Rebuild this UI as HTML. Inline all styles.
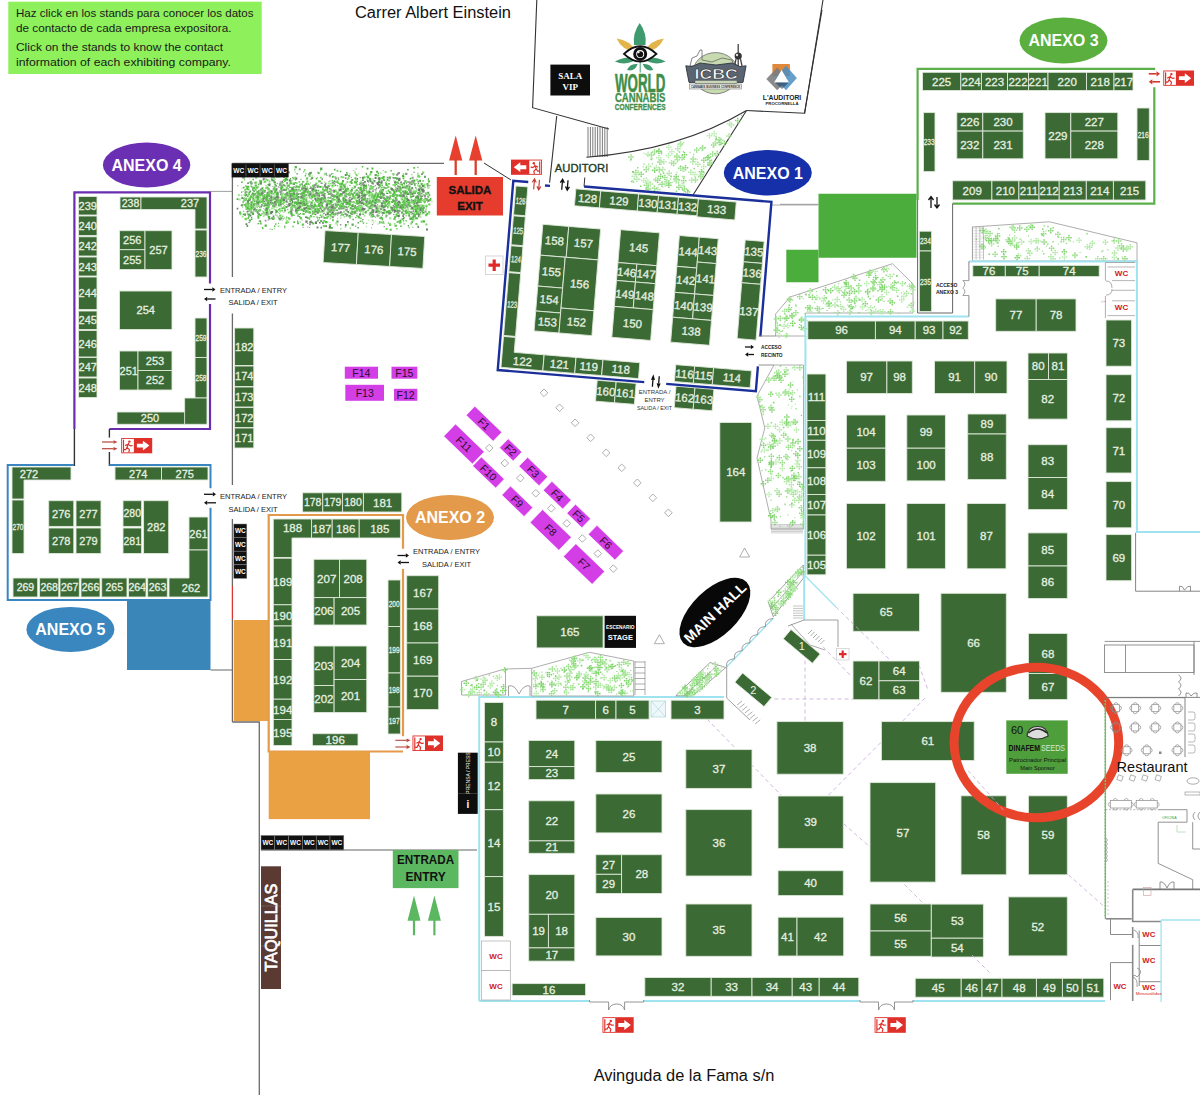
<!DOCTYPE html>
<html><head><meta charset="utf-8"><style>
html,body{margin:0;padding:0;background:#fff;width:1200px;height:1097px;overflow:hidden}
svg{display:block}
text{font-family:"Liberation Sans",sans-serif}
.n{fill:#e6f0e0;stroke:#e6f0e0;stroke-width:0.3;text-anchor:middle}
</style></head><body>
<svg width="1200" height="1097" viewBox="0 0 1200 1097">
<rect width="1200" height="1097" fill="#fff"/>
<rect x="8.3" y="1.7" width="253.4" height="72.3" fill="#8ef05a" stroke="none" stroke-width="1"/>
<text x="16.0" y="16.5" font-size="11.3" fill="#1a1a1a" text-anchor="start" font-weight="normal" textLength="237.5" lengthAdjust="spacingAndGlyphs">Haz click en los stands para conocer los datos</text>
<text x="16.0" y="31.8" font-size="11.3" fill="#1a1a1a" text-anchor="start" font-weight="normal" textLength="215.5" lengthAdjust="spacingAndGlyphs">de contacto de cada empresa expositora.</text>
<text x="16.0" y="51.0" font-size="11.3" fill="#1a1a1a" text-anchor="start" font-weight="normal" textLength="207" lengthAdjust="spacingAndGlyphs">Click on the stands to know the contact</text>
<text x="16.0" y="66.2" font-size="11.3" fill="#1a1a1a" text-anchor="start" font-weight="normal" textLength="215" lengthAdjust="spacingAndGlyphs">information of each exhibiting company.</text>
<text x="433.0" y="17.5" font-size="16" fill="#111" text-anchor="middle" font-weight="normal" textLength="156" lengthAdjust="spacingAndGlyphs">Carrer Albert Einstein</text>
<text x="684.0" y="1080.5" font-size="16" fill="#111" text-anchor="middle" font-weight="normal" textLength="180.7" lengthAdjust="spacingAndGlyphs">Avinguda de la Fama s/n</text>
<g><ellipse cx="146.6" cy="165" rx="43.7" ry="22.5" fill="#6b2fb3"/>
<text x="146.6" y="170.8" font-size="16" fill="#fff" text-anchor="middle" font-weight="bold">ANEXO 4</text></g>
<polyline points="74.4,429.0 74.4,192.4 210.0,192.4 210.0,283.5" fill="none" stroke="#6a2db0" stroke-width="2.2"/>
<polyline points="210.0,304.0 210.0,429.0 109.4,429.0" fill="none" stroke="#6a2db0" stroke-width="2.2"/>
<line x1="74.4" y1="429.0" x2="74.4" y2="466.0" stroke="#333" stroke-width="1.4"/>
<line x1="109.4" y1="429.0" x2="109.4" y2="437.6" stroke="#333" stroke-width="1.4"/>
<line x1="109.4" y1="452.0" x2="109.4" y2="466.0" stroke="#333" stroke-width="1.4"/>
<rect x="78.5" y="196.5" width="18.5" height="18.5" fill="#3b6a35" stroke="#dfe8da" stroke-width="0.9"/>
<text class="n" x="87.8" y="209.7" font-size="11">239</text>
<rect x="78.5" y="216.0" width="18.5" height="19.5" fill="#3b6a35" stroke="#dfe8da" stroke-width="0.9"/>
<text class="n" x="87.8" y="229.7" font-size="11">240</text>
<rect x="78.5" y="236.8" width="18.5" height="19.2" fill="#3b6a35" stroke="#dfe8da" stroke-width="0.9"/>
<text class="n" x="87.8" y="250.4" font-size="11">242</text>
<rect x="78.5" y="257.0" width="18.5" height="19.0" fill="#3b6a35" stroke="#dfe8da" stroke-width="0.9"/>
<text class="n" x="87.8" y="270.5" font-size="11">243</text>
<rect x="78.5" y="277.0" width="18.5" height="32.5" fill="#3b6a35" stroke="#dfe8da" stroke-width="0.9"/>
<text class="n" x="87.8" y="297.2" font-size="11">244</text>
<rect x="78.5" y="311.0" width="18.5" height="18.5" fill="#3b6a35" stroke="#dfe8da" stroke-width="0.9"/>
<text class="n" x="87.8" y="324.2" font-size="11">245</text>
<rect x="78.5" y="330.5" width="18.5" height="26.5" fill="#3b6a35" stroke="#dfe8da" stroke-width="0.9"/>
<text class="n" x="87.8" y="347.7" font-size="11">246</text>
<rect x="78.5" y="357.5" width="18.5" height="19.5" fill="#3b6a35" stroke="#dfe8da" stroke-width="0.9"/>
<text class="n" x="87.8" y="371.2" font-size="11">247</text>
<rect x="78.5" y="378.0" width="18.5" height="19.5" fill="#3b6a35" stroke="#dfe8da" stroke-width="0.9"/>
<text class="n" x="87.8" y="391.7" font-size="11">248</text>
<rect x="120.0" y="197.0" width="21.0" height="12.5" fill="#3b6a35" stroke="#dfe8da" stroke-width="0.9"/>
<text class="n" x="130.5" y="207.0" font-size="10.5">238</text>
<polygon points="141.0,197.0 207.0,197.0 207.0,229.0 195.0,229.0 195.0,209.5 141.0,209.5" fill="#3b6a35" stroke="#dfe8da" stroke-width="0.9"/>
<text class="n" x="190" y="207.3" font-size="11">237</text>
<rect x="195.0" y="230.0" width="12.0" height="47.0" fill="#3b6a35" stroke="#dfe8da" stroke-width="0.9"/>
<text class="n" x="201.0" y="256.6" font-size="8.5" textLength="11" lengthAdjust="spacingAndGlyphs">236</text>
<rect x="119.5" y="230.7" width="25.5" height="19.0" fill="#3b6a35" stroke="#dfe8da" stroke-width="0.9"/>
<text class="n" x="132.2" y="244.2" font-size="11">256</text>
<rect x="119.5" y="249.7" width="25.5" height="19.8" fill="#3b6a35" stroke="#dfe8da" stroke-width="0.9"/>
<text class="n" x="132.2" y="263.6" font-size="11">255</text>
<rect x="145.0" y="230.7" width="27.0" height="38.8" fill="#3b6a35" stroke="#dfe8da" stroke-width="0.9"/>
<text class="n" x="158.5" y="254.1" font-size="11">257</text>
<rect x="119.5" y="291.0" width="52.5" height="38.5" fill="#3b6a35" stroke="#dfe8da" stroke-width="0.9"/>
<text class="n" x="145.8" y="314.2" font-size="11">254</text>
<rect x="119.5" y="351.0" width="18.5" height="39.0" fill="#3b6a35" stroke="#dfe8da" stroke-width="0.9"/>
<text class="n" x="128.8" y="374.5" font-size="11">251</text>
<rect x="138.0" y="351.0" width="34.0" height="19.5" fill="#3b6a35" stroke="#dfe8da" stroke-width="0.9"/>
<text class="n" x="155.0" y="364.7" font-size="11">253</text>
<rect x="138.0" y="370.5" width="34.0" height="19.5" fill="#3b6a35" stroke="#dfe8da" stroke-width="0.9"/>
<text class="n" x="155.0" y="384.2" font-size="11">252</text>
<rect x="195.0" y="318.0" width="12.0" height="39.5" fill="#3b6a35" stroke="#dfe8da" stroke-width="0.9"/>
<text class="n" x="201.0" y="340.8" font-size="8.5" textLength="11" lengthAdjust="spacingAndGlyphs">259</text>
<rect x="195.0" y="357.5" width="12.0" height="40.5" fill="#3b6a35" stroke="#dfe8da" stroke-width="0.9"/>
<text class="n" x="201.0" y="380.8" font-size="8.5" textLength="11" lengthAdjust="spacingAndGlyphs">258</text>
<polygon points="117.0,412.0 184.6,412.0 184.6,398.0 207.0,398.0 207.0,424.3 117.0,424.3" fill="#3b6a35" stroke="#dfe8da" stroke-width="0.9"/>
<line x1="184.6" y1="412.0" x2="184.6" y2="424.3" stroke="#dfe8da" stroke-width="0.9"/>
<text class="n" x="150" y="422" font-size="11">250</text>
<path d="M204.0 289.5H212.3" stroke="#111" stroke-width="1.3"/><path d="M215.5 289.5L212.3 287.2L212.3 291.8Z" fill="#111"/>
<path d="M215.5 299.0H207.2" stroke="#111" stroke-width="1.3"/><path d="M204.0 299.0L207.2 296.7L207.2 301.3Z" fill="#111"/>
<text x="220.0" y="293.0" font-size="7.5" fill="#222" text-anchor="start" font-weight="normal">ENTRADA / ENTRY</text>
<text x="228.5" y="305.0" font-size="7.5" fill="#222" text-anchor="start" font-weight="normal">SALIDA / EXIT</text>
<rect x="234.6" y="328.0" width="19.2" height="37.5" fill="#3b6a35" stroke="#dfe8da" stroke-width="0.9"/>
<text class="n" x="244.2" y="350.7" font-size="11">182</text>
<rect x="234.6" y="366.0" width="19.2" height="20.5" fill="#3b6a35" stroke="#dfe8da" stroke-width="0.9"/>
<text class="n" x="244.2" y="380.2" font-size="11">174</text>
<rect x="234.6" y="387.0" width="19.2" height="20.0" fill="#3b6a35" stroke="#dfe8da" stroke-width="0.9"/>
<text class="n" x="244.2" y="401.0" font-size="11">173</text>
<rect x="234.6" y="407.6" width="19.2" height="19.9" fill="#3b6a35" stroke="#dfe8da" stroke-width="0.9"/>
<text class="n" x="244.2" y="421.5" font-size="11">172</text>
<rect x="234.6" y="428.0" width="19.2" height="20.0" fill="#3b6a35" stroke="#dfe8da" stroke-width="0.9"/>
<text class="n" x="244.2" y="442.0" font-size="11">171</text>
<rect x="121.2" y="438.0" width="31.0" height="15.3" fill="#e0302a" stroke="none" stroke-width="1"/>
<rect x="122.1" y="438.9" width="11.8" height="13.5" fill="#fff" stroke="none" stroke-width="1"/>
<path d="M123.5 440.2L123.5 451.7M128.6 443.2L127.0 447.3L129.4 449.7L128.9 452.0M127.0 447.3L125.6 449.7L123.9 449.7M128.0 444.3L125.6 445.4M128.0 444.3L130.6 445.9L132.1 445.6" stroke="#e0302a" stroke-width="1.2" fill="none" stroke-linecap="round"/>
<circle cx="129.4" cy="441.6" r="1.2" fill="#e0302a"/>
<path d="M136.9 443.7H142.9V440.8L149.4 445.6L142.9 450.5V447.6H136.9Z" fill="#fff"/>
<path d="M102.0 442.0H113.5" stroke="#b8453a" stroke-width="1.2"/><path d="M117.5 442.0L113.5 440.2L113.5 443.8Z" fill="#b8453a"/>
<path d="M102.0 448.7H113.5" stroke="#b8453a" stroke-width="1.2"/><path d="M117.5 448.7L113.5 446.9L113.5 450.5Z" fill="#b8453a"/>
<polyline points="74.0,465.0 7.7,465.0 7.7,600.0 210.5,600.0 210.5,507.7" fill="none" stroke="#3a86c0" stroke-width="2"/>
<polyline points="109.4,465.0 210.5,465.0 210.5,488.3" fill="none" stroke="#3a86c0" stroke-width="2"/>
<polygon points="12.0,467.0 71.0,467.0 71.0,480.0 24.0,480.0 24.0,499.0 12.0,499.0" fill="#3b6a35" stroke="#dfe8da" stroke-width="0.9"/>
<text class="n" x="29" y="477.5" font-size="11">272</text>
<rect x="12.0" y="500.0" width="12.0" height="53.5" fill="#3b6a35" stroke="#dfe8da" stroke-width="0.9"/>
<text class="n" x="18.0" y="529.8" font-size="8.5" textLength="11" lengthAdjust="spacingAndGlyphs">270</text>
<rect x="115.0" y="467.0" width="46.5" height="13.0" fill="#3b6a35" stroke="#dfe8da" stroke-width="0.9"/>
<text class="n" x="138.2" y="477.5" font-size="11">274</text>
<rect x="161.5" y="467.0" width="46.5" height="13.0" fill="#3b6a35" stroke="#dfe8da" stroke-width="0.9"/>
<text class="n" x="184.8" y="477.5" font-size="11">275</text>
<rect x="48.7" y="500.7" width="25.1" height="25.7" fill="#3b6a35" stroke="#dfe8da" stroke-width="0.9"/>
<text class="n" x="61.2" y="517.5" font-size="11">276</text>
<rect x="76.0" y="500.7" width="25.0" height="25.7" fill="#3b6a35" stroke="#dfe8da" stroke-width="0.9"/>
<text class="n" x="88.5" y="517.5" font-size="11">277</text>
<rect x="48.7" y="528.0" width="25.1" height="25.5" fill="#3b6a35" stroke="#dfe8da" stroke-width="0.9"/>
<text class="n" x="61.2" y="544.7" font-size="11">278</text>
<rect x="76.0" y="528.0" width="25.0" height="25.5" fill="#3b6a35" stroke="#dfe8da" stroke-width="0.9"/>
<text class="n" x="88.5" y="544.7" font-size="11">279</text>
<rect x="123.0" y="500.7" width="18.6" height="25.7" fill="#3b6a35" stroke="#dfe8da" stroke-width="0.9"/>
<text class="n" x="132.3" y="517.3" font-size="10.5">280</text>
<rect x="123.0" y="528.0" width="18.6" height="25.5" fill="#3b6a35" stroke="#dfe8da" stroke-width="0.9"/>
<text class="n" x="132.3" y="544.5" font-size="10.5">281</text>
<rect x="143.6" y="500.7" width="25.1" height="52.8" fill="#3b6a35" stroke="#dfe8da" stroke-width="0.9"/>
<text class="n" x="156.2" y="531.1" font-size="11">282</text>
<rect x="189.0" y="517.0" width="19.0" height="33.0" fill="#3b6a35" stroke="#dfe8da" stroke-width="0.9"/>
<text class="n" x="198.5" y="537.5" font-size="11">261</text>
<polygon points="189.0,550.0 208.0,550.0 208.0,597.0 169.0,597.0 169.0,578.0 189.0,578.0" fill="#3b6a35" stroke="#dfe8da" stroke-width="0.9"/>
<text class="n" x="191" y="592" font-size="11">262</text>
<rect x="13.0" y="578.0" width="24.7" height="19.0" fill="#3b6a35" stroke="#dfe8da" stroke-width="0.9"/>
<text class="n" x="25.4" y="591.3" font-size="10.5">269</text>
<rect x="39.6" y="578.0" width="19.2" height="19.0" fill="#3b6a35" stroke="#dfe8da" stroke-width="0.9"/>
<text class="n" x="49.2" y="591.3" font-size="10.5">268</text>
<rect x="60.0" y="578.0" width="19.3" height="19.0" fill="#3b6a35" stroke="#dfe8da" stroke-width="0.9"/>
<text class="n" x="69.7" y="591.3" font-size="10.5">267</text>
<rect x="81.0" y="578.0" width="19.0" height="19.0" fill="#3b6a35" stroke="#dfe8da" stroke-width="0.9"/>
<text class="n" x="90.5" y="591.3" font-size="10.5">266</text>
<rect x="101.7" y="578.0" width="25.3" height="19.0" fill="#3b6a35" stroke="#dfe8da" stroke-width="0.9"/>
<text class="n" x="114.3" y="591.3" font-size="10.5">265</text>
<rect x="128.5" y="578.0" width="17.5" height="19.0" fill="#3b6a35" stroke="#dfe8da" stroke-width="0.9"/>
<text class="n" x="137.2" y="591.3" font-size="10.5">264</text>
<rect x="147.7" y="578.0" width="19.6" height="19.0" fill="#3b6a35" stroke="#dfe8da" stroke-width="0.9"/>
<text class="n" x="157.5" y="591.3" font-size="10.5">263</text>
<path d="M204.0 494.3H212.8" stroke="#111" stroke-width="1.3"/><path d="M216.0 494.3L212.8 492.0L212.8 496.6Z" fill="#111"/>
<path d="M216.0 502.8H207.2" stroke="#111" stroke-width="1.3"/><path d="M204.0 502.8L207.2 500.5L207.2 505.1Z" fill="#111"/>
<text x="220.0" y="499.0" font-size="7.5" fill="#222" text-anchor="start" font-weight="normal">ENTRADA / ENTRY</text>
<text x="228.5" y="511.5" font-size="7.5" fill="#222" text-anchor="start" font-weight="normal">SALIDA / EXIT</text>
<rect x="127.0" y="600.0" width="83.5" height="70.0" fill="#3a86b8" stroke="none" stroke-width="1"/>
<g><ellipse cx="70.4" cy="629.4" rx="44" ry="22.5" fill="#3a86bf"/>
<text x="70.4" y="635.2" font-size="16" fill="#fff" text-anchor="middle" font-weight="bold">ANEXO 5</text></g>
<line x1="210.5" y1="670.0" x2="232.5" y2="670.0" stroke="#666" stroke-width="1"/>
<line x1="232.4" y1="163.3" x2="444.0" y2="163.3" stroke="#6a6a6a" stroke-width="1.3"/>
<line x1="232.4" y1="163.3" x2="232.4" y2="277.0" stroke="#6a6a6a" stroke-width="1.3"/>
<line x1="232.4" y1="313.5" x2="232.4" y2="485.0" stroke="#6a6a6a" stroke-width="1.3"/>
<line x1="232.4" y1="519.0" x2="232.4" y2="586.0" stroke="#6a6a6a" stroke-width="1.3"/>
<line x1="232.4" y1="586.0" x2="232.4" y2="619.0" stroke="#d33" stroke-width="1.3"/>
<line x1="232.4" y1="619.0" x2="232.4" y2="722.0" stroke="#6a6a6a" stroke-width="1.3"/>
<polyline points="232.4,722.0 259.3,722.0 259.3,1095.0" fill="none" stroke="#6a6a6a" stroke-width="1.3"/>
<line x1="210.0" y1="191.4" x2="232.4" y2="191.4" stroke="#888" stroke-width="0.8"/>
<path fill="#58a858" d="M268.3 191.4h2.1v2.1h-2.1zM417.9 182.8h1.1v1.1h-1.1zM366.4 202.6h2.1v2.1h-2.1zM311.8 203.5h0.9v0.9h-0.9zM382.2 213.5h1.0v1.0h-1.0zM263.4 181.9h0.9v0.9h-0.9zM408.8 187.4h1.3v1.3h-1.3zM250.9 218.5h1.6v1.6h-1.6zM421.6 208.2h1.6v1.6h-1.6zM334.2 214.6h1.2v1.2h-1.2zM397.5 209.7h2.1v2.1h-2.1zM333.5 182.7h1.6v1.6h-1.6zM308.2 173.2h2.0v2.0h-2.0zM312.5 189.1h2.2v2.2h-2.2zM397.3 204.2h2.0v2.0h-2.0zM388.4 205.0h1.2v1.2h-1.2zM360.6 190.3h1.8v1.8h-1.8zM322.1 200.7h2.1v2.1h-2.1zM370.7 207.7h1.0v1.0h-1.0zM315.2 189.4h1.2v1.2h-1.2zM258.0 213.2h2.2v2.2h-2.2zM387.6 199.7h1.2v1.2h-1.2zM252.4 178.7h1.5v1.5h-1.5zM371.8 199.7h2.3v2.3h-2.3zM408.6 190.1h1.0v1.0h-1.0zM351.6 179.1h1.6v1.6h-1.6zM264.6 209.3h1.1v1.1h-1.1zM325.4 186.3h2.0v2.0h-2.0zM400.8 193.0h0.9v0.9h-0.9zM357.1 201.5h1.2v1.2h-1.2zM392.3 194.1h1.9v1.9h-1.9zM329.0 200.0h2.3v2.3h-2.3zM366.4 199.5h1.9v1.9h-1.9zM307.8 191.5h1.3v1.3h-1.3zM336.4 220.6h2.1v2.1h-2.1zM275.9 186.2h0.9v0.9h-0.9zM330.7 212.0h2.1v2.1h-2.1zM272.2 205.0h2.2v2.2h-2.2zM353.6 192.1h1.7v1.7h-1.7zM392.5 177.0h1.4v1.4h-1.4zM294.8 196.9h0.9v0.9h-0.9zM378.0 180.8h2.2v2.2h-2.2zM398.0 201.0h1.1v1.1h-1.1zM267.9 170.5h1.2v1.2h-1.2zM415.0 197.0h1.6v1.6h-1.6zM265.6 203.5h2.3v2.3h-2.3zM402.5 191.3h1.2v1.2h-1.2zM321.6 178.4h1.5v1.5h-1.5zM411.4 192.3h1.4v1.4h-1.4zM411.2 211.3h1.4v1.4h-1.4zM247.7 209.6h2.2v2.2h-2.2zM381.8 189.0h2.3v2.3h-2.3zM408.2 210.7h1.7v1.7h-1.7zM271.3 179.1h2.2v2.2h-2.2zM393.4 177.2h1.6v1.6h-1.6zM348.3 202.6h2.0v2.0h-2.0zM424.4 197.6h1.7v1.7h-1.7zM289.1 195.3h1.1v1.1h-1.1zM349.3 193.6h1.3v1.3h-1.3zM372.3 195.0h1.7v1.7h-1.7zM280.2 204.2h1.3v1.3h-1.3zM346.1 172.0h1.5v1.5h-1.5zM285.2 193.0h2.3v2.3h-2.3zM333.2 196.0h2.1v2.1h-2.1zM251.9 211.9h1.8v1.8h-1.8zM276.8 183.1h1.0v1.0h-1.0zM309.7 204.9h2.1v2.1h-2.1zM266.4 205.3h1.1v1.1h-1.1zM307.7 206.7h1.5v1.5h-1.5zM244.9 194.9h1.1v1.1h-1.1zM284.1 209.4h2.0v2.0h-2.0zM418.2 207.0h1.8v1.8h-1.8zM419.9 207.3h2.2v2.2h-2.2zM340.0 205.2h2.2v2.2h-2.2zM344.9 224.1h1.9v1.9h-1.9zM273.3 202.7h1.9v1.9h-1.9zM377.7 212.7h1.0v1.0h-1.0zM411.5 187.1h1.7v1.7h-1.7zM380.6 177.2h1.6v1.6h-1.6zM342.9 183.9h2.2v2.2h-2.2zM275.5 210.6h2.2v2.2h-2.2zM312.1 210.4h2.0v2.0h-2.0zM404.6 186.8h2.1v2.1h-2.1zM313.9 189.3h2.2v2.2h-2.2zM420.0 200.9h1.9v1.9h-1.9zM371.5 210.5h2.1v2.1h-2.1zM260.1 190.6h1.2v1.2h-1.2zM253.5 190.7h1.4v1.4h-1.4zM415.9 188.6h1.0v1.0h-1.0zM246.9 200.2h2.1v2.1h-2.1zM290.5 212.8h2.2v2.2h-2.2zM428.2 178.0h1.0v1.0h-1.0zM331.5 198.2h2.2v2.2h-2.2zM381.6 184.6h1.3v1.3h-1.3zM344.8 188.9h2.2v2.2h-2.2zM338.5 200.4h2.0v2.0h-2.0zM276.3 176.6h1.2v1.2h-1.2zM357.5 221.9h1.5v1.5h-1.5zM409.7 203.7h1.0v1.0h-1.0zM419.5 196.2h1.1v1.1h-1.1zM277.0 196.7h1.4v1.4h-1.4zM262.3 192.0h1.7v1.7h-1.7zM253.6 200.2h1.9v1.9h-1.9zM409.6 178.0h1.6v1.6h-1.6zM375.3 202.0h1.4v1.4h-1.4zM361.1 194.9h1.0v1.0h-1.0zM297.7 196.0h2.0v2.0h-2.0zM329.6 197.1h1.6v1.6h-1.6zM389.9 197.6h1.3v1.3h-1.3zM374.6 173.9h2.3v2.3h-2.3zM241.3 197.0h1.9v1.9h-1.9zM252.9 196.3h1.3v1.3h-1.3zM336.6 212.4h2.1v2.1h-2.1zM364.3 199.4h1.7v1.7h-1.7zM385.2 204.6h2.3v2.3h-2.3zM287.3 168.5h1.0v1.0h-1.0zM296.8 200.2h2.1v2.1h-2.1zM296.5 197.8h2.0v2.0h-2.0zM350.4 180.7h1.5v1.5h-1.5zM402.1 175.2h2.1v2.1h-2.1zM249.5 181.3h1.5v1.5h-1.5zM368.5 207.3h1.6v1.6h-1.6zM320.4 226.8h1.6v1.6h-1.6zM392.5 195.2h2.1v2.1h-2.1zM409.7 178.0h1.2v1.2h-1.2zM369.8 185.2h2.0v2.0h-2.0zM375.3 202.7h1.2v1.2h-1.2zM289.2 193.0h2.3v2.3h-2.3zM327.6 208.2h1.7v1.7h-1.7zM284.1 225.7h1.3v1.3h-1.3zM257.6 197.0h1.0v1.0h-1.0zM361.2 184.8h1.2v1.2h-1.2zM395.2 198.9h2.0v2.0h-2.0zM358.3 193.3h1.2v1.2h-1.2zM374.2 200.5h1.1v1.1h-1.1zM318.8 203.2h1.2v1.2h-1.2zM281.9 193.0h1.7v1.7h-1.7zM410.9 213.3h0.9v0.9h-0.9zM348.5 215.0h2.3v2.3h-2.3zM250.2 214.5h1.2v1.2h-1.2zM387.2 197.9h1.1v1.1h-1.1zM287.9 188.6h1.0v1.0h-1.0zM247.2 201.8h1.1v1.1h-1.1zM423.3 220.2h0.9v0.9h-0.9zM413.4 220.5h1.1v1.1h-1.1zM371.5 213.8h2.1v2.1h-2.1zM404.4 191.5h1.6v1.6h-1.6zM286.1 194.9h1.4v1.4h-1.4zM423.8 195.0h2.1v2.1h-2.1zM413.4 190.5h1.1v1.1h-1.1zM316.7 201.9h1.1v1.1h-1.1zM412.2 195.3h0.9v0.9h-0.9zM276.8 196.2h1.5v1.5h-1.5zM412.7 216.7h1.8v1.8h-1.8zM248.6 213.8h1.1v1.1h-1.1zM348.8 193.5h2.3v2.3h-2.3zM279.8 191.2h1.1v1.1h-1.1zM260.4 214.6h1.2v1.2h-1.2zM403.7 216.9h1.3v1.3h-1.3zM280.7 197.5h1.6v1.6h-1.6zM290.9 199.1h1.4v1.4h-1.4zM299.7 185.3h1.0v1.0h-1.0zM424.7 199.0h1.5v1.5h-1.5zM239.0 211.7h1.8v1.8h-1.8zM418.8 179.7h2.2v2.2h-2.2zM276.1 201.9h1.1v1.1h-1.1zM247.4 202.9h1.8v1.8h-1.8zM400.1 219.5h1.4v1.4h-1.4zM268.9 189.6h1.3v1.3h-1.3zM338.5 208.1h1.5v1.5h-1.5zM269.6 228.6h0.9v0.9h-0.9zM308.2 208.0h1.9v1.9h-1.9zM411.7 216.6h2.3v2.3h-2.3zM365.7 210.7h1.3v1.3h-1.3zM268.1 218.4h1.2v1.2h-1.2zM395.9 214.7h2.1v2.1h-2.1zM264.6 197.5h1.1v1.1h-1.1zM424.0 175.8h2.0v2.0h-2.0zM402.2 190.5h1.9v1.9h-1.9zM368.1 191.6h1.7v1.7h-1.7zM253.3 190.2h1.3v1.3h-1.3zM262.5 189.5h1.5v1.5h-1.5zM247.0 201.0h1.7v1.7h-1.7zM287.7 191.4h2.0v2.0h-2.0zM297.3 215.2h1.6v1.6h-1.6zM243.8 213.6h2.2v2.2h-2.2zM292.4 189.8h1.0v1.0h-1.0zM336.5 194.9h1.5v1.5h-1.5zM271.0 202.4h1.8v1.8h-1.8zM363.9 195.3h2.1v2.1h-2.1zM398.4 194.4h2.2v2.2h-2.2zM287.3 192.8h1.2v1.2h-1.2zM244.6 198.3h2.1v2.1h-2.1zM274.0 190.5h1.6v1.6h-1.6zM314.8 187.2h1.1v1.1h-1.1zM279.0 190.5h1.0v1.0h-1.0zM296.7 209.1h2.2v2.2h-2.2zM408.8 200.0h1.5v1.5h-1.5zM407.7 225.1h1.3v1.3h-1.3zM350.9 179.6h0.9v0.9h-0.9zM273.3 188.4h1.8v1.8h-1.8zM295.6 188.8h1.9v1.9h-1.9zM394.8 188.9h1.1v1.1h-1.1zM342.1 180.0h1.9v1.9h-1.9zM300.8 192.5h1.9v1.9h-1.9zM263.7 191.2h1.5v1.5h-1.5zM373.1 215.4h1.7v1.7h-1.7zM362.8 190.1h1.4v1.4h-1.4zM312.8 207.4h1.4v1.4h-1.4zM273.7 181.4h2.2v2.2h-2.2zM276.9 192.3h1.5v1.5h-1.5zM278.9 204.6h1.2v1.2h-1.2zM285.9 216.6h1.3v1.3h-1.3zM270.8 178.5h1.3v1.3h-1.3zM303.4 207.4h1.7v1.7h-1.7zM361.6 209.2h2.1v2.1h-2.1zM370.2 201.6h1.8v1.8h-1.8zM365.9 200.7h1.9v1.9h-1.9zM282.5 189.5h1.5v1.5h-1.5zM379.5 191.3h1.8v1.8h-1.8zM286.5 194.2h2.0v2.0h-2.0zM274.9 188.7h2.3v2.3h-2.3zM267.3 213.1h1.0v1.0h-1.0zM387.3 197.1h1.2v1.2h-1.2zM388.9 191.5h1.2v1.2h-1.2zM310.0 215.1h1.4v1.4h-1.4zM275.7 196.4h1.0v1.0h-1.0zM266.8 179.5h1.5v1.5h-1.5zM244.5 198.7h1.4v1.4h-1.4zM388.1 205.2h1.4v1.4h-1.4zM381.2 186.8h1.3v1.3h-1.3zM383.8 205.3h2.2v2.2h-2.2zM355.8 201.3h2.0v2.0h-2.0zM322.6 201.4h1.2v1.2h-1.2zM414.0 184.8h1.3v1.3h-1.3zM342.3 191.6h1.8v1.8h-1.8zM313.9 205.4h1.9v1.9h-1.9zM270.9 196.8h1.7v1.7h-1.7zM329.7 204.6h1.0v1.0h-1.0zM242.5 201.3h1.5v1.5h-1.5zM366.9 180.1h1.9v1.9h-1.9zM329.0 191.0h1.3v1.3h-1.3zM416.1 199.6h1.7v1.7h-1.7zM308.4 211.3h2.2v2.2h-2.2zM400.7 196.1h2.3v2.3h-2.3zM279.0 183.5h2.2v2.2h-2.2zM308.3 194.8h1.3v1.3h-1.3zM320.2 220.0h1.9v1.9h-1.9zM382.7 221.2h1.5v1.5h-1.5zM282.4 203.0h1.2v1.2h-1.2zM340.9 195.3h0.9v0.9h-0.9zM318.5 219.2h1.0v1.0h-1.0zM293.9 195.1h1.0v1.0h-1.0zM303.1 200.0h0.9v0.9h-0.9zM308.8 175.3h1.8v1.8h-1.8zM351.5 223.5h2.2v2.2h-2.2zM377.6 172.6h1.5v1.5h-1.5zM290.8 206.9h1.3v1.3h-1.3zM332.7 204.3h1.2v1.2h-1.2zM327.6 211.4h1.6v1.6h-1.6zM333.4 180.2h1.9v1.9h-1.9zM249.4 190.6h1.7v1.7h-1.7zM288.0 217.9h1.2v1.2h-1.2zM244.0 199.3h1.6v1.6h-1.6zM304.8 195.4h1.0v1.0h-1.0zM250.3 205.2h1.4v1.4h-1.4zM414.8 208.7h1.2v1.2h-1.2zM326.8 211.9h1.7v1.7h-1.7zM375.1 189.2h1.1v1.1h-1.1zM246.4 206.7h2.2v2.2h-2.2zM265.6 172.3h1.7v1.7h-1.7zM378.5 178.4h2.1v2.1h-2.1zM269.5 210.9h0.9v0.9h-0.9zM302.1 187.1h1.0v1.0h-1.0zM341.1 202.5h1.8v1.8h-1.8zM372.7 197.2h2.0v2.0h-2.0zM254.4 192.7h1.0v1.0h-1.0zM343.6 200.2h2.0v2.0h-2.0zM370.7 201.2h1.1v1.1h-1.1zM354.3 210.5h1.7v1.7h-1.7zM412.3 226.8h1.0v1.0h-1.0zM373.6 201.7h2.0v2.0h-2.0zM418.2 207.8h1.3v1.3h-1.3zM316.8 197.6h1.5v1.5h-1.5zM383.8 202.1h2.0v2.0h-2.0zM345.3 200.3h2.3v2.3h-2.3zM352.4 218.7h1.5v1.5h-1.5zM403.0 209.9h1.4v1.4h-1.4zM259.3 206.9h1.1v1.1h-1.1zM348.8 192.3h1.3v1.3h-1.3zM268.4 203.8h2.0v2.0h-2.0zM369.5 206.1h1.2v1.2h-1.2zM398.5 185.9h2.3v2.3h-2.3zM278.1 203.8h1.6v1.6h-1.6zM361.7 192.9h1.9v1.9h-1.9zM257.1 191.2h2.0v2.0h-2.0zM282.8 184.2h1.3v1.3h-1.3zM333.6 208.7h2.3v2.3h-2.3zM399.5 191.5h1.4v1.4h-1.4zM279.5 186.8h1.1v1.1h-1.1zM418.2 194.4h1.0v1.0h-1.0zM427.1 191.8h2.1v2.1h-2.1zM282.5 181.8h1.1v1.1h-1.1zM317.1 177.2h0.9v0.9h-0.9zM243.1 176.6h1.8v1.8h-1.8zM320.1 167.6h2.3v2.3h-2.3zM411.3 221.2h1.7v1.7h-1.7zM409.4 217.6h2.3v2.3h-2.3zM344.3 195.8h1.3v1.3h-1.3zM365.7 202.0h1.0v1.0h-1.0zM317.0 208.2h1.7v1.7h-1.7zM260.5 180.3h1.6v1.6h-1.6zM366.7 201.8h1.3v1.3h-1.3zM405.8 197.6h2.3v2.3h-2.3zM306.8 217.2h1.6v1.6h-1.6zM266.5 187.1h1.9v1.9h-1.9zM242.7 213.6h1.5v1.5h-1.5zM299.3 189.9h1.6v1.6h-1.6zM275.2 212.3h1.3v1.3h-1.3zM278.0 222.7h1.1v1.1h-1.1zM315.9 210.3h1.4v1.4h-1.4zM307.6 183.2h1.3v1.3h-1.3zM364.0 198.7h1.4v1.4h-1.4zM388.3 201.6h1.3v1.3h-1.3zM320.7 216.2h1.5v1.5h-1.5zM250.3 203.8h2.2v2.2h-2.2zM355.1 225.5h1.2v1.2h-1.2zM331.0 227.0h1.8v1.8h-1.8zM323.8 221.3h1.0v1.0h-1.0zM305.9 216.6h1.7v1.7h-1.7zM369.5 211.9h2.2v2.2h-2.2zM324.5 172.7h2.3v2.3h-2.3zM359.3 182.4h1.3v1.3h-1.3zM403.1 182.2h2.0v2.0h-2.0zM407.1 168.9h1.6v1.6h-1.6zM380.9 181.7h1.8v1.8h-1.8zM256.5 190.9h1.8v1.8h-1.8zM312.9 205.7h2.0v2.0h-2.0zM366.1 205.1h1.6v1.6h-1.6zM408.2 185.5h2.3v2.3h-2.3zM346.6 187.9h1.5v1.5h-1.5zM323.3 216.2h1.0v1.0h-1.0zM412.7 191.6h1.8v1.8h-1.8zM362.0 179.3h1.8v1.8h-1.8zM262.3 210.7h1.0v1.0h-1.0zM251.9 192.4h2.0v2.0h-2.0zM371.7 200.8h1.7v1.7h-1.7zM241.6 187.7h0.9v0.9h-0.9zM386.7 179.0h1.7v1.7h-1.7zM241.0 191.4h1.3v1.3h-1.3zM425.3 192.5h1.2v1.2h-1.2zM332.0 198.0h1.1v1.1h-1.1zM272.3 210.7h0.9v0.9h-0.9zM414.6 207.3h1.1v1.1h-1.1zM340.5 215.1h1.1v1.1h-1.1zM360.4 187.0h1.4v1.4h-1.4zM344.4 206.3h1.6v1.6h-1.6zM317.8 172.2h1.8v1.8h-1.8zM336.4 202.6h2.0v2.0h-2.0zM291.5 187.2h1.1v1.1h-1.1zM249.4 203.2h1.1v1.1h-1.1zM327.4 200.1h2.2v2.2h-2.2zM382.0 204.8h1.6v1.6h-1.6zM382.7 200.1h1.0v1.0h-1.0zM354.7 205.1h1.3v1.3h-1.3zM336.1 209.4h1.7v1.7h-1.7zM332.7 209.5h2.0v2.0h-2.0zM307.5 193.2h2.2v2.2h-2.2zM279.9 193.5h1.8v1.8h-1.8zM312.6 187.0h1.9v1.9h-1.9zM396.0 177.5h2.2v2.2h-2.2zM403.9 201.4h1.3v1.3h-1.3zM331.9 208.9h2.0v2.0h-2.0zM333.9 168.8h1.6v1.6h-1.6zM350.7 189.9h1.9v1.9h-1.9zM396.2 194.4h2.0v2.0h-2.0zM392.6 205.0h1.6v1.6h-1.6zM413.0 201.1h1.7v1.7h-1.7zM285.3 189.0h1.8v1.8h-1.8zM355.8 189.2h1.9v1.9h-1.9zM405.4 190.5h1.3v1.3h-1.3zM422.8 207.1h1.7v1.7h-1.7zM345.6 215.6h1.1v1.1h-1.1zM246.9 199.9h1.8v1.8h-1.8zM357.4 227.1h1.5v1.5h-1.5zM275.0 204.1h1.6v1.6h-1.6zM404.5 206.8h1.7v1.7h-1.7zM393.1 214.0h1.2v1.2h-1.2zM394.4 201.0h1.9v1.9h-1.9zM313.0 185.9h1.2v1.2h-1.2zM359.6 182.2h2.2v2.2h-2.2zM332.9 191.1h1.5v1.5h-1.5zM252.1 189.2h1.5v1.5h-1.5zM299.8 221.5h0.9v0.9h-0.9zM374.6 193.3h1.8v1.8h-1.8zM405.5 198.2h2.2v2.2h-2.2zM280.3 217.2h2.1v2.1h-2.1zM353.2 197.1h2.0v2.0h-2.0zM386.1 192.5h1.6v1.6h-1.6zM382.9 197.5h1.8v1.8h-1.8zM330.9 194.6h2.1v2.1h-2.1zM377.0 193.5h1.9v1.9h-1.9zM324.8 198.9h1.6v1.6h-1.6zM399.5 204.1h2.0v2.0h-2.0zM355.5 168.4h1.1v1.1h-1.1zM347.2 189.9h1.6v1.6h-1.6zM256.4 211.1h2.0v2.0h-2.0zM409.8 211.3h1.7v1.7h-1.7zM419.4 212.0h1.7v1.7h-1.7zM261.0 189.0h1.2v1.2h-1.2zM250.3 182.4h2.1v2.1h-2.1zM330.7 210.6h2.0v2.0h-2.0zM374.9 216.8h1.0v1.0h-1.0zM255.8 204.5h1.0v1.0h-1.0zM355.4 202.8h1.2v1.2h-1.2zM258.2 193.7h1.8v1.8h-1.8zM302.0 194.6h1.7v1.7h-1.7zM248.8 219.5h2.1v2.1h-2.1zM247.7 213.6h2.2v2.2h-2.2zM421.3 205.9h1.5v1.5h-1.5z"/>
<path fill="#8edd7c" d="M319.9 210.8h1.9v1.9h-1.9zM369.9 186.0h1.5v1.5h-1.5zM299.9 202.4h2.1v2.1h-2.1zM273.2 189.7h1.4v1.4h-1.4zM321.0 194.6h1.3v1.3h-1.3zM351.5 187.1h1.5v1.5h-1.5zM300.2 205.4h1.8v1.8h-1.8zM376.6 205.3h2.0v2.0h-2.0zM366.9 193.9h0.9v0.9h-0.9zM245.6 202.9h1.7v1.7h-1.7zM382.4 195.5h1.1v1.1h-1.1zM327.1 189.9h1.3v1.3h-1.3zM329.5 221.9h0.9v0.9h-0.9zM294.0 168.8h1.6v1.6h-1.6zM425.1 198.8h1.1v1.1h-1.1zM397.4 189.0h1.6v1.6h-1.6zM261.1 189.3h1.0v1.0h-1.0zM378.9 212.8h1.3v1.3h-1.3zM280.6 207.3h2.3v2.3h-2.3zM337.1 202.0h1.8v1.8h-1.8zM392.4 183.9h1.8v1.8h-1.8zM336.7 197.4h2.1v2.1h-2.1zM256.2 205.4h1.1v1.1h-1.1zM410.5 188.0h1.3v1.3h-1.3zM426.6 198.2h1.6v1.6h-1.6zM399.4 183.2h2.2v2.2h-2.2zM414.8 185.3h1.2v1.2h-1.2zM396.8 188.0h2.0v2.0h-2.0zM370.4 188.8h1.1v1.1h-1.1zM323.0 207.3h1.1v1.1h-1.1zM341.7 183.5h1.0v1.0h-1.0zM288.7 183.3h1.8v1.8h-1.8zM417.1 172.8h1.5v1.5h-1.5zM262.4 195.5h2.2v2.2h-2.2zM331.9 213.7h1.5v1.5h-1.5zM249.6 213.0h0.9v0.9h-0.9zM416.7 196.0h1.8v1.8h-1.8zM388.4 203.3h2.1v2.1h-2.1zM288.4 218.0h2.2v2.2h-2.2zM306.7 209.3h2.0v2.0h-2.0zM302.9 170.9h1.7v1.7h-1.7zM410.3 208.1h1.8v1.8h-1.8zM275.8 199.6h1.5v1.5h-1.5zM298.3 187.1h1.3v1.3h-1.3zM371.6 197.7h2.0v2.0h-2.0zM249.9 205.2h1.6v1.6h-1.6zM353.0 169.9h1.2v1.2h-1.2zM329.7 188.6h1.8v1.8h-1.8zM244.7 203.9h2.1v2.1h-2.1zM329.3 214.1h2.3v2.3h-2.3zM411.2 174.0h1.3v1.3h-1.3zM406.5 186.9h1.4v1.4h-1.4zM359.7 202.8h1.1v1.1h-1.1zM312.4 189.6h1.2v1.2h-1.2zM322.6 206.8h2.0v2.0h-2.0zM382.2 208.9h1.9v1.9h-1.9zM351.5 216.1h1.0v1.0h-1.0zM275.2 202.9h1.7v1.7h-1.7zM293.0 198.6h1.2v1.2h-1.2zM330.4 215.6h0.9v0.9h-0.9zM293.6 189.5h2.0v2.0h-2.0zM346.3 199.6h1.9v1.9h-1.9zM364.2 208.0h1.6v1.6h-1.6zM353.1 201.5h1.9v1.9h-1.9zM333.4 196.9h1.1v1.1h-1.1zM300.6 195.1h1.0v1.0h-1.0zM285.9 190.4h1.1v1.1h-1.1zM284.4 175.7h1.0v1.0h-1.0zM300.8 197.5h1.5v1.5h-1.5zM369.7 188.1h1.6v1.6h-1.6zM266.9 214.5h1.7v1.7h-1.7zM253.1 187.6h1.7v1.7h-1.7zM349.5 202.0h1.4v1.4h-1.4zM407.7 202.9h1.6v1.6h-1.6zM296.7 195.0h1.4v1.4h-1.4zM353.1 195.6h1.5v1.5h-1.5zM315.7 208.6h2.2v2.2h-2.2zM321.6 206.7h1.5v1.5h-1.5zM332.6 183.0h1.7v1.7h-1.7zM324.8 214.0h1.5v1.5h-1.5zM272.0 168.0h1.8v1.8h-1.8zM325.9 216.5h1.5v1.5h-1.5zM377.1 207.6h2.2v2.2h-2.2zM260.1 183.2h1.4v1.4h-1.4zM287.8 197.9h2.2v2.2h-2.2zM404.2 204.7h2.2v2.2h-2.2zM349.3 201.0h1.9v1.9h-1.9zM395.8 211.1h1.4v1.4h-1.4zM299.9 199.9h1.1v1.1h-1.1zM360.5 207.1h1.9v1.9h-1.9zM292.6 188.4h1.4v1.4h-1.4zM313.6 211.1h2.0v2.0h-2.0zM301.7 186.1h2.0v2.0h-2.0zM417.1 184.4h2.2v2.2h-2.2zM273.1 204.8h1.7v1.7h-1.7zM311.7 197.1h1.2v1.2h-1.2zM398.8 190.2h2.1v2.1h-2.1zM281.1 193.6h1.4v1.4h-1.4zM302.3 185.9h1.0v1.0h-1.0zM411.7 182.2h2.1v2.1h-2.1zM321.9 211.0h1.1v1.1h-1.1zM357.6 198.2h1.1v1.1h-1.1zM404.3 186.8h1.7v1.7h-1.7zM376.2 187.1h1.1v1.1h-1.1zM401.0 203.9h1.3v1.3h-1.3zM409.1 181.0h1.4v1.4h-1.4zM279.2 191.6h1.5v1.5h-1.5zM253.9 198.8h1.5v1.5h-1.5zM291.8 190.2h1.6v1.6h-1.6zM287.4 204.6h2.3v2.3h-2.3zM261.1 204.5h1.9v1.9h-1.9zM341.5 212.1h1.1v1.1h-1.1zM338.3 189.1h1.4v1.4h-1.4zM328.2 209.0h1.9v1.9h-1.9zM253.3 186.7h2.0v2.0h-2.0zM341.7 180.7h1.9v1.9h-1.9zM329.7 215.4h1.9v1.9h-1.9zM332.2 205.7h1.8v1.8h-1.8zM252.8 211.3h1.5v1.5h-1.5zM341.9 205.7h1.9v1.9h-1.9zM400.5 194.0h2.0v2.0h-2.0zM373.9 200.2h1.2v1.2h-1.2zM301.3 189.0h1.9v1.9h-1.9zM372.0 193.1h1.3v1.3h-1.3zM296.6 208.2h1.9v1.9h-1.9zM267.3 200.7h2.1v2.1h-2.1zM410.7 201.2h1.7v1.7h-1.7zM408.4 226.7h1.5v1.5h-1.5zM346.5 181.1h2.0v2.0h-2.0zM382.6 209.2h1.4v1.4h-1.4zM272.8 202.4h0.9v0.9h-0.9zM290.5 205.9h1.7v1.7h-1.7zM320.3 216.9h1.1v1.1h-1.1zM358.1 193.3h2.1v2.1h-2.1zM421.6 212.6h1.9v1.9h-1.9zM259.4 189.1h1.6v1.6h-1.6zM372.1 194.7h1.3v1.3h-1.3zM320.1 202.1h2.2v2.2h-2.2zM322.4 186.4h1.7v1.7h-1.7zM362.5 205.5h1.2v1.2h-1.2zM299.7 203.4h1.7v1.7h-1.7zM269.2 190.0h1.6v1.6h-1.6zM297.1 201.3h1.8v1.8h-1.8zM285.5 187.3h1.6v1.6h-1.6zM291.1 199.1h1.7v1.7h-1.7zM368.2 219.7h0.9v0.9h-0.9zM318.7 195.6h1.4v1.4h-1.4zM354.9 195.0h1.4v1.4h-1.4zM295.8 190.9h2.3v2.3h-2.3zM403.4 198.3h0.9v0.9h-0.9zM244.1 189.0h1.9v1.9h-1.9zM341.8 206.4h1.8v1.8h-1.8zM252.4 212.1h1.3v1.3h-1.3zM329.6 217.7h1.5v1.5h-1.5zM328.8 198.2h0.9v0.9h-0.9zM389.9 206.1h1.7v1.7h-1.7zM330.5 196.2h1.5v1.5h-1.5zM425.2 191.9h1.4v1.4h-1.4zM261.3 190.7h2.2v2.2h-2.2zM311.2 194.3h1.3v1.3h-1.3zM384.6 170.9h2.1v2.1h-2.1zM281.4 189.8h1.1v1.1h-1.1zM370.0 187.6h1.8v1.8h-1.8zM416.9 206.4h2.3v2.3h-2.3zM253.9 207.3h2.1v2.1h-2.1zM259.4 203.3h1.1v1.1h-1.1zM282.1 198.8h1.1v1.1h-1.1zM352.0 196.7h2.2v2.2h-2.2zM285.1 198.4h0.9v0.9h-0.9zM305.2 197.8h1.7v1.7h-1.7zM314.3 188.7h2.0v2.0h-2.0zM347.7 223.6h1.1v1.1h-1.1zM308.2 191.8h1.0v1.0h-1.0zM394.3 224.5h2.3v2.3h-2.3zM400.2 204.4h1.0v1.0h-1.0zM266.9 195.6h1.9v1.9h-1.9zM360.1 220.4h1.7v1.7h-1.7zM345.2 194.9h2.2v2.2h-2.2zM396.0 227.9h1.7v1.7h-1.7zM331.3 209.9h1.4v1.4h-1.4zM425.3 208.8h1.4v1.4h-1.4zM370.9 194.0h1.7v1.7h-1.7zM413.0 189.5h1.3v1.3h-1.3zM309.2 201.1h1.2v1.2h-1.2zM367.1 175.3h2.2v2.2h-2.2zM242.0 206.6h1.2v1.2h-1.2zM324.7 207.1h0.9v0.9h-0.9zM272.9 196.0h1.7v1.7h-1.7zM363.7 209.9h1.0v1.0h-1.0zM307.5 192.0h2.2v2.2h-2.2zM340.2 185.7h2.3v2.3h-2.3zM243.8 178.8h1.6v1.6h-1.6zM423.2 185.2h2.0v2.0h-2.0zM308.7 183.7h1.5v1.5h-1.5zM279.4 210.9h1.6v1.6h-1.6zM410.3 189.6h1.7v1.7h-1.7zM323.2 209.6h2.0v2.0h-2.0zM290.2 209.6h2.0v2.0h-2.0zM397.0 184.5h1.4v1.4h-1.4zM250.7 196.4h0.9v0.9h-0.9zM329.0 208.6h1.7v1.7h-1.7zM397.9 194.8h0.9v0.9h-0.9zM328.7 208.6h1.7v1.7h-1.7zM429.1 203.6h1.0v1.0h-1.0zM253.3 202.0h1.1v1.1h-1.1zM259.1 180.2h1.7v1.7h-1.7zM326.5 201.3h1.6v1.6h-1.6zM262.4 189.3h1.3v1.3h-1.3zM237.0 184.9h1.4v1.4h-1.4zM382.7 194.2h1.8v1.8h-1.8zM266.4 196.3h1.2v1.2h-1.2zM343.8 206.7h1.0v1.0h-1.0zM368.5 189.5h1.2v1.2h-1.2zM420.1 199.9h2.1v2.1h-2.1zM365.6 172.6h1.4v1.4h-1.4zM253.6 198.6h1.7v1.7h-1.7zM295.6 182.1h2.1v2.1h-2.1zM292.4 209.8h1.2v1.2h-1.2zM417.3 200.3h1.1v1.1h-1.1zM284.1 227.1h1.5v1.5h-1.5zM267.5 191.2h1.4v1.4h-1.4zM320.9 200.5h2.0v2.0h-2.0zM400.8 192.7h1.7v1.7h-1.7zM349.7 203.7h1.0v1.0h-1.0zM309.3 216.3h1.5v1.5h-1.5zM321.7 211.4h1.3v1.3h-1.3zM259.2 196.8h0.9v0.9h-0.9zM337.9 198.3h1.6v1.6h-1.6zM316.4 196.2h1.8v1.8h-1.8zM379.6 184.1h2.1v2.1h-2.1zM273.5 217.5h1.4v1.4h-1.4zM346.0 195.9h1.4v1.4h-1.4zM347.7 192.8h0.9v0.9h-0.9zM326.3 206.6h1.9v1.9h-1.9zM282.3 200.1h2.2v2.2h-2.2zM318.3 173.4h0.9v0.9h-0.9zM343.0 196.4h2.3v2.3h-2.3zM261.2 198.7h2.2v2.2h-2.2zM398.4 201.3h1.7v1.7h-1.7zM271.8 201.9h1.5v1.5h-1.5zM336.0 193.4h2.1v2.1h-2.1zM245.5 190.8h2.2v2.2h-2.2zM274.3 181.0h1.0v1.0h-1.0zM354.5 191.2h1.4v1.4h-1.4zM296.8 197.9h1.5v1.5h-1.5zM296.8 194.7h1.4v1.4h-1.4zM308.6 196.6h2.1v2.1h-2.1zM285.8 186.8h2.2v2.2h-2.2zM298.8 203.6h1.9v1.9h-1.9zM386.8 214.8h1.4v1.4h-1.4zM277.7 225.4h1.7v1.7h-1.7zM333.9 206.2h1.9v1.9h-1.9zM317.7 196.3h1.7v1.7h-1.7zM335.8 205.6h2.0v2.0h-2.0zM341.6 190.9h1.6v1.6h-1.6zM343.0 210.7h2.1v2.1h-2.1zM288.6 180.9h1.1v1.1h-1.1zM293.1 182.6h1.9v1.9h-1.9zM301.4 219.2h1.4v1.4h-1.4zM329.9 188.3h1.0v1.0h-1.0zM328.0 214.5h1.1v1.1h-1.1zM349.4 209.8h1.0v1.0h-1.0zM256.0 192.0h1.5v1.5h-1.5zM417.9 197.0h1.5v1.5h-1.5zM306.5 211.0h1.4v1.4h-1.4zM332.7 189.1h1.0v1.0h-1.0zM371.2 181.5h1.9v1.9h-1.9zM353.0 187.4h1.6v1.6h-1.6zM351.2 210.7h2.3v2.3h-2.3zM417.3 207.1h1.9v1.9h-1.9zM417.1 225.3h1.4v1.4h-1.4zM277.1 194.0h1.3v1.3h-1.3zM324.9 186.9h1.6v1.6h-1.6zM426.1 193.4h1.8v1.8h-1.8zM319.5 197.9h1.2v1.2h-1.2zM268.1 198.5h1.7v1.7h-1.7zM351.2 201.4h1.2v1.2h-1.2zM379.7 197.0h0.9v0.9h-0.9zM417.5 201.3h2.1v2.1h-2.1zM378.3 192.1h1.8v1.8h-1.8zM417.9 214.7h1.9v1.9h-1.9zM334.3 175.9h2.0v2.0h-2.0zM307.9 217.0h2.0v2.0h-2.0zM423.4 186.2h1.5v1.5h-1.5zM388.6 183.1h1.5v1.5h-1.5zM265.3 206.7h1.3v1.3h-1.3zM291.0 189.9h2.0v2.0h-2.0zM391.8 198.9h1.7v1.7h-1.7zM401.7 184.9h1.2v1.2h-1.2zM334.4 190.1h2.0v2.0h-2.0zM360.2 184.4h2.2v2.2h-2.2zM295.1 208.1h1.0v1.0h-1.0zM258.6 182.5h1.7v1.7h-1.7zM268.4 190.0h1.5v1.5h-1.5zM360.3 208.2h1.2v1.2h-1.2zM245.2 217.8h1.9v1.9h-1.9zM241.8 215.8h1.7v1.7h-1.7zM300.7 208.0h1.8v1.8h-1.8zM371.2 209.0h0.9v0.9h-0.9zM305.9 188.5h1.3v1.3h-1.3zM251.8 206.5h1.3v1.3h-1.3zM406.4 188.4h1.4v1.4h-1.4zM266.7 210.8h2.1v2.1h-2.1zM412.2 190.4h1.1v1.1h-1.1zM298.2 188.7h2.1v2.1h-2.1zM360.4 209.6h2.3v2.3h-2.3zM275.8 199.4h1.5v1.5h-1.5zM417.4 197.5h1.7v1.7h-1.7zM331.4 200.8h1.1v1.1h-1.1zM398.2 220.5h2.0v2.0h-2.0zM415.5 201.9h2.1v2.1h-2.1zM423.4 183.7h2.1v2.1h-2.1zM411.0 205.1h1.3v1.3h-1.3zM322.6 188.5h1.0v1.0h-1.0zM255.9 201.8h1.8v1.8h-1.8zM320.0 190.9h1.5v1.5h-1.5zM363.8 192.4h1.6v1.6h-1.6zM337.0 214.8h1.1v1.1h-1.1zM412.3 194.5h2.2v2.2h-2.2zM322.5 200.5h1.5v1.5h-1.5zM297.1 204.1h2.0v2.0h-2.0zM330.6 210.5h1.8v1.8h-1.8zM285.4 195.7h1.9v1.9h-1.9zM347.8 200.5h1.7v1.7h-1.7zM263.1 212.1h2.1v2.1h-2.1zM427.0 201.6h1.1v1.1h-1.1zM392.9 197.7h0.9v0.9h-0.9zM337.7 193.3h2.1v2.1h-2.1zM343.9 183.7h1.5v1.5h-1.5zM412.2 215.4h1.9v1.9h-1.9zM283.8 180.1h1.9v1.9h-1.9zM385.2 201.8h1.1v1.1h-1.1zM398.9 222.2h1.5v1.5h-1.5zM278.4 202.7h1.2v1.2h-1.2zM417.8 197.8h1.2v1.2h-1.2zM391.0 189.2h2.0v2.0h-2.0zM287.3 197.6h1.8v1.8h-1.8zM367.6 209.0h1.7v1.7h-1.7zM265.4 184.9h1.4v1.4h-1.4zM381.2 196.3h1.8v1.8h-1.8zM297.7 206.4h0.9v0.9h-0.9zM357.6 195.3h1.0v1.0h-1.0zM348.2 192.9h2.0v2.0h-2.0zM407.1 187.1h1.4v1.4h-1.4zM256.5 206.6h1.6v1.6h-1.6zM403.6 192.4h1.7v1.7h-1.7zM281.1 195.8h2.3v2.3h-2.3z"/>
<path fill="#a8e69a" d="M321.6 214.5h1.8v1.8h-1.8zM329.4 189.6h1.2v1.2h-1.2zM270.1 203.5h1.4v1.4h-1.4zM351.7 208.8h1.8v1.8h-1.8zM298.3 190.6h1.1v1.1h-1.1zM415.7 179.5h1.3v1.3h-1.3zM275.6 195.0h1.9v1.9h-1.9zM253.8 204.9h1.9v1.9h-1.9zM353.2 195.9h1.6v1.6h-1.6zM262.5 210.8h1.6v1.6h-1.6zM333.0 207.0h1.1v1.1h-1.1zM256.4 212.1h1.2v1.2h-1.2zM267.6 195.6h1.8v1.8h-1.8zM320.3 198.3h1.2v1.2h-1.2zM380.4 193.2h1.1v1.1h-1.1zM326.5 202.1h1.7v1.7h-1.7zM273.9 200.7h1.0v1.0h-1.0zM343.6 190.4h1.8v1.8h-1.8zM362.1 190.8h1.1v1.1h-1.1zM310.4 205.5h0.9v0.9h-0.9zM364.4 195.1h1.4v1.4h-1.4zM372.9 222.2h1.3v1.3h-1.3zM371.7 197.5h1.2v1.2h-1.2zM359.4 195.4h1.6v1.6h-1.6zM397.9 190.8h1.4v1.4h-1.4zM393.3 193.2h1.4v1.4h-1.4zM428.2 212.4h2.0v2.0h-2.0zM378.6 209.8h1.0v1.0h-1.0zM389.1 217.2h2.2v2.2h-2.2zM261.1 213.5h1.3v1.3h-1.3zM360.4 205.1h2.2v2.2h-2.2zM405.5 205.9h1.8v1.8h-1.8zM284.2 197.1h1.2v1.2h-1.2zM266.7 187.9h1.5v1.5h-1.5zM338.9 205.4h1.9v1.9h-1.9zM326.5 188.9h1.4v1.4h-1.4zM282.6 191.9h1.1v1.1h-1.1zM341.7 207.8h1.3v1.3h-1.3zM292.9 195.0h1.9v1.9h-1.9zM248.3 197.9h2.1v2.1h-2.1zM288.6 196.3h1.8v1.8h-1.8zM378.6 205.1h2.1v2.1h-2.1zM370.8 197.6h1.6v1.6h-1.6zM314.2 202.5h1.5v1.5h-1.5zM318.6 217.8h1.4v1.4h-1.4zM272.5 214.2h0.9v0.9h-0.9zM266.7 198.1h1.8v1.8h-1.8zM366.0 198.4h2.0v2.0h-2.0zM408.0 202.3h2.0v2.0h-2.0zM422.5 188.1h1.9v1.9h-1.9zM361.8 210.5h2.2v2.2h-2.2zM354.5 195.2h1.5v1.5h-1.5zM323.7 193.1h1.8v1.8h-1.8zM329.3 203.0h1.7v1.7h-1.7zM365.5 183.6h1.3v1.3h-1.3zM342.2 195.4h1.1v1.1h-1.1zM380.9 177.3h2.0v2.0h-2.0zM309.3 196.8h2.1v2.1h-2.1zM398.7 203.9h2.3v2.3h-2.3zM413.9 199.2h1.6v1.6h-1.6zM303.6 194.6h1.9v1.9h-1.9zM277.4 198.2h1.6v1.6h-1.6zM374.2 199.3h1.7v1.7h-1.7zM388.3 202.6h1.7v1.7h-1.7zM266.2 185.4h1.6v1.6h-1.6zM263.4 214.3h1.7v1.7h-1.7zM365.3 199.6h2.0v2.0h-2.0zM325.7 203.7h2.0v2.0h-2.0zM267.9 179.6h1.4v1.4h-1.4zM420.0 196.9h1.7v1.7h-1.7zM314.0 211.8h1.5v1.5h-1.5zM385.7 181.1h1.5v1.5h-1.5zM401.2 197.0h1.1v1.1h-1.1zM360.9 207.5h0.9v0.9h-0.9zM285.7 200.2h1.5v1.5h-1.5zM407.4 200.5h2.2v2.2h-2.2zM291.4 179.8h1.4v1.4h-1.4zM398.5 187.5h2.3v2.3h-2.3zM273.6 208.5h1.5v1.5h-1.5zM321.4 210.8h2.0v2.0h-2.0zM307.6 202.9h1.4v1.4h-1.4zM338.3 195.5h1.1v1.1h-1.1zM413.9 216.1h2.1v2.1h-2.1zM254.5 218.4h0.9v0.9h-0.9zM413.1 200.8h2.2v2.2h-2.2zM406.9 207.9h2.1v2.1h-2.1zM412.1 191.3h2.0v2.0h-2.0zM415.0 200.6h2.2v2.2h-2.2zM404.0 176.0h1.3v1.3h-1.3zM319.9 207.5h2.3v2.3h-2.3zM247.1 208.9h2.2v2.2h-2.2zM335.3 222.1h2.3v2.3h-2.3zM404.1 186.6h2.3v2.3h-2.3zM271.5 206.6h2.2v2.2h-2.2zM284.8 170.3h2.3v2.3h-2.3zM345.2 183.0h1.6v1.6h-1.6zM306.1 200.6h2.3v2.3h-2.3zM334.6 190.2h1.3v1.3h-1.3zM408.4 203.2h1.5v1.5h-1.5zM248.6 196.4h2.2v2.2h-2.2zM400.7 201.4h1.4v1.4h-1.4zM407.3 185.3h1.8v1.8h-1.8zM317.7 196.9h1.5v1.5h-1.5zM307.6 205.0h1.6v1.6h-1.6zM319.6 203.3h1.4v1.4h-1.4zM376.7 215.4h1.2v1.2h-1.2zM264.8 202.1h1.1v1.1h-1.1zM368.8 186.0h1.6v1.6h-1.6zM255.8 205.2h2.1v2.1h-2.1zM326.3 188.4h1.6v1.6h-1.6zM402.3 214.6h1.1v1.1h-1.1zM369.2 194.2h1.8v1.8h-1.8zM408.6 187.5h0.9v0.9h-0.9zM371.5 219.4h2.1v2.1h-2.1zM377.0 214.9h2.3v2.3h-2.3zM355.7 199.0h1.4v1.4h-1.4zM303.4 186.8h1.4v1.4h-1.4zM254.5 196.4h1.9v1.9h-1.9zM404.3 205.8h1.0v1.0h-1.0zM248.2 186.4h1.6v1.6h-1.6zM336.7 200.4h1.5v1.5h-1.5zM257.1 186.1h2.1v2.1h-2.1zM309.2 195.3h1.4v1.4h-1.4zM282.5 192.9h2.3v2.3h-2.3zM333.4 185.4h1.3v1.3h-1.3zM311.9 192.3h2.2v2.2h-2.2zM341.9 177.1h1.3v1.3h-1.3zM312.0 188.9h1.4v1.4h-1.4zM406.2 200.0h2.1v2.1h-2.1zM294.4 178.7h0.9v0.9h-0.9zM389.8 192.1h2.1v2.1h-2.1zM381.8 219.7h1.0v1.0h-1.0zM384.3 198.1h1.5v1.5h-1.5zM402.9 217.2h1.7v1.7h-1.7zM292.5 197.0h2.0v2.0h-2.0zM249.3 198.6h1.5v1.5h-1.5zM293.6 205.8h1.7v1.7h-1.7zM269.3 198.3h2.1v2.1h-2.1zM331.7 211.4h1.6v1.6h-1.6zM330.2 191.2h2.2v2.2h-2.2zM267.5 190.3h1.2v1.2h-1.2zM309.8 185.8h1.1v1.1h-1.1zM351.1 209.5h1.9v1.9h-1.9zM418.8 205.5h1.1v1.1h-1.1zM319.5 212.4h1.0v1.0h-1.0zM309.3 175.2h1.7v1.7h-1.7zM317.5 209.6h2.3v2.3h-2.3zM328.5 192.9h1.8v1.8h-1.8zM337.6 200.0h2.0v2.0h-2.0zM427.3 186.7h2.2v2.2h-2.2zM296.5 206.1h1.4v1.4h-1.4zM365.4 190.1h1.5v1.5h-1.5zM323.9 181.6h1.3v1.3h-1.3zM306.3 203.1h1.0v1.0h-1.0zM346.6 186.6h1.4v1.4h-1.4zM346.6 188.6h1.9v1.9h-1.9zM349.1 195.5h1.9v1.9h-1.9zM273.5 178.2h1.4v1.4h-1.4zM398.4 214.1h1.8v1.8h-1.8zM336.1 198.3h2.1v2.1h-2.1zM381.0 216.3h1.3v1.3h-1.3zM274.0 192.7h1.6v1.6h-1.6zM317.5 204.5h1.9v1.9h-1.9zM265.0 187.0h1.7v1.7h-1.7zM248.8 173.2h0.9v0.9h-0.9zM280.3 205.0h1.2v1.2h-1.2zM345.4 192.7h1.9v1.9h-1.9zM413.1 190.6h1.7v1.7h-1.7zM317.4 205.1h1.6v1.6h-1.6zM401.0 196.6h2.2v2.2h-2.2zM344.9 201.1h0.9v0.9h-0.9zM327.1 215.5h1.1v1.1h-1.1zM417.2 184.5h1.2v1.2h-1.2zM393.9 223.0h1.8v1.8h-1.8zM259.6 198.5h2.0v2.0h-2.0zM418.4 210.4h1.8v1.8h-1.8zM260.5 199.4h1.7v1.7h-1.7zM339.3 189.0h2.0v2.0h-2.0zM404.7 208.8h2.3v2.3h-2.3zM400.2 189.0h1.5v1.5h-1.5zM322.3 200.6h2.2v2.2h-2.2zM327.0 197.2h1.3v1.3h-1.3zM255.9 194.2h1.6v1.6h-1.6zM339.4 211.8h1.8v1.8h-1.8zM334.6 208.3h1.0v1.0h-1.0zM321.1 185.7h1.4v1.4h-1.4zM405.7 200.2h1.9v1.9h-1.9zM331.3 185.4h2.1v2.1h-2.1zM417.9 197.5h0.9v0.9h-0.9zM411.2 204.7h1.3v1.3h-1.3zM324.2 196.1h1.4v1.4h-1.4zM343.6 197.3h1.8v1.8h-1.8zM380.4 211.6h1.3v1.3h-1.3zM345.9 187.9h1.5v1.5h-1.5zM254.2 207.0h0.9v0.9h-0.9zM416.7 176.4h1.3v1.3h-1.3zM318.1 198.8h1.3v1.3h-1.3zM403.2 222.7h2.1v2.1h-2.1zM396.2 201.9h2.2v2.2h-2.2zM300.4 208.2h1.1v1.1h-1.1zM376.8 214.1h1.0v1.0h-1.0zM359.3 213.5h2.0v2.0h-2.0zM279.3 209.5h1.7v1.7h-1.7zM297.0 213.2h1.9v1.9h-1.9zM360.1 180.4h2.1v2.1h-2.1zM385.5 190.7h1.9v1.9h-1.9zM342.9 207.1h1.3v1.3h-1.3zM413.4 208.1h1.9v1.9h-1.9zM339.7 195.4h1.7v1.7h-1.7zM334.1 208.8h1.9v1.9h-1.9zM431.1 200.8h1.5v1.5h-1.5zM245.0 185.8h1.2v1.2h-1.2zM422.2 213.3h0.9v0.9h-0.9zM320.8 191.2h1.3v1.3h-1.3zM302.9 202.6h2.2v2.2h-2.2zM293.6 199.2h1.1v1.1h-1.1zM289.2 196.0h2.2v2.2h-2.2zM311.3 205.1h1.0v1.0h-1.0zM339.9 212.7h1.6v1.6h-1.6zM306.1 177.5h1.4v1.4h-1.4zM274.8 185.8h1.3v1.3h-1.3zM382.0 190.5h1.3v1.3h-1.3zM348.3 190.1h0.9v0.9h-0.9zM252.1 207.0h1.2v1.2h-1.2zM351.8 195.4h2.2v2.2h-2.2zM398.5 203.1h2.2v2.2h-2.2zM394.3 218.7h1.6v1.6h-1.6zM399.4 205.1h1.2v1.2h-1.2zM240.7 194.5h1.7v1.7h-1.7zM390.1 198.1h1.6v1.6h-1.6zM329.5 177.2h1.1v1.1h-1.1zM348.4 212.7h1.3v1.3h-1.3zM404.0 193.7h1.3v1.3h-1.3zM370.5 191.6h1.9v1.9h-1.9zM406.7 205.2h1.5v1.5h-1.5zM310.2 208.5h2.0v2.0h-2.0zM358.8 201.7h1.9v1.9h-1.9zM322.9 189.2h1.1v1.1h-1.1zM263.3 203.7h2.3v2.3h-2.3zM363.7 215.0h1.8v1.8h-1.8zM295.4 210.5h1.1v1.1h-1.1zM354.0 171.4h2.0v2.0h-2.0zM308.9 204.9h1.4v1.4h-1.4zM321.9 205.7h1.5v1.5h-1.5zM259.2 191.1h1.5v1.5h-1.5zM366.0 198.3h1.0v1.0h-1.0zM323.7 173.2h2.2v2.2h-2.2zM300.0 203.8h1.7v1.7h-1.7zM379.7 188.6h2.2v2.2h-2.2zM344.9 207.1h1.0v1.0h-1.0zM283.2 211.5h1.4v1.4h-1.4zM408.8 211.6h1.2v1.2h-1.2zM238.4 198.4h2.2v2.2h-2.2zM375.7 195.9h1.8v1.8h-1.8zM405.6 194.4h0.9v0.9h-0.9zM296.2 206.1h2.0v2.0h-2.0zM313.6 210.1h1.6v1.6h-1.6zM271.3 174.1h1.4v1.4h-1.4zM368.9 194.0h1.5v1.5h-1.5zM351.7 207.4h2.1v2.1h-2.1zM247.6 193.0h2.2v2.2h-2.2zM282.1 220.1h0.9v0.9h-0.9zM417.4 180.6h2.0v2.0h-2.0zM379.0 181.8h0.9v0.9h-0.9zM322.9 220.5h1.2v1.2h-1.2zM400.6 198.1h2.1v2.1h-2.1zM415.1 202.5h1.6v1.6h-1.6zM413.0 181.9h1.2v1.2h-1.2zM317.1 199.5h1.3v1.3h-1.3zM299.4 205.9h2.0v2.0h-2.0zM336.9 179.9h1.5v1.5h-1.5zM260.6 193.8h2.1v2.1h-2.1zM374.2 180.1h1.4v1.4h-1.4zM275.9 214.5h1.9v1.9h-1.9zM355.7 179.0h2.1v2.1h-2.1zM251.4 201.4h2.3v2.3h-2.3zM285.4 218.8h1.4v1.4h-1.4zM373.6 195.0h1.7v1.7h-1.7zM314.3 203.3h1.0v1.0h-1.0zM427.5 193.2h1.0v1.0h-1.0zM405.3 192.7h2.3v2.3h-2.3zM354.2 197.8h1.1v1.1h-1.1zM308.2 201.4h1.7v1.7h-1.7zM426.7 184.1h1.6v1.6h-1.6zM335.3 195.3h1.5v1.5h-1.5zM405.2 214.5h2.0v2.0h-2.0zM419.5 204.2h1.9v1.9h-1.9zM377.8 199.0h2.0v2.0h-2.0zM317.1 196.3h1.2v1.2h-1.2zM293.8 202.0h2.0v2.0h-2.0zM292.8 192.8h1.6v1.6h-1.6zM291.2 192.5h1.6v1.6h-1.6zM288.5 189.9h1.8v1.8h-1.8zM296.4 185.6h2.3v2.3h-2.3zM368.2 195.0h1.8v1.8h-1.8zM372.4 213.8h1.1v1.1h-1.1zM377.3 200.7h2.1v2.1h-2.1zM343.5 207.5h2.0v2.0h-2.0zM330.0 184.6h1.2v1.2h-1.2zM306.6 196.4h1.5v1.5h-1.5zM412.2 218.4h1.8v1.8h-1.8zM380.2 195.6h1.2v1.2h-1.2zM295.4 191.1h1.5v1.5h-1.5zM410.4 189.1h1.4v1.4h-1.4zM309.1 191.8h0.9v0.9h-0.9zM361.8 201.7h2.2v2.2h-2.2zM338.4 204.3h1.3v1.3h-1.3zM386.9 185.3h1.2v1.2h-1.2zM388.9 205.0h1.1v1.1h-1.1zM273.4 193.6h1.5v1.5h-1.5zM334.4 198.9h1.4v1.4h-1.4zM333.9 215.0h1.5v1.5h-1.5zM287.2 191.6h1.8v1.8h-1.8zM406.7 205.8h1.7v1.7h-1.7zM402.4 173.1h1.4v1.4h-1.4zM413.2 190.5h1.3v1.3h-1.3zM393.3 179.7h1.5v1.5h-1.5zM295.0 185.5h0.9v0.9h-0.9zM273.6 195.3h1.4v1.4h-1.4zM272.7 188.1h1.4v1.4h-1.4zM390.7 201.4h1.1v1.1h-1.1zM263.8 174.3h1.2v1.2h-1.2zM330.5 195.4h1.4v1.4h-1.4zM264.9 206.6h1.9v1.9h-1.9zM403.2 206.6h1.6v1.6h-1.6zM275.6 222.7h0.9v0.9h-0.9zM318.6 199.6h1.9v1.9h-1.9zM308.6 200.3h1.3v1.3h-1.3zM264.3 203.5h1.3v1.3h-1.3zM249.2 178.5h1.1v1.1h-1.1zM338.3 187.8h1.0v1.0h-1.0zM343.1 199.4h0.9v0.9h-0.9zM387.4 202.4h1.6v1.6h-1.6zM325.2 198.6h1.4v1.4h-1.4zM237.8 194.1h2.2v2.2h-2.2zM412.7 207.0h1.0v1.0h-1.0zM386.9 203.9h1.6v1.6h-1.6zM325.4 205.1h2.0v2.0h-2.0zM353.0 185.4h1.2v1.2h-1.2zM279.2 209.5h0.9v0.9h-0.9zM255.0 199.4h2.2v2.2h-2.2zM294.4 176.9h1.7v1.7h-1.7zM248.2 208.8h1.8v1.8h-1.8zM290.7 204.4h1.3v1.3h-1.3zM306.3 186.0h1.6v1.6h-1.6zM335.6 203.0h2.0v2.0h-2.0zM418.9 194.6h2.1v2.1h-2.1zM279.6 185.6h1.0v1.0h-1.0zM277.9 212.0h1.2v1.2h-1.2zM294.7 176.2h1.6v1.6h-1.6zM354.6 206.7h2.1v2.1h-2.1zM338.8 199.5h2.2v2.2h-2.2zM309.2 206.7h1.4v1.4h-1.4zM413.7 183.7h1.6v1.6h-1.6zM332.7 194.2h1.0v1.0h-1.0zM262.9 215.4h1.6v1.6h-1.6zM418.9 191.5h1.7v1.7h-1.7zM291.0 195.8h1.9v1.9h-1.9zM353.0 205.3h1.6v1.6h-1.6zM343.3 192.0h1.1v1.1h-1.1zM332.5 211.1h1.5v1.5h-1.5zM416.9 213.1h1.9v1.9h-1.9zM306.6 190.6h1.7v1.7h-1.7zM306.4 193.5h2.2v2.2h-2.2zM419.8 216.2h1.7v1.7h-1.7zM316.0 206.4h1.9v1.9h-1.9zM276.7 173.8h1.3v1.3h-1.3zM284.1 179.2h1.6v1.6h-1.6zM339.0 200.8h1.5v1.5h-1.5zM286.1 220.0h2.2v2.2h-2.2zM269.6 196.9h1.0v1.0h-1.0zM395.1 183.4h1.0v1.0h-1.0zM414.2 218.7h1.2v1.2h-1.2zM289.6 196.3h0.9v0.9h-0.9zM307.0 206.7h2.2v2.2h-2.2zM417.6 192.2h1.4v1.4h-1.4zM405.9 193.8h1.2v1.2h-1.2zM262.5 188.5h1.1v1.1h-1.1zM360.5 191.6h2.0v2.0h-2.0zM327.8 182.5h1.9v1.9h-1.9zM274.0 228.0h1.3v1.3h-1.3zM306.7 202.3h1.8v1.8h-1.8zM301.6 205.6h1.3v1.3h-1.3zM414.7 204.4h2.2v2.2h-2.2zM379.8 210.6h2.1v2.1h-2.1zM400.0 192.3h1.3v1.3h-1.3zM371.5 214.7h1.7v1.7h-1.7zM386.6 211.4h1.1v1.1h-1.1z"/>
<path fill="#7fd46c" d="M242.7 191.0h0.9v0.9h-0.9zM416.9 207.8h2.2v2.2h-2.2zM334.3 189.7h2.3v2.3h-2.3zM358.8 191.9h1.4v1.4h-1.4zM277.6 175.7h2.0v2.0h-2.0zM348.3 193.8h2.3v2.3h-2.3zM268.6 180.8h1.8v1.8h-1.8zM394.8 194.0h0.9v0.9h-0.9zM392.8 195.4h1.1v1.1h-1.1zM299.6 200.9h1.7v1.7h-1.7zM388.0 198.0h2.2v2.2h-2.2zM283.0 188.6h1.7v1.7h-1.7zM325.9 216.8h2.1v2.1h-2.1zM266.3 207.9h1.3v1.3h-1.3zM268.1 213.5h1.4v1.4h-1.4zM378.2 214.8h1.5v1.5h-1.5zM275.2 206.5h0.9v0.9h-0.9zM330.1 191.3h1.4v1.4h-1.4zM312.8 197.2h0.9v0.9h-0.9zM413.9 205.2h1.1v1.1h-1.1zM303.6 191.3h1.2v1.2h-1.2zM316.6 194.2h1.4v1.4h-1.4zM382.0 207.0h1.6v1.6h-1.6zM246.0 205.4h1.6v1.6h-1.6zM328.7 200.5h1.3v1.3h-1.3zM351.0 201.4h1.3v1.3h-1.3zM333.7 189.6h2.1v2.1h-2.1zM259.0 179.8h2.0v2.0h-2.0zM288.9 195.2h1.3v1.3h-1.3zM380.8 188.7h1.2v1.2h-1.2zM290.9 206.4h1.4v1.4h-1.4zM276.6 201.4h2.1v2.1h-2.1zM353.3 213.6h1.1v1.1h-1.1zM299.5 193.3h1.7v1.7h-1.7zM363.5 202.3h1.1v1.1h-1.1zM306.7 188.6h1.8v1.8h-1.8zM373.6 199.0h2.2v2.2h-2.2zM255.8 192.1h1.4v1.4h-1.4zM278.3 199.2h2.2v2.2h-2.2zM341.3 194.1h1.3v1.3h-1.3zM245.5 199.1h1.0v1.0h-1.0zM272.3 198.6h1.6v1.6h-1.6zM303.6 205.4h1.0v1.0h-1.0zM312.3 190.7h1.5v1.5h-1.5zM288.6 211.1h1.2v1.2h-1.2zM413.0 206.2h1.1v1.1h-1.1zM337.7 181.7h1.0v1.0h-1.0zM292.5 177.3h2.3v2.3h-2.3zM308.7 195.4h1.3v1.3h-1.3zM267.1 193.1h1.3v1.3h-1.3zM317.9 208.2h2.0v2.0h-2.0zM376.1 207.2h1.9v1.9h-1.9zM331.6 194.0h1.7v1.7h-1.7zM370.6 207.8h1.0v1.0h-1.0zM392.1 208.6h1.2v1.2h-1.2zM375.3 192.1h2.0v2.0h-2.0zM417.2 204.5h2.2v2.2h-2.2zM253.9 182.5h1.1v1.1h-1.1zM385.8 205.8h1.3v1.3h-1.3zM284.1 205.1h1.1v1.1h-1.1zM299.1 205.4h2.0v2.0h-2.0zM304.3 193.6h1.6v1.6h-1.6zM409.7 194.0h1.8v1.8h-1.8zM290.4 207.1h2.3v2.3h-2.3zM317.6 197.0h2.0v2.0h-2.0zM251.3 196.7h1.8v1.8h-1.8zM387.0 203.0h1.2v1.2h-1.2zM385.3 216.3h1.4v1.4h-1.4zM344.5 189.9h1.2v1.2h-1.2zM318.1 210.7h0.9v0.9h-0.9zM282.8 179.3h1.7v1.7h-1.7zM422.7 210.8h1.0v1.0h-1.0zM289.2 204.9h1.0v1.0h-1.0zM395.6 214.2h1.5v1.5h-1.5zM392.5 199.5h1.6v1.6h-1.6zM396.1 195.8h1.3v1.3h-1.3zM366.9 201.1h2.2v2.2h-2.2zM352.5 201.0h2.0v2.0h-2.0zM385.4 203.1h0.9v0.9h-0.9zM395.1 186.7h1.6v1.6h-1.6zM304.9 194.3h1.8v1.8h-1.8zM289.1 195.5h2.0v2.0h-2.0zM414.7 206.1h2.3v2.3h-2.3zM282.1 199.6h0.9v0.9h-0.9zM415.2 190.3h1.9v1.9h-1.9zM390.0 206.7h1.6v1.6h-1.6zM422.1 171.6h2.2v2.2h-2.2zM292.3 182.5h2.3v2.3h-2.3zM384.2 194.9h1.4v1.4h-1.4zM396.7 195.2h1.3v1.3h-1.3zM313.7 213.0h1.9v1.9h-1.9zM352.1 189.3h1.0v1.0h-1.0zM381.3 206.9h1.3v1.3h-1.3zM358.3 173.5h0.9v0.9h-0.9zM303.9 187.2h2.1v2.1h-2.1zM265.2 178.3h1.4v1.4h-1.4zM350.7 211.3h2.0v2.0h-2.0zM256.9 205.6h0.9v0.9h-0.9zM416.8 179.1h1.3v1.3h-1.3zM262.6 201.6h1.5v1.5h-1.5zM367.4 193.1h1.3v1.3h-1.3zM270.8 212.0h1.1v1.1h-1.1zM338.3 198.4h1.4v1.4h-1.4zM287.9 193.1h1.0v1.0h-1.0zM337.3 197.9h2.0v2.0h-2.0zM242.8 201.1h1.0v1.0h-1.0zM320.8 197.6h0.9v0.9h-0.9zM270.5 202.6h2.2v2.2h-2.2zM375.9 197.6h1.3v1.3h-1.3zM397.1 181.3h1.8v1.8h-1.8zM308.1 191.3h2.1v2.1h-2.1zM290.2 207.4h1.8v1.8h-1.8zM387.5 211.7h1.4v1.4h-1.4zM303.4 195.4h1.3v1.3h-1.3zM336.8 224.4h1.3v1.3h-1.3zM322.8 225.1h2.2v2.2h-2.2zM285.7 221.2h1.5v1.5h-1.5zM423.4 211.9h1.6v1.6h-1.6zM276.3 201.0h2.2v2.2h-2.2zM381.3 212.4h1.7v1.7h-1.7zM263.2 166.4h1.9v1.9h-1.9zM393.8 200.7h1.4v1.4h-1.4zM318.2 180.3h2.3v2.3h-2.3zM276.6 192.0h2.1v2.1h-2.1zM359.2 188.7h1.9v1.9h-1.9zM410.6 189.2h1.1v1.1h-1.1zM348.6 204.6h1.7v1.7h-1.7zM321.4 203.7h1.0v1.0h-1.0zM391.5 208.2h1.6v1.6h-1.6zM336.1 197.0h2.1v2.1h-2.1zM298.5 181.0h1.8v1.8h-1.8zM410.3 222.7h1.9v1.9h-1.9zM267.8 187.9h2.1v2.1h-2.1zM388.8 192.0h2.0v2.0h-2.0zM413.2 212.3h2.2v2.2h-2.2zM255.1 176.8h2.0v2.0h-2.0zM346.0 191.1h1.0v1.0h-1.0zM250.4 211.5h1.5v1.5h-1.5zM268.9 209.3h1.5v1.5h-1.5zM378.1 201.0h1.1v1.1h-1.1zM332.8 206.5h1.1v1.1h-1.1zM387.3 185.7h2.2v2.2h-2.2zM285.4 206.0h1.8v1.8h-1.8zM273.2 199.1h1.5v1.5h-1.5zM280.6 209.9h1.4v1.4h-1.4zM419.0 190.2h1.8v1.8h-1.8zM346.3 214.2h2.3v2.3h-2.3zM326.0 204.5h1.4v1.4h-1.4zM257.6 198.3h1.9v1.9h-1.9zM254.5 188.9h2.2v2.2h-2.2zM314.5 207.9h2.1v2.1h-2.1zM298.6 208.8h2.1v2.1h-2.1zM285.9 216.9h1.6v1.6h-1.6zM340.8 200.9h1.1v1.1h-1.1zM356.6 213.1h1.1v1.1h-1.1zM381.8 194.7h1.9v1.9h-1.9zM416.0 178.8h1.0v1.0h-1.0zM270.6 201.4h1.6v1.6h-1.6zM316.9 193.0h1.5v1.5h-1.5zM422.3 179.9h1.8v1.8h-1.8zM384.4 186.9h1.9v1.9h-1.9zM252.3 205.1h1.3v1.3h-1.3zM353.6 197.3h2.2v2.2h-2.2zM286.9 201.4h1.5v1.5h-1.5zM404.4 202.9h1.6v1.6h-1.6zM312.5 189.3h1.3v1.3h-1.3zM287.7 221.5h1.4v1.4h-1.4zM376.2 198.5h1.8v1.8h-1.8zM328.7 203.4h1.4v1.4h-1.4zM262.0 194.6h1.8v1.8h-1.8zM387.0 206.9h1.6v1.6h-1.6zM413.1 201.8h2.0v2.0h-2.0zM324.6 200.5h2.2v2.2h-2.2zM264.3 191.2h1.4v1.4h-1.4zM373.6 193.9h1.3v1.3h-1.3zM243.1 210.8h1.2v1.2h-1.2zM418.5 192.9h1.3v1.3h-1.3zM390.3 186.9h1.6v1.6h-1.6zM385.9 195.7h1.7v1.7h-1.7zM332.3 219.0h1.1v1.1h-1.1zM394.8 181.3h1.7v1.7h-1.7zM262.3 187.1h1.3v1.3h-1.3zM401.4 186.8h1.4v1.4h-1.4zM417.5 211.2h1.3v1.3h-1.3zM312.7 189.7h1.8v1.8h-1.8zM375.3 196.6h1.6v1.6h-1.6zM303.3 195.2h1.5v1.5h-1.5zM325.5 207.1h1.6v1.6h-1.6zM418.5 205.0h1.6v1.6h-1.6zM326.5 200.5h2.3v2.3h-2.3zM405.0 202.3h1.8v1.8h-1.8zM296.6 195.8h1.4v1.4h-1.4zM277.3 197.5h1.8v1.8h-1.8zM255.1 193.6h1.1v1.1h-1.1zM384.9 181.9h1.4v1.4h-1.4zM399.1 189.4h1.6v1.6h-1.6zM353.8 207.5h1.8v1.8h-1.8zM342.1 183.5h1.8v1.8h-1.8zM384.4 195.0h1.0v1.0h-1.0zM404.0 184.3h1.2v1.2h-1.2zM267.5 203.7h2.2v2.2h-2.2zM258.8 219.9h2.2v2.2h-2.2zM425.4 223.6h2.0v2.0h-2.0zM323.3 220.0h2.0v2.0h-2.0zM419.0 199.8h1.2v1.2h-1.2zM326.1 221.5h1.5v1.5h-1.5zM381.6 196.9h1.1v1.1h-1.1zM246.1 199.4h1.1v1.1h-1.1zM404.2 193.7h1.0v1.0h-1.0zM246.4 225.5h1.6v1.6h-1.6zM406.0 199.6h2.0v2.0h-2.0zM340.2 228.2h1.4v1.4h-1.4zM243.0 187.2h1.3v1.3h-1.3zM313.6 185.5h2.0v2.0h-2.0zM304.8 186.7h1.2v1.2h-1.2zM368.7 197.7h1.9v1.9h-1.9zM376.7 201.5h1.8v1.8h-1.8zM259.2 200.6h2.1v2.1h-2.1zM327.8 209.4h1.9v1.9h-1.9zM307.3 211.3h1.6v1.6h-1.6zM366.7 203.0h1.5v1.5h-1.5zM320.1 170.3h1.1v1.1h-1.1zM343.8 194.7h1.3v1.3h-1.3zM245.6 202.7h1.7v1.7h-1.7zM347.5 193.1h1.9v1.9h-1.9zM312.6 211.9h1.9v1.9h-1.9zM365.3 211.1h1.2v1.2h-1.2zM346.0 209.6h2.1v2.1h-2.1zM258.5 209.5h2.2v2.2h-2.2zM302.9 197.4h1.8v1.8h-1.8zM252.3 196.6h1.1v1.1h-1.1zM364.8 195.1h1.2v1.2h-1.2zM247.9 182.3h1.3v1.3h-1.3zM425.2 192.9h2.2v2.2h-2.2zM370.4 216.3h1.3v1.3h-1.3zM403.7 198.9h1.7v1.7h-1.7zM422.7 205.1h1.9v1.9h-1.9zM382.7 170.0h1.0v1.0h-1.0zM314.5 193.0h1.4v1.4h-1.4zM364.1 177.2h1.0v1.0h-1.0zM319.2 205.0h1.1v1.1h-1.1zM309.0 192.1h1.3v1.3h-1.3zM343.9 186.8h1.8v1.8h-1.8zM332.2 208.1h2.2v2.2h-2.2zM288.8 218.1h1.2v1.2h-1.2zM329.9 226.7h1.0v1.0h-1.0zM263.9 180.9h1.9v1.9h-1.9zM358.2 194.9h2.0v2.0h-2.0zM382.0 221.9h1.6v1.6h-1.6zM365.9 226.3h0.9v0.9h-0.9zM303.0 190.3h2.2v2.2h-2.2zM299.9 202.3h1.8v1.8h-1.8zM328.3 181.1h1.1v1.1h-1.1zM387.0 200.7h1.9v1.9h-1.9zM364.7 202.9h1.6v1.6h-1.6zM417.2 174.6h2.3v2.3h-2.3zM342.6 176.5h1.6v1.6h-1.6zM373.9 205.2h1.4v1.4h-1.4zM374.7 220.7h0.9v0.9h-0.9zM291.5 193.3h1.1v1.1h-1.1zM244.6 192.5h1.8v1.8h-1.8zM271.7 186.0h1.1v1.1h-1.1zM380.9 202.5h2.1v2.1h-2.1zM413.0 208.9h1.6v1.6h-1.6zM269.8 211.1h2.0v2.0h-2.0zM305.3 189.7h2.0v2.0h-2.0zM267.2 183.9h1.1v1.1h-1.1zM369.2 173.4h2.2v2.2h-2.2zM358.3 200.8h1.7v1.7h-1.7zM421.7 199.6h1.6v1.6h-1.6zM263.9 194.0h1.7v1.7h-1.7zM265.6 187.2h1.9v1.9h-1.9zM365.8 187.2h1.1v1.1h-1.1zM276.4 207.2h1.0v1.0h-1.0zM351.3 205.0h1.9v1.9h-1.9zM401.8 204.0h1.5v1.5h-1.5zM349.1 216.4h2.0v2.0h-2.0zM275.8 203.9h1.4v1.4h-1.4zM364.7 204.8h1.2v1.2h-1.2zM363.6 203.8h1.3v1.3h-1.3zM415.7 196.9h2.1v2.1h-2.1zM406.0 181.2h1.7v1.7h-1.7zM266.0 206.4h1.5v1.5h-1.5zM281.5 202.7h1.7v1.7h-1.7zM410.7 183.9h1.1v1.1h-1.1zM351.0 201.0h1.0v1.0h-1.0zM276.7 198.7h1.9v1.9h-1.9zM276.1 199.3h1.2v1.2h-1.2zM415.4 222.9h2.1v2.1h-2.1zM281.7 215.4h1.9v1.9h-1.9zM275.1 188.3h1.7v1.7h-1.7zM350.4 207.8h1.9v1.9h-1.9zM339.3 207.9h1.7v1.7h-1.7zM312.6 189.6h1.5v1.5h-1.5zM282.3 188.7h1.8v1.8h-1.8zM301.8 192.5h1.5v1.5h-1.5zM371.5 186.1h2.0v2.0h-2.0zM337.2 218.1h0.9v0.9h-0.9zM399.8 189.2h2.0v2.0h-2.0zM395.6 207.6h2.2v2.2h-2.2zM311.3 191.6h1.2v1.2h-1.2zM282.1 185.2h1.3v1.3h-1.3zM379.1 206.3h1.1v1.1h-1.1zM376.1 192.0h1.1v1.1h-1.1zM294.2 206.2h2.1v2.1h-2.1zM312.5 193.7h1.3v1.3h-1.3zM304.3 169.0h1.2v1.2h-1.2zM382.4 190.5h1.0v1.0h-1.0zM311.9 207.8h1.7v1.7h-1.7zM243.7 198.5h1.8v1.8h-1.8zM288.1 184.4h1.3v1.3h-1.3zM279.0 204.1h2.2v2.2h-2.2zM382.3 186.5h1.9v1.9h-1.9zM249.4 207.7h1.6v1.6h-1.6zM331.6 194.8h1.1v1.1h-1.1zM286.8 192.4h1.0v1.0h-1.0zM423.0 193.9h1.8v1.8h-1.8zM344.0 197.9h1.3v1.3h-1.3zM321.6 209.9h2.0v2.0h-2.0zM344.7 226.4h0.9v0.9h-0.9zM239.5 213.3h1.9v1.9h-1.9zM305.8 182.5h1.7v1.7h-1.7zM309.2 172.1h1.3v1.3h-1.3zM249.5 208.6h2.3v2.3h-2.3zM401.4 225.2h0.9v0.9h-0.9zM414.9 206.4h1.9v1.9h-1.9zM311.5 213.3h1.7v1.7h-1.7zM281.4 198.0h2.0v2.0h-2.0zM272.3 217.4h2.2v2.2h-2.2zM332.1 198.4h1.0v1.0h-1.0zM301.7 201.4h1.9v1.9h-1.9zM407.8 210.7h1.7v1.7h-1.7zM356.2 202.5h2.3v2.3h-2.3zM314.3 203.4h1.3v1.3h-1.3zM331.8 198.4h2.0v2.0h-2.0zM245.4 208.3h1.6v1.6h-1.6zM395.1 190.4h2.0v2.0h-2.0zM303.7 207.0h2.1v2.1h-2.1zM278.7 175.8h1.6v1.6h-1.6zM321.2 198.3h2.0v2.0h-2.0zM403.9 197.6h1.8v1.8h-1.8zM418.9 205.4h1.9v1.9h-1.9zM305.5 207.1h1.4v1.4h-1.4zM306.4 211.3h1.3v1.3h-1.3zM350.7 193.9h1.1v1.1h-1.1zM244.6 193.4h1.2v1.2h-1.2zM317.8 200.2h1.6v1.6h-1.6zM362.5 195.2h1.3v1.3h-1.3zM355.3 173.6h1.5v1.5h-1.5zM265.1 198.9h2.0v2.0h-2.0zM419.4 194.2h1.6v1.6h-1.6zM342.8 205.4h1.9v1.9h-1.9zM245.5 202.6h2.1v2.1h-2.1zM280.1 217.0h1.0v1.0h-1.0zM318.3 184.6h1.0v1.0h-1.0zM368.7 194.6h1.9v1.9h-1.9zM319.9 176.7h1.9v1.9h-1.9zM290.7 209.6h1.4v1.4h-1.4zM338.5 208.2h1.8v1.8h-1.8zM349.8 208.1h1.4v1.4h-1.4zM361.0 201.6h1.5v1.5h-1.5zM329.2 197.6h0.9v0.9h-0.9zM314.0 202.2h1.0v1.0h-1.0zM274.5 202.8h1.7v1.7h-1.7zM361.7 199.4h1.3v1.3h-1.3zM420.8 197.7h0.9v0.9h-0.9zM246.7 203.5h2.1v2.1h-2.1zM420.8 196.0h1.5v1.5h-1.5zM304.3 200.6h1.4v1.4h-1.4zM367.2 205.7h2.0v2.0h-2.0zM336.9 185.1h1.4v1.4h-1.4zM253.3 193.7h2.1v2.1h-2.1zM375.8 195.5h2.2v2.2h-2.2zM403.8 184.6h1.0v1.0h-1.0zM267.5 194.2h1.6v1.6h-1.6zM280.9 181.8h1.9v1.9h-1.9zM305.4 196.8h1.2v1.2h-1.2zM392.3 173.0h2.2v2.2h-2.2zM254.9 196.3h2.2v2.2h-2.2zM310.2 174.0h1.0v1.0h-1.0zM273.5 186.5h1.5v1.5h-1.5z"/>
<path fill="#6fd45c" d="M381.2 210.9h1.1v1.1h-1.1zM282.0 199.6h1.1v1.1h-1.1zM353.1 196.0h2.2v2.2h-2.2zM254.6 210.7h1.2v1.2h-1.2zM361.8 199.1h1.8v1.8h-1.8zM326.6 211.6h2.3v2.3h-2.3zM388.4 210.6h2.3v2.3h-2.3zM261.5 198.3h1.9v1.9h-1.9zM387.8 222.3h1.4v1.4h-1.4zM358.3 203.1h1.1v1.1h-1.1zM283.5 189.9h1.2v1.2h-1.2zM292.3 225.7h1.6v1.6h-1.6zM245.6 197.4h1.8v1.8h-1.8zM412.9 192.0h2.1v2.1h-2.1zM268.5 183.0h2.0v2.0h-2.0zM359.5 204.4h2.1v2.1h-2.1zM334.4 212.6h2.1v2.1h-2.1zM346.4 206.9h1.2v1.2h-1.2zM349.9 191.9h0.9v0.9h-0.9zM250.8 202.6h1.2v1.2h-1.2zM313.9 195.3h2.2v2.2h-2.2zM291.1 190.2h2.1v2.1h-2.1zM374.3 194.9h1.7v1.7h-1.7zM368.0 192.2h1.4v1.4h-1.4zM269.0 203.8h0.9v0.9h-0.9zM340.2 182.8h1.7v1.7h-1.7zM243.2 199.5h2.1v2.1h-2.1zM411.9 202.1h1.2v1.2h-1.2zM414.4 198.4h1.7v1.7h-1.7zM300.8 183.2h2.1v2.1h-2.1zM394.8 202.6h0.9v0.9h-0.9zM320.6 204.3h1.7v1.7h-1.7zM340.5 194.4h1.8v1.8h-1.8zM323.8 195.2h1.7v1.7h-1.7zM245.3 188.5h1.2v1.2h-1.2zM382.9 201.2h1.9v1.9h-1.9zM315.3 182.5h2.2v2.2h-2.2zM262.9 211.7h1.3v1.3h-1.3zM370.5 192.3h1.4v1.4h-1.4zM398.7 201.9h2.3v2.3h-2.3zM262.5 202.5h1.4v1.4h-1.4zM396.5 202.0h2.0v2.0h-2.0zM415.9 202.1h1.7v1.7h-1.7zM358.8 210.8h0.9v0.9h-0.9zM408.4 204.8h1.9v1.9h-1.9zM257.6 217.3h1.7v1.7h-1.7zM262.1 201.6h1.9v1.9h-1.9zM297.1 197.5h1.7v1.7h-1.7zM407.7 202.2h2.3v2.3h-2.3zM418.6 190.3h1.0v1.0h-1.0zM284.1 180.3h1.6v1.6h-1.6zM281.2 194.8h1.4v1.4h-1.4zM403.7 191.9h1.9v1.9h-1.9zM379.0 185.6h1.4v1.4h-1.4zM389.6 176.5h1.4v1.4h-1.4zM384.1 187.2h1.8v1.8h-1.8zM384.3 203.4h2.0v2.0h-2.0zM413.3 179.7h1.8v1.8h-1.8zM318.0 202.2h1.6v1.6h-1.6zM338.2 207.5h1.4v1.4h-1.4zM416.3 196.9h1.7v1.7h-1.7zM383.3 211.8h2.2v2.2h-2.2zM310.0 182.5h1.0v1.0h-1.0zM398.2 217.5h1.0v1.0h-1.0zM389.2 223.2h1.8v1.8h-1.8zM393.7 200.8h1.7v1.7h-1.7zM405.4 187.0h1.4v1.4h-1.4zM268.7 194.0h1.1v1.1h-1.1zM394.7 189.0h1.3v1.3h-1.3zM331.4 179.8h1.7v1.7h-1.7zM271.0 198.6h1.2v1.2h-1.2zM416.4 213.1h1.7v1.7h-1.7zM403.2 200.0h1.6v1.6h-1.6zM344.9 184.3h1.0v1.0h-1.0zM410.2 202.2h1.1v1.1h-1.1zM266.4 212.7h2.1v2.1h-2.1zM340.1 217.5h1.1v1.1h-1.1zM292.9 191.6h1.7v1.7h-1.7zM404.3 189.7h1.5v1.5h-1.5zM282.8 204.2h1.0v1.0h-1.0zM418.8 213.5h1.9v1.9h-1.9zM388.0 201.8h2.0v2.0h-2.0zM404.4 180.0h2.1v2.1h-2.1zM305.8 177.6h2.2v2.2h-2.2zM299.1 206.6h1.7v1.7h-1.7zM274.8 196.7h2.3v2.3h-2.3zM262.2 198.0h1.4v1.4h-1.4zM289.7 180.3h2.0v2.0h-2.0zM263.3 208.1h1.0v1.0h-1.0zM347.7 177.2h1.8v1.8h-1.8zM385.4 214.5h1.7v1.7h-1.7zM405.7 190.9h2.3v2.3h-2.3zM393.3 207.9h1.9v1.9h-1.9zM257.6 192.8h1.5v1.5h-1.5zM283.0 201.5h1.9v1.9h-1.9zM244.2 197.1h0.9v0.9h-0.9zM239.7 212.6h1.3v1.3h-1.3zM339.3 203.5h1.7v1.7h-1.7zM328.9 223.9h2.3v2.3h-2.3zM414.2 206.6h1.5v1.5h-1.5zM340.7 201.1h1.2v1.2h-1.2zM421.2 210.6h1.3v1.3h-1.3zM415.9 211.5h2.1v2.1h-2.1zM292.0 186.8h2.2v2.2h-2.2zM309.9 178.7h1.0v1.0h-1.0zM285.8 175.3h2.1v2.1h-2.1zM417.4 198.1h1.0v1.0h-1.0zM388.0 190.6h1.1v1.1h-1.1zM356.2 197.3h1.3v1.3h-1.3zM288.1 217.1h1.5v1.5h-1.5zM327.5 209.5h1.1v1.1h-1.1zM263.8 202.4h1.9v1.9h-1.9zM266.6 201.3h2.0v2.0h-2.0zM293.7 189.1h2.3v2.3h-2.3zM272.7 199.0h1.0v1.0h-1.0zM282.6 198.4h1.5v1.5h-1.5zM256.8 202.1h2.0v2.0h-2.0zM346.6 188.1h1.8v1.8h-1.8zM353.2 211.1h2.2v2.2h-2.2zM356.0 215.0h1.5v1.5h-1.5zM251.2 186.4h1.6v1.6h-1.6zM250.3 205.5h2.1v2.1h-2.1zM252.3 205.3h1.4v1.4h-1.4zM268.5 191.1h2.2v2.2h-2.2zM417.9 193.4h2.3v2.3h-2.3zM405.5 220.1h1.4v1.4h-1.4zM252.5 194.3h1.9v1.9h-1.9zM357.9 191.7h1.0v1.0h-1.0zM415.6 183.0h1.1v1.1h-1.1zM305.0 199.0h2.1v2.1h-2.1zM315.9 192.6h1.7v1.7h-1.7zM313.9 209.7h1.1v1.1h-1.1zM295.5 201.3h1.3v1.3h-1.3zM323.8 220.2h1.6v1.6h-1.6zM251.3 207.3h1.9v1.9h-1.9zM408.6 189.3h2.1v2.1h-2.1zM424.1 198.3h1.3v1.3h-1.3zM298.6 213.5h1.6v1.6h-1.6zM418.3 175.6h2.1v2.1h-2.1zM274.1 183.8h1.7v1.7h-1.7zM373.1 199.5h1.0v1.0h-1.0zM277.9 201.4h2.3v2.3h-2.3zM347.7 205.9h1.5v1.5h-1.5zM316.8 226.9h1.4v1.4h-1.4zM322.1 206.1h1.5v1.5h-1.5zM381.0 191.8h1.7v1.7h-1.7zM262.1 227.7h1.6v1.6h-1.6zM310.0 192.4h1.7v1.7h-1.7zM395.4 198.6h2.1v2.1h-2.1zM280.5 186.6h1.7v1.7h-1.7zM328.0 192.3h1.4v1.4h-1.4zM273.8 181.9h1.1v1.1h-1.1zM336.4 180.5h1.9v1.9h-1.9zM273.8 191.1h1.0v1.0h-1.0zM414.5 191.6h1.1v1.1h-1.1zM248.8 207.7h1.8v1.8h-1.8zM256.4 187.0h1.3v1.3h-1.3zM343.7 191.5h1.6v1.6h-1.6zM311.9 184.7h2.1v2.1h-2.1zM314.3 209.0h1.9v1.9h-1.9zM276.1 194.5h2.3v2.3h-2.3zM289.9 186.8h1.3v1.3h-1.3zM385.1 200.9h2.2v2.2h-2.2zM312.6 186.0h1.7v1.7h-1.7zM294.0 198.1h1.5v1.5h-1.5zM269.6 212.0h1.2v1.2h-1.2zM366.2 190.7h2.1v2.1h-2.1zM305.8 194.0h1.2v1.2h-1.2zM274.1 188.2h1.0v1.0h-1.0zM409.1 213.7h0.9v0.9h-0.9zM374.2 204.7h1.5v1.5h-1.5zM389.5 194.9h2.0v2.0h-2.0zM343.2 191.4h1.4v1.4h-1.4zM403.1 173.4h1.3v1.3h-1.3zM353.6 205.7h1.3v1.3h-1.3zM331.7 201.3h1.4v1.4h-1.4zM270.8 196.8h1.6v1.6h-1.6zM345.2 193.1h1.8v1.8h-1.8zM328.7 226.7h2.3v2.3h-2.3zM388.2 180.0h1.6v1.6h-1.6zM339.4 188.5h1.9v1.9h-1.9zM383.3 222.7h1.2v1.2h-1.2zM380.5 221.6h1.8v1.8h-1.8zM293.0 196.0h1.9v1.9h-1.9zM399.1 189.2h1.1v1.1h-1.1zM247.3 205.5h1.9v1.9h-1.9zM402.0 185.8h2.1v2.1h-2.1zM357.4 197.3h1.6v1.6h-1.6zM380.8 202.3h2.3v2.3h-2.3zM329.9 199.9h1.7v1.7h-1.7zM398.1 202.6h2.2v2.2h-2.2zM261.1 201.1h1.5v1.5h-1.5zM284.5 178.9h2.1v2.1h-2.1zM269.7 190.2h1.0v1.0h-1.0zM398.4 180.0h1.0v1.0h-1.0zM280.6 201.2h1.7v1.7h-1.7zM355.8 174.4h1.9v1.9h-1.9zM299.3 193.0h1.0v1.0h-1.0zM316.8 208.3h2.1v2.1h-2.1zM377.5 223.5h1.0v1.0h-1.0zM321.7 197.0h2.1v2.1h-2.1zM302.9 200.4h2.1v2.1h-2.1zM355.8 183.4h2.0v2.0h-2.0zM321.9 188.2h1.9v1.9h-1.9zM379.4 192.8h2.0v2.0h-2.0zM319.7 207.0h1.7v1.7h-1.7zM312.0 199.7h1.8v1.8h-1.8zM382.1 218.9h1.3v1.3h-1.3zM385.6 227.9h2.0v2.0h-2.0zM293.7 214.7h1.2v1.2h-1.2zM300.8 202.5h1.2v1.2h-1.2zM361.1 184.5h1.3v1.3h-1.3zM425.3 204.7h2.2v2.2h-2.2zM329.8 188.6h1.6v1.6h-1.6zM264.8 213.8h1.4v1.4h-1.4zM300.2 199.4h2.2v2.2h-2.2zM285.4 221.9h2.1v2.1h-2.1zM393.9 209.7h1.2v1.2h-1.2zM340.3 183.4h1.9v1.9h-1.9zM291.5 194.3h2.2v2.2h-2.2zM327.5 196.9h1.6v1.6h-1.6zM362.3 176.6h2.1v2.1h-2.1zM396.5 209.5h1.4v1.4h-1.4zM259.5 197.0h1.2v1.2h-1.2zM268.7 174.3h1.3v1.3h-1.3zM362.2 200.4h1.3v1.3h-1.3zM367.5 201.5h2.1v2.1h-2.1zM272.8 192.9h1.2v1.2h-1.2zM428.2 211.0h2.0v2.0h-2.0zM384.6 199.2h1.2v1.2h-1.2zM402.2 210.2h1.5v1.5h-1.5zM284.2 207.5h1.5v1.5h-1.5zM349.7 227.4h1.3v1.3h-1.3zM318.5 199.7h1.8v1.8h-1.8zM378.5 200.3h2.3v2.3h-2.3zM409.9 196.0h2.2v2.2h-2.2zM340.5 185.5h1.9v1.9h-1.9zM357.6 197.1h2.1v2.1h-2.1zM299.2 183.7h2.1v2.1h-2.1zM259.4 208.8h1.9v1.9h-1.9zM248.1 193.1h1.1v1.1h-1.1zM302.2 197.5h2.1v2.1h-2.1zM271.3 208.3h1.1v1.1h-1.1zM253.2 204.1h2.0v2.0h-2.0zM304.4 185.6h1.1v1.1h-1.1zM399.0 206.9h1.8v1.8h-1.8zM328.4 193.6h1.2v1.2h-1.2zM346.9 203.2h1.7v1.7h-1.7zM289.7 198.7h1.3v1.3h-1.3zM371.1 227.6h1.0v1.0h-1.0zM412.0 207.6h2.1v2.1h-2.1zM376.8 195.4h1.0v1.0h-1.0zM251.0 193.8h1.5v1.5h-1.5zM274.8 187.5h1.1v1.1h-1.1zM361.4 182.7h1.1v1.1h-1.1zM393.9 184.3h1.9v1.9h-1.9zM405.5 193.5h1.0v1.0h-1.0zM403.3 202.6h1.9v1.9h-1.9zM349.6 189.7h2.2v2.2h-2.2zM244.5 218.0h2.3v2.3h-2.3zM249.2 222.1h1.1v1.1h-1.1zM279.2 214.6h2.2v2.2h-2.2zM273.9 187.1h1.5v1.5h-1.5zM344.9 226.2h1.4v1.4h-1.4zM409.6 190.4h2.1v2.1h-2.1zM311.2 176.8h2.1v2.1h-2.1zM286.9 208.7h1.5v1.5h-1.5zM425.0 214.0h2.3v2.3h-2.3zM418.8 187.2h2.3v2.3h-2.3zM266.4 210.7h1.1v1.1h-1.1zM423.9 202.5h1.0v1.0h-1.0zM394.1 184.5h2.0v2.0h-2.0zM363.8 176.2h1.8v1.8h-1.8zM418.8 185.1h1.9v1.9h-1.9zM379.7 177.6h1.7v1.7h-1.7zM318.7 191.7h1.0v1.0h-1.0zM290.3 212.5h1.1v1.1h-1.1zM399.3 205.7h2.3v2.3h-2.3zM393.2 217.9h2.2v2.2h-2.2zM401.7 199.5h1.0v1.0h-1.0zM316.7 195.1h1.4v1.4h-1.4zM262.1 190.3h2.0v2.0h-2.0zM409.2 216.1h1.3v1.3h-1.3zM380.6 190.1h1.4v1.4h-1.4zM343.6 216.3h1.3v1.3h-1.3zM254.7 181.6h2.2v2.2h-2.2zM294.6 204.7h1.2v1.2h-1.2zM336.8 194.8h1.5v1.5h-1.5zM317.9 219.9h1.0v1.0h-1.0zM333.8 191.3h1.1v1.1h-1.1zM389.0 223.8h2.2v2.2h-2.2zM335.7 206.8h1.4v1.4h-1.4zM420.7 220.6h2.2v2.2h-2.2zM314.6 213.9h1.2v1.2h-1.2zM297.0 202.2h1.6v1.6h-1.6zM336.5 169.9h1.9v1.9h-1.9zM413.0 203.1h1.9v1.9h-1.9zM377.1 174.6h2.0v2.0h-2.0zM371.1 188.0h1.6v1.6h-1.6zM394.9 183.5h1.3v1.3h-1.3zM368.8 213.4h2.0v2.0h-2.0zM321.2 219.8h1.0v1.0h-1.0zM264.3 180.4h2.2v2.2h-2.2zM294.8 206.6h1.2v1.2h-1.2zM323.1 217.2h1.4v1.4h-1.4zM355.7 208.2h1.8v1.8h-1.8zM315.8 205.2h1.8v1.8h-1.8zM282.6 197.3h1.8v1.8h-1.8zM360.3 217.6h1.5v1.5h-1.5zM369.6 213.9h1.0v1.0h-1.0zM278.8 208.0h1.7v1.7h-1.7zM255.1 202.9h1.4v1.4h-1.4zM409.9 195.7h1.9v1.9h-1.9zM321.1 204.9h1.5v1.5h-1.5zM323.8 194.1h1.0v1.0h-1.0zM315.3 191.6h1.7v1.7h-1.7zM370.8 195.8h1.9v1.9h-1.9zM354.1 180.9h1.7v1.7h-1.7zM421.4 204.4h2.0v2.0h-2.0zM303.8 169.2h1.5v1.5h-1.5zM307.8 217.5h1.0v1.0h-1.0zM350.8 211.0h1.8v1.8h-1.8zM306.4 180.6h2.0v2.0h-2.0zM317.9 180.5h1.2v1.2h-1.2zM285.1 194.9h1.0v1.0h-1.0zM377.1 209.9h2.0v2.0h-2.0zM271.4 199.1h1.7v1.7h-1.7zM280.1 187.9h2.1v2.1h-2.1zM375.8 200.6h1.3v1.3h-1.3zM426.3 199.1h1.1v1.1h-1.1zM424.3 200.9h1.8v1.8h-1.8zM379.5 196.1h1.5v1.5h-1.5zM263.2 205.2h1.9v1.9h-1.9zM278.8 183.5h2.0v2.0h-2.0zM340.6 175.9h1.9v1.9h-1.9zM393.2 213.8h1.3v1.3h-1.3zM397.2 196.0h0.9v0.9h-0.9zM315.3 221.0h1.5v1.5h-1.5zM366.1 191.1h2.3v2.3h-2.3zM346.9 178.6h1.4v1.4h-1.4zM383.0 193.1h1.3v1.3h-1.3zM261.1 213.0h1.6v1.6h-1.6zM246.7 213.2h1.5v1.5h-1.5zM372.2 187.9h1.5v1.5h-1.5zM280.2 201.4h1.9v1.9h-1.9zM411.5 214.2h1.0v1.0h-1.0zM325.3 187.9h0.9v0.9h-0.9zM243.6 194.2h1.5v1.5h-1.5zM425.8 207.3h1.1v1.1h-1.1zM313.3 216.1h1.4v1.4h-1.4zM412.4 179.4h1.3v1.3h-1.3zM245.0 205.8h2.0v2.0h-2.0zM341.1 213.4h1.6v1.6h-1.6zM302.3 213.3h1.5v1.5h-1.5zM306.3 208.6h0.9v0.9h-0.9zM364.7 196.9h1.3v1.3h-1.3zM334.4 202.8h1.5v1.5h-1.5zM355.2 212.8h1.0v1.0h-1.0zM410.5 201.3h2.2v2.2h-2.2zM286.5 188.5h1.1v1.1h-1.1zM342.2 187.9h2.0v2.0h-2.0zM418.4 198.5h1.0v1.0h-1.0zM298.3 203.4h1.2v1.2h-1.2zM405.1 211.8h2.0v2.0h-2.0zM304.7 195.3h1.1v1.1h-1.1zM357.5 206.8h2.2v2.2h-2.2zM241.9 203.7h1.8v1.8h-1.8zM299.7 197.8h1.1v1.1h-1.1zM397.8 182.2h1.2v1.2h-1.2zM379.4 185.8h1.6v1.6h-1.6z"/>
<path fill="#909a90" d="M249.7 198.9h1.2v1.2h-1.2zM419.5 188.3h1.0v1.0h-1.0zM260.8 193.3h2.2v2.2h-2.2zM310.1 186.7h2.0v2.0h-2.0zM266.6 192.3h2.0v2.0h-2.0zM296.8 196.8h2.0v2.0h-2.0zM412.3 195.2h1.2v1.2h-1.2zM249.9 215.4h1.0v1.0h-1.0zM273.9 191.5h1.5v1.5h-1.5zM427.0 185.1h1.7v1.7h-1.7zM277.7 186.2h1.3v1.3h-1.3zM280.5 190.2h2.0v2.0h-2.0zM301.7 183.5h1.4v1.4h-1.4zM384.2 201.3h0.9v0.9h-0.9zM378.0 186.8h1.7v1.7h-1.7zM325.6 206.6h1.7v1.7h-1.7zM328.8 174.6h2.1v2.1h-2.1zM348.3 197.9h1.2v1.2h-1.2zM271.2 176.8h1.6v1.6h-1.6zM330.3 209.2h1.3v1.3h-1.3zM341.4 193.1h1.6v1.6h-1.6zM287.7 205.4h1.5v1.5h-1.5zM359.2 191.7h1.7v1.7h-1.7zM411.6 176.7h2.1v2.1h-2.1zM312.2 188.1h1.2v1.2h-1.2zM253.1 204.6h1.4v1.4h-1.4zM280.6 184.8h2.1v2.1h-2.1zM337.4 211.8h2.3v2.3h-2.3zM396.4 203.9h1.0v1.0h-1.0zM274.6 198.1h1.0v1.0h-1.0zM393.8 211.6h1.3v1.3h-1.3zM395.5 188.2h1.6v1.6h-1.6zM356.3 205.9h1.6v1.6h-1.6zM420.9 187.0h1.5v1.5h-1.5zM372.1 190.2h1.8v1.8h-1.8zM314.4 208.3h1.7v1.7h-1.7zM271.8 217.7h2.3v2.3h-2.3zM383.6 225.9h1.3v1.3h-1.3zM290.1 191.2h1.4v1.4h-1.4zM399.7 194.5h1.1v1.1h-1.1zM350.8 177.0h1.1v1.1h-1.1zM309.4 191.1h1.7v1.7h-1.7zM319.6 206.6h1.6v1.6h-1.6zM356.2 192.4h1.9v1.9h-1.9zM383.2 196.9h2.1v2.1h-2.1zM423.1 206.9h1.7v1.7h-1.7zM321.0 216.2h1.5v1.5h-1.5zM383.9 186.8h1.3v1.3h-1.3zM397.2 211.9h2.2v2.2h-2.2zM255.8 200.6h2.2v2.2h-2.2zM290.6 209.6h1.8v1.8h-1.8zM244.6 191.2h2.0v2.0h-2.0zM322.1 222.1h1.9v1.9h-1.9zM417.8 201.5h1.3v1.3h-1.3zM398.1 172.1h1.9v1.9h-1.9zM373.7 195.2h1.6v1.6h-1.6zM312.4 194.2h1.7v1.7h-1.7zM377.2 193.7h1.5v1.5h-1.5zM334.7 203.7h2.2v2.2h-2.2zM275.6 205.5h1.1v1.1h-1.1zM376.4 214.6h2.0v2.0h-2.0zM405.1 172.7h2.3v2.3h-2.3zM292.7 197.9h2.2v2.2h-2.2zM270.3 195.3h2.1v2.1h-2.1zM310.6 198.3h1.2v1.2h-1.2zM273.7 186.3h0.9v0.9h-0.9zM332.5 203.7h1.6v1.6h-1.6zM337.7 177.3h1.4v1.4h-1.4zM413.4 171.8h1.3v1.3h-1.3zM357.2 215.5h1.8v1.8h-1.8zM249.2 208.8h0.9v0.9h-0.9zM344.1 194.4h1.2v1.2h-1.2zM316.1 193.4h2.3v2.3h-2.3zM288.8 189.7h1.9v1.9h-1.9zM398.5 209.8h2.1v2.1h-2.1zM313.4 184.5h1.4v1.4h-1.4zM337.3 196.8h1.6v1.6h-1.6zM279.4 183.3h2.0v2.0h-2.0zM408.9 183.1h1.4v1.4h-1.4zM244.9 194.9h1.6v1.6h-1.6zM414.4 199.7h1.4v1.4h-1.4zM286.6 173.6h1.7v1.7h-1.7zM362.2 181.9h2.2v2.2h-2.2zM414.6 215.2h1.4v1.4h-1.4zM401.5 194.5h2.2v2.2h-2.2zM250.5 182.2h2.0v2.0h-2.0zM326.4 174.8h1.1v1.1h-1.1zM253.0 208.8h1.9v1.9h-1.9zM295.9 186.3h1.1v1.1h-1.1zM279.1 218.4h2.2v2.2h-2.2zM321.6 186.4h1.0v1.0h-1.0zM403.4 179.4h1.1v1.1h-1.1zM310.7 220.2h1.2v1.2h-1.2zM279.4 199.4h1.4v1.4h-1.4zM352.5 196.6h0.9v0.9h-0.9zM268.8 198.1h1.1v1.1h-1.1zM397.5 182.4h1.7v1.7h-1.7zM286.2 182.1h1.8v1.8h-1.8zM380.7 181.6h1.4v1.4h-1.4zM276.1 199.0h1.3v1.3h-1.3zM377.5 210.3h1.0v1.0h-1.0zM282.3 198.5h1.2v1.2h-1.2zM320.4 182.4h1.4v1.4h-1.4zM405.8 204.2h1.9v1.9h-1.9zM406.7 192.8h2.3v2.3h-2.3zM345.9 204.2h1.1v1.1h-1.1zM287.4 204.6h1.4v1.4h-1.4zM309.4 207.5h2.1v2.1h-2.1zM257.0 212.2h2.1v2.1h-2.1zM404.0 191.9h1.8v1.8h-1.8zM420.1 198.4h1.6v1.6h-1.6zM360.3 197.8h1.3v1.3h-1.3zM310.8 204.6h1.0v1.0h-1.0zM309.0 223.3h2.0v2.0h-2.0zM288.8 195.9h2.2v2.2h-2.2zM291.9 208.3h1.3v1.3h-1.3zM358.1 190.4h1.3v1.3h-1.3zM401.4 207.8h2.2v2.2h-2.2zM383.4 200.2h1.1v1.1h-1.1zM375.1 199.0h1.8v1.8h-1.8zM345.1 195.4h2.2v2.2h-2.2zM343.7 185.6h2.1v2.1h-2.1zM330.8 194.5h1.2v1.2h-1.2zM422.5 190.1h2.3v2.3h-2.3zM363.0 188.8h1.7v1.7h-1.7zM327.5 185.0h2.3v2.3h-2.3zM402.8 213.3h1.9v1.9h-1.9zM396.9 202.3h1.2v1.2h-1.2zM360.9 208.4h1.9v1.9h-1.9zM354.0 210.9h2.3v2.3h-2.3zM326.8 208.2h2.0v2.0h-2.0zM286.2 199.2h1.4v1.4h-1.4zM337.4 204.0h1.2v1.2h-1.2zM344.8 177.3h1.8v1.8h-1.8zM304.4 186.4h1.4v1.4h-1.4zM253.6 194.2h1.4v1.4h-1.4zM358.5 205.3h1.1v1.1h-1.1zM381.2 202.7h1.8v1.8h-1.8zM274.9 203.1h1.7v1.7h-1.7zM383.2 193.7h1.8v1.8h-1.8zM406.0 183.1h1.1v1.1h-1.1zM378.0 183.9h2.2v2.2h-2.2zM279.7 181.3h1.5v1.5h-1.5zM316.9 219.8h1.7v1.7h-1.7zM386.7 198.6h1.0v1.0h-1.0zM361.9 183.8h1.5v1.5h-1.5zM369.1 179.4h1.4v1.4h-1.4zM376.7 209.4h1.0v1.0h-1.0zM275.1 214.5h1.0v1.0h-1.0zM364.3 193.9h1.2v1.2h-1.2zM320.1 201.8h1.9v1.9h-1.9zM375.4 200.3h0.9v0.9h-0.9zM377.1 204.1h1.0v1.0h-1.0zM374.6 211.8h1.3v1.3h-1.3zM357.7 194.4h2.1v2.1h-2.1zM328.9 210.5h2.2v2.2h-2.2zM264.7 219.8h1.7v1.7h-1.7zM361.6 208.8h2.0v2.0h-2.0zM331.6 216.0h2.3v2.3h-2.3zM403.0 195.2h2.0v2.0h-2.0zM419.8 195.5h1.2v1.2h-1.2zM305.7 194.5h1.2v1.2h-1.2zM302.9 191.9h1.9v1.9h-1.9zM411.4 199.9h1.3v1.3h-1.3zM293.4 185.9h1.2v1.2h-1.2zM361.7 199.4h1.8v1.8h-1.8zM344.4 212.9h2.2v2.2h-2.2zM334.9 213.3h1.6v1.6h-1.6zM273.2 197.5h2.0v2.0h-2.0zM369.7 180.5h1.3v1.3h-1.3zM294.7 171.5h0.9v0.9h-0.9zM285.3 197.4h1.5v1.5h-1.5zM363.5 197.3h1.6v1.6h-1.6zM354.1 186.4h1.1v1.1h-1.1zM422.0 197.9h0.9v0.9h-0.9zM312.1 212.7h1.3v1.3h-1.3zM262.6 177.8h2.3v2.3h-2.3zM280.0 191.6h1.9v1.9h-1.9zM371.9 208.6h1.1v1.1h-1.1zM388.6 176.9h2.3v2.3h-2.3zM266.6 203.6h2.1v2.1h-2.1zM416.0 196.9h1.3v1.3h-1.3zM265.7 213.8h1.8v1.8h-1.8zM348.6 198.8h1.4v1.4h-1.4zM408.4 216.1h1.0v1.0h-1.0zM375.8 188.0h1.5v1.5h-1.5zM426.1 198.1h1.1v1.1h-1.1zM409.1 190.7h2.2v2.2h-2.2zM324.0 207.9h1.8v1.8h-1.8zM271.2 175.8h1.6v1.6h-1.6zM417.4 206.9h1.0v1.0h-1.0zM260.1 188.6h1.9v1.9h-1.9zM351.3 205.3h1.7v1.7h-1.7zM289.4 200.7h1.6v1.6h-1.6zM397.0 172.7h2.0v2.0h-2.0zM292.7 193.2h1.7v1.7h-1.7zM424.0 195.1h2.0v2.0h-2.0zM313.1 207.4h0.9v0.9h-0.9zM302.1 196.4h1.1v1.1h-1.1zM392.5 193.3h1.2v1.2h-1.2zM272.5 193.7h0.9v0.9h-0.9zM419.1 198.7h1.1v1.1h-1.1zM290.9 214.5h2.0v2.0h-2.0zM267.4 189.2h0.9v0.9h-0.9zM298.8 168.3h1.9v1.9h-1.9zM407.8 184.3h1.0v1.0h-1.0zM393.1 174.4h1.0v1.0h-1.0zM318.5 205.0h2.0v2.0h-2.0zM256.0 203.2h1.3v1.3h-1.3zM345.5 200.0h1.2v1.2h-1.2zM420.0 195.3h1.2v1.2h-1.2zM410.6 180.6h2.2v2.2h-2.2zM347.8 174.9h1.4v1.4h-1.4zM302.2 185.1h1.5v1.5h-1.5zM406.9 193.3h1.5v1.5h-1.5zM405.8 205.7h1.7v1.7h-1.7zM358.3 201.3h1.4v1.4h-1.4zM386.4 196.2h2.1v2.1h-2.1zM284.6 185.2h1.3v1.3h-1.3zM381.9 214.8h1.1v1.1h-1.1zM348.6 199.2h2.3v2.3h-2.3zM370.8 214.5h1.3v1.3h-1.3zM326.7 191.0h1.9v1.9h-1.9zM388.5 183.2h1.1v1.1h-1.1zM373.2 185.9h1.3v1.3h-1.3zM298.0 202.6h1.5v1.5h-1.5zM307.3 226.4h1.1v1.1h-1.1zM277.3 196.8h2.0v2.0h-2.0zM339.9 223.9h1.5v1.5h-1.5zM340.6 207.2h2.2v2.2h-2.2zM286.9 179.0h1.4v1.4h-1.4zM345.2 208.8h2.1v2.1h-2.1zM275.0 184.0h1.3v1.3h-1.3zM321.6 194.1h2.2v2.2h-2.2zM362.2 206.8h1.0v1.0h-1.0zM273.0 204.4h2.1v2.1h-2.1zM365.1 187.9h1.3v1.3h-1.3zM380.9 180.3h1.9v1.9h-1.9zM405.9 184.9h2.3v2.3h-2.3zM365.8 189.5h1.2v1.2h-1.2zM405.6 204.3h1.1v1.1h-1.1zM341.0 187.2h1.4v1.4h-1.4zM311.8 188.8h1.3v1.3h-1.3zM417.6 188.6h2.0v2.0h-2.0zM329.2 193.1h2.0v2.0h-2.0zM323.0 213.0h1.2v1.2h-1.2zM359.6 177.0h1.3v1.3h-1.3zM333.3 207.1h2.1v2.1h-2.1zM276.3 191.4h2.2v2.2h-2.2zM297.6 189.2h1.2v1.2h-1.2zM367.8 182.0h1.0v1.0h-1.0zM250.4 211.3h2.2v2.2h-2.2zM399.6 205.0h1.3v1.3h-1.3zM308.7 195.2h1.5v1.5h-1.5zM261.1 203.9h1.6v1.6h-1.6zM395.9 173.7h2.1v2.1h-2.1zM333.5 207.1h1.8v1.8h-1.8zM350.6 212.8h2.3v2.3h-2.3zM412.5 210.2h1.7v1.7h-1.7zM379.7 207.8h2.2v2.2h-2.2zM303.5 190.0h1.8v1.8h-1.8zM409.2 189.2h1.6v1.6h-1.6zM262.1 200.6h1.2v1.2h-1.2zM274.2 174.0h1.6v1.6h-1.6zM371.6 204.0h2.0v2.0h-2.0zM371.8 182.2h2.2v2.2h-2.2zM317.3 210.6h2.0v2.0h-2.0zM334.9 177.5h2.0v2.0h-2.0zM280.4 189.7h2.0v2.0h-2.0zM418.1 193.8h1.2v1.2h-1.2zM323.8 212.5h1.3v1.3h-1.3zM328.3 196.8h1.1v1.1h-1.1zM267.9 195.4h1.0v1.0h-1.0zM316.6 185.2h2.2v2.2h-2.2zM280.8 205.8h0.9v0.9h-0.9zM379.0 190.5h1.7v1.7h-1.7zM379.2 217.5h1.6v1.6h-1.6zM330.9 192.9h1.4v1.4h-1.4zM316.5 185.8h2.1v2.1h-2.1zM261.8 191.3h1.1v1.1h-1.1zM382.6 200.2h1.7v1.7h-1.7zM306.1 198.8h1.2v1.2h-1.2zM382.3 212.0h1.2v1.2h-1.2zM331.7 194.4h2.3v2.3h-2.3zM304.9 207.3h1.8v1.8h-1.8zM314.2 183.9h2.2v2.2h-2.2zM377.9 199.2h1.8v1.8h-1.8zM252.7 206.5h1.6v1.6h-1.6zM285.8 203.8h1.0v1.0h-1.0zM402.6 200.9h1.4v1.4h-1.4zM405.8 210.2h1.7v1.7h-1.7zM361.0 189.7h1.9v1.9h-1.9zM395.6 199.6h2.0v2.0h-2.0zM331.0 173.2h1.2v1.2h-1.2zM352.2 207.9h2.2v2.2h-2.2zM300.9 193.5h2.0v2.0h-2.0zM313.6 194.3h1.9v1.9h-1.9zM302.4 196.4h1.9v1.9h-1.9zM254.6 181.9h1.3v1.3h-1.3zM262.2 198.9h1.8v1.8h-1.8zM295.8 193.0h1.3v1.3h-1.3zM397.1 185.6h2.0v2.0h-2.0zM404.5 196.9h1.4v1.4h-1.4zM420.4 192.7h1.9v1.9h-1.9zM328.6 188.0h1.4v1.4h-1.4zM332.4 190.1h1.2v1.2h-1.2zM397.2 203.1h1.3v1.3h-1.3zM346.8 188.3h1.1v1.1h-1.1zM382.4 194.8h1.8v1.8h-1.8zM368.5 201.3h1.7v1.7h-1.7zM286.2 193.1h1.9v1.9h-1.9zM345.8 201.9h1.4v1.4h-1.4zM258.2 209.5h1.7v1.7h-1.7zM310.0 203.8h1.5v1.5h-1.5zM371.9 223.9h1.2v1.2h-1.2zM338.5 189.5h1.9v1.9h-1.9zM413.0 215.8h1.4v1.4h-1.4zM331.7 181.8h1.9v1.9h-1.9zM413.0 181.6h1.5v1.5h-1.5zM322.1 191.6h0.9v0.9h-0.9zM342.4 207.4h1.9v1.9h-1.9zM323.6 200.2h1.9v1.9h-1.9zM324.7 193.2h1.1v1.1h-1.1zM338.3 207.4h1.8v1.8h-1.8zM410.9 183.4h1.7v1.7h-1.7zM305.0 211.8h1.2v1.2h-1.2zM321.7 178.4h1.1v1.1h-1.1zM304.3 201.6h1.2v1.2h-1.2zM242.0 176.3h2.3v2.3h-2.3zM424.4 210.4h2.1v2.1h-2.1zM404.6 186.3h1.8v1.8h-1.8zM417.4 180.9h1.5v1.5h-1.5zM393.6 205.9h2.0v2.0h-2.0zM323.9 185.8h1.8v1.8h-1.8zM313.5 186.0h1.4v1.4h-1.4zM407.5 181.2h1.9v1.9h-1.9zM248.2 222.0h1.1v1.1h-1.1zM256.7 195.1h1.9v1.9h-1.9zM411.9 180.0h1.5v1.5h-1.5z"/>
<path fill="#4fb83f" d="M355.3 181.6h1.8v1.8h-1.8zM284.7 178.1h2.3v2.3h-2.3zM350.5 197.4h1.1v1.1h-1.1zM313.7 211.3h1.2v1.2h-1.2zM398.3 190.6h1.0v1.0h-1.0zM360.1 212.5h0.9v0.9h-0.9zM384.1 198.8h1.2v1.2h-1.2zM330.6 209.3h1.6v1.6h-1.6zM305.5 202.6h1.9v1.9h-1.9zM267.6 216.6h0.9v0.9h-0.9zM302.7 210.1h2.0v2.0h-2.0zM376.1 170.7h2.0v2.0h-2.0zM426.5 198.7h1.1v1.1h-1.1zM367.7 202.2h1.0v1.0h-1.0zM386.1 212.0h1.4v1.4h-1.4zM421.5 193.2h1.0v1.0h-1.0zM377.0 195.1h2.2v2.2h-2.2zM251.6 194.4h1.0v1.0h-1.0zM361.9 166.1h1.3v1.3h-1.3zM308.0 207.7h1.4v1.4h-1.4zM281.2 169.0h1.6v1.6h-1.6zM288.9 190.4h1.9v1.9h-1.9zM420.6 198.5h1.1v1.1h-1.1zM404.4 210.5h1.7v1.7h-1.7zM291.9 204.4h2.2v2.2h-2.2zM327.2 212.7h1.8v1.8h-1.8zM356.1 200.0h1.9v1.9h-1.9zM420.6 183.1h2.1v2.1h-2.1zM267.4 187.4h0.9v0.9h-0.9zM351.7 204.2h1.7v1.7h-1.7zM276.2 210.5h1.6v1.6h-1.6zM380.7 217.4h2.2v2.2h-2.2zM360.2 207.2h1.1v1.1h-1.1zM342.3 197.2h2.2v2.2h-2.2zM400.1 205.6h1.6v1.6h-1.6zM423.0 220.5h2.0v2.0h-2.0zM260.8 201.3h1.0v1.0h-1.0zM339.3 205.6h1.1v1.1h-1.1zM422.5 188.9h1.5v1.5h-1.5zM394.1 193.2h1.1v1.1h-1.1zM327.3 186.8h1.3v1.3h-1.3zM415.5 208.3h1.3v1.3h-1.3zM342.1 181.0h1.4v1.4h-1.4zM252.7 186.8h1.3v1.3h-1.3zM371.5 167.6h1.9v1.9h-1.9zM371.7 182.0h1.3v1.3h-1.3zM409.4 182.0h1.4v1.4h-1.4zM333.7 190.8h1.6v1.6h-1.6zM303.9 185.0h1.8v1.8h-1.8zM366.3 222.7h1.1v1.1h-1.1zM292.7 207.2h0.9v0.9h-0.9zM236.6 198.2h1.8v1.8h-1.8zM429.8 198.1h1.6v1.6h-1.6zM263.0 199.3h1.0v1.0h-1.0zM325.1 185.9h2.2v2.2h-2.2zM281.9 210.3h1.2v1.2h-1.2zM404.5 186.5h1.2v1.2h-1.2zM382.6 176.0h2.1v2.1h-2.1zM329.6 214.0h1.7v1.7h-1.7zM314.9 210.8h1.7v1.7h-1.7zM256.6 195.9h2.3v2.3h-2.3zM278.3 217.6h2.0v2.0h-2.0zM397.5 221.2h1.1v1.1h-1.1zM298.6 206.1h1.6v1.6h-1.6zM401.1 211.6h2.1v2.1h-2.1zM401.9 175.0h1.9v1.9h-1.9zM407.3 204.0h1.7v1.7h-1.7zM261.8 227.1h1.2v1.2h-1.2zM293.1 204.4h2.0v2.0h-2.0zM343.5 186.1h1.5v1.5h-1.5zM295.2 197.6h1.9v1.9h-1.9zM309.4 209.0h1.1v1.1h-1.1zM252.8 197.4h1.2v1.2h-1.2zM421.7 211.1h1.5v1.5h-1.5zM279.1 212.9h0.9v0.9h-0.9zM265.5 198.1h2.1v2.1h-2.1zM394.1 216.2h2.0v2.0h-2.0zM248.5 191.4h1.6v1.6h-1.6zM310.5 201.5h2.2v2.2h-2.2zM314.0 204.3h2.1v2.1h-2.1zM257.7 200.6h2.2v2.2h-2.2zM247.3 202.6h1.0v1.0h-1.0zM302.2 203.2h1.9v1.9h-1.9zM271.1 217.2h1.8v1.8h-1.8zM250.7 195.8h1.5v1.5h-1.5zM271.9 211.9h1.1v1.1h-1.1zM339.0 183.2h1.6v1.6h-1.6zM334.6 184.5h1.6v1.6h-1.6zM390.4 170.0h1.4v1.4h-1.4zM298.2 195.9h1.1v1.1h-1.1zM341.0 205.5h1.5v1.5h-1.5zM241.1 181.4h1.6v1.6h-1.6zM340.9 182.7h2.0v2.0h-2.0zM399.4 187.3h2.0v2.0h-2.0zM393.5 192.1h2.0v2.0h-2.0zM388.3 183.3h1.2v1.2h-1.2zM392.3 199.6h2.3v2.3h-2.3zM391.7 195.3h1.3v1.3h-1.3zM368.6 191.6h1.9v1.9h-1.9zM392.1 188.9h1.9v1.9h-1.9zM249.0 191.9h1.4v1.4h-1.4zM257.5 222.9h1.4v1.4h-1.4zM300.4 178.7h1.1v1.1h-1.1zM331.9 175.8h1.9v1.9h-1.9zM347.7 187.9h1.3v1.3h-1.3zM366.6 167.7h1.8v1.8h-1.8zM304.1 184.3h1.5v1.5h-1.5zM311.6 196.9h1.3v1.3h-1.3zM334.3 194.7h1.2v1.2h-1.2zM378.8 222.2h1.4v1.4h-1.4zM356.6 194.4h1.6v1.6h-1.6zM319.2 186.0h2.1v2.1h-2.1zM400.1 188.1h1.5v1.5h-1.5zM400.4 194.5h1.2v1.2h-1.2zM247.4 185.8h1.7v1.7h-1.7zM296.0 203.5h1.7v1.7h-1.7zM411.6 183.9h1.0v1.0h-1.0zM419.7 181.2h1.1v1.1h-1.1zM261.0 171.9h1.4v1.4h-1.4zM247.1 195.6h1.5v1.5h-1.5zM243.1 186.8h1.1v1.1h-1.1zM282.9 218.5h1.1v1.1h-1.1zM332.4 173.1h1.0v1.0h-1.0zM300.0 213.1h1.2v1.2h-1.2zM395.5 206.4h1.6v1.6h-1.6zM402.5 206.1h1.8v1.8h-1.8zM359.4 186.7h1.8v1.8h-1.8zM351.6 204.3h2.3v2.3h-2.3zM391.3 201.0h2.0v2.0h-2.0zM343.9 190.6h1.5v1.5h-1.5zM283.3 176.6h1.5v1.5h-1.5zM408.4 214.5h1.6v1.6h-1.6zM324.0 216.9h1.8v1.8h-1.8zM294.7 166.1h2.2v2.2h-2.2zM282.5 183.6h1.0v1.0h-1.0zM339.9 170.8h1.4v1.4h-1.4zM387.3 206.4h1.1v1.1h-1.1zM259.7 214.8h1.5v1.5h-1.5zM417.3 166.8h1.1v1.1h-1.1zM403.2 192.2h1.4v1.4h-1.4zM414.7 205.0h1.9v1.9h-1.9zM413.6 205.4h1.6v1.6h-1.6zM254.7 184.4h2.1v2.1h-2.1zM353.6 211.7h2.1v2.1h-2.1zM301.0 187.6h1.7v1.7h-1.7zM426.2 200.0h1.1v1.1h-1.1zM328.3 207.0h1.2v1.2h-1.2zM295.7 185.6h1.6v1.6h-1.6zM283.9 217.5h0.9v0.9h-0.9zM380.2 192.4h1.9v1.9h-1.9zM336.3 193.8h0.9v0.9h-0.9zM293.9 201.4h2.3v2.3h-2.3zM256.5 202.3h1.3v1.3h-1.3zM354.3 181.4h1.8v1.8h-1.8zM257.9 183.7h1.5v1.5h-1.5zM347.1 208.6h0.9v0.9h-0.9zM359.0 209.9h1.5v1.5h-1.5zM393.2 208.7h2.3v2.3h-2.3zM298.9 216.0h1.5v1.5h-1.5zM257.1 192.8h1.0v1.0h-1.0zM311.3 189.4h1.9v1.9h-1.9zM261.3 187.6h1.7v1.7h-1.7zM251.1 205.2h1.1v1.1h-1.1zM380.4 182.3h1.6v1.6h-1.6zM365.3 194.0h1.5v1.5h-1.5zM370.2 205.0h1.6v1.6h-1.6zM369.5 207.4h1.9v1.9h-1.9zM281.9 207.7h1.3v1.3h-1.3zM420.0 197.8h2.0v2.0h-2.0zM293.4 221.3h1.8v1.8h-1.8zM318.6 216.9h1.3v1.3h-1.3zM323.4 209.1h1.0v1.0h-1.0zM317.0 217.8h0.9v0.9h-0.9zM287.0 192.1h1.3v1.3h-1.3zM366.0 200.2h1.7v1.7h-1.7zM375.4 206.9h1.3v1.3h-1.3zM276.4 192.5h1.6v1.6h-1.6zM393.2 190.2h2.2v2.2h-2.2zM285.6 206.0h1.9v1.9h-1.9zM340.0 200.3h1.0v1.0h-1.0zM417.5 198.6h2.0v2.0h-2.0zM264.1 196.9h1.6v1.6h-1.6zM419.1 199.2h1.7v1.7h-1.7zM404.5 190.7h1.4v1.4h-1.4zM265.9 211.3h2.0v2.0h-2.0zM382.9 193.3h1.4v1.4h-1.4zM262.6 197.0h1.7v1.7h-1.7zM273.8 206.1h1.3v1.3h-1.3zM301.3 188.6h1.1v1.1h-1.1zM400.5 206.5h2.2v2.2h-2.2zM297.5 193.5h1.0v1.0h-1.0zM402.0 218.6h1.1v1.1h-1.1zM350.9 192.6h1.4v1.4h-1.4zM322.0 221.7h1.2v1.2h-1.2zM404.9 192.0h2.0v2.0h-2.0zM360.9 192.6h1.9v1.9h-1.9zM390.3 212.4h0.9v0.9h-0.9zM352.6 195.4h1.1v1.1h-1.1zM305.4 203.4h1.8v1.8h-1.8zM413.3 179.7h2.1v2.1h-2.1zM291.1 187.5h2.2v2.2h-2.2zM320.3 191.9h1.8v1.8h-1.8zM281.1 187.5h1.1v1.1h-1.1zM295.3 208.6h2.0v2.0h-2.0zM296.1 202.1h1.7v1.7h-1.7zM392.2 188.9h1.7v1.7h-1.7zM286.2 178.6h1.8v1.8h-1.8zM279.6 201.1h1.7v1.7h-1.7zM289.2 186.9h1.0v1.0h-1.0zM357.6 196.9h1.1v1.1h-1.1zM247.6 188.4h1.8v1.8h-1.8zM351.9 193.4h2.1v2.1h-2.1zM358.3 205.4h1.1v1.1h-1.1zM267.9 216.1h2.3v2.3h-2.3zM242.9 186.7h1.6v1.6h-1.6zM339.2 200.3h1.4v1.4h-1.4zM345.1 188.2h1.6v1.6h-1.6zM362.5 187.8h1.9v1.9h-1.9zM318.2 198.2h2.1v2.1h-2.1zM266.4 207.5h2.2v2.2h-2.2zM246.3 188.1h1.6v1.6h-1.6zM355.4 193.4h2.3v2.3h-2.3zM256.5 200.5h2.0v2.0h-2.0zM292.8 189.5h1.8v1.8h-1.8zM250.7 207.1h1.4v1.4h-1.4zM302.4 192.2h2.2v2.2h-2.2zM414.9 209.6h2.3v2.3h-2.3zM357.6 202.3h1.1v1.1h-1.1zM256.4 187.0h1.3v1.3h-1.3zM369.0 178.0h2.3v2.3h-2.3zM315.2 190.5h1.3v1.3h-1.3zM401.2 183.5h1.8v1.8h-1.8zM252.3 199.3h1.4v1.4h-1.4zM354.2 185.8h1.9v1.9h-1.9zM250.5 201.2h2.2v2.2h-2.2zM368.0 176.9h1.3v1.3h-1.3zM305.3 210.3h2.0v2.0h-2.0zM402.6 177.5h1.6v1.6h-1.6zM294.2 193.9h1.1v1.1h-1.1zM415.2 217.2h2.1v2.1h-2.1zM267.2 202.0h2.2v2.2h-2.2zM310.5 195.2h0.9v0.9h-0.9zM273.8 181.5h1.6v1.6h-1.6zM372.4 178.4h1.2v1.2h-1.2zM259.7 193.2h1.2v1.2h-1.2zM361.7 190.8h1.5v1.5h-1.5zM340.0 193.1h1.9v1.9h-1.9zM362.9 185.9h1.8v1.8h-1.8zM408.4 201.8h1.7v1.7h-1.7zM359.9 188.5h1.9v1.9h-1.9zM264.6 224.6h2.2v2.2h-2.2zM368.5 202.9h1.5v1.5h-1.5zM258.2 190.1h1.3v1.3h-1.3zM364.5 211.4h2.2v2.2h-2.2zM381.4 191.8h1.7v1.7h-1.7zM259.7 181.0h2.2v2.2h-2.2zM332.8 213.6h1.7v1.7h-1.7zM386.7 176.7h1.8v1.8h-1.8zM292.0 201.4h1.5v1.5h-1.5zM347.4 202.5h2.1v2.1h-2.1zM344.6 190.3h2.1v2.1h-2.1zM399.4 219.9h1.5v1.5h-1.5zM379.7 194.2h1.2v1.2h-1.2zM282.7 196.6h1.0v1.0h-1.0zM363.1 202.7h1.2v1.2h-1.2zM297.8 199.2h1.6v1.6h-1.6zM303.9 190.7h2.0v2.0h-2.0zM318.0 204.6h1.4v1.4h-1.4zM252.1 212.9h2.0v2.0h-2.0zM306.6 207.5h1.3v1.3h-1.3zM317.2 171.8h1.0v1.0h-1.0zM422.8 207.8h1.5v1.5h-1.5zM426.3 212.8h1.9v1.9h-1.9zM275.0 223.4h1.4v1.4h-1.4zM258.2 205.2h1.5v1.5h-1.5zM283.3 184.6h1.7v1.7h-1.7zM403.1 217.6h1.0v1.0h-1.0zM244.2 204.0h1.7v1.7h-1.7zM399.6 194.9h1.8v1.8h-1.8zM363.9 190.0h1.3v1.3h-1.3zM366.4 179.2h1.0v1.0h-1.0zM364.9 185.0h2.1v2.1h-2.1zM317.6 189.8h1.6v1.6h-1.6zM405.7 195.4h1.7v1.7h-1.7zM373.3 205.5h1.8v1.8h-1.8zM359.4 188.0h1.9v1.9h-1.9zM403.1 205.2h1.1v1.1h-1.1zM336.8 181.5h1.1v1.1h-1.1zM313.1 194.6h2.1v2.1h-2.1zM264.1 189.8h1.8v1.8h-1.8zM303.9 204.4h0.9v0.9h-0.9zM372.1 211.8h1.7v1.7h-1.7zM401.5 204.2h2.0v2.0h-2.0zM354.0 182.2h1.1v1.1h-1.1zM349.9 212.6h1.3v1.3h-1.3zM395.3 225.0h1.5v1.5h-1.5zM339.1 194.2h1.1v1.1h-1.1zM349.3 185.0h1.1v1.1h-1.1zM375.4 198.5h2.3v2.3h-2.3zM324.9 182.8h1.6v1.6h-1.6zM274.9 209.4h1.8v1.8h-1.8zM418.6 191.6h1.8v1.8h-1.8zM317.4 185.6h1.3v1.3h-1.3zM379.2 184.6h1.2v1.2h-1.2zM395.2 204.9h1.7v1.7h-1.7zM417.4 210.4h1.2v1.2h-1.2zM385.5 184.0h2.0v2.0h-2.0zM394.8 180.8h1.5v1.5h-1.5zM362.3 213.5h1.6v1.6h-1.6zM283.0 189.3h1.6v1.6h-1.6zM280.2 199.2h1.7v1.7h-1.7zM266.1 199.2h1.0v1.0h-1.0zM247.1 207.8h1.8v1.8h-1.8zM307.4 184.2h1.0v1.0h-1.0zM306.6 204.8h2.0v2.0h-2.0zM415.4 196.0h2.2v2.2h-2.2zM256.4 195.5h1.3v1.3h-1.3zM342.4 199.3h1.7v1.7h-1.7zM257.1 202.3h2.1v2.1h-2.1zM385.9 210.8h2.3v2.3h-2.3zM371.1 203.7h2.1v2.1h-2.1zM370.1 171.0h2.3v2.3h-2.3zM361.1 191.0h2.2v2.2h-2.2zM274.8 199.1h1.1v1.1h-1.1zM379.9 196.8h2.1v2.1h-2.1zM330.6 173.7h1.0v1.0h-1.0zM395.9 183.8h1.1v1.1h-1.1zM367.0 176.6h1.9v1.9h-1.9zM354.4 192.4h1.0v1.0h-1.0zM241.1 170.6h1.9v1.9h-1.9zM394.7 197.1h2.0v2.0h-2.0zM316.3 216.4h1.4v1.4h-1.4zM271.7 202.2h1.0v1.0h-1.0zM271.5 228.9h1.2v1.2h-1.2zM325.1 221.0h2.2v2.2h-2.2zM280.0 200.4h1.5v1.5h-1.5zM418.0 200.5h2.2v2.2h-2.2zM290.0 178.1h1.1v1.1h-1.1z"/>
<path fill="#6e7e6e" d="M393.8 200.2h1.0v1.0h-1.0zM286.6 183.8h0.9v0.9h-0.9zM340.7 190.2h1.1v1.1h-1.1zM248.4 198.7h2.2v2.2h-2.2zM358.9 199.0h1.2v1.2h-1.2zM369.6 205.7h1.0v1.0h-1.0zM321.6 210.0h1.8v1.8h-1.8zM391.6 209.6h1.8v1.8h-1.8zM323.8 197.1h2.0v2.0h-2.0zM309.5 193.3h1.9v1.9h-1.9zM251.1 216.7h1.2v1.2h-1.2zM417.5 226.3h1.6v1.6h-1.6zM332.2 195.5h1.0v1.0h-1.0zM396.8 210.9h1.3v1.3h-1.3zM284.2 189.6h1.4v1.4h-1.4zM349.3 196.9h1.2v1.2h-1.2zM245.5 194.0h1.8v1.8h-1.8zM407.0 193.4h1.5v1.5h-1.5zM316.2 191.9h1.5v1.5h-1.5zM418.0 215.8h1.4v1.4h-1.4zM378.5 181.4h1.9v1.9h-1.9zM390.4 188.2h1.8v1.8h-1.8zM383.5 178.7h1.2v1.2h-1.2zM413.4 214.6h2.1v2.1h-2.1zM375.4 210.7h2.2v2.2h-2.2zM302.1 181.5h1.0v1.0h-1.0zM362.3 218.9h1.2v1.2h-1.2zM359.6 220.8h1.0v1.0h-1.0zM268.2 184.0h2.2v2.2h-2.2zM319.6 201.8h1.5v1.5h-1.5zM260.4 205.8h1.6v1.6h-1.6zM409.4 205.5h1.7v1.7h-1.7zM270.7 190.2h2.0v2.0h-2.0zM263.9 200.7h1.4v1.4h-1.4zM265.7 195.9h2.0v2.0h-2.0zM325.2 225.3h1.8v1.8h-1.8zM263.4 198.1h1.4v1.4h-1.4zM376.4 182.0h2.2v2.2h-2.2zM286.2 192.1h1.0v1.0h-1.0zM285.4 200.5h1.9v1.9h-1.9zM257.6 203.8h1.0v1.0h-1.0zM336.9 192.3h0.9v0.9h-0.9zM282.8 198.7h2.2v2.2h-2.2zM275.8 199.8h1.8v1.8h-1.8zM290.0 193.8h1.0v1.0h-1.0zM346.4 202.0h1.9v1.9h-1.9zM266.8 192.3h1.0v1.0h-1.0zM414.6 192.7h1.2v1.2h-1.2zM279.8 203.2h1.7v1.7h-1.7zM410.3 183.5h1.1v1.1h-1.1zM402.5 196.2h1.0v1.0h-1.0zM360.8 196.7h2.1v2.1h-2.1zM311.4 221.8h1.6v1.6h-1.6zM361.9 176.9h1.9v1.9h-1.9zM290.4 202.4h2.1v2.1h-2.1zM337.5 200.3h2.3v2.3h-2.3zM365.7 201.3h1.3v1.3h-1.3zM315.1 199.6h2.0v2.0h-2.0zM375.3 190.4h1.1v1.1h-1.1zM351.3 197.9h1.6v1.6h-1.6zM319.6 207.9h1.1v1.1h-1.1zM360.7 200.1h1.2v1.2h-1.2zM361.9 207.8h2.2v2.2h-2.2zM332.0 211.6h1.8v1.8h-1.8zM335.9 196.6h1.3v1.3h-1.3zM361.8 198.0h2.1v2.1h-2.1zM321.2 204.6h1.6v1.6h-1.6zM296.7 207.5h1.5v1.5h-1.5zM305.9 207.0h1.2v1.2h-1.2zM334.6 181.5h1.2v1.2h-1.2zM330.3 205.6h2.0v2.0h-2.0zM265.3 209.3h1.0v1.0h-1.0zM260.8 192.3h1.9v1.9h-1.9zM417.9 188.8h2.1v2.1h-2.1zM316.5 211.5h2.2v2.2h-2.2zM379.1 196.5h1.0v1.0h-1.0zM270.1 212.1h2.1v2.1h-2.1zM303.1 203.1h1.8v1.8h-1.8zM351.1 188.7h1.6v1.6h-1.6zM300.3 196.0h2.3v2.3h-2.3zM297.8 206.8h2.1v2.1h-2.1zM276.3 195.6h2.3v2.3h-2.3zM311.6 188.4h1.4v1.4h-1.4zM382.9 206.6h1.8v1.8h-1.8zM318.3 194.6h1.9v1.9h-1.9zM298.3 202.1h1.9v1.9h-1.9zM322.7 194.3h1.3v1.3h-1.3zM342.9 203.1h1.2v1.2h-1.2zM306.2 200.7h1.0v1.0h-1.0zM380.8 181.9h1.3v1.3h-1.3zM420.7 188.5h2.0v2.0h-2.0zM290.0 193.7h1.8v1.8h-1.8zM393.9 209.9h2.3v2.3h-2.3zM258.2 202.2h1.0v1.0h-1.0zM371.6 182.5h1.2v1.2h-1.2zM309.6 172.0h1.9v1.9h-1.9zM265.5 208.0h1.9v1.9h-1.9zM389.1 198.3h1.0v1.0h-1.0zM325.8 204.2h2.3v2.3h-2.3zM277.1 193.4h1.6v1.6h-1.6zM252.1 188.4h1.2v1.2h-1.2zM326.2 187.0h1.2v1.2h-1.2zM246.5 210.9h1.7v1.7h-1.7zM326.3 203.2h2.0v2.0h-2.0zM269.6 199.4h2.2v2.2h-2.2zM350.8 198.9h1.4v1.4h-1.4zM412.6 199.8h1.4v1.4h-1.4zM402.0 187.0h1.6v1.6h-1.6zM253.2 193.4h1.1v1.1h-1.1zM282.1 170.3h0.9v0.9h-0.9zM340.0 188.4h1.7v1.7h-1.7zM271.2 210.9h2.0v2.0h-2.0zM342.7 191.2h2.3v2.3h-2.3zM390.7 207.1h2.3v2.3h-2.3zM246.7 225.0h1.5v1.5h-1.5zM320.3 198.9h1.3v1.3h-1.3zM381.3 192.7h1.9v1.9h-1.9zM375.1 199.4h1.8v1.8h-1.8zM293.1 192.4h2.1v2.1h-2.1zM376.8 182.9h2.3v2.3h-2.3zM339.0 194.9h1.4v1.4h-1.4zM403.5 203.8h1.0v1.0h-1.0zM330.8 189.8h1.0v1.0h-1.0zM414.1 183.2h1.5v1.5h-1.5zM417.9 213.9h1.6v1.6h-1.6zM422.6 211.9h1.4v1.4h-1.4zM417.5 196.2h1.5v1.5h-1.5zM333.6 190.0h1.2v1.2h-1.2zM410.0 192.3h1.5v1.5h-1.5zM416.5 195.3h1.5v1.5h-1.5zM398.1 178.9h2.2v2.2h-2.2zM269.1 218.1h1.4v1.4h-1.4zM399.5 206.5h1.7v1.7h-1.7zM347.1 221.1h1.6v1.6h-1.6zM377.8 177.3h2.2v2.2h-2.2zM417.2 200.8h1.8v1.8h-1.8zM397.0 188.0h1.5v1.5h-1.5zM334.5 194.7h1.0v1.0h-1.0zM408.8 199.7h0.9v0.9h-0.9zM401.3 218.4h0.9v0.9h-0.9zM368.7 190.5h1.7v1.7h-1.7zM312.2 188.3h1.9v1.9h-1.9zM277.6 216.5h1.1v1.1h-1.1zM268.6 184.8h1.3v1.3h-1.3zM419.3 209.0h2.2v2.2h-2.2zM316.6 226.4h1.8v1.8h-1.8zM295.4 177.5h1.9v1.9h-1.9zM358.8 183.9h1.1v1.1h-1.1zM349.2 200.1h1.7v1.7h-1.7zM291.8 188.6h2.1v2.1h-2.1zM413.1 195.9h1.0v1.0h-1.0zM358.3 195.1h1.8v1.8h-1.8zM242.4 197.7h1.3v1.3h-1.3zM408.1 193.4h1.4v1.4h-1.4zM266.2 194.4h1.4v1.4h-1.4zM411.1 206.8h2.1v2.1h-2.1zM413.9 203.2h1.1v1.1h-1.1zM297.0 220.4h1.3v1.3h-1.3zM299.1 205.5h2.0v2.0h-2.0zM404.7 181.5h1.1v1.1h-1.1zM275.4 184.9h1.4v1.4h-1.4zM364.7 200.5h0.9v0.9h-0.9zM266.4 200.4h1.3v1.3h-1.3zM374.6 176.9h2.0v2.0h-2.0zM330.4 207.3h1.5v1.5h-1.5zM304.8 188.1h2.3v2.3h-2.3zM388.3 212.3h2.3v2.3h-2.3zM344.8 173.9h2.0v2.0h-2.0zM336.3 195.9h1.5v1.5h-1.5zM307.2 223.1h0.9v0.9h-0.9zM363.1 184.2h2.0v2.0h-2.0zM315.7 189.7h1.5v1.5h-1.5zM421.6 190.2h2.2v2.2h-2.2zM247.7 201.0h1.5v1.5h-1.5zM388.3 196.4h1.0v1.0h-1.0zM402.5 194.3h2.1v2.1h-2.1zM258.7 193.5h1.4v1.4h-1.4zM382.5 212.0h1.7v1.7h-1.7zM303.2 181.1h1.1v1.1h-1.1zM253.8 208.2h1.7v1.7h-1.7zM321.4 182.8h1.2v1.2h-1.2zM240.8 204.4h1.9v1.9h-1.9zM417.7 212.6h1.2v1.2h-1.2zM421.2 195.4h1.7v1.7h-1.7zM428.7 194.3h1.5v1.5h-1.5zM359.1 201.1h2.1v2.1h-2.1zM365.8 173.6h1.4v1.4h-1.4zM324.1 193.1h1.0v1.0h-1.0zM346.1 213.9h1.5v1.5h-1.5zM375.5 207.5h2.1v2.1h-2.1zM281.6 180.8h1.4v1.4h-1.4zM408.4 192.7h1.1v1.1h-1.1zM345.8 206.3h1.5v1.5h-1.5zM290.0 211.0h2.2v2.2h-2.2zM373.7 189.3h1.0v1.0h-1.0zM288.0 171.5h1.8v1.8h-1.8zM347.6 193.7h1.3v1.3h-1.3zM364.1 181.0h1.8v1.8h-1.8zM291.1 199.2h1.6v1.6h-1.6zM302.5 187.5h2.1v2.1h-2.1zM372.2 209.3h2.3v2.3h-2.3zM260.1 182.7h1.9v1.9h-1.9zM272.7 215.6h1.6v1.6h-1.6zM417.0 204.8h1.7v1.7h-1.7zM421.2 173.3h1.6v1.6h-1.6zM369.7 180.5h1.7v1.7h-1.7zM329.5 180.5h1.0v1.0h-1.0zM344.6 198.8h2.0v2.0h-2.0zM288.3 185.2h1.5v1.5h-1.5zM373.4 180.0h1.8v1.8h-1.8zM372.1 213.9h1.3v1.3h-1.3zM303.8 203.8h2.2v2.2h-2.2zM290.0 203.1h1.5v1.5h-1.5zM265.5 211.9h1.8v1.8h-1.8zM253.3 203.5h1.2v1.2h-1.2zM339.9 211.3h1.9v1.9h-1.9zM417.7 197.4h1.4v1.4h-1.4zM311.1 177.6h1.6v1.6h-1.6zM411.3 187.7h1.6v1.6h-1.6zM427.8 179.0h1.1v1.1h-1.1zM396.6 210.1h1.3v1.3h-1.3zM236.7 207.8h1.6v1.6h-1.6zM291.7 200.5h1.5v1.5h-1.5zM362.2 194.8h1.9v1.9h-1.9zM379.6 196.6h2.0v2.0h-2.0zM260.1 221.1h1.1v1.1h-1.1zM284.3 198.3h1.3v1.3h-1.3zM293.4 183.6h1.4v1.4h-1.4zM317.4 198.5h1.5v1.5h-1.5zM337.6 197.8h2.3v2.3h-2.3zM273.1 179.9h1.5v1.5h-1.5zM414.9 211.1h1.2v1.2h-1.2zM421.8 184.9h2.1v2.1h-2.1zM358.4 199.7h1.4v1.4h-1.4zM407.1 198.9h2.2v2.2h-2.2zM245.1 185.4h1.1v1.1h-1.1zM320.2 198.1h1.8v1.8h-1.8zM391.3 187.9h1.8v1.8h-1.8zM368.0 184.4h1.1v1.1h-1.1zM297.2 193.2h1.7v1.7h-1.7zM411.5 196.1h1.2v1.2h-1.2zM311.3 204.9h1.6v1.6h-1.6zM362.9 204.1h1.0v1.0h-1.0zM295.1 179.2h1.2v1.2h-1.2zM309.5 187.7h1.4v1.4h-1.4zM339.1 188.7h2.0v2.0h-2.0zM280.8 187.6h1.4v1.4h-1.4zM252.9 193.5h1.1v1.1h-1.1zM249.7 214.7h1.5v1.5h-1.5zM288.7 204.1h1.9v1.9h-1.9zM426.0 228.5h2.0v2.0h-2.0zM375.9 205.8h1.0v1.0h-1.0zM324.1 184.2h1.8v1.8h-1.8zM421.3 188.8h1.9v1.9h-1.9zM338.1 201.3h1.3v1.3h-1.3zM357.6 195.8h2.1v2.1h-2.1zM397.9 215.0h1.9v1.9h-1.9zM389.4 196.8h1.2v1.2h-1.2zM318.5 209.9h1.2v1.2h-1.2zM383.5 209.1h2.2v2.2h-2.2zM264.5 204.5h1.4v1.4h-1.4zM407.3 207.1h0.9v0.9h-0.9zM245.5 223.3h1.8v1.8h-1.8zM327.0 187.8h1.1v1.1h-1.1zM315.0 213.9h1.3v1.3h-1.3zM351.9 205.4h1.3v1.3h-1.3zM309.4 221.1h1.9v1.9h-1.9zM402.7 218.0h1.4v1.4h-1.4zM386.0 215.8h0.9v0.9h-0.9zM411.7 193.0h1.8v1.8h-1.8zM398.3 177.7h2.2v2.2h-2.2zM371.7 210.8h2.0v2.0h-2.0zM394.0 181.6h1.9v1.9h-1.9zM348.7 200.8h1.4v1.4h-1.4zM305.0 216.5h1.4v1.4h-1.4zM408.5 214.7h1.0v1.0h-1.0zM315.4 192.8h1.1v1.1h-1.1zM331.9 207.3h1.4v1.4h-1.4zM267.7 219.5h1.0v1.0h-1.0zM262.8 179.2h1.3v1.3h-1.3zM314.8 221.8h2.2v2.2h-2.2zM400.2 181.4h1.7v1.7h-1.7zM326.9 213.1h1.8v1.8h-1.8zM365.1 198.3h0.9v0.9h-0.9zM291.4 187.4h1.3v1.3h-1.3zM328.9 225.8h2.0v2.0h-2.0zM296.1 212.5h1.3v1.3h-1.3zM274.6 197.3h1.5v1.5h-1.5zM356.6 178.1h1.5v1.5h-1.5zM344.2 202.0h0.9v0.9h-0.9zM374.0 204.6h2.2v2.2h-2.2zM270.7 211.0h1.1v1.1h-1.1zM359.0 213.4h2.1v2.1h-2.1zM294.9 209.7h2.1v2.1h-2.1zM357.5 203.1h1.1v1.1h-1.1zM276.0 188.3h1.5v1.5h-1.5zM381.0 202.8h1.3v1.3h-1.3zM270.2 196.7h1.9v1.9h-1.9zM406.2 201.0h1.1v1.1h-1.1zM323.4 195.0h1.8v1.8h-1.8zM269.7 201.9h1.5v1.5h-1.5zM314.3 197.7h2.1v2.1h-2.1zM331.3 205.2h2.3v2.3h-2.3zM288.9 179.3h1.9v1.9h-1.9zM319.0 222.0h1.6v1.6h-1.6zM273.8 201.6h1.7v1.7h-1.7zM280.7 197.3h1.1v1.1h-1.1zM325.0 214.0h1.6v1.6h-1.6zM247.2 182.4h1.6v1.6h-1.6zM360.9 202.2h2.1v2.1h-2.1zM397.2 203.8h2.0v2.0h-2.0zM305.3 220.5h2.3v2.3h-2.3zM329.7 200.6h2.1v2.1h-2.1zM397.8 200.7h2.3v2.3h-2.3zM274.6 200.9h1.5v1.5h-1.5zM396.1 190.1h1.6v1.6h-1.6zM385.2 199.5h1.5v1.5h-1.5zM380.8 204.8h2.3v2.3h-2.3zM288.3 202.9h2.2v2.2h-2.2zM300.1 202.2h2.0v2.0h-2.0zM387.2 192.9h1.0v1.0h-1.0zM320.1 200.4h2.0v2.0h-2.0zM415.7 202.5h1.9v1.9h-1.9zM281.4 187.3h0.9v0.9h-0.9zM290.4 197.8h2.2v2.2h-2.2zM385.9 198.8h0.9v0.9h-0.9zM394.0 203.9h1.3v1.3h-1.3zM402.3 215.3h1.7v1.7h-1.7zM290.0 194.4h2.0v2.0h-2.0zM292.3 177.1h0.9v0.9h-0.9zM357.8 187.2h1.2v1.2h-1.2zM427.4 199.5h2.2v2.2h-2.2zM385.5 199.7h2.1v2.1h-2.1zM347.4 211.1h1.8v1.8h-1.8zM418.1 189.6h1.3v1.3h-1.3zM302.6 226.8h1.0v1.0h-1.0zM303.4 207.7h2.2v2.2h-2.2zM363.2 208.0h2.0v2.0h-2.0zM412.1 212.9h1.3v1.3h-1.3zM419.7 186.4h1.0v1.0h-1.0zM363.6 194.2h2.1v2.1h-2.1zM272.1 202.5h1.2v1.2h-1.2zM422.7 189.5h1.5v1.5h-1.5z"/>
<path fill="#5cc84a" d="M377.3 193.2h1.3v1.3h-1.3zM354.4 177.3h2.0v2.0h-2.0zM354.6 190.3h1.2v1.2h-1.2zM336.5 201.4h1.0v1.0h-1.0zM310.8 178.5h1.1v1.1h-1.1zM254.5 193.0h1.4v1.4h-1.4zM266.1 193.8h2.1v2.1h-2.1zM413.6 201.4h1.2v1.2h-1.2zM262.2 199.9h1.9v1.9h-1.9zM260.3 195.4h1.0v1.0h-1.0zM320.6 204.9h1.5v1.5h-1.5zM387.0 203.1h1.5v1.5h-1.5zM428.9 198.9h2.2v2.2h-2.2zM418.0 199.9h2.0v2.0h-2.0zM371.9 194.3h1.1v1.1h-1.1zM414.2 200.3h1.9v1.9h-1.9zM295.3 194.7h2.3v2.3h-2.3zM409.3 205.2h1.5v1.5h-1.5zM392.1 201.1h1.1v1.1h-1.1zM379.1 220.9h1.4v1.4h-1.4zM415.5 213.2h1.9v1.9h-1.9zM289.4 200.1h1.7v1.7h-1.7zM250.1 195.3h1.1v1.1h-1.1zM251.4 209.2h1.1v1.1h-1.1zM267.3 200.1h2.3v2.3h-2.3zM427.8 180.3h2.3v2.3h-2.3zM308.4 205.8h1.4v1.4h-1.4zM366.7 197.9h1.7v1.7h-1.7zM291.8 198.8h0.9v0.9h-0.9zM333.6 198.7h1.9v1.9h-1.9zM416.3 217.5h1.7v1.7h-1.7zM332.9 182.1h1.2v1.2h-1.2zM348.4 203.0h2.0v2.0h-2.0zM424.7 186.9h1.0v1.0h-1.0zM250.1 196.6h1.7v1.7h-1.7zM334.1 195.1h1.1v1.1h-1.1zM255.2 209.0h2.3v2.3h-2.3zM396.6 221.3h1.7v1.7h-1.7zM402.3 201.2h1.2v1.2h-1.2zM291.3 192.9h2.2v2.2h-2.2zM353.5 206.0h1.3v1.3h-1.3zM317.4 208.5h1.5v1.5h-1.5zM396.0 203.6h1.6v1.6h-1.6zM342.7 200.9h1.9v1.9h-1.9zM384.2 210.5h1.1v1.1h-1.1zM298.6 186.0h1.7v1.7h-1.7zM255.9 186.6h2.0v2.0h-2.0zM401.7 198.7h1.5v1.5h-1.5zM429.1 185.0h1.3v1.3h-1.3zM291.4 183.2h1.1v1.1h-1.1zM302.7 213.1h2.0v2.0h-2.0zM354.8 179.6h0.9v0.9h-0.9zM245.7 194.5h1.0v1.0h-1.0zM320.7 208.8h1.4v1.4h-1.4zM239.5 211.6h1.8v1.8h-1.8zM325.4 189.0h2.2v2.2h-2.2zM252.0 188.2h1.0v1.0h-1.0zM284.0 194.1h1.2v1.2h-1.2zM250.5 185.5h1.6v1.6h-1.6zM412.6 216.6h0.9v0.9h-0.9zM427.2 195.8h1.9v1.9h-1.9zM277.9 204.5h1.9v1.9h-1.9zM413.8 214.1h2.1v2.1h-2.1zM370.8 210.4h1.7v1.7h-1.7zM402.2 202.0h1.4v1.4h-1.4zM345.4 202.9h2.2v2.2h-2.2zM287.8 188.3h1.0v1.0h-1.0zM394.7 177.1h1.9v1.9h-1.9zM344.4 199.3h0.9v0.9h-0.9zM311.0 206.3h1.8v1.8h-1.8zM358.5 208.9h2.2v2.2h-2.2zM301.8 200.7h1.2v1.2h-1.2zM321.5 202.4h1.9v1.9h-1.9zM293.7 190.0h1.5v1.5h-1.5zM342.0 203.2h2.0v2.0h-2.0zM337.0 204.0h1.0v1.0h-1.0zM253.5 203.0h1.8v1.8h-1.8zM428.6 193.6h1.1v1.1h-1.1zM331.6 184.9h1.3v1.3h-1.3zM361.0 199.2h0.9v0.9h-0.9zM263.2 195.6h2.2v2.2h-2.2zM278.0 209.1h1.4v1.4h-1.4zM274.0 225.6h1.5v1.5h-1.5zM290.0 211.8h1.6v1.6h-1.6zM402.8 220.0h1.4v1.4h-1.4zM327.3 215.8h1.6v1.6h-1.6zM407.9 212.6h1.1v1.1h-1.1zM407.2 206.8h1.1v1.1h-1.1zM264.3 194.5h0.9v0.9h-0.9zM367.2 209.9h1.4v1.4h-1.4zM311.1 195.2h1.3v1.3h-1.3zM373.6 197.3h1.6v1.6h-1.6zM310.6 171.8h1.5v1.5h-1.5zM301.2 208.9h2.2v2.2h-2.2zM322.6 191.5h1.7v1.7h-1.7zM423.3 199.3h0.9v0.9h-0.9zM266.1 178.8h1.0v1.0h-1.0zM331.4 203.9h1.3v1.3h-1.3zM410.5 177.6h0.9v0.9h-0.9zM392.4 193.7h2.0v2.0h-2.0zM302.1 204.1h2.0v2.0h-2.0zM283.9 196.2h2.3v2.3h-2.3zM248.5 198.5h1.7v1.7h-1.7zM343.8 200.9h2.1v2.1h-2.1zM390.4 212.0h1.5v1.5h-1.5zM272.9 176.8h1.7v1.7h-1.7zM308.0 190.3h1.1v1.1h-1.1zM331.1 204.3h1.3v1.3h-1.3zM260.4 201.5h1.2v1.2h-1.2zM380.2 172.5h1.2v1.2h-1.2zM313.6 205.0h1.9v1.9h-1.9zM267.3 194.2h1.0v1.0h-1.0zM413.3 166.9h1.9v1.9h-1.9zM302.9 194.7h2.1v2.1h-2.1zM393.7 202.8h2.2v2.2h-2.2zM404.0 208.2h0.9v0.9h-0.9zM373.3 194.9h2.2v2.2h-2.2zM389.4 211.0h1.1v1.1h-1.1zM416.1 211.9h2.1v2.1h-2.1zM327.7 193.4h1.6v1.6h-1.6zM295.9 210.9h1.9v1.9h-1.9zM388.9 191.1h1.8v1.8h-1.8zM337.4 204.0h1.5v1.5h-1.5zM322.7 198.1h2.0v2.0h-2.0zM346.0 173.6h1.9v1.9h-1.9zM385.0 198.1h2.0v2.0h-2.0zM294.5 182.0h1.6v1.6h-1.6zM297.3 186.1h1.7v1.7h-1.7zM354.9 207.2h1.9v1.9h-1.9zM303.5 201.5h1.3v1.3h-1.3zM246.1 185.8h2.1v2.1h-2.1zM264.5 196.3h1.1v1.1h-1.1zM295.4 212.2h1.4v1.4h-1.4zM328.2 202.7h2.0v2.0h-2.0zM348.4 193.9h1.3v1.3h-1.3zM319.1 203.5h1.3v1.3h-1.3zM347.8 202.3h1.1v1.1h-1.1zM421.1 209.6h1.4v1.4h-1.4zM413.0 191.4h1.1v1.1h-1.1zM336.3 181.4h1.7v1.7h-1.7zM257.0 192.7h1.2v1.2h-1.2zM396.1 181.8h1.8v1.8h-1.8zM357.9 216.3h2.3v2.3h-2.3zM350.5 207.2h1.7v1.7h-1.7zM371.3 206.3h1.5v1.5h-1.5zM258.5 171.3h2.0v2.0h-2.0zM317.8 203.7h2.0v2.0h-2.0zM372.2 196.6h1.0v1.0h-1.0zM382.9 201.6h2.3v2.3h-2.3zM339.5 205.5h2.1v2.1h-2.1zM361.0 197.8h2.0v2.0h-2.0zM302.7 197.8h2.2v2.2h-2.2zM286.7 184.9h1.7v1.7h-1.7zM361.9 220.4h1.3v1.3h-1.3zM359.5 188.0h1.0v1.0h-1.0zM406.4 211.3h1.5v1.5h-1.5zM400.2 192.1h1.7v1.7h-1.7zM311.7 211.3h1.0v1.0h-1.0zM299.8 217.1h2.1v2.1h-2.1zM400.1 225.5h1.6v1.6h-1.6zM292.4 190.1h1.3v1.3h-1.3zM381.8 177.0h2.3v2.3h-2.3zM330.0 202.1h1.8v1.8h-1.8zM374.4 181.4h1.2v1.2h-1.2zM278.0 171.3h1.2v1.2h-1.2zM281.3 186.2h2.0v2.0h-2.0zM387.8 209.9h2.2v2.2h-2.2zM313.5 204.0h2.3v2.3h-2.3zM306.3 191.1h1.9v1.9h-1.9zM306.6 187.6h1.6v1.6h-1.6zM317.7 210.5h2.0v2.0h-2.0zM421.9 208.8h2.1v2.1h-2.1zM388.7 176.6h1.6v1.6h-1.6zM406.2 185.4h1.4v1.4h-1.4zM407.4 192.7h1.2v1.2h-1.2zM388.8 210.5h1.3v1.3h-1.3zM366.5 175.8h1.9v1.9h-1.9zM327.8 199.4h1.1v1.1h-1.1zM248.2 204.4h1.3v1.3h-1.3zM341.3 203.5h1.0v1.0h-1.0zM305.2 183.0h2.0v2.0h-2.0zM395.7 197.5h1.6v1.6h-1.6zM354.3 206.7h1.4v1.4h-1.4zM332.1 219.5h1.7v1.7h-1.7zM289.2 193.0h1.8v1.8h-1.8zM362.8 197.8h1.4v1.4h-1.4zM264.3 203.0h1.2v1.2h-1.2zM256.7 201.0h1.6v1.6h-1.6zM257.8 217.0h1.3v1.3h-1.3zM385.3 183.1h2.0v2.0h-2.0zM274.2 191.0h2.3v2.3h-2.3zM348.5 175.1h1.8v1.8h-1.8zM416.7 207.8h1.5v1.5h-1.5zM387.7 189.6h1.7v1.7h-1.7zM271.4 201.6h1.3v1.3h-1.3zM301.8 223.6h2.1v2.1h-2.1zM342.3 214.0h1.8v1.8h-1.8zM382.5 197.8h1.0v1.0h-1.0zM265.6 197.1h2.3v2.3h-2.3zM307.1 177.4h1.1v1.1h-1.1zM401.1 207.9h1.5v1.5h-1.5zM375.6 209.4h1.6v1.6h-1.6zM389.6 228.7h2.1v2.1h-2.1zM397.3 210.5h1.2v1.2h-1.2zM322.0 189.3h1.1v1.1h-1.1zM268.2 193.7h1.2v1.2h-1.2zM320.7 197.0h1.8v1.8h-1.8zM370.1 202.2h2.3v2.3h-2.3zM252.5 197.9h1.6v1.6h-1.6zM403.8 202.1h1.7v1.7h-1.7zM371.3 180.4h1.3v1.3h-1.3zM385.7 183.3h1.1v1.1h-1.1zM317.7 192.5h2.2v2.2h-2.2zM428.3 203.4h2.0v2.0h-2.0zM288.1 212.0h1.4v1.4h-1.4zM406.7 201.5h2.0v2.0h-2.0zM343.4 205.7h1.7v1.7h-1.7zM357.4 208.5h1.3v1.3h-1.3zM338.3 194.9h2.0v2.0h-2.0zM276.0 193.6h1.0v1.0h-1.0zM329.1 209.3h1.1v1.1h-1.1zM395.8 204.5h2.2v2.2h-2.2zM408.6 213.2h1.7v1.7h-1.7zM283.7 208.1h1.5v1.5h-1.5zM377.9 196.1h1.6v1.6h-1.6zM407.9 188.2h2.3v2.3h-2.3zM277.9 200.2h1.1v1.1h-1.1zM349.7 207.0h1.5v1.5h-1.5zM394.8 194.1h1.6v1.6h-1.6zM417.6 192.0h2.2v2.2h-2.2zM320.1 200.0h1.9v1.9h-1.9zM369.1 199.7h2.1v2.1h-2.1zM270.4 192.1h2.3v2.3h-2.3zM390.6 208.4h2.0v2.0h-2.0zM380.8 190.4h1.7v1.7h-1.7zM380.1 216.7h2.1v2.1h-2.1zM308.9 211.0h1.4v1.4h-1.4zM301.7 191.6h1.3v1.3h-1.3zM403.8 202.1h1.8v1.8h-1.8zM257.3 192.7h2.3v2.3h-2.3zM276.6 199.5h1.8v1.8h-1.8zM402.2 205.9h1.3v1.3h-1.3zM248.1 216.0h1.6v1.6h-1.6zM386.1 187.2h1.5v1.5h-1.5zM248.4 193.8h1.5v1.5h-1.5zM336.4 204.8h1.8v1.8h-1.8zM272.8 218.0h1.5v1.5h-1.5zM278.8 196.7h0.9v0.9h-0.9zM376.1 196.9h1.1v1.1h-1.1zM257.3 215.3h2.2v2.2h-2.2zM318.6 202.9h1.5v1.5h-1.5zM365.1 204.2h1.7v1.7h-1.7zM274.7 178.8h1.0v1.0h-1.0zM337.5 182.4h1.7v1.7h-1.7zM259.7 222.6h2.0v2.0h-2.0zM339.5 185.5h2.3v2.3h-2.3zM294.4 186.7h1.5v1.5h-1.5zM304.5 203.9h1.5v1.5h-1.5zM412.7 200.7h1.5v1.5h-1.5zM351.5 211.1h1.9v1.9h-1.9zM423.3 200.4h2.0v2.0h-2.0zM267.4 206.1h2.2v2.2h-2.2zM319.7 214.5h1.6v1.6h-1.6zM374.8 185.0h1.2v1.2h-1.2zM369.2 188.0h1.4v1.4h-1.4zM353.8 205.7h2.2v2.2h-2.2zM311.7 175.4h0.9v0.9h-0.9zM354.9 178.1h1.2v1.2h-1.2zM403.3 200.3h2.2v2.2h-2.2zM421.4 210.2h1.5v1.5h-1.5zM399.2 221.1h2.3v2.3h-2.3zM301.3 201.5h1.8v1.8h-1.8zM411.7 218.9h1.7v1.7h-1.7zM247.3 217.4h1.7v1.7h-1.7zM376.0 199.9h1.3v1.3h-1.3zM287.4 186.2h0.9v0.9h-0.9zM254.7 194.4h1.1v1.1h-1.1zM321.5 191.8h1.9v1.9h-1.9zM318.9 203.2h1.3v1.3h-1.3zM392.6 206.7h1.3v1.3h-1.3zM300.3 193.3h1.8v1.8h-1.8zM249.6 197.6h1.1v1.1h-1.1zM302.3 181.1h1.3v1.3h-1.3zM316.1 199.4h2.3v2.3h-2.3zM350.5 181.8h2.2v2.2h-2.2zM380.3 195.6h1.0v1.0h-1.0zM256.7 197.9h2.0v2.0h-2.0zM291.3 194.9h2.2v2.2h-2.2zM328.6 206.1h1.8v1.8h-1.8zM414.9 187.0h1.5v1.5h-1.5zM341.9 205.4h1.3v1.3h-1.3zM266.0 209.9h2.0v2.0h-2.0zM304.9 209.2h1.2v1.2h-1.2zM349.4 173.6h1.0v1.0h-1.0zM258.3 192.3h2.1v2.1h-2.1zM308.1 183.3h1.1v1.1h-1.1zM253.3 187.0h2.2v2.2h-2.2zM396.3 194.4h1.7v1.7h-1.7zM413.1 182.5h1.2v1.2h-1.2zM388.2 202.7h0.9v0.9h-0.9zM327.5 207.9h1.0v1.0h-1.0zM315.7 177.8h1.6v1.6h-1.6zM426.4 183.1h2.1v2.1h-2.1zM287.2 194.8h1.7v1.7h-1.7zM336.5 191.6h2.2v2.2h-2.2zM392.5 194.8h2.0v2.0h-2.0zM348.9 203.3h2.3v2.3h-2.3zM356.5 180.7h1.5v1.5h-1.5zM296.4 172.9h1.7v1.7h-1.7zM395.6 213.5h1.9v1.9h-1.9zM339.2 200.9h1.3v1.3h-1.3zM349.5 181.2h1.6v1.6h-1.6zM275.7 193.7h1.8v1.8h-1.8zM292.0 214.2h1.8v1.8h-1.8zM396.5 206.0h2.3v2.3h-2.3zM311.0 195.3h2.3v2.3h-2.3zM383.0 179.0h2.0v2.0h-2.0zM363.0 186.6h2.2v2.2h-2.2zM362.6 222.2h1.6v1.6h-1.6zM410.1 193.3h1.7v1.7h-1.7zM317.8 205.4h1.3v1.3h-1.3zM356.1 209.9h1.8v1.8h-1.8zM309.2 211.8h1.8v1.8h-1.8zM308.7 218.2h1.6v1.6h-1.6zM259.2 194.4h2.0v2.0h-2.0zM249.5 206.1h1.4v1.4h-1.4zM405.5 211.7h2.2v2.2h-2.2zM317.7 199.0h1.7v1.7h-1.7zM338.1 197.3h1.5v1.5h-1.5zM355.1 216.9h1.3v1.3h-1.3zM272.8 187.9h1.8v1.8h-1.8zM357.6 187.4h1.3v1.3h-1.3zM290.5 189.1h1.7v1.7h-1.7zM365.6 187.2h1.6v1.6h-1.6zM404.3 204.3h1.6v1.6h-1.6zM358.7 203.2h1.1v1.1h-1.1zM283.2 206.3h1.3v1.3h-1.3zM319.3 180.5h1.5v1.5h-1.5zM375.0 194.5h1.3v1.3h-1.3zM283.2 207.6h1.3v1.3h-1.3zM268.1 194.8h2.3v2.3h-2.3zM304.7 175.1h1.4v1.4h-1.4zM295.5 194.0h1.3v1.3h-1.3zM356.0 190.1h1.5v1.5h-1.5zM312.1 222.4h2.1v2.1h-2.1zM323.2 189.2h2.2v2.2h-2.2zM330.3 182.9h1.1v1.1h-1.1zM410.7 198.9h1.6v1.6h-1.6zM309.1 227.1h1.0v1.0h-1.0zM310.6 215.5h1.7v1.7h-1.7zM250.4 180.8h1.4v1.4h-1.4zM322.1 206.0h1.1v1.1h-1.1zM331.7 184.8h1.7v1.7h-1.7zM290.4 202.9h1.7v1.7h-1.7zM297.0 222.2h2.0v2.0h-2.0zM305.3 173.2h1.3v1.3h-1.3zM314.9 209.7h1.2v1.2h-1.2zM371.5 215.4h2.1v2.1h-2.1zM337.9 178.7h1.4v1.4h-1.4zM289.5 182.0h2.2v2.2h-2.2zM302.1 201.5h1.9v1.9h-1.9zM398.4 190.1h1.7v1.7h-1.7zM334.1 195.1h1.9v1.9h-1.9zM264.7 209.6h2.0v2.0h-2.0zM356.7 201.3h2.2v2.2h-2.2zM335.9 200.4h1.3v1.3h-1.3zM356.2 208.2h1.3v1.3h-1.3zM306.5 205.7h1.2v1.2h-1.2zM388.3 200.9h2.0v2.0h-2.0zM378.2 210.7h1.8v1.8h-1.8zM334.7 207.7h1.2v1.2h-1.2zM413.4 191.4h2.3v2.3h-2.3zM417.0 192.2h1.7v1.7h-1.7zM355.5 200.0h1.0v1.0h-1.0z"/>
<rect x="231.7" y="163.4" width="56.9" height="14.0" fill="#111" stroke="none" stroke-width="1"/>
<text x="238.8" y="173.4" font-size="7.5" fill="#fff" text-anchor="middle" font-weight="bold" textLength="11" lengthAdjust="spacingAndGlyphs">WC</text>
<text x="253.0" y="173.4" font-size="7.5" fill="#fff" text-anchor="middle" font-weight="bold" textLength="11" lengthAdjust="spacingAndGlyphs">WC</text>
<line x1="245.9" y1="164.5" x2="245.9" y2="176.5" stroke="#777" stroke-width="0.6"/>
<text x="267.2" y="173.4" font-size="7.5" fill="#fff" text-anchor="middle" font-weight="bold" textLength="11" lengthAdjust="spacingAndGlyphs">WC</text>
<line x1="260.1" y1="164.5" x2="260.1" y2="176.5" stroke="#777" stroke-width="0.6"/>
<text x="281.5" y="173.4" font-size="7.5" fill="#fff" text-anchor="middle" font-weight="bold" textLength="11" lengthAdjust="spacingAndGlyphs">WC</text>
<line x1="274.4" y1="164.5" x2="274.4" y2="176.5" stroke="#777" stroke-width="0.6"/>
<g transform="rotate(3.4 374 249.5)">
<rect x="324.0" y="233.5" width="33.3" height="32.0" fill="#3b6a35" stroke="#dfe8da" stroke-width="0.9"/>
<text class="n" x="340.6" y="253.6" font-size="11.5">177</text>
<rect x="357.3" y="233.5" width="33.3" height="32.0" fill="#3b6a35" stroke="#dfe8da" stroke-width="0.9"/>
<text class="n" x="373.9" y="253.6" font-size="11.5">176</text>
<rect x="390.6" y="233.5" width="33.3" height="32.0" fill="#3b6a35" stroke="#dfe8da" stroke-width="0.9"/>
<text class="n" x="407.2" y="253.6" font-size="11.5">175</text>
</g>
<path d="M449.09999999999997 160.5 L455.7 135.5 L462.3 160.5 Z" fill="#e8402e"/>
<line x1="455.7" y1="159.0" x2="455.7" y2="175.0" stroke="#d8402e" stroke-width="2.3"/>
<path d="M469.09999999999997 160.5 L475.7 135.5 L482.3 160.5 Z" fill="#e8402e"/>
<line x1="475.7" y1="159.0" x2="475.7" y2="175.0" stroke="#d8402e" stroke-width="2.3"/>
<rect x="436.8" y="177.0" width="66.2" height="38.5" fill="#e63c2e" stroke="none" stroke-width="1"/>
<text x="470.0" y="194.0" font-size="11.5" fill="#111" text-anchor="middle" font-weight="bold" stroke="#111" stroke-width="0.3">SALIDA</text>
<text x="470.0" y="210.0" font-size="11.5" fill="#111" text-anchor="middle" font-weight="bold" stroke="#111" stroke-width="0.3">EXIT</text>
<line x1="484.0" y1="163.0" x2="511.0" y2="180.0" stroke="#333" stroke-width="1"/>
<rect x="485.5" y="256.0" width="17.5" height="18.5" fill="#fff" stroke="#ccc" stroke-width="0.8"/>
<path d="M494.2 259.5 v11.5 M488.5 265.2 h11.5" stroke="#e02a2a" stroke-width="3.2"/>
<polyline points="536.8,0.0 532.6,107.7 609.0,129.0" fill="none" stroke="#333" stroke-width="1.1"/>
<line x1="556.7" y1="116.0" x2="549.6" y2="182.8" stroke="#333" stroke-width="1.1"/>
<polyline points="823.0,0.0 804.6,113.3 746.5,110.5" fill="none" stroke="#333" stroke-width="1.1"/>
<path d="M746.5 110.5 Q680 150 586.4 157.3" stroke="#333" stroke-width="1.1" fill="none"/>
<line x1="746.5" y1="110.5" x2="692.7" y2="195.5" stroke="#333" stroke-width="1.1"/>
<line x1="588.0" y1="127.0" x2="588.0" y2="157.0" stroke="#444" stroke-width="0.7"/>
<line x1="590.4" y1="127.0" x2="590.4" y2="157.0" stroke="#444" stroke-width="0.7"/>
<line x1="592.8" y1="127.0" x2="592.8" y2="157.0" stroke="#444" stroke-width="0.7"/>
<line x1="595.2" y1="127.0" x2="595.2" y2="157.0" stroke="#444" stroke-width="0.7"/>
<line x1="597.6" y1="127.0" x2="597.6" y2="157.0" stroke="#444" stroke-width="0.7"/>
<line x1="600.0" y1="127.0" x2="600.0" y2="157.0" stroke="#444" stroke-width="0.7"/>
<line x1="602.4" y1="127.0" x2="602.4" y2="157.0" stroke="#444" stroke-width="0.7"/>
<line x1="604.8" y1="127.0" x2="604.8" y2="157.0" stroke="#444" stroke-width="0.7"/>
<line x1="607.2" y1="127.0" x2="607.2" y2="157.0" stroke="#444" stroke-width="0.7"/>
<path fill="#8fdc7c" d="M699.9 173.1h1.6v1.6h-1.6zM665.8 179.2h1.6v1.6h-1.6zM718.5 142.0h1.5v1.5h-1.5zM720.5 142.0h1.5v1.5h-1.5zM716.5 142.0h1.5v1.5h-1.5zM718.5 144.0h1.5v1.5h-1.5zM718.5 140.0h1.5v1.5h-1.5zM658.6 169.2h1.5v1.5h-1.5zM660.6 169.2h1.5v1.5h-1.5zM656.6 169.2h1.5v1.5h-1.5zM658.6 171.2h1.5v1.5h-1.5zM658.6 167.2h1.5v1.5h-1.5zM700.1 176.1h1.5v1.5h-1.5zM702.1 176.1h1.5v1.5h-1.5zM698.1 176.1h1.5v1.5h-1.5zM700.1 178.1h1.5v1.5h-1.5zM700.1 174.1h1.5v1.5h-1.5zM720.0 141.8h1.3v1.3h-1.3zM707.3 164.1h1.8v1.8h-1.8zM645.7 184.5h1.5v1.5h-1.5zM647.7 184.5h1.5v1.5h-1.5zM643.7 184.5h1.5v1.5h-1.5zM645.7 186.5h1.5v1.5h-1.5zM645.7 182.5h1.5v1.5h-1.5zM723.6 142.6h1.5v1.5h-1.5zM725.6 142.6h1.5v1.5h-1.5zM721.6 142.6h1.5v1.5h-1.5zM723.6 144.6h1.5v1.5h-1.5zM723.6 140.6h1.5v1.5h-1.5zM660.5 151.6h1.8v1.8h-1.8zM709.1 162.0h1.5v1.5h-1.5zM711.1 162.0h1.5v1.5h-1.5zM707.1 162.0h1.5v1.5h-1.5zM709.1 164.0h1.5v1.5h-1.5zM709.1 160.0h1.5v1.5h-1.5zM656.5 149.9h1.4v1.4h-1.4zM715.7 137.6h1.3v1.3h-1.3zM676.1 156.2h1.5v1.5h-1.5zM678.1 156.2h1.5v1.5h-1.5zM674.1 156.2h1.5v1.5h-1.5zM676.1 158.2h1.5v1.5h-1.5zM676.1 154.2h1.5v1.5h-1.5zM653.9 179.4h1.0v1.0h-1.0zM672.9 162.8h1.5v1.5h-1.5zM674.9 162.8h1.5v1.5h-1.5zM670.9 162.8h1.5v1.5h-1.5zM672.9 164.8h1.5v1.5h-1.5zM672.9 160.8h1.5v1.5h-1.5zM637.0 167.1h1.4v1.4h-1.4zM664.1 176.8h1.5v1.5h-1.5zM666.1 176.8h1.5v1.5h-1.5zM662.1 176.8h1.5v1.5h-1.5zM664.1 178.8h1.5v1.5h-1.5zM664.1 174.8h1.5v1.5h-1.5zM677.7 182.0h1.5v1.5h-1.5zM712.9 144.3h1.5v1.5h-1.5zM714.9 144.3h1.5v1.5h-1.5zM710.9 144.3h1.5v1.5h-1.5zM712.9 146.3h1.5v1.5h-1.5zM712.9 142.3h1.5v1.5h-1.5zM681.3 157.0h1.5v1.5h-1.5zM683.3 157.0h1.5v1.5h-1.5zM679.3 157.0h1.5v1.5h-1.5zM681.3 159.0h1.5v1.5h-1.5zM681.3 155.0h1.5v1.5h-1.5zM653.8 151.3h1.5v1.5h-1.5zM655.8 151.3h1.5v1.5h-1.5zM651.8 151.3h1.5v1.5h-1.5zM653.8 153.3h1.5v1.5h-1.5zM653.8 149.3h1.5v1.5h-1.5zM715.0 138.6h1.5v1.5h-1.5zM682.2 189.6h1.3v1.3h-1.3zM710.6 159.6h1.7v1.7h-1.7zM654.7 178.1h1.0v1.0h-1.0zM653.6 187.4h1.5v1.5h-1.5zM655.6 187.4h1.5v1.5h-1.5zM651.6 187.4h1.5v1.5h-1.5zM653.6 189.4h1.5v1.5h-1.5zM653.6 185.4h1.5v1.5h-1.5zM635.1 171.4h1.5v1.5h-1.5zM637.1 171.4h1.5v1.5h-1.5zM633.1 171.4h1.5v1.5h-1.5zM635.1 173.4h1.5v1.5h-1.5zM635.1 169.4h1.5v1.5h-1.5zM678.7 179.2h1.6v1.6h-1.6zM630.3 156.2h1.5v1.5h-1.5zM632.3 156.2h1.5v1.5h-1.5zM628.3 156.2h1.5v1.5h-1.5zM630.3 158.2h1.5v1.5h-1.5zM630.3 154.2h1.5v1.5h-1.5zM668.1 181.9h1.5v1.5h-1.5zM670.1 181.9h1.5v1.5h-1.5zM666.1 181.9h1.5v1.5h-1.5zM668.1 183.9h1.5v1.5h-1.5zM668.1 179.9h1.5v1.5h-1.5zM694.7 179.3h1.5v1.5h-1.5zM696.7 179.3h1.5v1.5h-1.5zM692.7 179.3h1.5v1.5h-1.5zM694.7 181.3h1.5v1.5h-1.5zM694.7 177.3h1.5v1.5h-1.5zM669.9 178.5h1.3v1.3h-1.3zM682.8 151.1h1.3v1.3h-1.3zM675.8 190.6h1.4v1.4h-1.4zM650.7 154.2h1.5v1.5h-1.5zM652.7 154.2h1.5v1.5h-1.5zM648.7 154.2h1.5v1.5h-1.5zM650.7 156.2h1.5v1.5h-1.5zM650.7 152.2h1.5v1.5h-1.5zM718.3 139.0h1.5v1.5h-1.5zM720.3 139.0h1.5v1.5h-1.5zM716.3 139.0h1.5v1.5h-1.5zM718.3 141.0h1.5v1.5h-1.5zM718.3 137.0h1.5v1.5h-1.5zM683.0 179.9h1.5v1.5h-1.5zM685.0 179.9h1.5v1.5h-1.5zM681.0 179.9h1.5v1.5h-1.5zM683.0 181.9h1.5v1.5h-1.5zM683.0 177.9h1.5v1.5h-1.5zM680.0 167.4h1.5v1.5h-1.5zM682.0 167.4h1.5v1.5h-1.5zM678.0 167.4h1.5v1.5h-1.5zM680.0 169.4h1.5v1.5h-1.5zM680.0 165.4h1.5v1.5h-1.5zM661.0 153.4h1.2v1.2h-1.2zM679.9 143.3h1.5v1.5h-1.5zM681.9 143.3h1.5v1.5h-1.5zM677.9 143.3h1.5v1.5h-1.5zM679.9 145.3h1.5v1.5h-1.5zM679.9 141.3h1.5v1.5h-1.5zM678.8 151.2h1.5v1.5h-1.5zM716.5 152.8h1.5v1.5h-1.5zM718.5 152.8h1.5v1.5h-1.5zM714.5 152.8h1.5v1.5h-1.5zM716.5 154.8h1.5v1.5h-1.5zM716.5 150.8h1.5v1.5h-1.5zM686.9 191.3h1.5v1.5h-1.5zM688.9 191.3h1.5v1.5h-1.5zM684.9 191.3h1.5v1.5h-1.5zM686.9 193.3h1.5v1.5h-1.5zM686.9 189.3h1.5v1.5h-1.5zM646.5 188.5h1.0v1.0h-1.0zM651.8 163.2h1.2v1.2h-1.2zM692.4 158.2h1.5v1.5h-1.5zM694.4 158.2h1.5v1.5h-1.5zM690.4 158.2h1.5v1.5h-1.5zM692.4 160.2h1.5v1.5h-1.5zM692.4 156.2h1.5v1.5h-1.5zM738.0 122.0h1.5v1.5h-1.5zM696.0 149.3h1.5v1.5h-1.5zM698.0 149.3h1.5v1.5h-1.5zM694.0 149.3h1.5v1.5h-1.5zM696.0 151.3h1.5v1.5h-1.5zM696.0 147.3h1.5v1.5h-1.5zM645.4 168.9h1.5v1.5h-1.5zM647.4 168.9h1.5v1.5h-1.5zM643.4 168.9h1.5v1.5h-1.5zM645.4 170.9h1.5v1.5h-1.5zM645.4 166.9h1.5v1.5h-1.5zM707.9 156.2h1.5v1.5h-1.5zM709.9 156.2h1.5v1.5h-1.5zM705.9 156.2h1.5v1.5h-1.5zM707.9 158.2h1.5v1.5h-1.5zM707.9 154.2h1.5v1.5h-1.5zM711.9 153.2h1.5v1.5h-1.5zM713.9 153.2h1.5v1.5h-1.5zM709.9 153.2h1.5v1.5h-1.5zM711.9 155.2h1.5v1.5h-1.5zM711.9 151.2h1.5v1.5h-1.5zM689.6 151.8h1.1v1.1h-1.1z"/>
<path fill="#a8e69a" d="M712.5 146.1h1.6v1.6h-1.6zM645.7 177.6h1.4v1.4h-1.4zM649.6 183.3h1.5v1.5h-1.5zM651.6 183.3h1.5v1.5h-1.5zM647.6 183.3h1.5v1.5h-1.5zM649.6 185.3h1.5v1.5h-1.5zM649.6 181.3h1.5v1.5h-1.5zM662.1 168.7h1.5v1.5h-1.5zM664.1 168.7h1.5v1.5h-1.5zM660.1 168.7h1.5v1.5h-1.5zM662.1 170.7h1.5v1.5h-1.5zM662.1 166.7h1.5v1.5h-1.5zM709.1 162.8h1.5v1.5h-1.5zM711.1 162.8h1.5v1.5h-1.5zM707.1 162.8h1.5v1.5h-1.5zM709.1 164.8h1.5v1.5h-1.5zM709.1 160.8h1.5v1.5h-1.5zM720.1 139.4h1.5v1.5h-1.5zM722.1 139.4h1.5v1.5h-1.5zM718.1 139.4h1.5v1.5h-1.5zM720.1 141.4h1.5v1.5h-1.5zM720.1 137.4h1.5v1.5h-1.5zM658.4 150.4h1.5v1.5h-1.5zM660.4 150.4h1.5v1.5h-1.5zM656.4 150.4h1.5v1.5h-1.5zM658.4 152.4h1.5v1.5h-1.5zM658.4 148.4h1.5v1.5h-1.5zM670.8 161.9h1.5v1.5h-1.5zM672.8 161.9h1.5v1.5h-1.5zM668.8 161.9h1.5v1.5h-1.5zM670.8 163.9h1.5v1.5h-1.5zM670.8 159.9h1.5v1.5h-1.5zM683.2 158.4h1.6v1.6h-1.6zM668.5 172.6h1.5v1.5h-1.5zM670.5 172.6h1.5v1.5h-1.5zM666.5 172.6h1.5v1.5h-1.5zM668.5 174.6h1.5v1.5h-1.5zM668.5 170.6h1.5v1.5h-1.5zM682.7 168.3h1.4v1.4h-1.4zM632.7 181.2h1.7v1.7h-1.7zM714.8 154.9h1.7v1.7h-1.7zM680.0 144.5h1.5v1.5h-1.5zM681.8 175.8h1.8v1.8h-1.8zM676.5 159.0h1.5v1.5h-1.5zM678.5 159.0h1.5v1.5h-1.5zM674.5 159.0h1.5v1.5h-1.5zM676.5 161.0h1.5v1.5h-1.5zM676.5 157.0h1.5v1.5h-1.5zM697.2 163.4h1.5v1.5h-1.5zM699.2 163.4h1.5v1.5h-1.5zM695.2 163.4h1.5v1.5h-1.5zM697.2 165.4h1.5v1.5h-1.5zM697.2 161.4h1.5v1.5h-1.5zM677.1 148.1h1.5v1.5h-1.5zM679.1 148.1h1.5v1.5h-1.5zM675.1 148.1h1.5v1.5h-1.5zM677.1 150.1h1.5v1.5h-1.5zM677.1 146.1h1.5v1.5h-1.5zM715.2 135.8h1.6v1.6h-1.6zM676.1 155.1h1.5v1.5h-1.5zM678.1 155.1h1.5v1.5h-1.5zM674.1 155.1h1.5v1.5h-1.5zM676.1 157.1h1.5v1.5h-1.5zM676.1 153.1h1.5v1.5h-1.5zM692.1 161.2h1.5v1.5h-1.5zM694.1 161.2h1.5v1.5h-1.5zM690.1 161.2h1.5v1.5h-1.5zM692.1 163.2h1.5v1.5h-1.5zM692.1 159.2h1.5v1.5h-1.5zM683.0 141.7h1.3v1.3h-1.3zM636.1 178.6h1.5v1.5h-1.5zM638.1 178.6h1.5v1.5h-1.5zM634.1 178.6h1.5v1.5h-1.5zM636.1 180.6h1.5v1.5h-1.5zM636.1 176.6h1.5v1.5h-1.5zM730.6 124.3h1.5v1.5h-1.5zM732.6 124.3h1.5v1.5h-1.5zM728.6 124.3h1.5v1.5h-1.5zM730.6 126.3h1.5v1.5h-1.5zM730.6 122.3h1.5v1.5h-1.5zM714.5 142.5h1.5v1.5h-1.5zM716.5 142.5h1.5v1.5h-1.5zM712.5 142.5h1.5v1.5h-1.5zM714.5 144.5h1.5v1.5h-1.5zM714.5 140.5h1.5v1.5h-1.5zM690.1 171.5h1.5v1.5h-1.5zM692.1 171.5h1.5v1.5h-1.5zM688.1 171.5h1.5v1.5h-1.5zM690.1 173.5h1.5v1.5h-1.5zM690.1 169.5h1.5v1.5h-1.5zM654.2 171.0h1.0v1.0h-1.0zM690.9 179.5h1.5v1.5h-1.5zM692.9 179.5h1.5v1.5h-1.5zM688.9 179.5h1.5v1.5h-1.5zM690.9 181.5h1.5v1.5h-1.5zM690.9 177.5h1.5v1.5h-1.5zM657.1 189.0h1.5v1.5h-1.5zM659.1 189.0h1.5v1.5h-1.5zM655.1 189.0h1.5v1.5h-1.5zM657.1 191.0h1.5v1.5h-1.5zM657.1 187.0h1.5v1.5h-1.5zM692.9 153.7h1.5v1.5h-1.5zM728.2 135.3h1.5v1.5h-1.5zM730.2 135.3h1.5v1.5h-1.5zM726.2 135.3h1.5v1.5h-1.5zM728.2 137.3h1.5v1.5h-1.5zM728.2 133.3h1.5v1.5h-1.5zM642.6 166.2h1.3v1.3h-1.3z"/>
<path fill="#7fd46c" d="M741.1 114.9h1.0v1.0h-1.0zM737.0 119.7h1.5v1.5h-1.5zM739.0 119.7h1.5v1.5h-1.5zM735.0 119.7h1.5v1.5h-1.5zM737.0 121.7h1.5v1.5h-1.5zM737.0 117.7h1.5v1.5h-1.5zM647.3 188.2h1.5v1.5h-1.5zM649.3 188.2h1.5v1.5h-1.5zM645.3 188.2h1.5v1.5h-1.5zM647.3 190.2h1.5v1.5h-1.5zM647.3 186.2h1.5v1.5h-1.5zM683.8 154.0h1.5v1.5h-1.5zM685.8 154.0h1.5v1.5h-1.5zM681.8 154.0h1.5v1.5h-1.5zM683.8 156.0h1.5v1.5h-1.5zM683.8 152.0h1.5v1.5h-1.5zM684.8 166.9h1.5v1.5h-1.5zM686.8 166.9h1.5v1.5h-1.5zM682.8 166.9h1.5v1.5h-1.5zM684.8 168.9h1.5v1.5h-1.5zM684.8 164.9h1.5v1.5h-1.5zM704.9 147.1h1.0v1.0h-1.0zM687.0 190.0h1.7v1.7h-1.7zM675.3 178.2h1.5v1.5h-1.5zM677.3 178.2h1.5v1.5h-1.5zM673.3 178.2h1.5v1.5h-1.5zM675.3 180.2h1.5v1.5h-1.5zM675.3 176.2h1.5v1.5h-1.5zM659.8 175.5h1.5v1.5h-1.5zM661.8 175.5h1.5v1.5h-1.5zM657.8 175.5h1.5v1.5h-1.5zM659.8 177.5h1.5v1.5h-1.5zM659.8 173.5h1.5v1.5h-1.5zM640.0 185.5h1.4v1.4h-1.4zM693.5 167.9h1.4v1.4h-1.4zM643.4 163.6h1.2v1.2h-1.2zM720.1 143.6h1.6v1.6h-1.6zM683.6 188.2h1.5v1.5h-1.5zM685.6 188.2h1.5v1.5h-1.5zM681.6 188.2h1.5v1.5h-1.5zM683.6 190.2h1.5v1.5h-1.5zM683.6 186.2h1.5v1.5h-1.5zM701.9 147.2h1.5v1.5h-1.5zM703.9 147.2h1.5v1.5h-1.5zM699.9 147.2h1.5v1.5h-1.5zM701.9 149.2h1.5v1.5h-1.5zM701.9 145.2h1.5v1.5h-1.5zM630.9 180.7h1.6v1.6h-1.6zM683.5 176.2h1.3v1.3h-1.3zM653.9 169.4h1.5v1.5h-1.5zM655.9 169.4h1.5v1.5h-1.5zM651.9 169.4h1.5v1.5h-1.5zM653.9 171.4h1.5v1.5h-1.5zM653.9 167.4h1.5v1.5h-1.5zM650.5 158.6h1.6v1.6h-1.6zM706.9 157.1h1.5v1.5h-1.5zM708.9 157.1h1.5v1.5h-1.5zM704.9 157.1h1.5v1.5h-1.5zM706.9 159.1h1.5v1.5h-1.5zM706.9 155.1h1.5v1.5h-1.5zM659.1 161.3h1.5v1.5h-1.5zM661.1 161.3h1.5v1.5h-1.5zM657.1 161.3h1.5v1.5h-1.5zM659.1 163.3h1.5v1.5h-1.5zM659.1 159.3h1.5v1.5h-1.5zM658.0 150.4h1.5v1.5h-1.5zM660.0 150.4h1.5v1.5h-1.5zM656.0 150.4h1.5v1.5h-1.5zM658.0 152.4h1.5v1.5h-1.5zM658.0 148.4h1.5v1.5h-1.5zM679.7 166.0h1.2v1.2h-1.2zM657.0 179.5h1.5v1.5h-1.5zM659.0 179.5h1.5v1.5h-1.5zM655.0 179.5h1.5v1.5h-1.5zM657.0 181.5h1.5v1.5h-1.5zM657.0 177.5h1.5v1.5h-1.5zM696.5 158.8h1.0v1.0h-1.0zM632.0 171.0h1.7v1.7h-1.7zM640.4 173.4h1.5v1.5h-1.5zM642.4 173.4h1.5v1.5h-1.5zM638.4 173.4h1.5v1.5h-1.5zM640.4 175.4h1.5v1.5h-1.5zM640.4 171.4h1.5v1.5h-1.5zM661.3 183.5h1.5v1.5h-1.5zM663.3 183.5h1.5v1.5h-1.5zM659.3 183.5h1.5v1.5h-1.5zM661.3 185.5h1.5v1.5h-1.5zM661.3 181.5h1.5v1.5h-1.5zM675.4 175.8h1.5v1.5h-1.5zM677.4 175.8h1.5v1.5h-1.5zM673.4 175.8h1.5v1.5h-1.5zM675.4 177.8h1.5v1.5h-1.5zM675.4 173.8h1.5v1.5h-1.5zM668.1 184.4h1.5v1.5h-1.5zM670.1 184.4h1.5v1.5h-1.5zM666.1 184.4h1.5v1.5h-1.5zM668.1 186.4h1.5v1.5h-1.5zM668.1 182.4h1.5v1.5h-1.5zM700.7 170.9h1.5v1.5h-1.5zM702.7 170.9h1.5v1.5h-1.5zM698.7 170.9h1.5v1.5h-1.5zM700.7 172.9h1.5v1.5h-1.5zM700.7 168.9h1.5v1.5h-1.5zM630.1 158.8h1.5v1.5h-1.5zM678.2 186.6h1.5v1.5h-1.5zM680.2 186.6h1.5v1.5h-1.5zM676.2 186.6h1.5v1.5h-1.5zM678.2 188.6h1.5v1.5h-1.5zM678.2 184.6h1.5v1.5h-1.5zM702.2 171.3h1.7v1.7h-1.7zM670.3 175.6h1.6v1.6h-1.6zM703.1 159.4h1.5v1.5h-1.5zM705.1 159.4h1.5v1.5h-1.5zM701.1 159.4h1.5v1.5h-1.5zM703.1 161.4h1.5v1.5h-1.5zM703.1 157.4h1.5v1.5h-1.5zM662.9 172.6h1.4v1.4h-1.4z"/>
<path fill="#b5ebaa" d="M655.1 178.7h1.5v1.5h-1.5zM657.1 178.7h1.5v1.5h-1.5zM653.1 178.7h1.5v1.5h-1.5zM655.1 180.7h1.5v1.5h-1.5zM655.1 176.7h1.5v1.5h-1.5zM667.8 154.8h1.5v1.5h-1.5zM669.8 154.8h1.5v1.5h-1.5zM665.8 154.8h1.5v1.5h-1.5zM667.8 156.8h1.5v1.5h-1.5zM667.8 152.8h1.5v1.5h-1.5zM696.5 179.9h1.1v1.1h-1.1zM646.8 155.3h1.3v1.3h-1.3zM708.7 135.0h1.5v1.5h-1.5zM710.7 135.0h1.5v1.5h-1.5zM706.7 135.0h1.5v1.5h-1.5zM708.7 137.0h1.5v1.5h-1.5zM708.7 133.0h1.5v1.5h-1.5zM647.2 181.3h1.5v1.5h-1.5zM649.2 181.3h1.5v1.5h-1.5zM645.2 181.3h1.5v1.5h-1.5zM647.2 183.3h1.5v1.5h-1.5zM647.2 179.3h1.5v1.5h-1.5zM655.6 166.7h1.5v1.5h-1.5zM657.6 166.7h1.5v1.5h-1.5zM653.6 166.7h1.5v1.5h-1.5zM655.6 168.7h1.5v1.5h-1.5zM655.6 164.7h1.5v1.5h-1.5zM701.7 172.1h1.5v1.5h-1.5zM703.7 172.1h1.5v1.5h-1.5zM699.7 172.1h1.5v1.5h-1.5zM701.7 174.1h1.5v1.5h-1.5zM701.7 170.1h1.5v1.5h-1.5zM682.1 168.3h1.5v1.5h-1.5zM684.1 168.3h1.5v1.5h-1.5zM680.1 168.3h1.5v1.5h-1.5zM682.1 170.3h1.5v1.5h-1.5zM682.1 166.3h1.5v1.5h-1.5zM664.4 183.3h1.5v1.5h-1.5zM666.4 183.3h1.5v1.5h-1.5zM662.4 183.3h1.5v1.5h-1.5zM664.4 185.3h1.5v1.5h-1.5zM664.4 181.3h1.5v1.5h-1.5zM683.1 170.4h1.7v1.7h-1.7zM660.6 161.6h1.5v1.5h-1.5zM662.6 161.6h1.5v1.5h-1.5zM658.6 161.6h1.5v1.5h-1.5zM660.6 163.6h1.5v1.5h-1.5zM660.6 159.6h1.5v1.5h-1.5zM677.0 159.6h1.7v1.7h-1.7zM683.0 157.5h1.4v1.4h-1.4zM651.9 158.0h1.2v1.2h-1.2zM663.1 160.9h1.5v1.5h-1.5zM665.1 160.9h1.5v1.5h-1.5zM661.1 160.9h1.5v1.5h-1.5zM663.1 162.9h1.5v1.5h-1.5zM663.1 158.9h1.5v1.5h-1.5zM679.4 143.9h1.5v1.5h-1.5zM681.4 143.9h1.5v1.5h-1.5zM677.4 143.9h1.5v1.5h-1.5zM679.4 145.9h1.5v1.5h-1.5zM679.4 141.9h1.5v1.5h-1.5zM672.0 181.7h1.2v1.2h-1.2zM681.3 184.4h1.5v1.5h-1.5zM683.3 184.4h1.5v1.5h-1.5zM679.3 184.4h1.5v1.5h-1.5zM681.3 186.4h1.5v1.5h-1.5zM681.3 182.4h1.5v1.5h-1.5zM633.4 175.4h1.5v1.5h-1.5zM635.4 175.4h1.5v1.5h-1.5zM631.4 175.4h1.5v1.5h-1.5zM633.4 177.4h1.5v1.5h-1.5zM633.4 173.4h1.5v1.5h-1.5zM647.3 153.5h1.5v1.5h-1.5zM649.3 153.5h1.5v1.5h-1.5zM645.3 153.5h1.5v1.5h-1.5zM647.3 155.5h1.5v1.5h-1.5zM647.3 151.5h1.5v1.5h-1.5zM668.1 146.6h1.5v1.5h-1.5zM670.1 146.6h1.5v1.5h-1.5zM666.1 146.6h1.5v1.5h-1.5zM668.1 148.6h1.5v1.5h-1.5zM668.1 144.6h1.5v1.5h-1.5zM635.4 175.3h1.4v1.4h-1.4zM658.3 178.8h1.3v1.3h-1.3zM639.1 179.0h1.2v1.2h-1.2zM643.0 179.7h1.5v1.5h-1.5zM645.0 179.7h1.5v1.5h-1.5zM641.0 179.7h1.5v1.5h-1.5zM643.0 181.7h1.5v1.5h-1.5zM643.0 177.7h1.5v1.5h-1.5zM671.1 150.9h1.5v1.5h-1.5zM673.1 150.9h1.5v1.5h-1.5zM669.1 150.9h1.5v1.5h-1.5zM671.1 152.9h1.5v1.5h-1.5zM671.1 148.9h1.5v1.5h-1.5zM694.2 173.8h1.5v1.5h-1.5zM696.2 173.8h1.5v1.5h-1.5zM692.2 173.8h1.5v1.5h-1.5zM694.2 175.8h1.5v1.5h-1.5zM694.2 171.8h1.5v1.5h-1.5zM648.0 165.4h1.5v1.5h-1.5zM650.0 165.4h1.5v1.5h-1.5zM646.0 165.4h1.5v1.5h-1.5zM648.0 167.4h1.5v1.5h-1.5zM648.0 163.4h1.5v1.5h-1.5zM667.1 173.1h1.6v1.6h-1.6zM665.7 181.0h1.5v1.5h-1.5zM667.7 181.0h1.5v1.5h-1.5zM663.7 181.0h1.5v1.5h-1.5zM665.7 183.0h1.5v1.5h-1.5zM665.7 179.0h1.5v1.5h-1.5zM682.9 192.8h1.2v1.2h-1.2zM676.3 171.6h1.3v1.3h-1.3zM700.4 174.6h1.5v1.5h-1.5zM702.4 174.6h1.5v1.5h-1.5zM698.4 174.6h1.5v1.5h-1.5zM700.4 176.6h1.5v1.5h-1.5zM700.4 172.6h1.5v1.5h-1.5zM702.8 173.5h1.5v1.5h-1.5zM662.5 186.4h1.2v1.2h-1.2zM695.2 161.1h1.2v1.2h-1.2zM657.8 184.0h1.7v1.7h-1.7zM632.1 179.7h1.5v1.5h-1.5zM675.3 156.0h1.2v1.2h-1.2zM701.2 147.8h1.5v1.5h-1.5zM703.2 147.8h1.5v1.5h-1.5zM699.2 147.8h1.5v1.5h-1.5zM701.2 149.8h1.5v1.5h-1.5zM701.2 145.8h1.5v1.5h-1.5zM643.2 152.8h1.3v1.3h-1.3zM637.4 172.0h1.5v1.5h-1.5zM639.4 172.0h1.5v1.5h-1.5zM635.4 172.0h1.5v1.5h-1.5zM637.4 174.0h1.5v1.5h-1.5zM637.4 170.0h1.5v1.5h-1.5zM702.9 166.1h1.5v1.5h-1.5zM704.9 166.1h1.5v1.5h-1.5zM700.9 166.1h1.5v1.5h-1.5zM702.9 168.1h1.5v1.5h-1.5zM702.9 164.1h1.5v1.5h-1.5zM658.1 156.9h1.5v1.5h-1.5zM660.1 156.9h1.5v1.5h-1.5zM656.1 156.9h1.5v1.5h-1.5zM658.1 158.9h1.5v1.5h-1.5zM658.1 154.9h1.5v1.5h-1.5zM713.4 133.1h1.5v1.5h-1.5zM715.4 133.1h1.5v1.5h-1.5zM711.4 133.1h1.5v1.5h-1.5zM713.4 135.1h1.5v1.5h-1.5zM713.4 131.1h1.5v1.5h-1.5zM629.8 159.8h1.4v1.4h-1.4zM728.9 123.1h1.5v1.5h-1.5zM730.9 123.1h1.5v1.5h-1.5zM726.9 123.1h1.5v1.5h-1.5zM728.9 125.1h1.5v1.5h-1.5zM728.9 121.1h1.5v1.5h-1.5zM675.5 180.2h1.5v1.5h-1.5zM677.5 180.2h1.5v1.5h-1.5zM673.5 180.2h1.5v1.5h-1.5zM675.5 182.2h1.5v1.5h-1.5zM675.5 178.2h1.5v1.5h-1.5zM647.0 154.1h1.3v1.3h-1.3z"/>
<rect x="550.4" y="64.6" width="39.6" height="30.9" fill="#0d0d0d" stroke="none" stroke-width="1"/>
<text x="570.2" y="78.5" font-size="9" fill="#fff" text-anchor="middle" font-weight="bold" style="font-family:'Liberation Serif'">SALA</text>
<text x="570.2" y="90.0" font-size="9" fill="#fff" text-anchor="middle" font-weight="bold" style="font-family:'Liberation Serif'">VIP</text>
<path d="M639.7 22.9 Q647 33 645.5 45 L634 45 Q632.5 33 639.7 22.9Z" fill="#3f9a6e"/>
<path d="M616.6 38.6 Q630 40 637 52.6 Q622 51 616.6 38.6Z M663.9 38.6 Q650.5 40 643.5 52.6 Q658.5 51 663.9 38.6Z" fill="#e2b44a"/>
<path d="M614.9 61.5 Q626 55.5 637 58.5 Q627 66.5 614.9 61.5Z M665.6 61.5 Q654.5 55.5 643.5 58.5 Q653.5 66.5 665.6 61.5Z" fill="#3f9a6e"/>
<path d="M627 70 Q630 63 637.6 64 Q635 72 627 70Z M653.4 70 Q650.4 63 642.8 64 Q645.4 72 653.4 70Z" fill="#3f9a6e"/>
<line x1="640.2" y1="62.0" x2="640.2" y2="72.5" stroke="#3f9a6e" stroke-width="1"/>
<path d="M624 53.9 Q640.2 38.5 656.4 53.9 Q640.2 69.3 624 53.9Z" fill="#fff" stroke="#111" stroke-width="1.9"/>
<circle cx="640.2" cy="53.9" r="7" fill="#111"/><circle cx="640.2" cy="53.9" r="4" fill="#fff"/><circle cx="640.2" cy="54.3" r="3" fill="#111"/><circle cx="638.6" cy="52.2" r="1" fill="#fff"/>
<text x="640.2" y="92.0" font-size="25.5" fill="#3f8f48" text-anchor="middle" font-weight="bold" textLength="50.5" lengthAdjust="spacingAndGlyphs" stroke="#3f8f48" stroke-width="0.6">WORLD</text>
<text x="640.2" y="101.6" font-size="12" fill="#3f8f48" text-anchor="middle" font-weight="bold" textLength="50.5" lengthAdjust="spacingAndGlyphs" stroke="#3f8f48" stroke-width="0.3">CANNABIS</text>
<text x="640.2" y="109.5" font-size="9.6" fill="#3f8f48" text-anchor="middle" font-weight="bold" textLength="51" lengthAdjust="spacingAndGlyphs" stroke="#3f8f48" stroke-width="0.3">CONFERENCES</text>
<ellipse cx="715.5" cy="73.2" rx="22.7" ry="20.6" fill="#c8dbb0" stroke="#777" stroke-width="0.9"/>
<path d="M690 66 L692 58 L697 56 L700 50 L702 50 L702 60 L712 62 L722 58 L732 60 L734 66Z" fill="none" stroke="#666" stroke-width="0.8"/>
<path d="M738.2 44 V66 M734.5 66 L736 59 M742 66 L740.5 59" stroke="#444" stroke-width="1.3"/><circle cx="738.2" cy="56" r="3.6" fill="#333"/><circle cx="737" cy="55" r="1.2" fill="#ddd"/>
<path d="M685.8 65.8 L692 66.5 L700 63 L716 65 L732 63 L740 66.5 L746.1 65.8 L743 82.4 L689 82.4Z" fill="#5b6571" stroke="#2f3540" stroke-width="0.9"/>
<text x="716.2" y="78.8" font-size="15.5" fill="#fff" text-anchor="middle" font-weight="bold" textLength="43.5" lengthAdjust="spacingAndGlyphs" stroke="#222" stroke-width="0.5">ICBC</text>
<rect x="695.0" y="80.5" width="42.0" height="3.0" fill="#c9d6b9" stroke="#555" stroke-width="0.4"/>
<rect x="689.5" y="84.0" width="52.0" height="5.0" fill="#eee" stroke="#666" stroke-width="0.5"/>
<text x="715.5" y="88.0" font-size="3.6" fill="#333" text-anchor="middle" font-weight="bold" textLength="49" lengthAdjust="spacingAndGlyphs">CANNABIS BUSINESS CONFERENCE</text>
<rect x="772.4" y="64" width="17.5" height="12.3" fill="#e0893a"/>
<path d="M766.3 78.9 L777.2 67.5 L788.1 78.9 L777.2 90.3Z" fill="#7b7d80" opacity="0.9"/>
<path d="M775 78 L786 65.8 L796.9 78 L786 90.3Z" fill="#4a8fc4" opacity="0.85"/>
<path d="M774.1 82.4 L781.6 70.1 L789 82.4Z" fill="#fff"/>
<path d="M775 82.4 L789 82.4 L782 89Z" fill="#23405a" opacity="0.6"/>
<text x="782.0" y="99.6" font-size="7" fill="#222" text-anchor="middle" font-weight="bold" textLength="38.5" lengthAdjust="spacingAndGlyphs">L'AUDITORI</text>
<text x="782.0" y="104.6" font-size="4.2" fill="#222" text-anchor="middle" font-weight="bold" textLength="33" lengthAdjust="spacingAndGlyphs">PROCORNELLÀ</text>
<text x="581.6" y="172.3" font-size="11" fill="#1f3a1f" text-anchor="middle" font-weight="normal" textLength="53.5" lengthAdjust="spacingAndGlyphs" stroke="#1f3a1f" stroke-width="0.35">AUDITORI</text>
<rect x="511.0" y="159.6" width="31.0" height="15.2" fill="#e0302a" stroke="none" stroke-width="1"/>
<rect x="529.3" y="160.5" width="11.8" height="13.4" fill="#fff" stroke="none" stroke-width="1"/>
<path d="M539.7 161.8L539.7 173.2M534.6 164.8L536.2 168.8L533.8 171.2L534.3 173.5M536.2 168.8L537.6 171.2L539.3 171.2M535.2 165.9L537.6 166.9M535.2 165.9L532.6 167.5L531.1 167.2" stroke="#e0302a" stroke-width="1.2" fill="none" stroke-linecap="round"/>
<circle cx="533.8" cy="163.2" r="1.2" fill="#e0302a"/>
<path d="M526.3 165.2H520.3V162.3L513.8 167.2L520.3 172.1V169.2H526.3Z" fill="#fff"/>
<g><ellipse cx="767.8" cy="172.8" rx="44" ry="22.7" fill="#1530a8"/>
<text x="767.8" y="178.6" font-size="16" fill="#fff" text-anchor="middle" font-weight="bold">ANEXO 1</text></g>
<line x1="770.0" y1="205.0" x2="818.0" y2="205.0" stroke="#999" stroke-width="0.8"/>
<g transform="translate(513.3 180.7) rotate(4.7)">
<rect x="3.0" y="5.0" width="12.0" height="29.0" fill="#3b6a35" stroke="#dfe8da" stroke-width="0.9"/>
<text class="n" x="9.0" y="22.7" font-size="9" textLength="10" lengthAdjust="spacingAndGlyphs">126</text>
<rect x="3.0" y="35.0" width="12.0" height="29.0" fill="#3b6a35" stroke="#dfe8da" stroke-width="0.9"/>
<text class="n" x="9.0" y="52.7" font-size="9" textLength="10" lengthAdjust="spacingAndGlyphs">125</text>
<rect x="3.0" y="65.0" width="12.0" height="26.0" fill="#3b6a35" stroke="#dfe8da" stroke-width="0.9"/>
<text class="n" x="9.0" y="81.2" font-size="9" textLength="10" lengthAdjust="spacingAndGlyphs">124</text>
<rect x="3.0" y="92.0" width="12.0" height="63.0" fill="#3b6a35" stroke="#dfe8da" stroke-width="0.9"/>
<text class="n" x="9.0" y="126.7" font-size="9" textLength="10" lengthAdjust="spacingAndGlyphs">123</text>
<polygon points="3.0,156.0 15.0,156.0 15.0,171.0 45.0,171.0 45.0,187.0 3.0,187.0" fill="#3b6a35" stroke="#dfe8da" stroke-width="0.9"/>
<text class="n" x="24.0" y="183.5" font-size="11.5">122</text>
<rect x="45.0" y="171.0" width="32.0" height="16.0" fill="#3b6a35" stroke="#dfe8da" stroke-width="0.9"/>
<text class="n" x="61.0" y="183.1" font-size="11.5">121</text>
<rect x="77.0" y="171.0" width="27.0" height="16.0" fill="#3b6a35" stroke="#dfe8da" stroke-width="0.9"/>
<text class="n" x="90.5" y="183.1" font-size="11.5">119</text>
<rect x="104.0" y="171.0" width="37.0" height="16.0" fill="#3b6a35" stroke="#dfe8da" stroke-width="0.9"/>
<text class="n" x="122.5" y="183.1" font-size="11.5">118</text>
<rect x="100.0" y="192.0" width="19.0" height="21.0" fill="#3b6a35" stroke="#dfe8da" stroke-width="0.9"/>
<text class="n" x="109.5" y="206.6" font-size="11.5">160</text>
<rect x="119.0" y="192.0" width="20.0" height="21.0" fill="#3b6a35" stroke="#dfe8da" stroke-width="0.9"/>
<text class="n" x="129.0" y="206.6" font-size="11.5">161</text>
<rect x="177.0" y="170.0" width="19.0" height="17.0" fill="#3b6a35" stroke="#dfe8da" stroke-width="0.9"/>
<text class="n" x="186.5" y="182.6" font-size="11.5">116</text>
<rect x="196.0" y="170.0" width="19.0" height="17.0" fill="#3b6a35" stroke="#dfe8da" stroke-width="0.9"/>
<text class="n" x="205.5" y="182.6" font-size="11.5">115</text>
<rect x="215.0" y="170.0" width="38.0" height="17.0" fill="#3b6a35" stroke="#dfe8da" stroke-width="0.9"/>
<text class="n" x="234.0" y="182.6" font-size="11.5">114</text>
<rect x="179.0" y="191.5" width="19.0" height="21.5" fill="#3b6a35" stroke="#dfe8da" stroke-width="0.9"/>
<text class="n" x="188.5" y="206.4" font-size="11.5">162</text>
<rect x="198.0" y="191.5" width="19.0" height="21.5" fill="#3b6a35" stroke="#dfe8da" stroke-width="0.9"/>
<text class="n" x="207.5" y="206.4" font-size="11.5">163</text>
<rect x="33.0" y="41.0" width="26.0" height="31.0" fill="#3b6a35" stroke="#dfe8da" stroke-width="0.9"/>
<text class="n" x="46.0" y="60.6" font-size="11.5">158</text>
<rect x="59.0" y="41.0" width="32.0" height="31.0" fill="#3b6a35" stroke="#dfe8da" stroke-width="0.9"/>
<text class="n" x="75.0" y="60.6" font-size="11.5">157</text>
<rect x="33.0" y="72.0" width="25.0" height="31.0" fill="#3b6a35" stroke="#dfe8da" stroke-width="0.9"/>
<text class="n" x="45.5" y="91.6" font-size="11.5">155</text>
<rect x="33.0" y="103.0" width="25.0" height="25.0" fill="#3b6a35" stroke="#dfe8da" stroke-width="0.9"/>
<text class="n" x="45.5" y="119.6" font-size="11.5">154</text>
<rect x="33.0" y="128.0" width="25.0" height="20.0" fill="#3b6a35" stroke="#dfe8da" stroke-width="0.9"/>
<text class="n" x="45.5" y="142.1" font-size="11.5">153</text>
<rect x="58.0" y="72.0" width="33.0" height="51.0" fill="#3b6a35" stroke="#dfe8da" stroke-width="0.9"/>
<text class="n" x="74.5" y="101.6" font-size="11.5">156</text>
<rect x="58.0" y="123.0" width="33.0" height="25.0" fill="#3b6a35" stroke="#dfe8da" stroke-width="0.9"/>
<text class="n" x="74.5" y="139.6" font-size="11.5">152</text>
<rect x="111.0" y="40.0" width="39.0" height="33.0" fill="#3b6a35" stroke="#dfe8da" stroke-width="0.9"/>
<text class="n" x="130.5" y="60.6" font-size="11.5">145</text>
<rect x="111.0" y="73.0" width="19.0" height="18.0" fill="#3b6a35" stroke="#dfe8da" stroke-width="0.9"/>
<text class="n" x="120.5" y="86.1" font-size="11.5">146</text>
<rect x="130.0" y="73.0" width="20.0" height="18.0" fill="#3b6a35" stroke="#dfe8da" stroke-width="0.9"/>
<text class="n" x="140.0" y="86.1" font-size="11.5">147</text>
<rect x="111.0" y="91.0" width="19.0" height="26.0" fill="#3b6a35" stroke="#dfe8da" stroke-width="0.9"/>
<text class="n" x="120.5" y="108.1" font-size="11.5">149</text>
<rect x="130.0" y="91.0" width="20.0" height="26.0" fill="#3b6a35" stroke="#dfe8da" stroke-width="0.9"/>
<text class="n" x="140.0" y="108.1" font-size="11.5">148</text>
<rect x="111.0" y="117.0" width="39.0" height="31.0" fill="#3b6a35" stroke="#dfe8da" stroke-width="0.9"/>
<text class="n" x="130.5" y="136.6" font-size="11.5">150</text>
<rect x="170.0" y="41.0" width="20.0" height="31.0" fill="#3b6a35" stroke="#dfe8da" stroke-width="0.9"/>
<text class="n" x="180.0" y="60.6" font-size="11.5">144</text>
<rect x="190.0" y="41.0" width="19.0" height="25.0" fill="#3b6a35" stroke="#dfe8da" stroke-width="0.9"/>
<text class="n" x="199.5" y="57.6" font-size="11.5">143</text>
<rect x="170.0" y="72.0" width="20.0" height="26.0" fill="#3b6a35" stroke="#dfe8da" stroke-width="0.9"/>
<text class="n" x="180.0" y="89.1" font-size="11.5">142</text>
<rect x="190.0" y="66.0" width="19.0" height="32.0" fill="#3b6a35" stroke="#dfe8da" stroke-width="0.9"/>
<text class="n" x="199.5" y="86.1" font-size="11.5">141</text>
<rect x="170.0" y="98.0" width="20.0" height="25.0" fill="#3b6a35" stroke="#dfe8da" stroke-width="0.9"/>
<text class="n" x="180.0" y="114.6" font-size="11.5">140</text>
<rect x="190.0" y="98.0" width="19.0" height="25.0" fill="#3b6a35" stroke="#dfe8da" stroke-width="0.9"/>
<text class="n" x="199.5" y="114.6" font-size="11.5">139</text>
<rect x="170.0" y="123.0" width="39.0" height="25.0" fill="#3b6a35" stroke="#dfe8da" stroke-width="0.9"/>
<text class="n" x="189.5" y="139.6" font-size="11.5">138</text>
<rect x="236.0" y="40.0" width="19.0" height="22.0" fill="#3b6a35" stroke="#dfe8da" stroke-width="0.9"/>
<text class="n" x="245.5" y="55.1" font-size="11.5">135</text>
<rect x="236.0" y="62.0" width="19.0" height="21.0" fill="#3b6a35" stroke="#dfe8da" stroke-width="0.9"/>
<text class="n" x="245.5" y="76.6" font-size="11.5">136</text>
<rect x="236.0" y="83.0" width="19.0" height="56.0" fill="#3b6a35" stroke="#dfe8da" stroke-width="0.9"/>
<text class="n" x="245.5" y="115.1" font-size="11.5">137</text>
<rect x="63.0" y="3.0" width="25.0" height="17.0" fill="#3b6a35" stroke="#dfe8da" stroke-width="0.9"/>
<text class="n" x="75.5" y="15.6" font-size="11.5">128</text>
<rect x="88.0" y="3.0" width="38.0" height="17.0" fill="#3b6a35" stroke="#dfe8da" stroke-width="0.9"/>
<text class="n" x="107.0" y="15.6" font-size="11.5">129</text>
<rect x="126.0" y="3.0" width="20.0" height="17.0" fill="#3b6a35" stroke="#dfe8da" stroke-width="0.9"/>
<text class="n" x="136.0" y="15.6" font-size="11.5">130</text>
<rect x="146.0" y="3.0" width="20.0" height="17.0" fill="#3b6a35" stroke="#dfe8da" stroke-width="0.9"/>
<text class="n" x="156.0" y="15.6" font-size="11.5">131</text>
<rect x="166.0" y="3.0" width="20.0" height="17.0" fill="#3b6a35" stroke="#dfe8da" stroke-width="0.9"/>
<text class="n" x="176.0" y="15.6" font-size="11.5">132</text>
<rect x="186.0" y="3.0" width="38.0" height="18.0" fill="#3b6a35" stroke="#dfe8da" stroke-width="0.9"/>
<text class="n" x="205.0" y="16.1" font-size="11.5">133</text>
<polyline points="15.0,0.0 0.0,0.0 0.0,190.0 147.0,190.0" fill="none" stroke="#1b2f9a" stroke-width="2.4"/>
<line x1="32.0" y1="2.2" x2="37.0" y2="2.2" stroke="#1b2f9a" stroke-width="2.4"/>
<polyline points="169.0,190.0 259.0,190.0 259.0,165.0" fill="none" stroke="#1b2f9a" stroke-width="2.4"/>
<polyline points="71.0,0.0 259.0,0.0 259.0,135.0" fill="none" stroke="#1b2f9a" stroke-width="2.4"/>
<line x1="71.0" y1="0.0" x2="71.0" y2="-9.0" stroke="#333" stroke-width="1"/>
<path d="M155.5 194 v-7 M161.5 183 v7" stroke="#111" stroke-width="1.3"/><path d="M155.5 181.5 l-2 5.5 h4z M161.5 195.5 l-2 -5.5 h4z" fill="#111"/>
<path d="M49 5 v-10 M47 -2 l2 -3.5 l2 3.5 M54.5 -5 v10 M52.5 1.5 l2 3.5 l2 -3.5" stroke="#111" stroke-width="1.3" fill="none"/>
<path d="M21 7 v-10 M19 0 l2 -3.5 l2 3.5 M26 -3 v10 M24 3.5 l2 3.5 l2 -3.5" stroke="#c0392b" stroke-width="1.1" fill="none"/>
</g>
<text x="654.5" y="394.4" font-size="6" fill="#333" text-anchor="middle" font-weight="normal">ENTRADA /</text>
<text x="654.5" y="402.0" font-size="6" fill="#333" text-anchor="middle" font-weight="normal">ENTRY</text>
<text x="654.5" y="409.5" font-size="6" fill="#333" text-anchor="middle" font-weight="normal" textLength="35" lengthAdjust="spacingAndGlyphs">SALIDA / EXIT</text>
<path d="M745.0 347.0H750.8" stroke="#111" stroke-width="1.3"/><path d="M754.0 347.0L750.8 344.7L750.8 349.3Z" fill="#111"/>
<path d="M754.0 354.5H748.2" stroke="#111" stroke-width="1.3"/><path d="M745.0 354.5L748.2 352.2L748.2 356.8Z" fill="#111"/>
<text x="761.0" y="349.0" font-size="4.8" fill="#222" text-anchor="start" font-weight="bold">ACCESO</text>
<text x="761.0" y="356.5" font-size="4.8" fill="#222" text-anchor="start" font-weight="bold">RECINTO</text>
<rect x="233.8" y="524.0" width="13.0" height="13.6" fill="#111" stroke="#888" stroke-width="0.5"/>
<text x="240.3" y="533.3" font-size="6.5" fill="#fff" text-anchor="middle" font-weight="bold">WC</text>
<rect x="233.8" y="537.6" width="13.0" height="13.6" fill="#111" stroke="#888" stroke-width="0.5"/>
<text x="240.3" y="546.9" font-size="6.5" fill="#fff" text-anchor="middle" font-weight="bold">WC</text>
<rect x="233.8" y="551.2" width="13.0" height="13.6" fill="#111" stroke="#888" stroke-width="0.5"/>
<text x="240.3" y="560.5" font-size="6.5" fill="#fff" text-anchor="middle" font-weight="bold">WC</text>
<rect x="233.8" y="564.8" width="13.0" height="13.6" fill="#111" stroke="#888" stroke-width="0.5"/>
<text x="240.3" y="574.1" font-size="6.5" fill="#fff" text-anchor="middle" font-weight="bold">WC</text>
<rect x="233.8" y="620.0" width="34.2" height="101.0" fill="#e9a144" stroke="none" stroke-width="1"/>
<polyline points="403.0,548.7 403.0,515.0 268.7,515.0 268.7,751.5 403.0,751.5" fill="none" stroke="#e39a4a" stroke-width="2.2"/>
<line x1="403.0" y1="569.0" x2="403.0" y2="736.2" stroke="#e39a4a" stroke-width="2.2"/>
<rect x="268.7" y="751.5" width="101.3" height="67.6" fill="#e9a144" stroke="none" stroke-width="1"/>
<rect x="302.6" y="492.8" width="20.2" height="19.2" fill="#3b6a35" stroke="#dfe8da" stroke-width="0.9"/>
<text class="n" x="312.7" y="506.2" font-size="10.5">178</text>
<rect x="322.8" y="492.8" width="19.8" height="19.2" fill="#3b6a35" stroke="#dfe8da" stroke-width="0.9"/>
<text class="n" x="332.7" y="506.2" font-size="10.5">179</text>
<rect x="342.6" y="492.8" width="20.8" height="19.2" fill="#3b6a35" stroke="#dfe8da" stroke-width="0.9"/>
<text class="n" x="353.0" y="506.2" font-size="10.5">180</text>
<rect x="363.4" y="492.8" width="38.4" height="19.2" fill="#3b6a35" stroke="#dfe8da" stroke-width="0.9"/>
<text class="n" x="382.6" y="506.5" font-size="11.5">181</text>
<polygon points="273.3,519.0 311.6,519.0 311.6,538.0 292.0,538.0 292.0,557.5 273.3,557.5" fill="#3b6a35" stroke="#dfe8da" stroke-width="0.9"/>
<text class="n" x="292.5" y="532.0" font-size="11.5">188</text>
<rect x="311.6" y="519.0" width="20.6" height="19.0" fill="#3b6a35" stroke="#dfe8da" stroke-width="0.9"/>
<text class="n" x="321.9" y="532.6" font-size="11.5">187</text>
<rect x="332.2" y="519.0" width="27.0" height="19.0" fill="#3b6a35" stroke="#dfe8da" stroke-width="0.9"/>
<text class="n" x="345.7" y="532.6" font-size="11.5">186</text>
<rect x="359.2" y="519.0" width="41.2" height="19.0" fill="#3b6a35" stroke="#dfe8da" stroke-width="0.9"/>
<text class="n" x="379.8" y="532.6" font-size="11.5">185</text>
<rect x="273.3" y="558.2" width="18.7" height="46.6" fill="#3b6a35" stroke="#dfe8da" stroke-width="0.9"/>
<text class="n" x="282.7" y="585.6" font-size="11.5">189</text>
<rect x="273.3" y="604.8" width="18.7" height="21.2" fill="#3b6a35" stroke="#dfe8da" stroke-width="0.9"/>
<text class="n" x="282.7" y="619.5" font-size="11.5">190</text>
<rect x="273.3" y="626.0" width="18.7" height="33.5" fill="#3b6a35" stroke="#dfe8da" stroke-width="0.9"/>
<text class="n" x="282.7" y="646.9" font-size="11.5">191</text>
<rect x="273.3" y="659.5" width="18.7" height="39.7" fill="#3b6a35" stroke="#dfe8da" stroke-width="0.9"/>
<text class="n" x="282.7" y="683.5" font-size="11.5">192</text>
<rect x="273.3" y="699.2" width="18.7" height="20.3" fill="#3b6a35" stroke="#dfe8da" stroke-width="0.9"/>
<text class="n" x="282.7" y="713.5" font-size="11.5">194</text>
<rect x="273.3" y="719.5" width="18.7" height="26.0" fill="#3b6a35" stroke="#dfe8da" stroke-width="0.9"/>
<text class="n" x="282.7" y="736.6" font-size="11.5">195</text>
<rect x="313.8" y="559.3" width="25.7" height="38.3" fill="#3b6a35" stroke="#dfe8da" stroke-width="0.9"/>
<text class="n" x="326.7" y="582.6" font-size="11.5">207</text>
<rect x="339.5" y="559.3" width="27.3" height="38.3" fill="#3b6a35" stroke="#dfe8da" stroke-width="0.9"/>
<text class="n" x="353.1" y="582.6" font-size="11.5">208</text>
<rect x="313.8" y="597.6" width="20.3" height="27.4" fill="#3b6a35" stroke="#dfe8da" stroke-width="0.9"/>
<text class="n" x="323.9" y="615.4" font-size="11.5">206</text>
<rect x="334.1" y="597.6" width="32.7" height="27.4" fill="#3b6a35" stroke="#dfe8da" stroke-width="0.9"/>
<text class="n" x="350.5" y="615.4" font-size="11.5">205</text>
<rect x="313.8" y="646.0" width="20.3" height="39.5" fill="#3b6a35" stroke="#dfe8da" stroke-width="0.9"/>
<text class="n" x="323.9" y="669.9" font-size="11.5">203</text>
<rect x="313.8" y="685.5" width="20.3" height="27.0" fill="#3b6a35" stroke="#dfe8da" stroke-width="0.9"/>
<text class="n" x="323.9" y="703.1" font-size="11.5">202</text>
<rect x="334.1" y="646.0" width="32.7" height="33.5" fill="#3b6a35" stroke="#dfe8da" stroke-width="0.9"/>
<text class="n" x="350.5" y="666.9" font-size="11.5">204</text>
<rect x="334.1" y="679.5" width="32.7" height="33.0" fill="#3b6a35" stroke="#dfe8da" stroke-width="0.9"/>
<text class="n" x="350.5" y="700.1" font-size="11.5">201</text>
<rect x="388.0" y="580.0" width="12.4" height="46.5" fill="#3b6a35" stroke="#dfe8da" stroke-width="0.9"/>
<text class="n" x="394.2" y="606.5" font-size="9" textLength="11" lengthAdjust="spacingAndGlyphs">200</text>
<rect x="388.0" y="626.5" width="12.4" height="46.5" fill="#3b6a35" stroke="#dfe8da" stroke-width="0.9"/>
<text class="n" x="394.2" y="653.0" font-size="9" textLength="11" lengthAdjust="spacingAndGlyphs">199</text>
<rect x="388.0" y="673.0" width="12.4" height="34.0" fill="#3b6a35" stroke="#dfe8da" stroke-width="0.9"/>
<text class="n" x="394.2" y="693.2" font-size="9" textLength="11" lengthAdjust="spacingAndGlyphs">198</text>
<rect x="388.0" y="707.0" width="12.4" height="27.0" fill="#3b6a35" stroke="#dfe8da" stroke-width="0.9"/>
<text class="n" x="394.2" y="723.7" font-size="9" textLength="11" lengthAdjust="spacingAndGlyphs">197</text>
<rect x="312.4" y="733.7" width="45.6" height="12.0" fill="#3b6a35" stroke="#dfe8da" stroke-width="0.9"/>
<text class="n" x="335.2" y="743.8" font-size="11.5">196</text>
<rect x="406.7" y="575.7" width="32.0" height="33.3" fill="#3b6a35" stroke="#dfe8da" stroke-width="0.9"/>
<text class="n" x="422.7" y="596.5" font-size="11.5">167</text>
<rect x="406.7" y="609.0" width="32.0" height="34.0" fill="#3b6a35" stroke="#dfe8da" stroke-width="0.9"/>
<text class="n" x="422.7" y="630.1" font-size="11.5">168</text>
<rect x="406.7" y="643.0" width="32.0" height="33.2" fill="#3b6a35" stroke="#dfe8da" stroke-width="0.9"/>
<text class="n" x="422.7" y="663.7" font-size="11.5">169</text>
<rect x="406.7" y="676.2" width="32.0" height="33.3" fill="#3b6a35" stroke="#dfe8da" stroke-width="0.9"/>
<text class="n" x="422.7" y="697.0" font-size="11.5">170</text>
<g><ellipse cx="450" cy="517.5" rx="44" ry="22.5" fill="#e39a4a"/>
<text x="450" y="523.3" font-size="16" fill="#fff" text-anchor="middle" font-weight="bold">ANEXO 2</text></g>
<path d="M397.5 555.5H405.8" stroke="#111" stroke-width="1.3"/><path d="M409.0 555.5L405.8 553.2L405.8 557.8Z" fill="#111"/>
<path d="M409.0 562.5H400.7" stroke="#111" stroke-width="1.3"/><path d="M397.5 562.5L400.7 560.2L400.7 564.8Z" fill="#111"/>
<text x="413.0" y="554.0" font-size="7.5" fill="#222" text-anchor="start" font-weight="normal">ENTRADA / ENTRY</text>
<text x="422.0" y="566.7" font-size="7.5" fill="#222" text-anchor="start" font-weight="normal">SALIDA / EXIT</text>
<rect x="412.5" y="735.5" width="30.5" height="15.5" fill="#e0302a" stroke="none" stroke-width="1"/>
<rect x="413.4" y="736.4" width="11.6" height="13.7" fill="#fff" stroke="none" stroke-width="1"/>
<path d="M414.8 737.8L414.8 749.4M419.8 740.8L418.3 744.9L420.6 747.4L420.1 749.7M418.3 744.9L416.9 747.4L415.1 747.4M419.2 741.9L416.9 743.0M419.2 741.9L421.7 743.5L423.3 743.2" stroke="#e0302a" stroke-width="1.2" fill="none" stroke-linecap="round"/>
<circle cx="420.6" cy="739.1" r="1.2" fill="#e0302a"/>
<path d="M428.0 741.2H433.8V738.3L440.3 743.2L433.8 748.2V745.3H428.0Z" fill="#fff"/>
<path d="M395.3 740.3H406.5" stroke="#b8453a" stroke-width="1.1"/><path d="M410.5 740.3L406.5 738.4L406.5 742.2Z" fill="#b8453a"/>
<path d="M395.3 747.0H406.5" stroke="#b8453a" stroke-width="1.1"/><path d="M410.5 747.0L406.5 745.1L406.5 748.9Z" fill="#b8453a"/>
<rect x="344.8" y="366.7" width="33.2" height="12.0" fill="#d43ee6" stroke="none" stroke-width="1"/>
<text x="361.4" y="376.5" font-size="10.5" fill="#2a1030" text-anchor="middle" font-weight="normal">F14</text>
<rect x="391.5" y="366.7" width="25.8" height="12.0" fill="#d43ee6" stroke="none" stroke-width="1"/>
<text x="404.4" y="376.5" font-size="10.5" fill="#2a1030" text-anchor="middle" font-weight="normal">F15</text>
<rect x="345.3" y="384.8" width="38.7" height="16.0" fill="#d43ee6" stroke="none" stroke-width="1"/>
<text x="364.7" y="396.6" font-size="10.5" fill="#2a1030" text-anchor="middle" font-weight="normal">F13</text>
<rect x="394.0" y="388.8" width="23.3" height="12.0" fill="#d43ee6" stroke="none" stroke-width="1"/>
<text x="405.6" y="398.6" font-size="10.5" fill="#2a1030" text-anchor="middle" font-weight="normal">F12</text>
<g transform="translate(484 423.7) rotate(44)"><rect x="-18.75" y="-6.25" width="37.5" height="12.5" fill="#d43ee6" stroke="#fff" stroke-width="0.6"/><text x="0" y="3.8" font-size="10.5" fill="#2a1030" text-anchor="middle">F1</text></g>
<g transform="translate(510.7 449.9) rotate(44)"><rect x="-9.5" y="-6.25" width="19" height="12.5" fill="#d43ee6" stroke="#fff" stroke-width="0.6"/><text x="0" y="3.8" font-size="10.5" fill="#2a1030" text-anchor="middle">F2</text></g>
<g transform="translate(533.3 471.5) rotate(44)"><rect x="-14.0" y="-6.25" width="28" height="12.5" fill="#d43ee6" stroke="#fff" stroke-width="0.6"/><text x="0" y="3.8" font-size="10.5" fill="#2a1030" text-anchor="middle">F3</text></g>
<g transform="translate(557.3 495.2) rotate(44)"><rect x="-13.5" y="-6.25" width="27" height="12.5" fill="#d43ee6" stroke="#fff" stroke-width="0.6"/><text x="0" y="3.8" font-size="10.5" fill="#2a1030" text-anchor="middle">F4</text></g>
<g transform="translate(578.7 516) rotate(44)"><rect x="-10.5" y="-6.25" width="21" height="12.5" fill="#d43ee6" stroke="#fff" stroke-width="0.6"/><text x="0" y="3.8" font-size="10.5" fill="#2a1030" text-anchor="middle">F5</text></g>
<g transform="translate(605.9 542.7) rotate(44)"><rect x="-18.5" y="-6.25" width="37" height="12.5" fill="#d43ee6" stroke="#fff" stroke-width="0.6"/><text x="0" y="3.8" font-size="10.5" fill="#2a1030" text-anchor="middle">F6</text></g>
<g transform="translate(464 444) rotate(44)"><rect x="-20.0" y="-8.5" width="40" height="17" fill="#d43ee6" stroke="#fff" stroke-width="0.6"/><text x="0" y="3.8" font-size="10.5" fill="#2a1030" text-anchor="middle">F11</text></g>
<g transform="translate(488.5 472.5) rotate(44)"><rect x="-16.0" y="-6.25" width="32" height="12.5" fill="#d43ee6" stroke="#fff" stroke-width="0.6"/><text x="0" y="3.8" font-size="10.5" fill="#2a1030" text-anchor="middle">F10</text></g>
<g transform="translate(517.3 501.3) rotate(44)"><rect x="-15.5" y="-6.25" width="31" height="12.5" fill="#d43ee6" stroke="#fff" stroke-width="0.6"/><text x="0" y="3.8" font-size="10.5" fill="#2a1030" text-anchor="middle">F9</text></g>
<g transform="translate(550.7 529.9) rotate(44)"><rect x="-20.0" y="-9.0" width="40" height="18" fill="#d43ee6" stroke="#fff" stroke-width="0.6"/><text x="0" y="3.8" font-size="10.5" fill="#2a1030" text-anchor="middle">F8</text></g>
<g transform="translate(584 564) rotate(44)"><rect x="-20.0" y="-9.0" width="40" height="18" fill="#d43ee6" stroke="#fff" stroke-width="0.6"/><text x="0" y="3.8" font-size="10.5" fill="#2a1030" text-anchor="middle">F7</text></g>
<path d="M489.3 444.2 L493.1 448.0 L489.3 451.8 L485.5 448.0 Z" fill="#fff" stroke="#999" stroke-width="0.8"/>
<path d="M504.8 459.28 L508.6 463.08 L504.8 466.88 L501.0 463.08 Z" fill="#fff" stroke="#999" stroke-width="0.8"/>
<path d="M520.3 474.36 L524.0999999999999 478.16 L520.3 481.96000000000004 L516.5 478.16 Z" fill="#fff" stroke="#999" stroke-width="0.8"/>
<path d="M535.8 489.44 L539.5999999999999 493.24 L535.8 497.04 L532.0 493.24 Z" fill="#fff" stroke="#999" stroke-width="0.8"/>
<path d="M551.3 504.52 L555.0999999999999 508.32 L551.3 512.12 L547.5 508.32 Z" fill="#fff" stroke="#999" stroke-width="0.8"/>
<path d="M566.8 519.6 L570.5999999999999 523.4 L566.8 527.1999999999999 L563.0 523.4 Z" fill="#fff" stroke="#999" stroke-width="0.8"/>
<path d="M582.3 534.6800000000001 L586.0999999999999 538.48 L582.3 542.28 L578.5 538.48 Z" fill="#fff" stroke="#999" stroke-width="0.8"/>
<path d="M597.8 549.76 L601.5999999999999 553.56 L597.8 557.3599999999999 L594.0 553.56 Z" fill="#fff" stroke="#999" stroke-width="0.8"/>
<path d="M613.3 564.84 L617.0999999999999 568.64 L613.3 572.4399999999999 L609.5 568.64 Z" fill="#fff" stroke="#999" stroke-width="0.8"/>
<path d="M544.0 389.0 L547.8 392.8 L544.0 396.6 L540.2 392.8 Z" fill="#fff" stroke="#999" stroke-width="0.8"/>
<path d="M559.55 404.0 L563.3499999999999 407.8 L559.55 411.6 L555.75 407.8 Z" fill="#fff" stroke="#999" stroke-width="0.8"/>
<path d="M575.1 419.0 L578.9 422.8 L575.1 426.6 L571.3000000000001 422.8 Z" fill="#fff" stroke="#999" stroke-width="0.8"/>
<path d="M590.65 434.0 L594.4499999999999 437.8 L590.65 441.6 L586.85 437.8 Z" fill="#fff" stroke="#999" stroke-width="0.8"/>
<path d="M606.2 449.0 L610.0 452.8 L606.2 456.6 L602.4000000000001 452.8 Z" fill="#fff" stroke="#999" stroke-width="0.8"/>
<path d="M621.75 464.0 L625.55 467.8 L621.75 471.6 L617.95 467.8 Z" fill="#fff" stroke="#999" stroke-width="0.8"/>
<path d="M637.3 479.0 L641.0999999999999 482.8 L637.3 486.6 L633.5 482.8 Z" fill="#fff" stroke="#999" stroke-width="0.8"/>
<path d="M652.85 494.0 L656.65 497.8 L652.85 501.6 L649.0500000000001 497.8 Z" fill="#fff" stroke="#999" stroke-width="0.8"/>
<path d="M668.4 508.99999999999994 L672.1999999999999 512.8 L668.4 516.5999999999999 L664.6 512.8 Z" fill="#fff" stroke="#999" stroke-width="0.8"/>
<path d="M744.6 548 L749.6 557 L739.6 557 Z" fill="#fff" stroke="#999" stroke-width="0.8"/>
<path d="M659.4 634.7 L664.4 643.7 L654.4 643.7 Z" fill="#fff" stroke="#999" stroke-width="0.8"/>
<rect x="719.8" y="422.5" width="32.0" height="99.5" fill="#3b6a35" stroke="#dfe8da" stroke-width="0.9"/>
<text class="n" x="735.8" y="476.4" font-size="11.5">164</text>
<rect x="536.6" y="615.8" width="66.5" height="32.1" fill="#3b6a35" stroke="#dfe8da" stroke-width="0.9"/>
<text class="n" x="569.9" y="636.0" font-size="11.5">165</text>
<rect x="604.6" y="615.8" width="31.4" height="32.1" fill="#0d0d0d" stroke="none" stroke-width="1"/>
<text x="620.3" y="629.0" font-size="4.8" fill="#fff" text-anchor="middle" font-weight="bold">ESCENARIO</text>
<text x="620.3" y="640.0" font-size="7.5" fill="#fff" text-anchor="middle" font-weight="bold">STAGE</text>
<g transform="translate(714.9 612.5) rotate(-44)"><ellipse cx="0" cy="0" rx="44" ry="23" fill="#080808"/><text x="0" y="5.3" font-size="14.5" fill="#fff" text-anchor="middle" font-weight="bold" textLength="80" lengthAdjust="spacingAndGlyphs">MAIN HALL</text></g>
<g><ellipse cx="1063.5" cy="40.6" rx="44" ry="23" fill="#5aaf3e"/>
<text x="1063.5" y="46.4" font-size="16" fill="#fff" text-anchor="middle" font-weight="bold">ANEXO 3</text></g>
<polyline points="917.6,200.0 917.6,68.9 1155.2,68.9" fill="none" stroke="#5cb04a" stroke-width="2.2"/>
<polyline points="1154.3,87.3 1154.3,203.6 952.6,203.6" fill="none" stroke="#5cb04a" stroke-width="2.2"/>
<line x1="917.6" y1="200.0" x2="917.6" y2="313.0" stroke="#666" stroke-width="1"/>
<line x1="952.6" y1="203.6" x2="952.6" y2="313.0" stroke="#666" stroke-width="1"/>
<line x1="917.6" y1="313.0" x2="952.6" y2="313.0" stroke="#666" stroke-width="1"/>
<rect x="922.5" y="72.3" width="38.3" height="18.2" fill="#3b6a35" stroke="#dfe8da" stroke-width="0.9"/>
<text class="n" x="941.6" y="85.5" font-size="11.5">225</text>
<rect x="960.8" y="72.3" width="20.6" height="18.2" fill="#3b6a35" stroke="#dfe8da" stroke-width="0.9"/>
<text class="n" x="971.1" y="85.5" font-size="11.5">224</text>
<rect x="981.4" y="72.3" width="26.1" height="18.2" fill="#3b6a35" stroke="#dfe8da" stroke-width="0.9"/>
<text class="n" x="994.5" y="85.5" font-size="11.5">223</text>
<rect x="1007.5" y="72.3" width="21.0" height="18.2" fill="#3b6a35" stroke="#dfe8da" stroke-width="0.9"/>
<text class="n" x="1018.0" y="85.5" font-size="11.5">222</text>
<rect x="1028.5" y="72.3" width="19.5" height="18.2" fill="#3b6a35" stroke="#dfe8da" stroke-width="0.9"/>
<text class="n" x="1038.2" y="85.5" font-size="11.5">221</text>
<rect x="1048.0" y="72.3" width="38.5" height="18.2" fill="#3b6a35" stroke="#dfe8da" stroke-width="0.9"/>
<text class="n" x="1067.2" y="85.5" font-size="11.5">220</text>
<rect x="1086.5" y="72.3" width="27.5" height="18.2" fill="#3b6a35" stroke="#dfe8da" stroke-width="0.9"/>
<text class="n" x="1100.2" y="85.5" font-size="11.5">218</text>
<rect x="1114.0" y="72.3" width="19.0" height="18.2" fill="#3b6a35" stroke="#dfe8da" stroke-width="0.9"/>
<text class="n" x="1123.5" y="85.5" font-size="11.5">217</text>
<rect x="923.5" y="112.6" width="11.5" height="59.0" fill="#3b6a35" stroke="#dfe8da" stroke-width="0.9"/>
<text class="n" x="929.2" y="145.3" font-size="9" textLength="11" lengthAdjust="spacingAndGlyphs">233</text>
<rect x="956.8" y="112.6" width="26.0" height="18.5" fill="#3b6a35" stroke="#dfe8da" stroke-width="0.9"/>
<text class="n" x="969.8" y="126.0" font-size="11.5">226</text>
<rect x="956.8" y="131.1" width="26.0" height="27.7" fill="#3b6a35" stroke="#dfe8da" stroke-width="0.9"/>
<text class="n" x="969.8" y="149.1" font-size="11.5">232</text>
<rect x="982.8" y="112.6" width="40.5" height="18.5" fill="#3b6a35" stroke="#dfe8da" stroke-width="0.9"/>
<text class="n" x="1003.0" y="126.0" font-size="11.5">230</text>
<rect x="982.8" y="131.1" width="40.5" height="27.7" fill="#3b6a35" stroke="#dfe8da" stroke-width="0.9"/>
<text class="n" x="1003.0" y="149.1" font-size="11.5">231</text>
<rect x="1045.0" y="112.6" width="25.8" height="46.2" fill="#3b6a35" stroke="#dfe8da" stroke-width="0.9"/>
<text class="n" x="1057.9" y="139.8" font-size="11.5">229</text>
<rect x="1070.8" y="112.6" width="47.0" height="18.5" fill="#3b6a35" stroke="#dfe8da" stroke-width="0.9"/>
<text class="n" x="1094.3" y="126.0" font-size="11.5">227</text>
<rect x="1070.8" y="131.1" width="47.0" height="27.7" fill="#3b6a35" stroke="#dfe8da" stroke-width="0.9"/>
<text class="n" x="1094.3" y="149.1" font-size="11.5">228</text>
<rect x="1137.0" y="108.0" width="12.3" height="52.5" fill="#3b6a35" stroke="#dfe8da" stroke-width="0.9"/>
<text class="n" x="1143.2" y="137.5" font-size="9" textLength="11" lengthAdjust="spacingAndGlyphs">216</text>
<rect x="952.6" y="180.8" width="39.3" height="19.2" fill="#3b6a35" stroke="#dfe8da" stroke-width="0.9"/>
<text class="n" x="972.2" y="194.5" font-size="11.5">209</text>
<rect x="991.9" y="180.8" width="27.0" height="19.2" fill="#3b6a35" stroke="#dfe8da" stroke-width="0.9"/>
<text class="n" x="1005.4" y="194.5" font-size="11.5">210</text>
<rect x="1018.9" y="180.8" width="20.1" height="19.2" fill="#3b6a35" stroke="#dfe8da" stroke-width="0.9"/>
<text class="n" x="1029.0" y="194.5" font-size="11.5">211</text>
<rect x="1039.0" y="180.8" width="20.2" height="19.2" fill="#3b6a35" stroke="#dfe8da" stroke-width="0.9"/>
<text class="n" x="1049.1" y="194.5" font-size="11.5">212</text>
<rect x="1059.2" y="180.8" width="27.1" height="19.2" fill="#3b6a35" stroke="#dfe8da" stroke-width="0.9"/>
<text class="n" x="1072.8" y="194.5" font-size="11.5">213</text>
<rect x="1086.3" y="180.8" width="27.1" height="19.2" fill="#3b6a35" stroke="#dfe8da" stroke-width="0.9"/>
<text class="n" x="1099.8" y="194.5" font-size="11.5">214</text>
<rect x="1113.4" y="180.8" width="32.4" height="19.2" fill="#3b6a35" stroke="#dfe8da" stroke-width="0.9"/>
<text class="n" x="1129.6" y="194.5" font-size="11.5">215</text>
<rect x="1163.3" y="70.5" width="30.7" height="15.3" fill="#e0302a" stroke="none" stroke-width="1"/>
<rect x="1164.2" y="71.4" width="11.7" height="13.5" fill="#fff" stroke="none" stroke-width="1"/>
<path d="M1165.6 72.8L1165.6 84.2M1170.6 75.7L1169.1 79.8L1171.4 82.2L1171.0 84.5M1169.1 79.8L1167.7 82.2L1165.9 82.2M1170.0 76.8L1167.7 77.9M1170.0 76.8L1172.6 78.4L1174.1 78.2" stroke="#e0302a" stroke-width="1.2" fill="none" stroke-linecap="round"/>
<circle cx="1171.4" cy="74.1" r="1.2" fill="#e0302a"/>
<path d="M1178.9 76.2H1184.8V73.3L1191.2 78.2L1184.8 83.0V80.1H1178.9Z" fill="#fff"/>
<path d="M1148.8 73.8H1156.5" stroke="#d63a2a" stroke-width="1.6"/><path d="M1160.0 73.8L1156.5 71.2L1156.5 76.4Z" fill="#d63a2a"/>
<path d="M1160.0 81.8H1152.3" stroke="#d63a2a" stroke-width="1.6"/><path d="M1148.8 81.8L1152.3 79.2L1152.3 84.4Z" fill="#d63a2a"/>
<path d="M931 208 v-11 M928.5 200 l2.5 -3.5 l2.5 3.5 M937 197 v11 M934.5 204.5 l2.5 3.5 l2.5 -3.5" stroke="#111" stroke-width="1.3" fill="none"/>
<rect x="919.3" y="231.2" width="12.3" height="19.8" fill="#3b6a35" stroke="#dfe8da" stroke-width="0.9"/>
<text class="n" x="925.4" y="244.2" font-size="8.5" textLength="11" lengthAdjust="spacingAndGlyphs">234</text>
<rect x="919.3" y="251.0" width="12.3" height="60.5" fill="#3b6a35" stroke="#dfe8da" stroke-width="0.9"/>
<text class="n" x="925.4" y="284.5" font-size="9" textLength="11" lengthAdjust="spacingAndGlyphs">235</text>
<text x="936.0" y="287.0" font-size="5" fill="#222" text-anchor="start" font-weight="bold">ACCESO</text>
<text x="936.0" y="294.0" font-size="5" fill="#222" text-anchor="start" font-weight="bold">ANEXO 3</text>
<polygon points="818.5,193.8 916.5,193.8 916.5,257.8 818.5,257.8" fill="#4aad3c" stroke="none" stroke-width="0.9"/>
<polygon points="786.3,249.8 818.5,249.8 818.5,282.3 786.3,282.3" fill="#4aad3c" stroke="none" stroke-width="0.9"/>
<line x1="780.0" y1="204.3" x2="818.5" y2="204.3" stroke="#888" stroke-width="0.8"/>
<line x1="822.0" y1="10.0" x2="804.5" y2="113.3" stroke="#333" stroke-width="1.1"/>
<polygon points="972.5,227.0 1049.5,221.8 1137.0,242.8 1137.0,261.0 972.5,261.0" fill="#fff" stroke="#999" stroke-width="0.8"/>
<path fill="#8fdc7c" d="M1026.1 228.6h1.5v1.5h-1.5zM1028.1 228.6h1.5v1.5h-1.5zM1024.1 228.6h1.5v1.5h-1.5zM1026.1 230.6h1.5v1.5h-1.5zM1026.1 226.6h1.5v1.5h-1.5zM1060.7 236.8h1.2v1.2h-1.2zM1042.9 252.9h1.5v1.5h-1.5zM989.3 232.7h1.5v1.5h-1.5zM991.3 232.7h1.5v1.5h-1.5zM987.3 232.7h1.5v1.5h-1.5zM989.3 234.7h1.5v1.5h-1.5zM989.3 230.7h1.5v1.5h-1.5zM1036.7 247.4h1.3v1.3h-1.3zM994.4 253.4h1.5v1.5h-1.5zM996.4 253.4h1.5v1.5h-1.5zM992.4 253.4h1.5v1.5h-1.5zM994.4 255.4h1.5v1.5h-1.5zM994.4 251.4h1.5v1.5h-1.5zM1052.4 227.0h1.6v1.6h-1.6zM1050.9 247.5h1.5v1.5h-1.5zM1052.9 247.5h1.5v1.5h-1.5zM1048.9 247.5h1.5v1.5h-1.5zM1050.9 249.5h1.5v1.5h-1.5zM1050.9 245.5h1.5v1.5h-1.5zM1057.8 236.4h1.6v1.6h-1.6zM1074.2 254.8h1.5v1.5h-1.5zM1076.2 254.8h1.5v1.5h-1.5zM1072.2 254.8h1.5v1.5h-1.5zM1074.2 256.8h1.5v1.5h-1.5zM1074.2 252.8h1.5v1.5h-1.5zM1079.5 252.0h1.1v1.1h-1.1zM1045.4 230.4h1.1v1.1h-1.1zM997.6 245.7h1.3v1.3h-1.3zM1057.9 243.4h1.0v1.0h-1.0zM990.6 239.8h1.7v1.7h-1.7zM994.5 239.5h1.3v1.3h-1.3zM1009.0 234.6h1.1v1.1h-1.1zM996.3 239.7h1.5v1.5h-1.5zM998.3 239.7h1.5v1.5h-1.5zM994.3 239.7h1.5v1.5h-1.5zM996.3 241.7h1.5v1.5h-1.5zM996.3 237.7h1.5v1.5h-1.5zM1062.9 238.7h1.5v1.5h-1.5zM1064.9 238.7h1.5v1.5h-1.5zM1060.9 238.7h1.5v1.5h-1.5zM1062.9 240.7h1.5v1.5h-1.5zM1062.9 236.7h1.5v1.5h-1.5zM1057.1 233.6h1.5v1.5h-1.5zM1059.1 233.6h1.5v1.5h-1.5zM1055.1 233.6h1.5v1.5h-1.5zM1057.1 235.6h1.5v1.5h-1.5zM1057.1 231.6h1.5v1.5h-1.5zM1120.8 245.1h1.5v1.5h-1.5zM1122.8 245.1h1.5v1.5h-1.5zM1118.8 245.1h1.5v1.5h-1.5zM1120.8 247.1h1.5v1.5h-1.5zM1120.8 243.1h1.5v1.5h-1.5zM1102.9 258.1h1.5v1.5h-1.5zM1104.9 258.1h1.5v1.5h-1.5zM1100.9 258.1h1.5v1.5h-1.5zM1102.9 260.1h1.5v1.5h-1.5zM1102.9 256.1h1.5v1.5h-1.5zM997.3 242.3h1.5v1.5h-1.5zM981.0 245.6h1.5v1.5h-1.5zM983.0 245.6h1.5v1.5h-1.5zM979.0 245.6h1.5v1.5h-1.5zM981.0 247.6h1.5v1.5h-1.5zM981.0 243.6h1.5v1.5h-1.5zM1047.2 225.8h1.5v1.5h-1.5zM1102.6 250.2h1.1v1.1h-1.1zM1052.2 241.0h1.5v1.5h-1.5zM1121.6 256.6h1.1v1.1h-1.1zM1117.9 240.3h1.5v1.5h-1.5zM1119.9 240.3h1.5v1.5h-1.5zM1115.9 240.3h1.5v1.5h-1.5zM1117.9 242.3h1.5v1.5h-1.5zM1117.9 238.3h1.5v1.5h-1.5zM984.7 237.0h1.5v1.5h-1.5zM986.7 237.0h1.5v1.5h-1.5zM982.7 237.0h1.5v1.5h-1.5zM984.7 239.0h1.5v1.5h-1.5zM984.7 235.0h1.5v1.5h-1.5zM1042.8 232.9h1.5v1.5h-1.5zM1044.8 232.9h1.5v1.5h-1.5zM1040.8 232.9h1.5v1.5h-1.5zM1042.8 234.9h1.5v1.5h-1.5zM1042.8 230.9h1.5v1.5h-1.5zM1062.9 249.2h1.3v1.3h-1.3z"/>
<path fill="#a8e69a" d="M988.1 237.9h1.5v1.5h-1.5zM990.1 237.9h1.5v1.5h-1.5zM986.1 237.9h1.5v1.5h-1.5zM988.1 239.9h1.5v1.5h-1.5zM988.1 235.9h1.5v1.5h-1.5zM1009.7 242.8h1.5v1.5h-1.5zM1011.7 242.8h1.5v1.5h-1.5zM1007.7 242.8h1.5v1.5h-1.5zM1009.7 244.8h1.5v1.5h-1.5zM1009.7 240.8h1.5v1.5h-1.5zM990.8 243.3h1.5v1.5h-1.5zM992.8 243.3h1.5v1.5h-1.5zM988.8 243.3h1.5v1.5h-1.5zM990.8 245.3h1.5v1.5h-1.5zM990.8 241.3h1.5v1.5h-1.5zM1014.0 229.6h1.5v1.5h-1.5zM1016.0 229.6h1.5v1.5h-1.5zM1012.0 229.6h1.5v1.5h-1.5zM1014.0 231.6h1.5v1.5h-1.5zM1014.0 227.6h1.5v1.5h-1.5zM1041.9 250.5h1.3v1.3h-1.3zM1072.7 241.3h1.1v1.1h-1.1zM1046.9 243.2h1.7v1.7h-1.7zM1011.2 226.2h1.5v1.5h-1.5zM1013.2 226.2h1.5v1.5h-1.5zM1009.2 226.2h1.5v1.5h-1.5zM1011.2 228.2h1.5v1.5h-1.5zM1011.2 224.2h1.5v1.5h-1.5zM1011.6 240.3h1.5v1.5h-1.5zM1013.6 240.3h1.5v1.5h-1.5zM1009.6 240.3h1.5v1.5h-1.5zM1011.6 242.3h1.5v1.5h-1.5zM1011.6 238.3h1.5v1.5h-1.5zM985.1 230.6h1.5v1.5h-1.5zM987.1 230.6h1.5v1.5h-1.5zM983.1 230.6h1.5v1.5h-1.5zM985.1 232.6h1.5v1.5h-1.5zM985.1 228.6h1.5v1.5h-1.5zM1101.1 250.5h1.7v1.7h-1.7zM1036.5 248.2h1.5v1.5h-1.5zM1038.5 248.2h1.5v1.5h-1.5zM1034.5 248.2h1.5v1.5h-1.5zM1036.5 250.2h1.5v1.5h-1.5zM1036.5 246.2h1.5v1.5h-1.5zM1126.5 249.4h1.0v1.0h-1.0zM1069.5 240.3h1.5v1.5h-1.5zM1050.2 256.1h1.5v1.5h-1.5zM1052.2 256.1h1.5v1.5h-1.5zM1048.2 256.1h1.5v1.5h-1.5zM1050.2 258.1h1.5v1.5h-1.5zM1050.2 254.1h1.5v1.5h-1.5zM1129.6 246.0h1.5v1.5h-1.5zM1131.6 246.0h1.5v1.5h-1.5zM1127.6 246.0h1.5v1.5h-1.5zM1129.6 248.0h1.5v1.5h-1.5zM1129.6 244.0h1.5v1.5h-1.5zM1113.8 252.2h1.5v1.5h-1.5zM1115.8 252.2h1.5v1.5h-1.5zM1111.8 252.2h1.5v1.5h-1.5zM1113.8 254.2h1.5v1.5h-1.5zM1113.8 250.2h1.5v1.5h-1.5zM1104.7 241.4h1.5v1.5h-1.5zM1106.7 241.4h1.5v1.5h-1.5zM1102.7 241.4h1.5v1.5h-1.5zM1104.7 243.4h1.5v1.5h-1.5zM1104.7 239.4h1.5v1.5h-1.5zM1045.9 245.4h1.4v1.4h-1.4zM1060.3 240.7h1.7v1.7h-1.7zM1088.9 246.4h1.5v1.5h-1.5zM1090.9 246.4h1.5v1.5h-1.5zM1086.9 246.4h1.5v1.5h-1.5zM1088.9 248.4h1.5v1.5h-1.5zM1088.9 244.4h1.5v1.5h-1.5zM1052.3 257.9h1.5v1.5h-1.5zM1054.3 257.9h1.5v1.5h-1.5zM1050.3 257.9h1.5v1.5h-1.5zM1052.3 259.9h1.5v1.5h-1.5zM1052.3 255.9h1.5v1.5h-1.5zM1017.8 255.0h1.5v1.5h-1.5zM1019.8 255.0h1.5v1.5h-1.5zM1015.8 255.0h1.5v1.5h-1.5zM1017.8 257.0h1.5v1.5h-1.5zM1017.8 253.0h1.5v1.5h-1.5zM1016.0 244.6h1.5v1.5h-1.5zM1018.0 244.6h1.5v1.5h-1.5zM1014.0 244.6h1.5v1.5h-1.5zM1016.0 246.6h1.5v1.5h-1.5zM1016.0 242.6h1.5v1.5h-1.5zM1012.4 227.1h1.5v1.5h-1.5zM1014.4 227.1h1.5v1.5h-1.5zM1010.4 227.1h1.5v1.5h-1.5zM1012.4 229.1h1.5v1.5h-1.5zM1012.4 225.1h1.5v1.5h-1.5zM1007.2 238.9h1.5v1.5h-1.5zM1009.2 238.9h1.5v1.5h-1.5zM1005.2 238.9h1.5v1.5h-1.5zM1007.2 240.9h1.5v1.5h-1.5zM1007.2 236.9h1.5v1.5h-1.5zM1091.6 242.6h1.5v1.5h-1.5zM1093.6 242.6h1.5v1.5h-1.5zM1089.6 242.6h1.5v1.5h-1.5zM1091.6 244.6h1.5v1.5h-1.5zM1091.6 240.6h1.5v1.5h-1.5zM1029.1 252.4h1.5v1.5h-1.5zM1031.1 252.4h1.5v1.5h-1.5zM1027.1 252.4h1.5v1.5h-1.5zM1029.1 254.4h1.5v1.5h-1.5zM1029.1 250.4h1.5v1.5h-1.5zM1029.9 225.2h1.5v1.5h-1.5zM1031.9 225.2h1.5v1.5h-1.5zM1027.9 225.2h1.5v1.5h-1.5zM1029.9 227.2h1.5v1.5h-1.5zM1029.9 223.2h1.5v1.5h-1.5zM1035.4 239.9h1.5v1.5h-1.5zM1037.4 239.9h1.5v1.5h-1.5zM1033.4 239.9h1.5v1.5h-1.5zM1035.4 241.9h1.5v1.5h-1.5zM1035.4 237.9h1.5v1.5h-1.5zM1012.2 244.5h1.6v1.6h-1.6zM1026.5 257.8h1.5v1.5h-1.5zM1028.5 257.8h1.5v1.5h-1.5zM1024.5 257.8h1.5v1.5h-1.5zM1026.5 259.8h1.5v1.5h-1.5zM1026.5 255.8h1.5v1.5h-1.5zM1117.2 247.2h1.5v1.5h-1.5zM1119.2 247.2h1.5v1.5h-1.5zM1115.2 247.2h1.5v1.5h-1.5zM1117.2 249.2h1.5v1.5h-1.5zM1117.2 245.2h1.5v1.5h-1.5zM986.2 232.6h1.5v1.5h-1.5zM988.2 232.6h1.5v1.5h-1.5zM984.2 232.6h1.5v1.5h-1.5zM986.2 234.6h1.5v1.5h-1.5zM986.2 230.6h1.5v1.5h-1.5zM981.8 245.4h1.5v1.5h-1.5zM983.8 245.4h1.5v1.5h-1.5zM979.8 245.4h1.5v1.5h-1.5zM981.8 247.4h1.5v1.5h-1.5zM981.8 243.4h1.5v1.5h-1.5zM1097.0 258.1h1.5v1.5h-1.5zM1099.0 258.1h1.5v1.5h-1.5zM1095.0 258.1h1.5v1.5h-1.5zM1097.0 260.1h1.5v1.5h-1.5zM1097.0 256.1h1.5v1.5h-1.5zM1058.9 257.3h1.5v1.5h-1.5zM982.6 246.5h1.5v1.5h-1.5zM984.6 246.5h1.5v1.5h-1.5zM980.6 246.5h1.5v1.5h-1.5zM982.6 248.5h1.5v1.5h-1.5zM982.6 244.5h1.5v1.5h-1.5zM1017.5 241.9h1.6v1.6h-1.6zM1113.4 240.3h1.5v1.5h-1.5zM1115.4 240.3h1.5v1.5h-1.5zM1111.4 240.3h1.5v1.5h-1.5zM1113.4 242.3h1.5v1.5h-1.5zM1113.4 238.3h1.5v1.5h-1.5zM1054.4 251.7h1.5v1.5h-1.5zM1056.4 251.7h1.5v1.5h-1.5zM1052.4 251.7h1.5v1.5h-1.5zM1054.4 253.7h1.5v1.5h-1.5zM1054.4 249.7h1.5v1.5h-1.5z"/>
<path fill="#7fd46c" d="M998.1 228.1h1.5v1.5h-1.5zM1023.0 241.3h1.2v1.2h-1.2zM1063.6 250.9h1.5v1.5h-1.5zM1065.6 250.9h1.5v1.5h-1.5zM1061.6 250.9h1.5v1.5h-1.5zM1063.6 252.9h1.5v1.5h-1.5zM1063.6 248.9h1.5v1.5h-1.5zM1019.5 238.5h1.3v1.3h-1.3zM975.7 238.7h1.3v1.3h-1.3zM1065.7 242.8h1.1v1.1h-1.1zM1008.3 237.2h1.5v1.5h-1.5zM1085.4 256.0h1.7v1.7h-1.7zM1086.4 233.1h1.3v1.3h-1.3zM1010.6 243.0h1.5v1.5h-1.5zM1049.9 230.1h1.5v1.5h-1.5zM1051.9 230.1h1.5v1.5h-1.5zM1047.9 230.1h1.5v1.5h-1.5zM1049.9 232.1h1.5v1.5h-1.5zM1049.9 228.1h1.5v1.5h-1.5zM1124.2 257.9h1.5v1.5h-1.5zM1126.2 257.9h1.5v1.5h-1.5zM1122.2 257.9h1.5v1.5h-1.5zM1124.2 259.9h1.5v1.5h-1.5zM1124.2 255.9h1.5v1.5h-1.5zM990.6 239.8h1.5v1.5h-1.5zM992.6 239.8h1.5v1.5h-1.5zM988.6 239.8h1.5v1.5h-1.5zM990.6 241.8h1.5v1.5h-1.5zM990.6 237.8h1.5v1.5h-1.5zM1002.9 250.9h1.5v1.5h-1.5zM1004.9 250.9h1.5v1.5h-1.5zM1000.9 250.9h1.5v1.5h-1.5zM1002.9 252.9h1.5v1.5h-1.5zM1002.9 248.9h1.5v1.5h-1.5zM1008.3 240.8h1.5v1.5h-1.5zM1010.3 240.8h1.5v1.5h-1.5zM1006.3 240.8h1.5v1.5h-1.5zM1008.3 242.8h1.5v1.5h-1.5zM1008.3 238.8h1.5v1.5h-1.5zM1042.0 228.6h1.5v1.5h-1.5zM1043.3 241.3h1.5v1.5h-1.5zM1045.3 241.3h1.5v1.5h-1.5zM1041.3 241.3h1.5v1.5h-1.5zM1043.3 243.3h1.5v1.5h-1.5zM1043.3 239.3h1.5v1.5h-1.5zM1031.4 226.5h1.5v1.5h-1.5zM1033.4 226.5h1.5v1.5h-1.5zM1029.4 226.5h1.5v1.5h-1.5zM1031.4 228.5h1.5v1.5h-1.5zM1031.4 224.5h1.5v1.5h-1.5zM995.0 238.1h1.5v1.5h-1.5zM997.0 238.1h1.5v1.5h-1.5zM993.0 238.1h1.5v1.5h-1.5zM995.0 240.1h1.5v1.5h-1.5zM995.0 236.1h1.5v1.5h-1.5zM1113.0 239.9h1.3v1.3h-1.3zM1003.3 255.9h1.5v1.5h-1.5zM1005.3 255.9h1.5v1.5h-1.5zM1001.3 255.9h1.5v1.5h-1.5zM1003.3 257.9h1.5v1.5h-1.5zM1003.3 253.9h1.5v1.5h-1.5zM1117.2 258.0h1.8v1.8h-1.8zM988.5 253.4h1.6v1.6h-1.6zM981.5 229.8h1.5v1.5h-1.5zM983.5 229.8h1.5v1.5h-1.5zM979.5 229.8h1.5v1.5h-1.5zM981.5 231.8h1.5v1.5h-1.5zM981.5 227.8h1.5v1.5h-1.5zM1016.4 257.0h1.5v1.5h-1.5zM1018.4 257.0h1.5v1.5h-1.5zM1014.4 257.0h1.5v1.5h-1.5zM1016.4 259.0h1.5v1.5h-1.5zM1016.4 255.0h1.5v1.5h-1.5zM1068.2 237.1h1.5v1.5h-1.5zM1070.2 237.1h1.5v1.5h-1.5zM1066.2 237.1h1.5v1.5h-1.5zM1068.2 239.1h1.5v1.5h-1.5zM1068.2 235.1h1.5v1.5h-1.5zM998.6 232.9h1.1v1.1h-1.1zM988.0 239.9h1.5v1.5h-1.5zM990.0 239.9h1.5v1.5h-1.5zM986.0 239.9h1.5v1.5h-1.5zM988.0 241.9h1.5v1.5h-1.5zM988.0 237.9h1.5v1.5h-1.5zM1019.0 227.2h1.5v1.5h-1.5zM1021.0 227.2h1.5v1.5h-1.5zM1017.0 227.2h1.5v1.5h-1.5zM1019.0 229.2h1.5v1.5h-1.5zM1019.0 225.2h1.5v1.5h-1.5zM996.8 235.3h1.5v1.5h-1.5zM998.8 235.3h1.5v1.5h-1.5zM994.8 235.3h1.5v1.5h-1.5zM996.8 237.3h1.5v1.5h-1.5zM996.8 233.3h1.5v1.5h-1.5zM1028.0 235.4h1.1v1.1h-1.1zM1122.5 248.3h1.5v1.5h-1.5zM1124.5 248.3h1.5v1.5h-1.5zM1120.5 248.3h1.5v1.5h-1.5zM1122.5 250.3h1.5v1.5h-1.5zM1122.5 246.3h1.5v1.5h-1.5zM1041.4 233.9h1.8v1.8h-1.8zM1015.9 246.3h1.5v1.5h-1.5zM1017.9 246.3h1.5v1.5h-1.5zM1013.9 246.3h1.5v1.5h-1.5zM1015.9 248.3h1.5v1.5h-1.5zM1015.9 244.3h1.5v1.5h-1.5z"/>
<path fill="#b5ebaa" d="M984.5 231.2h1.4v1.4h-1.4zM1030.3 240.7h1.5v1.5h-1.5zM1032.3 240.7h1.5v1.5h-1.5zM1028.3 240.7h1.5v1.5h-1.5zM1030.3 242.7h1.5v1.5h-1.5zM1030.3 238.7h1.5v1.5h-1.5zM1086.5 245.9h1.5v1.5h-1.5zM1088.5 245.9h1.5v1.5h-1.5zM1084.5 245.9h1.5v1.5h-1.5zM1086.5 247.9h1.5v1.5h-1.5zM1086.5 243.9h1.5v1.5h-1.5zM1013.9 237.0h1.5v1.5h-1.5zM1015.9 237.0h1.5v1.5h-1.5zM1011.9 237.0h1.5v1.5h-1.5zM1013.9 239.0h1.5v1.5h-1.5zM1013.9 235.0h1.5v1.5h-1.5zM1113.7 256.6h1.5v1.5h-1.5zM1115.7 256.6h1.5v1.5h-1.5zM1111.7 256.6h1.5v1.5h-1.5zM1113.7 258.6h1.5v1.5h-1.5zM1113.7 254.6h1.5v1.5h-1.5zM1037.4 240.2h1.5v1.5h-1.5zM1039.4 240.2h1.5v1.5h-1.5zM1035.4 240.2h1.5v1.5h-1.5zM1037.4 242.2h1.5v1.5h-1.5zM1037.4 238.2h1.5v1.5h-1.5zM1050.9 228.0h1.4v1.4h-1.4zM1125.7 248.6h1.5v1.5h-1.5zM1127.7 248.6h1.5v1.5h-1.5zM1123.7 248.6h1.5v1.5h-1.5zM1125.7 250.6h1.5v1.5h-1.5zM1125.7 246.6h1.5v1.5h-1.5zM1063.8 256.3h1.5v1.5h-1.5zM1065.8 256.3h1.5v1.5h-1.5zM1061.8 256.3h1.5v1.5h-1.5zM1063.8 258.3h1.5v1.5h-1.5zM1063.8 254.3h1.5v1.5h-1.5zM1060.9 242.0h1.1v1.1h-1.1zM984.2 248.1h1.2v1.2h-1.2zM1014.3 239.6h1.4v1.4h-1.4zM1074.4 254.1h1.5v1.5h-1.5zM1076.4 254.1h1.5v1.5h-1.5zM1072.4 254.1h1.5v1.5h-1.5zM1074.4 256.1h1.5v1.5h-1.5zM1074.4 252.1h1.5v1.5h-1.5zM1107.0 249.0h1.6v1.6h-1.6zM1078.3 239.4h1.5v1.5h-1.5zM1080.3 239.4h1.5v1.5h-1.5zM1076.3 239.4h1.5v1.5h-1.5zM1078.3 241.4h1.5v1.5h-1.5zM1078.3 237.4h1.5v1.5h-1.5zM1020.8 241.4h1.5v1.5h-1.5zM1022.8 241.4h1.5v1.5h-1.5zM1018.8 241.4h1.5v1.5h-1.5zM1020.8 243.4h1.5v1.5h-1.5zM1020.8 239.4h1.5v1.5h-1.5zM1106.2 257.9h1.3v1.3h-1.3zM1126.3 247.2h1.5v1.5h-1.5zM1128.3 247.2h1.5v1.5h-1.5zM1124.3 247.2h1.5v1.5h-1.5zM1126.3 249.2h1.5v1.5h-1.5zM1126.3 245.2h1.5v1.5h-1.5zM1043.4 225.0h1.8v1.8h-1.8zM1027.6 249.9h1.5v1.5h-1.5zM1029.6 249.9h1.5v1.5h-1.5zM1025.6 249.9h1.5v1.5h-1.5zM1027.6 251.9h1.5v1.5h-1.5zM1027.6 247.9h1.5v1.5h-1.5z"/>
<polygon points="775.6,336.0 775.6,314.0 790.0,297.0 892.5,263.7 913.0,284.0 913.0,313.0 805.4,313.0 805.4,336.0" fill="#fff" stroke="#999" stroke-width="0.8"/>
<path fill="#a8e69a" d="M838.5 290.0h1.5v1.5h-1.5zM840.5 290.0h1.5v1.5h-1.5zM836.5 290.0h1.5v1.5h-1.5zM838.5 292.0h1.5v1.5h-1.5zM838.5 288.0h1.5v1.5h-1.5zM801.3 318.3h1.5v1.5h-1.5zM803.3 318.3h1.5v1.5h-1.5zM799.3 318.3h1.5v1.5h-1.5zM801.3 320.3h1.5v1.5h-1.5zM801.3 316.3h1.5v1.5h-1.5zM896.0 289.4h1.5v1.5h-1.5zM898.0 289.4h1.5v1.5h-1.5zM894.0 289.4h1.5v1.5h-1.5zM896.0 291.4h1.5v1.5h-1.5zM896.0 287.4h1.5v1.5h-1.5zM794.9 304.3h1.6v1.6h-1.6zM901.7 283.0h1.5v1.5h-1.5zM903.7 283.0h1.5v1.5h-1.5zM899.7 283.0h1.5v1.5h-1.5zM901.7 285.0h1.5v1.5h-1.5zM901.7 281.0h1.5v1.5h-1.5zM775.7 318.2h1.5v1.5h-1.5zM777.7 318.2h1.5v1.5h-1.5zM773.7 318.2h1.5v1.5h-1.5zM775.7 320.2h1.5v1.5h-1.5zM775.7 316.2h1.5v1.5h-1.5zM840.9 286.5h1.5v1.5h-1.5zM873.4 311.3h1.1v1.1h-1.1zM867.6 294.2h1.3v1.3h-1.3zM775.3 329.3h1.5v1.5h-1.5zM777.3 329.3h1.5v1.5h-1.5zM773.3 329.3h1.5v1.5h-1.5zM775.3 331.3h1.5v1.5h-1.5zM775.3 327.3h1.5v1.5h-1.5zM828.4 305.4h1.5v1.5h-1.5zM830.4 305.4h1.5v1.5h-1.5zM826.4 305.4h1.5v1.5h-1.5zM828.4 307.4h1.5v1.5h-1.5zM828.4 303.4h1.5v1.5h-1.5zM803.4 329.9h1.6v1.6h-1.6zM836.9 312.1h1.5v1.5h-1.5zM838.9 312.1h1.5v1.5h-1.5zM834.9 312.1h1.5v1.5h-1.5zM836.9 314.1h1.5v1.5h-1.5zM836.9 310.1h1.5v1.5h-1.5zM849.1 311.5h1.5v1.5h-1.5zM851.1 311.5h1.5v1.5h-1.5zM847.1 311.5h1.5v1.5h-1.5zM849.1 313.5h1.5v1.5h-1.5zM849.1 309.5h1.5v1.5h-1.5zM874.0 306.1h1.3v1.3h-1.3zM795.4 305.2h1.6v1.6h-1.6zM902.6 291.3h1.0v1.0h-1.0zM868.4 272.6h1.5v1.5h-1.5zM870.4 272.6h1.5v1.5h-1.5zM866.4 272.6h1.5v1.5h-1.5zM868.4 274.6h1.5v1.5h-1.5zM868.4 270.6h1.5v1.5h-1.5zM905.9 292.5h1.5v1.5h-1.5zM907.9 292.5h1.5v1.5h-1.5zM903.9 292.5h1.5v1.5h-1.5zM905.9 294.5h1.5v1.5h-1.5zM905.9 290.5h1.5v1.5h-1.5zM841.3 306.2h1.4v1.4h-1.4zM912.2 286.4h1.5v1.5h-1.5zM914.2 286.4h1.5v1.5h-1.5zM910.2 286.4h1.5v1.5h-1.5zM912.2 288.4h1.5v1.5h-1.5zM912.2 284.4h1.5v1.5h-1.5zM809.4 289.9h1.5v1.5h-1.5zM811.4 289.9h1.5v1.5h-1.5zM807.4 289.9h1.5v1.5h-1.5zM809.4 291.9h1.5v1.5h-1.5zM809.4 287.9h1.5v1.5h-1.5zM870.4 311.7h1.5v1.5h-1.5zM872.4 311.7h1.5v1.5h-1.5zM868.4 311.7h1.5v1.5h-1.5zM870.4 313.7h1.5v1.5h-1.5zM870.4 309.7h1.5v1.5h-1.5zM891.2 265.6h1.0v1.0h-1.0zM789.7 299.6h1.5v1.5h-1.5zM791.7 299.6h1.5v1.5h-1.5zM787.7 299.6h1.5v1.5h-1.5zM789.7 301.6h1.5v1.5h-1.5zM789.7 297.6h1.5v1.5h-1.5zM803.7 328.0h1.5v1.5h-1.5zM805.7 328.0h1.5v1.5h-1.5zM801.7 328.0h1.5v1.5h-1.5zM803.7 330.0h1.5v1.5h-1.5zM803.7 326.0h1.5v1.5h-1.5zM836.4 298.7h1.5v1.5h-1.5zM838.4 298.7h1.5v1.5h-1.5zM834.4 298.7h1.5v1.5h-1.5zM836.4 300.7h1.5v1.5h-1.5zM836.4 296.7h1.5v1.5h-1.5zM845.5 285.7h1.5v1.5h-1.5zM847.5 285.7h1.5v1.5h-1.5zM843.5 285.7h1.5v1.5h-1.5zM845.5 287.7h1.5v1.5h-1.5zM845.5 283.7h1.5v1.5h-1.5zM833.5 311.7h1.3v1.3h-1.3zM789.5 308.7h1.5v1.5h-1.5zM776.6 324.6h1.5v1.5h-1.5zM778.6 324.6h1.5v1.5h-1.5zM774.6 324.6h1.5v1.5h-1.5zM776.6 326.6h1.5v1.5h-1.5zM776.6 322.6h1.5v1.5h-1.5zM791.6 315.8h1.5v1.5h-1.5zM793.6 315.8h1.5v1.5h-1.5zM789.6 315.8h1.5v1.5h-1.5zM791.6 317.8h1.5v1.5h-1.5zM791.6 313.8h1.5v1.5h-1.5zM837.4 287.9h1.5v1.5h-1.5zM839.4 287.9h1.5v1.5h-1.5zM835.4 287.9h1.5v1.5h-1.5zM837.4 289.9h1.5v1.5h-1.5zM837.4 285.9h1.5v1.5h-1.5zM785.2 317.3h1.5v1.5h-1.5zM787.2 317.3h1.5v1.5h-1.5zM783.2 317.3h1.5v1.5h-1.5zM785.2 319.3h1.5v1.5h-1.5zM785.2 315.3h1.5v1.5h-1.5zM818.6 308.2h1.5v1.5h-1.5zM820.6 308.2h1.5v1.5h-1.5zM816.6 308.2h1.5v1.5h-1.5zM818.6 310.2h1.5v1.5h-1.5zM818.6 306.2h1.5v1.5h-1.5zM780.8 330.9h1.1v1.1h-1.1zM846.0 294.5h1.3v1.3h-1.3zM871.0 312.4h1.7v1.7h-1.7zM801.4 328.8h1.5v1.5h-1.5zM881.2 296.1h1.5v1.5h-1.5zM883.2 296.1h1.5v1.5h-1.5zM879.2 296.1h1.5v1.5h-1.5zM881.2 298.1h1.5v1.5h-1.5zM881.2 294.1h1.5v1.5h-1.5zM784.0 310.5h1.5v1.5h-1.5zM786.0 310.5h1.5v1.5h-1.5zM782.0 310.5h1.5v1.5h-1.5zM784.0 312.5h1.5v1.5h-1.5zM784.0 308.5h1.5v1.5h-1.5zM834.2 304.3h1.5v1.5h-1.5zM836.2 304.3h1.5v1.5h-1.5zM832.2 304.3h1.5v1.5h-1.5zM834.2 306.3h1.5v1.5h-1.5zM834.2 302.3h1.5v1.5h-1.5zM912.7 301.8h1.8v1.8h-1.8zM887.2 311.5h1.7v1.7h-1.7zM808.5 304.7h1.7v1.7h-1.7zM781.8 330.1h1.6v1.6h-1.6zM854.7 295.8h1.4v1.4h-1.4zM897.3 281.5h1.8v1.8h-1.8zM805.1 335.7h1.6v1.6h-1.6zM889.4 275.7h1.5v1.5h-1.5zM891.4 275.7h1.5v1.5h-1.5zM887.4 275.7h1.5v1.5h-1.5zM889.4 277.7h1.5v1.5h-1.5zM889.4 273.7h1.5v1.5h-1.5zM837.9 283.2h1.2v1.2h-1.2zM879.1 284.0h1.5v1.5h-1.5zM881.1 284.0h1.5v1.5h-1.5zM877.1 284.0h1.5v1.5h-1.5zM879.1 286.0h1.5v1.5h-1.5zM879.1 282.0h1.5v1.5h-1.5zM872.8 295.5h1.2v1.2h-1.2zM866.5 306.2h1.1v1.1h-1.1zM779.9 331.1h1.1v1.1h-1.1zM892.7 273.4h1.6v1.6h-1.6z"/>
<path fill="#b5ebaa" d="M868.6 288.2h1.1v1.1h-1.1zM901.0 299.2h1.5v1.5h-1.5zM903.0 299.2h1.5v1.5h-1.5zM899.0 299.2h1.5v1.5h-1.5zM901.0 301.2h1.5v1.5h-1.5zM901.0 297.2h1.5v1.5h-1.5zM827.3 303.5h1.5v1.5h-1.5zM829.3 303.5h1.5v1.5h-1.5zM825.3 303.5h1.5v1.5h-1.5zM827.3 305.5h1.5v1.5h-1.5zM827.3 301.5h1.5v1.5h-1.5zM866.0 282.8h1.5v1.5h-1.5zM868.0 282.8h1.5v1.5h-1.5zM864.0 282.8h1.5v1.5h-1.5zM866.0 284.8h1.5v1.5h-1.5zM866.0 280.8h1.5v1.5h-1.5zM840.0 305.8h1.5v1.5h-1.5zM842.0 305.8h1.5v1.5h-1.5zM838.0 305.8h1.5v1.5h-1.5zM840.0 307.8h1.5v1.5h-1.5zM840.0 303.8h1.5v1.5h-1.5zM857.7 290.0h1.5v1.5h-1.5zM859.7 290.0h1.5v1.5h-1.5zM855.7 290.0h1.5v1.5h-1.5zM857.7 292.0h1.5v1.5h-1.5zM857.7 288.0h1.5v1.5h-1.5zM859.9 312.7h1.1v1.1h-1.1zM823.6 297.0h1.5v1.5h-1.5zM825.6 297.0h1.5v1.5h-1.5zM821.6 297.0h1.5v1.5h-1.5zM823.6 299.0h1.5v1.5h-1.5zM823.6 295.0h1.5v1.5h-1.5zM906.7 306.4h1.7v1.7h-1.7zM816.2 296.7h1.5v1.5h-1.5zM818.2 296.7h1.5v1.5h-1.5zM814.2 296.7h1.5v1.5h-1.5zM816.2 298.7h1.5v1.5h-1.5zM816.2 294.7h1.5v1.5h-1.5zM813.9 301.5h1.6v1.6h-1.6zM885.9 291.8h1.5v1.5h-1.5zM887.9 291.8h1.5v1.5h-1.5zM883.9 291.8h1.5v1.5h-1.5zM885.9 293.8h1.5v1.5h-1.5zM885.9 289.8h1.5v1.5h-1.5zM872.1 286.9h1.5v1.5h-1.5zM874.1 286.9h1.5v1.5h-1.5zM870.1 286.9h1.5v1.5h-1.5zM872.1 288.9h1.5v1.5h-1.5zM872.1 284.9h1.5v1.5h-1.5zM786.0 314.7h1.0v1.0h-1.0zM853.6 299.7h1.5v1.5h-1.5zM855.6 299.7h1.5v1.5h-1.5zM851.6 299.7h1.5v1.5h-1.5zM853.6 301.7h1.5v1.5h-1.5zM853.6 297.7h1.5v1.5h-1.5zM822.8 300.3h1.5v1.5h-1.5zM824.8 300.3h1.5v1.5h-1.5zM820.8 300.3h1.5v1.5h-1.5zM822.8 302.3h1.5v1.5h-1.5zM822.8 298.3h1.5v1.5h-1.5zM908.7 285.6h1.5v1.5h-1.5zM910.7 285.6h1.5v1.5h-1.5zM906.7 285.6h1.5v1.5h-1.5zM908.7 287.6h1.5v1.5h-1.5zM908.7 283.6h1.5v1.5h-1.5zM874.9 310.6h1.5v1.5h-1.5zM876.9 310.6h1.5v1.5h-1.5zM872.9 310.6h1.5v1.5h-1.5zM874.9 312.6h1.5v1.5h-1.5zM874.9 308.6h1.5v1.5h-1.5zM802.8 297.9h1.4v1.4h-1.4zM776.5 326.8h1.8v1.8h-1.8zM886.0 268.0h1.5v1.5h-1.5zM888.0 268.0h1.5v1.5h-1.5zM884.0 268.0h1.5v1.5h-1.5zM886.0 270.0h1.5v1.5h-1.5zM886.0 266.0h1.5v1.5h-1.5zM858.1 290.6h1.5v1.5h-1.5zM860.1 290.6h1.5v1.5h-1.5zM856.1 290.6h1.5v1.5h-1.5zM858.1 292.6h1.5v1.5h-1.5zM858.1 288.6h1.5v1.5h-1.5zM870.0 307.1h1.5v1.5h-1.5zM872.0 307.1h1.5v1.5h-1.5zM868.0 307.1h1.5v1.5h-1.5zM870.0 309.1h1.5v1.5h-1.5zM870.0 305.1h1.5v1.5h-1.5zM855.7 297.6h1.5v1.5h-1.5zM857.7 297.6h1.5v1.5h-1.5zM853.7 297.6h1.5v1.5h-1.5zM855.7 299.6h1.5v1.5h-1.5zM855.7 295.6h1.5v1.5h-1.5zM911.4 310.4h1.5v1.5h-1.5zM913.4 310.4h1.5v1.5h-1.5zM909.4 310.4h1.5v1.5h-1.5zM911.4 312.4h1.5v1.5h-1.5zM911.4 308.4h1.5v1.5h-1.5zM804.2 319.8h1.5v1.5h-1.5zM806.2 319.8h1.5v1.5h-1.5zM802.2 319.8h1.5v1.5h-1.5zM804.2 321.8h1.5v1.5h-1.5zM804.2 317.8h1.5v1.5h-1.5zM778.5 334.4h1.5v1.5h-1.5zM780.5 334.4h1.5v1.5h-1.5zM776.5 334.4h1.5v1.5h-1.5zM778.5 336.4h1.5v1.5h-1.5zM778.5 332.4h1.5v1.5h-1.5zM833.8 286.5h1.5v1.5h-1.5zM835.8 286.5h1.5v1.5h-1.5zM831.8 286.5h1.5v1.5h-1.5zM833.8 288.5h1.5v1.5h-1.5zM833.8 284.5h1.5v1.5h-1.5zM873.2 287.7h1.5v1.5h-1.5zM875.2 287.7h1.5v1.5h-1.5zM871.2 287.7h1.5v1.5h-1.5zM873.2 289.7h1.5v1.5h-1.5zM873.2 285.7h1.5v1.5h-1.5zM828.0 289.3h1.1v1.1h-1.1zM833.9 286.0h1.2v1.2h-1.2zM803.8 312.9h1.4v1.4h-1.4zM879.4 310.9h1.5v1.5h-1.5zM881.4 310.9h1.5v1.5h-1.5zM877.4 310.9h1.5v1.5h-1.5zM879.4 312.9h1.5v1.5h-1.5zM879.4 308.9h1.5v1.5h-1.5zM783.3 325.5h1.5v1.5h-1.5zM785.3 325.5h1.5v1.5h-1.5zM781.3 325.5h1.5v1.5h-1.5zM783.3 327.5h1.5v1.5h-1.5zM783.3 323.5h1.5v1.5h-1.5zM877.7 310.1h1.1v1.1h-1.1zM890.3 285.8h1.5v1.5h-1.5zM892.3 285.8h1.5v1.5h-1.5zM888.3 285.8h1.5v1.5h-1.5zM890.3 287.8h1.5v1.5h-1.5zM890.3 283.8h1.5v1.5h-1.5zM842.9 308.5h1.5v1.5h-1.5zM844.9 308.5h1.5v1.5h-1.5zM840.9 308.5h1.5v1.5h-1.5zM842.9 310.5h1.5v1.5h-1.5zM842.9 306.5h1.5v1.5h-1.5zM881.9 299.8h1.1v1.1h-1.1zM890.7 285.2h1.0v1.0h-1.0zM808.8 310.8h1.5v1.5h-1.5zM810.8 310.8h1.5v1.5h-1.5zM806.8 310.8h1.5v1.5h-1.5zM808.8 312.8h1.5v1.5h-1.5zM808.8 308.8h1.5v1.5h-1.5zM861.7 306.2h1.5v1.5h-1.5zM863.7 306.2h1.5v1.5h-1.5zM859.7 306.2h1.5v1.5h-1.5zM861.7 308.2h1.5v1.5h-1.5zM861.7 304.2h1.5v1.5h-1.5zM787.1 324.9h1.5v1.5h-1.5zM789.1 324.9h1.5v1.5h-1.5zM785.1 324.9h1.5v1.5h-1.5zM787.1 326.9h1.5v1.5h-1.5zM787.1 322.9h1.5v1.5h-1.5zM903.1 295.5h1.5v1.5h-1.5zM905.1 295.5h1.5v1.5h-1.5zM901.1 295.5h1.5v1.5h-1.5zM903.1 297.5h1.5v1.5h-1.5zM903.1 293.5h1.5v1.5h-1.5zM867.3 309.3h1.2v1.2h-1.2zM874.4 270.5h1.5v1.5h-1.5zM876.4 270.5h1.5v1.5h-1.5zM872.4 270.5h1.5v1.5h-1.5zM874.4 272.5h1.5v1.5h-1.5zM874.4 268.5h1.5v1.5h-1.5zM861.4 298.7h1.5v1.5h-1.5zM863.4 298.7h1.5v1.5h-1.5zM859.4 298.7h1.5v1.5h-1.5zM861.4 300.7h1.5v1.5h-1.5zM861.4 296.7h1.5v1.5h-1.5zM912.1 289.0h1.5v1.5h-1.5zM914.1 289.0h1.5v1.5h-1.5zM910.1 289.0h1.5v1.5h-1.5zM912.1 291.0h1.5v1.5h-1.5zM912.1 287.0h1.5v1.5h-1.5zM785.6 334.7h1.5v1.5h-1.5zM787.6 334.7h1.5v1.5h-1.5zM783.6 334.7h1.5v1.5h-1.5zM785.6 336.7h1.5v1.5h-1.5zM785.6 332.7h1.5v1.5h-1.5zM783.6 318.8h1.3v1.3h-1.3zM882.2 311.0h1.5v1.5h-1.5zM884.2 311.0h1.5v1.5h-1.5zM880.2 311.0h1.5v1.5h-1.5zM882.2 313.0h1.5v1.5h-1.5zM882.2 309.0h1.5v1.5h-1.5zM776.2 322.0h1.5v1.5h-1.5zM824.4 298.4h1.1v1.1h-1.1zM866.7 291.8h1.5v1.5h-1.5zM868.7 291.8h1.5v1.5h-1.5zM864.7 291.8h1.5v1.5h-1.5zM866.7 293.8h1.5v1.5h-1.5zM866.7 289.8h1.5v1.5h-1.5zM779.5 324.3h1.7v1.7h-1.7z"/>
<path fill="#8fdc7c" d="M851.8 308.3h1.1v1.1h-1.1zM784.3 313.5h1.2v1.2h-1.2zM791.0 306.9h1.2v1.2h-1.2zM892.0 286.9h1.5v1.5h-1.5zM894.0 286.9h1.5v1.5h-1.5zM890.0 286.9h1.5v1.5h-1.5zM892.0 288.9h1.5v1.5h-1.5zM892.0 284.9h1.5v1.5h-1.5zM808.1 307.9h1.7v1.7h-1.7zM847.3 304.6h1.1v1.1h-1.1zM910.4 304.5h1.5v1.5h-1.5zM912.4 304.5h1.5v1.5h-1.5zM908.4 304.5h1.5v1.5h-1.5zM910.4 306.5h1.5v1.5h-1.5zM910.4 302.5h1.5v1.5h-1.5zM872.4 280.9h1.5v1.5h-1.5zM874.4 280.9h1.5v1.5h-1.5zM870.4 280.9h1.5v1.5h-1.5zM872.4 282.9h1.5v1.5h-1.5zM872.4 278.9h1.5v1.5h-1.5zM883.7 285.0h1.3v1.3h-1.3zM882.1 279.1h1.5v1.5h-1.5zM884.1 279.1h1.5v1.5h-1.5zM880.1 279.1h1.5v1.5h-1.5zM882.1 281.1h1.5v1.5h-1.5zM882.1 277.1h1.5v1.5h-1.5zM850.4 301.5h1.5v1.5h-1.5zM788.6 298.5h1.5v1.5h-1.5zM790.6 298.5h1.5v1.5h-1.5zM786.6 298.5h1.5v1.5h-1.5zM788.6 300.5h1.5v1.5h-1.5zM788.6 296.5h1.5v1.5h-1.5zM779.6 317.4h1.5v1.5h-1.5zM781.6 317.4h1.5v1.5h-1.5zM777.6 317.4h1.5v1.5h-1.5zM779.6 319.4h1.5v1.5h-1.5zM779.6 315.4h1.5v1.5h-1.5zM809.7 307.2h1.5v1.5h-1.5zM811.7 307.2h1.5v1.5h-1.5zM807.7 307.2h1.5v1.5h-1.5zM809.7 309.2h1.5v1.5h-1.5zM809.7 305.2h1.5v1.5h-1.5zM910.5 292.9h1.7v1.7h-1.7zM889.4 300.2h1.5v1.5h-1.5zM891.4 300.2h1.5v1.5h-1.5zM887.4 300.2h1.5v1.5h-1.5zM889.4 302.2h1.5v1.5h-1.5zM889.4 298.2h1.5v1.5h-1.5zM776.4 329.6h1.5v1.5h-1.5zM778.4 329.6h1.5v1.5h-1.5zM774.4 329.6h1.5v1.5h-1.5zM776.4 331.6h1.5v1.5h-1.5zM776.4 327.6h1.5v1.5h-1.5zM795.1 312.1h1.5v1.5h-1.5zM797.1 312.1h1.5v1.5h-1.5zM793.1 312.1h1.5v1.5h-1.5zM795.1 314.1h1.5v1.5h-1.5zM795.1 310.1h1.5v1.5h-1.5zM800.5 319.3h1.5v1.5h-1.5zM802.5 319.3h1.5v1.5h-1.5zM798.5 319.3h1.5v1.5h-1.5zM800.5 321.3h1.5v1.5h-1.5zM800.5 317.3h1.5v1.5h-1.5zM875.4 277.5h1.8v1.8h-1.8zM889.8 311.1h1.5v1.5h-1.5zM891.8 311.1h1.5v1.5h-1.5zM887.8 311.1h1.5v1.5h-1.5zM889.8 313.1h1.5v1.5h-1.5zM889.8 309.1h1.5v1.5h-1.5zM847.5 285.5h1.5v1.5h-1.5zM849.5 285.5h1.5v1.5h-1.5zM845.5 285.5h1.5v1.5h-1.5zM847.5 287.5h1.5v1.5h-1.5zM847.5 283.5h1.5v1.5h-1.5zM854.2 277.5h1.5v1.5h-1.5zM856.2 277.5h1.5v1.5h-1.5zM852.2 277.5h1.5v1.5h-1.5zM854.2 279.5h1.5v1.5h-1.5zM854.2 275.5h1.5v1.5h-1.5zM832.3 299.6h1.0v1.0h-1.0zM816.0 290.9h1.1v1.1h-1.1zM869.2 271.6h1.5v1.5h-1.5zM871.2 271.6h1.5v1.5h-1.5zM867.2 271.6h1.5v1.5h-1.5zM869.2 273.6h1.5v1.5h-1.5zM869.2 269.6h1.5v1.5h-1.5zM850.4 310.9h1.2v1.2h-1.2zM811.4 290.3h1.5v1.5h-1.5zM880.4 281.6h1.5v1.5h-1.5zM882.4 281.6h1.5v1.5h-1.5zM878.4 281.6h1.5v1.5h-1.5zM880.4 283.6h1.5v1.5h-1.5zM880.4 279.6h1.5v1.5h-1.5zM852.8 275.8h1.5v1.5h-1.5zM854.8 275.8h1.5v1.5h-1.5zM850.8 275.8h1.5v1.5h-1.5zM852.8 277.8h1.5v1.5h-1.5zM852.8 273.8h1.5v1.5h-1.5zM872.2 288.2h1.5v1.5h-1.5zM874.2 288.2h1.5v1.5h-1.5zM870.2 288.2h1.5v1.5h-1.5zM872.2 290.2h1.5v1.5h-1.5zM872.2 286.2h1.5v1.5h-1.5zM904.7 282.1h1.4v1.4h-1.4zM865.4 309.8h1.1v1.1h-1.1zM818.3 311.4h1.8v1.8h-1.8zM848.4 299.2h1.5v1.5h-1.5zM850.4 299.2h1.5v1.5h-1.5zM846.4 299.2h1.5v1.5h-1.5zM848.4 301.2h1.5v1.5h-1.5zM848.4 297.2h1.5v1.5h-1.5zM808.2 296.4h1.7v1.7h-1.7zM843.2 294.5h1.5v1.5h-1.5zM845.2 294.5h1.5v1.5h-1.5zM841.2 294.5h1.5v1.5h-1.5zM843.2 296.5h1.5v1.5h-1.5zM843.2 292.5h1.5v1.5h-1.5zM873.7 282.0h1.5v1.5h-1.5zM875.7 282.0h1.5v1.5h-1.5zM871.7 282.0h1.5v1.5h-1.5zM873.7 284.0h1.5v1.5h-1.5zM873.7 280.0h1.5v1.5h-1.5zM805.0 293.6h1.8v1.8h-1.8zM854.0 302.5h1.7v1.7h-1.7zM785.7 335.1h1.6v1.6h-1.6zM798.9 295.9h1.5v1.5h-1.5zM800.9 295.9h1.5v1.5h-1.5zM796.9 295.9h1.5v1.5h-1.5zM798.9 297.9h1.5v1.5h-1.5zM798.9 293.9h1.5v1.5h-1.5zM858.1 285.0h1.5v1.5h-1.5zM860.1 285.0h1.5v1.5h-1.5zM856.1 285.0h1.5v1.5h-1.5zM858.1 287.0h1.5v1.5h-1.5zM858.1 283.0h1.5v1.5h-1.5zM850.4 287.3h1.5v1.5h-1.5zM852.4 287.3h1.5v1.5h-1.5zM848.4 287.3h1.5v1.5h-1.5zM850.4 289.3h1.5v1.5h-1.5zM850.4 285.3h1.5v1.5h-1.5zM816.6 307.7h1.5v1.5h-1.5zM818.6 307.7h1.5v1.5h-1.5zM814.6 307.7h1.5v1.5h-1.5zM816.6 309.7h1.5v1.5h-1.5zM816.6 305.7h1.5v1.5h-1.5zM808.4 294.0h1.7v1.7h-1.7zM845.5 282.5h1.6v1.6h-1.6zM844.1 291.5h1.5v1.5h-1.5zM846.1 291.5h1.5v1.5h-1.5zM842.1 291.5h1.5v1.5h-1.5zM844.1 293.5h1.5v1.5h-1.5zM844.1 289.5h1.5v1.5h-1.5zM836.7 304.9h1.5v1.5h-1.5zM853.9 300.3h1.5v1.5h-1.5zM855.9 300.3h1.5v1.5h-1.5zM851.9 300.3h1.5v1.5h-1.5zM853.9 302.3h1.5v1.5h-1.5zM853.9 298.3h1.5v1.5h-1.5zM882.0 268.0h1.1v1.1h-1.1zM897.7 281.8h1.2v1.2h-1.2zM883.4 300.8h1.2v1.2h-1.2zM898.4 312.7h1.1v1.1h-1.1zM830.8 302.6h1.2v1.2h-1.2zM883.9 286.3h1.5v1.5h-1.5zM885.9 286.3h1.5v1.5h-1.5zM881.9 286.3h1.5v1.5h-1.5zM883.9 288.3h1.5v1.5h-1.5zM883.9 284.3h1.5v1.5h-1.5zM893.7 282.3h1.5v1.5h-1.5zM895.7 282.3h1.5v1.5h-1.5zM891.7 282.3h1.5v1.5h-1.5zM893.7 284.3h1.5v1.5h-1.5zM893.7 280.3h1.5v1.5h-1.5zM883.1 269.0h1.5v1.5h-1.5zM885.1 269.0h1.5v1.5h-1.5zM881.1 269.0h1.5v1.5h-1.5zM883.1 271.0h1.5v1.5h-1.5zM883.1 267.0h1.5v1.5h-1.5zM806.8 307.1h1.5v1.5h-1.5zM808.8 307.1h1.5v1.5h-1.5zM804.8 307.1h1.5v1.5h-1.5zM806.8 309.1h1.5v1.5h-1.5zM806.8 305.1h1.5v1.5h-1.5zM911.1 285.2h1.5v1.5h-1.5zM913.1 285.2h1.5v1.5h-1.5zM909.1 285.2h1.5v1.5h-1.5zM911.1 287.2h1.5v1.5h-1.5zM911.1 283.2h1.5v1.5h-1.5zM871.0 310.2h1.2v1.2h-1.2zM868.1 274.4h1.5v1.5h-1.5zM870.1 274.4h1.5v1.5h-1.5zM866.1 274.4h1.5v1.5h-1.5zM868.1 276.4h1.5v1.5h-1.5zM868.1 272.4h1.5v1.5h-1.5zM779.2 324.3h1.6v1.6h-1.6z"/>
<path fill="#7fd46c" d="M900.8 292.4h1.2v1.2h-1.2zM830.0 290.0h1.5v1.5h-1.5zM832.0 290.0h1.5v1.5h-1.5zM828.0 290.0h1.5v1.5h-1.5zM830.0 292.0h1.5v1.5h-1.5zM830.0 288.0h1.5v1.5h-1.5zM850.3 305.9h1.5v1.5h-1.5zM852.3 305.9h1.5v1.5h-1.5zM848.3 305.9h1.5v1.5h-1.5zM850.3 307.9h1.5v1.5h-1.5zM850.3 303.9h1.5v1.5h-1.5zM881.5 287.1h1.5v1.5h-1.5zM883.5 287.1h1.5v1.5h-1.5zM879.5 287.1h1.5v1.5h-1.5zM881.5 289.1h1.5v1.5h-1.5zM881.5 285.1h1.5v1.5h-1.5zM839.8 301.4h1.1v1.1h-1.1zM858.6 299.3h1.7v1.7h-1.7zM867.0 290.8h1.5v1.5h-1.5zM869.0 290.8h1.5v1.5h-1.5zM865.0 290.8h1.5v1.5h-1.5zM867.0 292.8h1.5v1.5h-1.5zM867.0 288.8h1.5v1.5h-1.5zM881.2 288.7h1.5v1.5h-1.5zM883.2 288.7h1.5v1.5h-1.5zM879.2 288.7h1.5v1.5h-1.5zM881.2 290.7h1.5v1.5h-1.5zM881.2 286.7h1.5v1.5h-1.5zM844.1 282.6h1.8v1.8h-1.8zM826.5 309.9h1.1v1.1h-1.1zM896.9 295.4h1.6v1.6h-1.6zM791.1 314.8h1.5v1.5h-1.5zM793.1 314.8h1.5v1.5h-1.5zM789.1 314.8h1.5v1.5h-1.5zM791.1 316.8h1.5v1.5h-1.5zM791.1 312.8h1.5v1.5h-1.5zM800.5 326.8h1.5v1.5h-1.5zM802.5 326.8h1.5v1.5h-1.5zM798.5 326.8h1.5v1.5h-1.5zM800.5 328.8h1.5v1.5h-1.5zM800.5 324.8h1.5v1.5h-1.5zM786.1 317.5h1.5v1.5h-1.5zM788.1 317.5h1.5v1.5h-1.5zM784.1 317.5h1.5v1.5h-1.5zM786.1 319.5h1.5v1.5h-1.5zM786.1 315.5h1.5v1.5h-1.5zM786.6 333.5h1.1v1.1h-1.1zM819.4 298.2h1.2v1.2h-1.2zM788.5 304.4h1.5v1.5h-1.5zM815.1 298.5h1.4v1.4h-1.4zM799.1 324.0h1.1v1.1h-1.1zM848.7 292.5h1.5v1.5h-1.5zM850.7 292.5h1.5v1.5h-1.5zM846.7 292.5h1.5v1.5h-1.5zM848.7 294.5h1.5v1.5h-1.5zM848.7 290.5h1.5v1.5h-1.5zM828.2 302.5h1.5v1.5h-1.5zM830.2 302.5h1.5v1.5h-1.5zM826.2 302.5h1.5v1.5h-1.5zM828.2 304.5h1.5v1.5h-1.5zM828.2 300.5h1.5v1.5h-1.5zM825.5 297.3h1.5v1.5h-1.5zM784.2 321.2h1.3v1.3h-1.3zM878.1 301.5h1.2v1.2h-1.2zM874.9 276.7h1.5v1.5h-1.5zM876.9 276.7h1.5v1.5h-1.5zM872.9 276.7h1.5v1.5h-1.5zM874.9 278.7h1.5v1.5h-1.5zM874.9 274.7h1.5v1.5h-1.5zM838.7 311.7h1.1v1.1h-1.1zM845.4 281.7h1.5v1.5h-1.5zM847.4 281.7h1.5v1.5h-1.5zM843.4 281.7h1.5v1.5h-1.5zM845.4 283.7h1.5v1.5h-1.5zM845.4 279.7h1.5v1.5h-1.5zM825.7 292.4h1.6v1.6h-1.6zM854.4 306.7h1.1v1.1h-1.1zM894.7 281.5h1.4v1.4h-1.4zM858.8 279.4h1.5v1.5h-1.5zM869.3 297.9h1.6v1.6h-1.6zM885.6 274.4h1.4v1.4h-1.4zM886.7 271.2h1.0v1.0h-1.0zM792.0 322.4h1.5v1.5h-1.5zM794.0 322.4h1.5v1.5h-1.5zM790.0 322.4h1.5v1.5h-1.5zM792.0 324.4h1.5v1.5h-1.5zM792.0 320.4h1.5v1.5h-1.5zM822.3 307.8h1.3v1.3h-1.3zM855.3 305.2h1.0v1.0h-1.0zM799.0 319.6h1.3v1.3h-1.3zM891.6 302.1h1.5v1.5h-1.5zM893.6 302.1h1.5v1.5h-1.5zM889.6 302.1h1.5v1.5h-1.5zM891.6 304.1h1.5v1.5h-1.5zM891.6 300.1h1.5v1.5h-1.5zM811.8 296.4h1.5v1.5h-1.5zM813.8 296.4h1.5v1.5h-1.5zM809.8 296.4h1.5v1.5h-1.5zM811.8 298.4h1.5v1.5h-1.5zM811.8 294.4h1.5v1.5h-1.5zM877.7 299.2h1.5v1.5h-1.5zM879.7 299.2h1.5v1.5h-1.5zM875.7 299.2h1.5v1.5h-1.5zM877.7 301.2h1.5v1.5h-1.5zM877.7 297.2h1.5v1.5h-1.5zM792.0 324.8h1.7v1.7h-1.7zM851.7 307.3h1.6v1.6h-1.6zM867.7 296.0h1.4v1.4h-1.4zM896.0 275.1h1.7v1.7h-1.7zM858.4 312.0h1.3v1.3h-1.3zM877.3 290.1h1.5v1.5h-1.5zM848.7 304.9h1.3v1.3h-1.3zM864.6 302.9h1.5v1.5h-1.5zM866.6 302.9h1.5v1.5h-1.5zM862.6 302.9h1.5v1.5h-1.5zM864.6 304.9h1.5v1.5h-1.5zM864.6 300.9h1.5v1.5h-1.5zM853.7 290.8h1.5v1.5h-1.5zM855.7 290.8h1.5v1.5h-1.5zM851.7 290.8h1.5v1.5h-1.5zM853.7 292.8h1.5v1.5h-1.5zM853.7 288.8h1.5v1.5h-1.5zM788.1 308.7h1.5v1.5h-1.5zM790.1 308.7h1.5v1.5h-1.5zM786.1 308.7h1.5v1.5h-1.5zM788.1 310.7h1.5v1.5h-1.5zM788.1 306.7h1.5v1.5h-1.5zM824.8 288.9h1.5v1.5h-1.5zM826.8 288.9h1.5v1.5h-1.5zM822.8 288.9h1.5v1.5h-1.5zM824.8 290.9h1.5v1.5h-1.5zM824.8 286.9h1.5v1.5h-1.5z"/>
<polygon points="774.0,365.0 803.5,365.0 803.5,529.0 771.0,529.0 771.0,520.0 757.0,458.0 764.8,428.0 757.0,396.0" fill="#fff" stroke="#999" stroke-width="0.8"/>
<path fill="#8fdc7c" d="M782.9 434.6h1.5v1.5h-1.5zM784.9 434.6h1.5v1.5h-1.5zM780.9 434.6h1.5v1.5h-1.5zM782.9 436.6h1.5v1.5h-1.5zM782.9 432.6h1.5v1.5h-1.5zM770.3 463.8h1.5v1.5h-1.5zM772.3 463.8h1.5v1.5h-1.5zM768.3 463.8h1.5v1.5h-1.5zM770.3 465.8h1.5v1.5h-1.5zM770.3 461.8h1.5v1.5h-1.5zM772.5 435.6h1.5v1.5h-1.5zM774.5 435.6h1.5v1.5h-1.5zM770.5 435.6h1.5v1.5h-1.5zM772.5 437.6h1.5v1.5h-1.5zM772.5 433.6h1.5v1.5h-1.5zM797.5 472.0h1.6v1.6h-1.6zM785.0 433.2h1.6v1.6h-1.6zM770.6 455.5h1.5v1.5h-1.5zM772.6 455.5h1.5v1.5h-1.5zM768.6 455.5h1.5v1.5h-1.5zM770.6 457.5h1.5v1.5h-1.5zM770.6 453.5h1.5v1.5h-1.5zM798.8 496.2h1.5v1.5h-1.5zM800.8 496.2h1.5v1.5h-1.5zM796.8 496.2h1.5v1.5h-1.5zM798.8 498.2h1.5v1.5h-1.5zM798.8 494.2h1.5v1.5h-1.5zM776.7 508.8h1.5v1.5h-1.5zM778.7 508.8h1.5v1.5h-1.5zM774.7 508.8h1.5v1.5h-1.5zM776.7 510.8h1.5v1.5h-1.5zM776.7 506.8h1.5v1.5h-1.5zM761.5 470.1h1.1v1.1h-1.1zM786.1 478.6h1.5v1.5h-1.5zM788.1 478.6h1.5v1.5h-1.5zM784.1 478.6h1.5v1.5h-1.5zM786.1 480.6h1.5v1.5h-1.5zM786.1 476.6h1.5v1.5h-1.5zM769.8 470.8h1.5v1.5h-1.5zM771.8 470.8h1.5v1.5h-1.5zM767.8 470.8h1.5v1.5h-1.5zM769.8 472.8h1.5v1.5h-1.5zM769.8 468.8h1.5v1.5h-1.5zM787.8 478.0h1.5v1.5h-1.5zM789.8 478.0h1.5v1.5h-1.5zM785.8 478.0h1.5v1.5h-1.5zM787.8 480.0h1.5v1.5h-1.5zM787.8 476.0h1.5v1.5h-1.5zM785.2 455.8h1.5v1.5h-1.5zM787.2 455.8h1.5v1.5h-1.5zM783.2 455.8h1.5v1.5h-1.5zM785.2 457.8h1.5v1.5h-1.5zM785.2 453.8h1.5v1.5h-1.5zM778.4 493.4h1.5v1.5h-1.5zM780.4 493.4h1.5v1.5h-1.5zM776.4 493.4h1.5v1.5h-1.5zM778.4 495.4h1.5v1.5h-1.5zM778.4 491.4h1.5v1.5h-1.5zM781.6 462.0h1.5v1.5h-1.5zM783.6 462.0h1.5v1.5h-1.5zM779.6 462.0h1.5v1.5h-1.5zM781.6 464.0h1.5v1.5h-1.5zM781.6 460.0h1.5v1.5h-1.5zM768.1 379.2h1.5v1.5h-1.5zM770.1 379.2h1.5v1.5h-1.5zM766.1 379.2h1.5v1.5h-1.5zM768.1 381.2h1.5v1.5h-1.5zM768.1 377.2h1.5v1.5h-1.5zM759.1 398.9h1.5v1.5h-1.5zM761.1 398.9h1.5v1.5h-1.5zM757.1 398.9h1.5v1.5h-1.5zM759.1 400.9h1.5v1.5h-1.5zM759.1 396.9h1.5v1.5h-1.5zM777.6 474.8h1.5v1.5h-1.5zM779.6 474.8h1.5v1.5h-1.5zM775.6 474.8h1.5v1.5h-1.5zM777.6 476.8h1.5v1.5h-1.5zM777.6 472.8h1.5v1.5h-1.5zM792.4 493.4h1.5v1.5h-1.5zM794.4 493.4h1.5v1.5h-1.5zM790.4 493.4h1.5v1.5h-1.5zM792.4 495.4h1.5v1.5h-1.5zM792.4 491.4h1.5v1.5h-1.5zM778.5 457.1h1.5v1.5h-1.5zM780.5 457.1h1.5v1.5h-1.5zM776.5 457.1h1.5v1.5h-1.5zM778.5 459.1h1.5v1.5h-1.5zM778.5 455.1h1.5v1.5h-1.5zM774.2 521.7h1.5v1.5h-1.5zM776.2 521.7h1.5v1.5h-1.5zM772.2 521.7h1.5v1.5h-1.5zM774.2 523.7h1.5v1.5h-1.5zM774.2 519.7h1.5v1.5h-1.5zM770.2 406.8h1.5v1.5h-1.5zM772.2 406.8h1.5v1.5h-1.5zM768.2 406.8h1.5v1.5h-1.5zM770.2 408.8h1.5v1.5h-1.5zM770.2 404.8h1.5v1.5h-1.5zM787.7 446.5h1.5v1.5h-1.5zM789.7 446.5h1.5v1.5h-1.5zM785.7 446.5h1.5v1.5h-1.5zM787.7 448.5h1.5v1.5h-1.5zM787.7 444.5h1.5v1.5h-1.5zM770.2 392.9h1.3v1.3h-1.3zM773.9 377.4h1.5v1.5h-1.5zM775.9 377.4h1.5v1.5h-1.5zM771.9 377.4h1.5v1.5h-1.5zM773.9 379.4h1.5v1.5h-1.5zM773.9 375.4h1.5v1.5h-1.5zM795.0 453.1h1.5v1.5h-1.5zM797.0 453.1h1.5v1.5h-1.5zM793.0 453.1h1.5v1.5h-1.5zM795.0 455.1h1.5v1.5h-1.5zM795.0 451.1h1.5v1.5h-1.5zM785.7 422.8h1.5v1.5h-1.5zM787.7 422.8h1.5v1.5h-1.5zM783.7 422.8h1.5v1.5h-1.5zM785.7 424.8h1.5v1.5h-1.5zM785.7 420.8h1.5v1.5h-1.5zM801.0 512.5h1.5v1.5h-1.5zM803.0 512.5h1.5v1.5h-1.5zM799.0 512.5h1.5v1.5h-1.5zM801.0 514.5h1.5v1.5h-1.5zM801.0 510.5h1.5v1.5h-1.5zM801.8 486.3h1.5v1.5h-1.5zM803.8 486.3h1.5v1.5h-1.5zM799.8 486.3h1.5v1.5h-1.5zM801.8 488.3h1.5v1.5h-1.5zM801.8 484.3h1.5v1.5h-1.5zM790.5 469.7h1.7v1.7h-1.7zM773.8 440.3h1.5v1.5h-1.5zM775.8 440.3h1.5v1.5h-1.5zM771.8 440.3h1.5v1.5h-1.5zM773.8 442.3h1.5v1.5h-1.5zM773.8 438.3h1.5v1.5h-1.5zM780.3 379.5h1.5v1.5h-1.5zM782.3 379.5h1.5v1.5h-1.5zM778.3 379.5h1.5v1.5h-1.5zM780.3 381.5h1.5v1.5h-1.5zM780.3 377.5h1.5v1.5h-1.5zM792.1 438.8h1.8v1.8h-1.8zM778.4 375.2h1.5v1.5h-1.5zM780.4 375.2h1.5v1.5h-1.5zM776.4 375.2h1.5v1.5h-1.5zM778.4 377.2h1.5v1.5h-1.5zM778.4 373.2h1.5v1.5h-1.5zM786.8 490.2h1.5v1.5h-1.5zM788.8 490.2h1.5v1.5h-1.5zM784.8 490.2h1.5v1.5h-1.5zM786.8 492.2h1.5v1.5h-1.5zM786.8 488.2h1.5v1.5h-1.5zM791.2 450.2h1.0v1.0h-1.0zM770.6 422.1h1.5v1.5h-1.5zM788.0 393.1h1.5v1.5h-1.5zM790.0 393.1h1.5v1.5h-1.5zM786.0 393.1h1.5v1.5h-1.5zM788.0 395.1h1.5v1.5h-1.5zM788.0 391.1h1.5v1.5h-1.5zM799.2 395.8h1.4v1.4h-1.4zM770.0 393.5h1.5v1.5h-1.5zM772.0 393.5h1.5v1.5h-1.5zM768.0 393.5h1.5v1.5h-1.5zM770.0 395.5h1.5v1.5h-1.5zM770.0 391.5h1.5v1.5h-1.5zM772.9 401.8h1.7v1.7h-1.7zM762.4 408.9h1.5v1.5h-1.5zM764.4 408.9h1.5v1.5h-1.5zM760.4 408.9h1.5v1.5h-1.5zM762.4 410.9h1.5v1.5h-1.5zM762.4 406.9h1.5v1.5h-1.5zM792.3 442.2h1.5v1.5h-1.5zM794.3 442.2h1.5v1.5h-1.5zM790.3 442.2h1.5v1.5h-1.5zM792.3 444.2h1.5v1.5h-1.5zM792.3 440.2h1.5v1.5h-1.5zM773.4 435.1h1.5v1.5h-1.5zM793.2 474.4h1.5v1.5h-1.5zM795.2 474.4h1.5v1.5h-1.5zM791.2 474.4h1.5v1.5h-1.5zM793.2 476.4h1.5v1.5h-1.5zM793.2 472.4h1.5v1.5h-1.5zM800.5 507.1h1.5v1.5h-1.5zM802.5 507.1h1.5v1.5h-1.5zM798.5 507.1h1.5v1.5h-1.5zM800.5 509.1h1.5v1.5h-1.5zM800.5 505.1h1.5v1.5h-1.5zM799.1 366.9h1.5v1.5h-1.5zM801.1 366.9h1.5v1.5h-1.5zM797.1 366.9h1.5v1.5h-1.5zM799.1 368.9h1.5v1.5h-1.5zM799.1 364.9h1.5v1.5h-1.5z"/>
<path fill="#a8e69a" d="M794.1 499.4h1.5v1.5h-1.5zM796.1 499.4h1.5v1.5h-1.5zM792.1 499.4h1.5v1.5h-1.5zM794.1 501.4h1.5v1.5h-1.5zM794.1 497.4h1.5v1.5h-1.5zM795.4 408.0h1.5v1.5h-1.5zM784.2 503.4h1.8v1.8h-1.8zM788.7 388.5h1.2v1.2h-1.2zM771.1 473.3h1.4v1.4h-1.4zM797.4 475.4h1.8v1.8h-1.8zM787.2 514.2h1.3v1.3h-1.3zM762.4 413.6h1.7v1.7h-1.7zM772.6 377.4h1.5v1.5h-1.5zM774.6 377.4h1.5v1.5h-1.5zM770.6 377.4h1.5v1.5h-1.5zM772.6 379.4h1.5v1.5h-1.5zM772.6 375.4h1.5v1.5h-1.5zM774.7 425.6h1.5v1.5h-1.5zM776.7 425.6h1.5v1.5h-1.5zM772.7 425.6h1.5v1.5h-1.5zM774.7 427.6h1.5v1.5h-1.5zM774.7 423.6h1.5v1.5h-1.5zM791.6 521.0h1.8v1.8h-1.8zM772.1 509.9h1.5v1.5h-1.5zM774.1 509.9h1.5v1.5h-1.5zM770.1 509.9h1.5v1.5h-1.5zM772.1 511.9h1.5v1.5h-1.5zM772.1 507.9h1.5v1.5h-1.5zM784.3 392.4h1.5v1.5h-1.5zM786.3 392.4h1.5v1.5h-1.5zM782.3 392.4h1.5v1.5h-1.5zM784.3 394.4h1.5v1.5h-1.5zM784.3 390.4h1.5v1.5h-1.5zM793.0 420.9h1.5v1.5h-1.5zM795.0 420.9h1.5v1.5h-1.5zM791.0 420.9h1.5v1.5h-1.5zM793.0 422.9h1.5v1.5h-1.5zM793.0 418.9h1.5v1.5h-1.5zM784.5 391.4h1.5v1.5h-1.5zM786.5 391.4h1.5v1.5h-1.5zM782.5 391.4h1.5v1.5h-1.5zM784.5 393.4h1.5v1.5h-1.5zM784.5 389.4h1.5v1.5h-1.5zM791.6 444.9h1.5v1.5h-1.5zM793.6 444.9h1.5v1.5h-1.5zM789.6 444.9h1.5v1.5h-1.5zM791.6 446.9h1.5v1.5h-1.5zM791.6 442.9h1.5v1.5h-1.5zM798.5 465.9h1.5v1.5h-1.5zM800.5 465.9h1.5v1.5h-1.5zM796.5 465.9h1.5v1.5h-1.5zM798.5 467.9h1.5v1.5h-1.5zM798.5 463.9h1.5v1.5h-1.5zM770.4 499.6h1.3v1.3h-1.3zM788.2 490.2h1.5v1.5h-1.5zM790.2 490.2h1.5v1.5h-1.5zM786.2 490.2h1.5v1.5h-1.5zM788.2 492.2h1.5v1.5h-1.5zM788.2 488.2h1.5v1.5h-1.5zM775.9 372.1h1.5v1.5h-1.5zM777.9 372.1h1.5v1.5h-1.5zM773.9 372.1h1.5v1.5h-1.5zM775.9 374.1h1.5v1.5h-1.5zM775.9 370.1h1.5v1.5h-1.5zM760.7 451.1h1.4v1.4h-1.4zM785.4 368.9h1.5v1.5h-1.5zM787.4 368.9h1.5v1.5h-1.5zM783.4 368.9h1.5v1.5h-1.5zM785.4 370.9h1.5v1.5h-1.5zM785.4 366.9h1.5v1.5h-1.5zM798.1 499.7h1.5v1.5h-1.5zM800.1 499.7h1.5v1.5h-1.5zM796.1 499.7h1.5v1.5h-1.5zM798.1 501.7h1.5v1.5h-1.5zM798.1 497.7h1.5v1.5h-1.5zM782.1 476.7h1.7v1.7h-1.7zM791.1 504.3h1.5v1.5h-1.5zM793.1 504.3h1.5v1.5h-1.5zM789.1 504.3h1.5v1.5h-1.5zM791.1 506.3h1.5v1.5h-1.5zM791.1 502.3h1.5v1.5h-1.5zM775.4 379.6h1.4v1.4h-1.4zM787.2 424.5h1.5v1.5h-1.5zM789.2 424.5h1.5v1.5h-1.5zM785.2 424.5h1.5v1.5h-1.5zM787.2 426.5h1.5v1.5h-1.5zM787.2 422.5h1.5v1.5h-1.5zM803.1 384.8h1.1v1.1h-1.1zM786.8 438.2h1.5v1.5h-1.5zM788.8 438.2h1.5v1.5h-1.5zM784.8 438.2h1.5v1.5h-1.5zM786.8 440.2h1.5v1.5h-1.5zM786.8 436.2h1.5v1.5h-1.5zM767.2 425.6h1.5v1.5h-1.5zM769.2 425.6h1.5v1.5h-1.5zM765.2 425.6h1.5v1.5h-1.5zM767.2 427.6h1.5v1.5h-1.5zM767.2 423.6h1.5v1.5h-1.5zM776.5 489.9h1.0v1.0h-1.0zM778.0 371.3h1.5v1.5h-1.5zM780.0 371.3h1.5v1.5h-1.5zM776.0 371.3h1.5v1.5h-1.5zM778.0 373.3h1.5v1.5h-1.5zM778.0 369.3h1.5v1.5h-1.5zM776.3 490.1h1.5v1.5h-1.5zM778.3 490.1h1.5v1.5h-1.5zM774.3 490.1h1.5v1.5h-1.5zM776.3 492.1h1.5v1.5h-1.5zM776.3 488.1h1.5v1.5h-1.5zM790.1 488.8h1.5v1.5h-1.5zM790.6 483.9h1.5v1.5h-1.5zM792.6 483.9h1.5v1.5h-1.5zM788.6 483.9h1.5v1.5h-1.5zM790.6 485.9h1.5v1.5h-1.5zM790.6 481.9h1.5v1.5h-1.5zM779.8 515.8h1.4v1.4h-1.4zM795.0 422.5h1.7v1.7h-1.7zM785.1 391.1h1.5v1.5h-1.5zM787.1 391.1h1.5v1.5h-1.5zM783.1 391.1h1.5v1.5h-1.5zM785.1 393.1h1.5v1.5h-1.5zM785.1 389.1h1.5v1.5h-1.5zM770.9 434.5h1.5v1.5h-1.5zM772.9 434.5h1.5v1.5h-1.5zM768.9 434.5h1.5v1.5h-1.5zM770.9 436.5h1.5v1.5h-1.5zM770.9 432.5h1.5v1.5h-1.5zM764.0 456.1h1.4v1.4h-1.4zM798.2 476.1h1.5v1.5h-1.5zM800.2 476.1h1.5v1.5h-1.5zM796.2 476.1h1.5v1.5h-1.5zM798.2 478.1h1.5v1.5h-1.5zM798.2 474.1h1.5v1.5h-1.5zM791.7 392.0h1.5v1.5h-1.5zM793.7 392.0h1.5v1.5h-1.5zM789.7 392.0h1.5v1.5h-1.5zM791.7 394.0h1.5v1.5h-1.5zM791.7 390.0h1.5v1.5h-1.5zM791.4 405.4h1.2v1.2h-1.2zM778.2 394.2h1.5v1.5h-1.5zM780.2 394.2h1.5v1.5h-1.5zM776.2 394.2h1.5v1.5h-1.5zM778.2 396.2h1.5v1.5h-1.5zM778.2 392.2h1.5v1.5h-1.5zM761.3 406.5h1.5v1.5h-1.5zM763.3 406.5h1.5v1.5h-1.5zM759.3 406.5h1.5v1.5h-1.5zM761.3 408.5h1.5v1.5h-1.5zM761.3 404.5h1.5v1.5h-1.5zM770.4 391.6h1.8v1.8h-1.8zM786.7 370.0h1.6v1.6h-1.6zM802.1 514.7h1.5v1.5h-1.5zM804.1 514.7h1.5v1.5h-1.5zM800.1 514.7h1.5v1.5h-1.5zM802.1 516.7h1.5v1.5h-1.5zM802.1 512.7h1.5v1.5h-1.5z"/>
<path fill="#7fd46c" d="M779.1 376.8h1.5v1.5h-1.5zM781.1 376.8h1.5v1.5h-1.5zM777.1 376.8h1.5v1.5h-1.5zM779.1 378.8h1.5v1.5h-1.5zM779.1 374.8h1.5v1.5h-1.5zM800.8 414.7h1.2v1.2h-1.2zM796.8 389.5h1.1v1.1h-1.1zM776.7 375.0h1.5v1.5h-1.5zM778.7 375.0h1.5v1.5h-1.5zM774.7 375.0h1.5v1.5h-1.5zM776.7 377.0h1.5v1.5h-1.5zM776.7 373.0h1.5v1.5h-1.5zM792.0 522.1h1.5v1.5h-1.5zM794.0 522.1h1.5v1.5h-1.5zM790.0 522.1h1.5v1.5h-1.5zM792.0 524.1h1.5v1.5h-1.5zM792.0 520.1h1.5v1.5h-1.5zM802.9 477.2h1.4v1.4h-1.4zM790.9 398.5h1.5v1.5h-1.5zM792.9 398.5h1.5v1.5h-1.5zM788.9 398.5h1.5v1.5h-1.5zM790.9 400.5h1.5v1.5h-1.5zM790.9 396.5h1.5v1.5h-1.5zM794.6 421.4h1.5v1.5h-1.5zM796.6 421.4h1.5v1.5h-1.5zM792.6 421.4h1.5v1.5h-1.5zM794.6 423.4h1.5v1.5h-1.5zM794.6 419.4h1.5v1.5h-1.5zM791.6 467.4h1.5v1.5h-1.5zM793.6 467.4h1.5v1.5h-1.5zM789.6 467.4h1.5v1.5h-1.5zM791.6 469.4h1.5v1.5h-1.5zM791.6 465.4h1.5v1.5h-1.5zM770.0 446.2h1.5v1.5h-1.5zM772.0 446.2h1.5v1.5h-1.5zM768.0 446.2h1.5v1.5h-1.5zM770.0 448.2h1.5v1.5h-1.5zM770.0 444.2h1.5v1.5h-1.5zM786.0 421.5h1.5v1.5h-1.5zM788.0 421.5h1.5v1.5h-1.5zM784.0 421.5h1.5v1.5h-1.5zM786.0 423.5h1.5v1.5h-1.5zM786.0 419.5h1.5v1.5h-1.5zM770.5 461.4h1.5v1.5h-1.5zM772.5 461.4h1.5v1.5h-1.5zM768.5 461.4h1.5v1.5h-1.5zM770.5 463.4h1.5v1.5h-1.5zM770.5 459.4h1.5v1.5h-1.5zM794.7 490.3h1.5v1.5h-1.5zM783.9 371.0h1.3v1.3h-1.3zM799.1 448.1h1.5v1.5h-1.5zM801.1 448.1h1.5v1.5h-1.5zM797.1 448.1h1.5v1.5h-1.5zM799.1 450.1h1.5v1.5h-1.5zM799.1 446.1h1.5v1.5h-1.5zM786.5 458.5h1.8v1.8h-1.8zM765.2 469.3h1.2v1.2h-1.2zM792.0 441.8h1.1v1.1h-1.1zM799.0 483.5h1.5v1.5h-1.5zM801.0 483.5h1.5v1.5h-1.5zM797.0 483.5h1.5v1.5h-1.5zM799.0 485.5h1.5v1.5h-1.5zM799.0 481.5h1.5v1.5h-1.5zM773.8 439.6h1.5v1.5h-1.5zM775.8 439.6h1.5v1.5h-1.5zM771.8 439.6h1.5v1.5h-1.5zM773.8 441.6h1.5v1.5h-1.5zM773.8 437.6h1.5v1.5h-1.5zM775.5 440.4h1.1v1.1h-1.1zM770.4 466.4h1.5v1.5h-1.5zM786.1 416.2h1.5v1.5h-1.5zM788.1 416.2h1.5v1.5h-1.5zM784.1 416.2h1.5v1.5h-1.5zM786.1 418.2h1.5v1.5h-1.5zM786.1 414.2h1.5v1.5h-1.5zM762.9 444.5h1.5v1.5h-1.5zM764.9 444.5h1.5v1.5h-1.5zM760.9 444.5h1.5v1.5h-1.5zM762.9 446.5h1.5v1.5h-1.5zM762.9 442.5h1.5v1.5h-1.5zM771.9 434.9h1.2v1.2h-1.2zM759.5 459.6h1.5v1.5h-1.5zM761.5 459.6h1.5v1.5h-1.5zM757.5 459.6h1.5v1.5h-1.5zM759.5 461.6h1.5v1.5h-1.5zM759.5 457.6h1.5v1.5h-1.5zM797.0 454.5h1.5v1.5h-1.5zM799.0 454.5h1.5v1.5h-1.5zM795.0 454.5h1.5v1.5h-1.5zM797.0 456.5h1.5v1.5h-1.5zM797.0 452.5h1.5v1.5h-1.5zM767.1 479.6h1.5v1.5h-1.5zM769.1 479.6h1.5v1.5h-1.5zM765.1 479.6h1.5v1.5h-1.5zM767.1 481.6h1.5v1.5h-1.5zM767.1 477.6h1.5v1.5h-1.5zM793.0 477.6h1.5v1.5h-1.5zM795.0 477.6h1.5v1.5h-1.5zM791.0 477.6h1.5v1.5h-1.5zM793.0 479.6h1.5v1.5h-1.5zM793.0 475.6h1.5v1.5h-1.5zM760.0 405.6h1.4v1.4h-1.4zM770.7 463.0h1.5v1.5h-1.5zM772.7 463.0h1.5v1.5h-1.5zM768.7 463.0h1.5v1.5h-1.5zM770.7 465.0h1.5v1.5h-1.5zM770.7 461.0h1.5v1.5h-1.5zM762.6 483.1h1.5v1.5h-1.5zM764.6 483.1h1.5v1.5h-1.5zM760.6 483.1h1.5v1.5h-1.5zM762.6 485.1h1.5v1.5h-1.5zM762.6 481.1h1.5v1.5h-1.5zM770.0 515.1h1.5v1.5h-1.5zM772.0 515.1h1.5v1.5h-1.5zM768.0 515.1h1.5v1.5h-1.5zM770.0 517.1h1.5v1.5h-1.5zM770.0 513.1h1.5v1.5h-1.5zM802.4 376.8h1.5v1.5h-1.5zM784.2 373.5h1.5v1.5h-1.5zM786.2 373.5h1.5v1.5h-1.5zM782.2 373.5h1.5v1.5h-1.5zM784.2 375.5h1.5v1.5h-1.5zM784.2 371.5h1.5v1.5h-1.5zM779.7 365.2h1.5v1.5h-1.5zM771.2 409.2h1.5v1.5h-1.5zM773.2 409.2h1.5v1.5h-1.5zM769.2 409.2h1.5v1.5h-1.5zM771.2 411.2h1.5v1.5h-1.5zM771.2 407.2h1.5v1.5h-1.5zM789.8 384.3h1.5v1.5h-1.5zM791.8 384.3h1.5v1.5h-1.5zM787.8 384.3h1.5v1.5h-1.5zM789.8 386.3h1.5v1.5h-1.5zM789.8 382.3h1.5v1.5h-1.5zM786.1 496.3h1.2v1.2h-1.2zM791.0 503.0h1.5v1.5h-1.5zM794.2 477.7h1.5v1.5h-1.5zM796.2 477.7h1.5v1.5h-1.5zM792.2 477.7h1.5v1.5h-1.5zM794.2 479.7h1.5v1.5h-1.5zM794.2 475.7h1.5v1.5h-1.5zM794.8 442.5h1.1v1.1h-1.1zM773.5 516.3h1.5v1.5h-1.5zM775.5 516.3h1.5v1.5h-1.5zM771.5 516.3h1.5v1.5h-1.5zM773.5 518.3h1.5v1.5h-1.5zM773.5 514.3h1.5v1.5h-1.5zM782.9 426.7h1.5v1.5h-1.5zM797.3 440.8h1.5v1.5h-1.5zM799.3 440.8h1.5v1.5h-1.5zM795.3 440.8h1.5v1.5h-1.5zM797.3 442.8h1.5v1.5h-1.5zM797.3 438.8h1.5v1.5h-1.5zM772.3 445.5h1.5v1.5h-1.5zM774.3 445.5h1.5v1.5h-1.5zM770.3 445.5h1.5v1.5h-1.5zM772.3 447.5h1.5v1.5h-1.5zM772.3 443.5h1.5v1.5h-1.5z"/>
<path fill="#b5ebaa" d="M796.3 463.2h1.5v1.5h-1.5zM798.3 463.2h1.5v1.5h-1.5zM794.3 463.2h1.5v1.5h-1.5zM796.3 465.2h1.5v1.5h-1.5zM796.3 461.2h1.5v1.5h-1.5zM802.0 523.3h1.5v1.5h-1.5zM804.0 523.3h1.5v1.5h-1.5zM800.0 523.3h1.5v1.5h-1.5zM802.0 525.3h1.5v1.5h-1.5zM802.0 521.3h1.5v1.5h-1.5zM787.3 438.2h1.5v1.5h-1.5zM789.3 438.2h1.5v1.5h-1.5zM785.3 438.2h1.5v1.5h-1.5zM787.3 440.2h1.5v1.5h-1.5zM787.3 436.2h1.5v1.5h-1.5zM801.1 491.1h1.5v1.5h-1.5zM803.1 491.1h1.5v1.5h-1.5zM799.1 491.1h1.5v1.5h-1.5zM801.1 493.1h1.5v1.5h-1.5zM801.1 489.1h1.5v1.5h-1.5zM794.5 520.4h1.4v1.4h-1.4zM768.3 407.9h1.3v1.3h-1.3zM768.9 443.4h1.5v1.5h-1.5zM770.9 443.4h1.5v1.5h-1.5zM766.9 443.4h1.5v1.5h-1.5zM768.9 445.4h1.5v1.5h-1.5zM768.9 441.4h1.5v1.5h-1.5zM779.1 440.0h1.5v1.5h-1.5zM781.1 440.0h1.5v1.5h-1.5zM777.1 440.0h1.5v1.5h-1.5zM779.1 442.0h1.5v1.5h-1.5zM779.1 438.0h1.5v1.5h-1.5zM781.5 421.6h1.5v1.5h-1.5zM783.5 421.6h1.5v1.5h-1.5zM779.5 421.6h1.5v1.5h-1.5zM781.5 423.6h1.5v1.5h-1.5zM781.5 419.6h1.5v1.5h-1.5zM764.7 437.4h1.7v1.7h-1.7zM761.4 438.8h1.5v1.5h-1.5zM763.4 438.8h1.5v1.5h-1.5zM759.4 438.8h1.5v1.5h-1.5zM761.4 440.8h1.5v1.5h-1.5zM761.4 436.8h1.5v1.5h-1.5zM796.4 491.3h1.5v1.5h-1.5zM798.4 491.3h1.5v1.5h-1.5zM794.4 491.3h1.5v1.5h-1.5zM796.4 493.3h1.5v1.5h-1.5zM796.4 489.3h1.5v1.5h-1.5zM768.3 493.7h1.5v1.5h-1.5zM770.3 493.7h1.5v1.5h-1.5zM766.3 493.7h1.5v1.5h-1.5zM768.3 495.7h1.5v1.5h-1.5zM768.3 491.7h1.5v1.5h-1.5zM757.8 396.4h1.5v1.5h-1.5zM759.8 396.4h1.5v1.5h-1.5zM755.8 396.4h1.5v1.5h-1.5zM757.8 398.4h1.5v1.5h-1.5zM757.8 394.4h1.5v1.5h-1.5zM779.2 424.2h1.2v1.2h-1.2zM790.9 478.3h1.5v1.5h-1.5zM792.9 478.3h1.5v1.5h-1.5zM788.9 478.3h1.5v1.5h-1.5zM790.9 480.3h1.5v1.5h-1.5zM790.9 476.3h1.5v1.5h-1.5zM793.4 366.3h1.7v1.7h-1.7zM777.1 442.5h1.5v1.5h-1.5zM779.1 442.5h1.5v1.5h-1.5zM775.1 442.5h1.5v1.5h-1.5zM777.1 444.5h1.5v1.5h-1.5zM777.1 440.5h1.5v1.5h-1.5zM782.1 425.2h1.1v1.1h-1.1zM797.2 480.9h1.8v1.8h-1.8zM794.5 420.6h1.5v1.5h-1.5zM796.5 420.6h1.5v1.5h-1.5zM792.5 420.6h1.5v1.5h-1.5zM794.5 422.6h1.5v1.5h-1.5zM794.5 418.6h1.5v1.5h-1.5zM795.8 429.2h1.5v1.5h-1.5zM797.8 429.2h1.5v1.5h-1.5zM793.8 429.2h1.5v1.5h-1.5zM795.8 431.2h1.5v1.5h-1.5zM795.8 427.2h1.5v1.5h-1.5zM797.2 459.7h1.5v1.5h-1.5zM799.2 459.7h1.5v1.5h-1.5zM795.2 459.7h1.5v1.5h-1.5zM797.2 461.7h1.5v1.5h-1.5zM797.2 457.7h1.5v1.5h-1.5zM794.8 403.5h1.2v1.2h-1.2zM792.4 381.4h1.2v1.2h-1.2zM794.0 367.1h1.5v1.5h-1.5zM796.0 367.1h1.5v1.5h-1.5zM792.0 367.1h1.5v1.5h-1.5zM794.0 369.1h1.5v1.5h-1.5zM794.0 365.1h1.5v1.5h-1.5zM774.9 367.4h1.1v1.1h-1.1zM786.5 488.6h1.1v1.1h-1.1zM770.5 477.7h1.5v1.5h-1.5zM772.5 477.7h1.5v1.5h-1.5zM768.5 477.7h1.5v1.5h-1.5zM770.5 479.7h1.5v1.5h-1.5zM770.5 475.7h1.5v1.5h-1.5zM790.0 443.4h1.1v1.1h-1.1zM788.1 390.4h1.1v1.1h-1.1zM788.9 525.3h1.5v1.5h-1.5zM790.9 525.3h1.5v1.5h-1.5zM786.9 525.3h1.5v1.5h-1.5zM788.9 527.3h1.5v1.5h-1.5zM788.9 523.3h1.5v1.5h-1.5zM786.7 456.6h1.5v1.5h-1.5zM788.7 456.6h1.5v1.5h-1.5zM784.7 456.6h1.5v1.5h-1.5zM786.7 458.6h1.5v1.5h-1.5zM786.7 454.6h1.5v1.5h-1.5zM802.4 516.9h1.5v1.5h-1.5zM804.4 516.9h1.5v1.5h-1.5zM800.4 516.9h1.5v1.5h-1.5zM802.4 518.9h1.5v1.5h-1.5zM802.4 514.9h1.5v1.5h-1.5zM800.9 496.9h1.5v1.5h-1.5zM802.9 496.9h1.5v1.5h-1.5zM798.9 496.9h1.5v1.5h-1.5zM800.9 498.9h1.5v1.5h-1.5zM800.9 494.9h1.5v1.5h-1.5zM791.2 489.5h1.5v1.5h-1.5zM793.2 489.5h1.5v1.5h-1.5zM789.2 489.5h1.5v1.5h-1.5zM791.2 491.5h1.5v1.5h-1.5zM791.2 487.5h1.5v1.5h-1.5zM767.1 449.6h1.7v1.7h-1.7zM790.7 407.6h1.1v1.1h-1.1zM800.9 488.5h1.3v1.3h-1.3zM785.7 481.0h1.5v1.5h-1.5zM787.7 481.0h1.5v1.5h-1.5zM783.7 481.0h1.5v1.5h-1.5zM785.7 483.0h1.5v1.5h-1.5zM785.7 479.0h1.5v1.5h-1.5zM783.6 431.2h1.0v1.0h-1.0zM781.6 467.8h1.5v1.5h-1.5zM783.6 467.8h1.5v1.5h-1.5zM779.6 467.8h1.5v1.5h-1.5zM781.6 469.8h1.5v1.5h-1.5zM781.6 465.8h1.5v1.5h-1.5zM787.9 404.2h1.2v1.2h-1.2zM789.9 423.3h1.5v1.5h-1.5zM791.9 423.3h1.5v1.5h-1.5zM787.9 423.3h1.5v1.5h-1.5zM789.9 425.3h1.5v1.5h-1.5zM789.9 421.3h1.5v1.5h-1.5zM778.8 428.9h1.5v1.5h-1.5zM780.8 428.9h1.5v1.5h-1.5zM776.8 428.9h1.5v1.5h-1.5zM778.8 430.9h1.5v1.5h-1.5zM778.8 426.9h1.5v1.5h-1.5zM787.1 392.8h1.4v1.4h-1.4zM788.2 479.1h1.5v1.5h-1.5zM790.2 479.1h1.5v1.5h-1.5zM786.2 479.1h1.5v1.5h-1.5zM788.2 481.1h1.5v1.5h-1.5zM788.2 477.1h1.5v1.5h-1.5zM776.6 507.7h1.5v1.5h-1.5zM778.6 507.7h1.5v1.5h-1.5zM774.6 507.7h1.5v1.5h-1.5zM776.6 509.7h1.5v1.5h-1.5zM776.6 505.7h1.5v1.5h-1.5zM794.3 517.1h1.1v1.1h-1.1zM788.3 373.1h1.3v1.3h-1.3zM775.2 392.4h1.7v1.7h-1.7zM779.3 525.4h1.5v1.5h-1.5zM775.2 461.3h1.5v1.5h-1.5zM777.2 461.3h1.5v1.5h-1.5zM773.2 461.3h1.5v1.5h-1.5zM775.2 463.3h1.5v1.5h-1.5zM775.2 459.3h1.5v1.5h-1.5zM763.5 449.3h1.5v1.5h-1.5zM765.5 449.3h1.5v1.5h-1.5zM761.5 449.3h1.5v1.5h-1.5zM763.5 451.3h1.5v1.5h-1.5zM763.5 447.3h1.5v1.5h-1.5z"/>
<line x1="771.0" y1="524.5" x2="803.0" y2="524.5" stroke="#888" stroke-width="0.4"/>
<line x1="771.0" y1="525.9" x2="803.0" y2="525.9" stroke="#888" stroke-width="0.4"/>
<line x1="771.0" y1="527.3" x2="803.0" y2="527.3" stroke="#888" stroke-width="0.4"/>
<line x1="771.0" y1="528.7" x2="803.0" y2="528.7" stroke="#888" stroke-width="0.4"/>
<line x1="771.0" y1="530.1" x2="803.0" y2="530.1" stroke="#888" stroke-width="0.4"/>
<line x1="771.0" y1="531.5" x2="803.0" y2="531.5" stroke="#888" stroke-width="0.4"/>
<line x1="771.0" y1="532.9" x2="803.0" y2="532.9" stroke="#888" stroke-width="0.4"/>
<line x1="758.6" y1="336.0" x2="775.6" y2="336.0" stroke="#777" stroke-width="0.8"/>
<line x1="758.6" y1="365.0" x2="774.0" y2="365.0" stroke="#777" stroke-width="0.8"/>
<polyline points="805.4,575.0 805.4,316.6 968.9,316.6" fill="none" stroke="#9fe3f0" stroke-width="2"/>
<polyline points="968.9,261.4 1136.9,261.4 1136.9,532.0 1200.0,532.0" fill="none" stroke="#9fe3f0" stroke-width="2"/>
<line x1="968.9" y1="261.4" x2="968.9" y2="280.6" stroke="#888" stroke-width="1"/>
<line x1="968.9" y1="295.5" x2="968.9" y2="316.6" stroke="#888" stroke-width="1"/>
<path d="M968.9 280.6 h-6 q4 3 0 7.5 q4 3 0 7.4 h6" stroke="#888" stroke-width="0.8" fill="none"/>
<line x1="972.4" y1="226.4" x2="972.4" y2="259.6" stroke="#999" stroke-width="0.6"/>
<line x1="976.1" y1="226.4" x2="976.1" y2="259.6" stroke="#999" stroke-width="0.6"/>
<line x1="979.8" y1="226.4" x2="979.8" y2="259.6" stroke="#999" stroke-width="0.6"/>
<line x1="983.5" y1="226.4" x2="983.5" y2="259.6" stroke="#999" stroke-width="0.6"/>
<line x1="972.4" y1="228.0" x2="983.7" y2="228.0" stroke="#bbb" stroke-width="0.4"/>
<line x1="972.4" y1="230.7" x2="983.7" y2="230.7" stroke="#bbb" stroke-width="0.4"/>
<line x1="972.4" y1="233.4" x2="983.7" y2="233.4" stroke="#bbb" stroke-width="0.4"/>
<line x1="972.4" y1="236.1" x2="983.7" y2="236.1" stroke="#bbb" stroke-width="0.4"/>
<line x1="972.4" y1="238.8" x2="983.7" y2="238.8" stroke="#bbb" stroke-width="0.4"/>
<line x1="972.4" y1="241.5" x2="983.7" y2="241.5" stroke="#bbb" stroke-width="0.4"/>
<line x1="972.4" y1="244.2" x2="983.7" y2="244.2" stroke="#bbb" stroke-width="0.4"/>
<line x1="972.4" y1="246.9" x2="983.7" y2="246.9" stroke="#bbb" stroke-width="0.4"/>
<line x1="972.4" y1="249.6" x2="983.7" y2="249.6" stroke="#bbb" stroke-width="0.4"/>
<line x1="972.4" y1="252.3" x2="983.7" y2="252.3" stroke="#bbb" stroke-width="0.4"/>
<line x1="972.4" y1="255.0" x2="983.7" y2="255.0" stroke="#bbb" stroke-width="0.4"/>
<line x1="972.4" y1="257.7" x2="983.7" y2="257.7" stroke="#bbb" stroke-width="0.4"/>
<rect x="807.8" y="321.0" width="67.6" height="18.5" fill="#3b6a35" stroke="#dfe8da" stroke-width="0.9"/>
<text class="n" x="841.6" y="334.4" font-size="11.5">96</text>
<rect x="875.4" y="321.0" width="39.8" height="18.5" fill="#3b6a35" stroke="#dfe8da" stroke-width="0.9"/>
<text class="n" x="895.3" y="334.4" font-size="11.5">94</text>
<rect x="915.2" y="321.0" width="27.8" height="18.5" fill="#3b6a35" stroke="#dfe8da" stroke-width="0.9"/>
<text class="n" x="929.1" y="334.4" font-size="11.5">93</text>
<rect x="943.0" y="321.0" width="25.3" height="18.5" fill="#3b6a35" stroke="#dfe8da" stroke-width="0.9"/>
<text class="n" x="955.6" y="334.4" font-size="11.5">92</text>
<rect x="972.8" y="265.4" width="32.5" height="11.2" fill="#3b6a35" stroke="#dfe8da" stroke-width="0.9"/>
<text class="n" x="989.0" y="275.1" font-size="11.5">76</text>
<rect x="1005.3" y="265.4" width="33.9" height="11.2" fill="#3b6a35" stroke="#dfe8da" stroke-width="0.9"/>
<text class="n" x="1022.2" y="275.1" font-size="11.5">75</text>
<rect x="1039.2" y="265.4" width="60.0" height="11.2" fill="#3b6a35" stroke="#dfe8da" stroke-width="0.9"/>
<text class="n" x="1069.2" y="275.1" font-size="11.5">74</text>
<rect x="995.7" y="298.9" width="40.5" height="32.4" fill="#3b6a35" stroke="#dfe8da" stroke-width="0.9"/>
<text class="n" x="1016.0" y="319.2" font-size="11.5">77</text>
<rect x="1036.2" y="298.9" width="39.8" height="32.4" fill="#3b6a35" stroke="#dfe8da" stroke-width="0.9"/>
<text class="n" x="1056.1" y="319.2" font-size="11.5">78</text>
<rect x="846.4" y="361.0" width="40.5" height="32.5" fill="#3b6a35" stroke="#dfe8da" stroke-width="0.9"/>
<text class="n" x="866.6" y="381.4" font-size="11.5">97</text>
<rect x="886.9" y="361.0" width="25.4" height="32.5" fill="#3b6a35" stroke="#dfe8da" stroke-width="0.9"/>
<text class="n" x="899.6" y="381.4" font-size="11.5">98</text>
<rect x="934.5" y="361.0" width="40.2" height="32.5" fill="#3b6a35" stroke="#dfe8da" stroke-width="0.9"/>
<text class="n" x="954.6" y="381.4" font-size="11.5">91</text>
<rect x="974.7" y="361.0" width="32.3" height="32.5" fill="#3b6a35" stroke="#dfe8da" stroke-width="0.9"/>
<text class="n" x="990.9" y="381.4" font-size="11.5">90</text>
<rect x="1028.0" y="353.0" width="20.5" height="26.5" fill="#3b6a35" stroke="#dfe8da" stroke-width="0.9"/>
<text class="n" x="1038.2" y="370.4" font-size="11.5">80</text>
<rect x="1048.5" y="353.0" width="18.9" height="26.5" fill="#3b6a35" stroke="#dfe8da" stroke-width="0.9"/>
<text class="n" x="1058.0" y="370.4" font-size="11.5">81</text>
<rect x="1028.0" y="379.5" width="39.4" height="39.6" fill="#3b6a35" stroke="#dfe8da" stroke-width="0.9"/>
<text class="n" x="1047.7" y="403.4" font-size="11.5">82</text>
<rect x="1106.0" y="320.0" width="25.6" height="46.2" fill="#3b6a35" stroke="#dfe8da" stroke-width="0.9"/>
<text class="n" x="1118.8" y="347.2" font-size="11.5">73</text>
<rect x="1106.0" y="374.7" width="25.6" height="46.1" fill="#3b6a35" stroke="#dfe8da" stroke-width="0.9"/>
<text class="n" x="1118.8" y="401.9" font-size="11.5">72</text>
<rect x="1106.0" y="427.7" width="25.6" height="45.3" fill="#3b6a35" stroke="#dfe8da" stroke-width="0.9"/>
<text class="n" x="1118.8" y="454.5" font-size="11.5">71</text>
<rect x="1106.0" y="481.6" width="25.6" height="46.2" fill="#3b6a35" stroke="#dfe8da" stroke-width="0.9"/>
<text class="n" x="1118.8" y="508.8" font-size="11.5">70</text>
<rect x="1106.0" y="534.6" width="25.6" height="46.1" fill="#3b6a35" stroke="#dfe8da" stroke-width="0.9"/>
<text class="n" x="1118.8" y="561.8" font-size="11.5">69</text>
<polyline points="1105.4,280.6 1105.4,262.5 1135.0,262.5" fill="none" stroke="#999" stroke-width="0.8"/>
<line x1="1107.5" y1="267.0" x2="1135.0" y2="267.0" stroke="#999" stroke-width="0.7"/>
<line x1="1112.0" y1="280.6" x2="1135.0" y2="280.6" stroke="#999" stroke-width="0.7"/>
<line x1="1112.0" y1="290.3" x2="1135.0" y2="290.3" stroke="#999" stroke-width="0.7"/>
<line x1="1112.0" y1="300.8" x2="1135.0" y2="300.8" stroke="#999" stroke-width="0.7"/>
<line x1="1107.5" y1="315.6" x2="1135.0" y2="315.6" stroke="#999" stroke-width="0.7"/>
<line x1="1105.4" y1="296.0" x2="1105.4" y2="318.0" stroke="#999" stroke-width="0.8"/>
<path d="M1106 281 q6 0 6 7 M1106 295 q6 0 6 -6" stroke="#888" stroke-width="0.7" fill="none"/>
<text x="1121.5" y="276.2" font-size="8" fill="#d02020" text-anchor="middle" font-weight="bold">WC</text>
<text x="1121.5" y="309.5" font-size="8" fill="#d02020" text-anchor="middle" font-weight="bold">WC</text>
<text x="1104.0" y="302.0" font-size="4" fill="#d02020" text-anchor="middle" font-weight="normal">¡←</text>
<rect x="807.0" y="374.0" width="18.9" height="46.5" fill="#3b6a35" stroke="#dfe8da" stroke-width="0.9"/>
<text class="n" x="816.5" y="401.4" font-size="11.5">111</text>
<rect x="807.0" y="420.5" width="18.9" height="19.8" fill="#3b6a35" stroke="#dfe8da" stroke-width="0.9"/>
<text class="n" x="816.5" y="434.5" font-size="11.5">110</text>
<rect x="807.0" y="440.3" width="18.9" height="27.5" fill="#3b6a35" stroke="#dfe8da" stroke-width="0.9"/>
<text class="n" x="816.5" y="458.2" font-size="11.5">109</text>
<rect x="807.0" y="467.8" width="18.9" height="26.7" fill="#3b6a35" stroke="#dfe8da" stroke-width="0.9"/>
<text class="n" x="816.5" y="485.3" font-size="11.5">108</text>
<rect x="807.0" y="494.5" width="18.9" height="20.5" fill="#3b6a35" stroke="#dfe8da" stroke-width="0.9"/>
<text class="n" x="816.5" y="508.9" font-size="11.5">107</text>
<rect x="807.0" y="515.0" width="18.9" height="40.2" fill="#3b6a35" stroke="#dfe8da" stroke-width="0.9"/>
<text class="n" x="816.5" y="539.2" font-size="11.5">106</text>
<rect x="807.0" y="555.2" width="18.9" height="19.6" fill="#3b6a35" stroke="#dfe8da" stroke-width="0.9"/>
<text class="n" x="816.5" y="569.1" font-size="11.5">105</text>
<rect x="846.4" y="415.0" width="39.3" height="33.2" fill="#3b6a35" stroke="#dfe8da" stroke-width="0.9"/>
<text class="n" x="866.0" y="435.7" font-size="11.5">104</text>
<rect x="846.4" y="448.2" width="39.3" height="33.1" fill="#3b6a35" stroke="#dfe8da" stroke-width="0.9"/>
<text class="n" x="866.0" y="468.9" font-size="11.5">103</text>
<rect x="906.8" y="415.0" width="38.6" height="33.2" fill="#3b6a35" stroke="#dfe8da" stroke-width="0.9"/>
<text class="n" x="926.1" y="435.7" font-size="11.5">99</text>
<rect x="906.8" y="448.2" width="38.6" height="32.7" fill="#3b6a35" stroke="#dfe8da" stroke-width="0.9"/>
<text class="n" x="926.1" y="468.7" font-size="11.5">100</text>
<rect x="967.7" y="414.0" width="38.6" height="20.0" fill="#3b6a35" stroke="#dfe8da" stroke-width="0.9"/>
<text class="n" x="987.0" y="428.1" font-size="11.5">89</text>
<rect x="967.7" y="434.0" width="38.6" height="45.6" fill="#3b6a35" stroke="#dfe8da" stroke-width="0.9"/>
<text class="n" x="987.0" y="460.9" font-size="11.5">88</text>
<rect x="1028.0" y="444.7" width="39.4" height="32.8" fill="#3b6a35" stroke="#dfe8da" stroke-width="0.9"/>
<text class="n" x="1047.7" y="465.2" font-size="11.5">83</text>
<rect x="1028.0" y="477.5" width="39.4" height="32.1" fill="#3b6a35" stroke="#dfe8da" stroke-width="0.9"/>
<text class="n" x="1047.7" y="497.7" font-size="11.5">84</text>
<rect x="846.4" y="503.5" width="39.3" height="65.3" fill="#3b6a35" stroke="#dfe8da" stroke-width="0.9"/>
<text class="n" x="866.0" y="540.3" font-size="11.5">102</text>
<rect x="906.8" y="503.5" width="38.6" height="65.3" fill="#3b6a35" stroke="#dfe8da" stroke-width="0.9"/>
<text class="n" x="926.1" y="540.3" font-size="11.5">101</text>
<rect x="967.0" y="503.5" width="39.0" height="65.3" fill="#3b6a35" stroke="#dfe8da" stroke-width="0.9"/>
<text class="n" x="986.5" y="540.3" font-size="11.5">87</text>
<rect x="1028.0" y="532.9" width="39.4" height="33.1" fill="#3b6a35" stroke="#dfe8da" stroke-width="0.9"/>
<text class="n" x="1047.7" y="553.6" font-size="11.5">85</text>
<rect x="1028.0" y="566.0" width="39.3" height="32.5" fill="#3b6a35" stroke="#dfe8da" stroke-width="0.9"/>
<text class="n" x="1047.7" y="586.4" font-size="11.5">86</text>
<rect x="853.0" y="593.3" width="66.5" height="38.0" fill="#3b6a35" stroke="#dfe8da" stroke-width="0.9"/>
<text class="n" x="886.2" y="616.4" font-size="11.5">65</text>
<rect x="940.9" y="593.3" width="65.4" height="99.0" fill="#3b6a35" stroke="#dfe8da" stroke-width="0.9"/>
<text class="n" x="973.6" y="646.9" font-size="11.5">66</text>
<rect x="1028.4" y="633.4" width="38.9" height="40.1" fill="#3b6a35" stroke="#dfe8da" stroke-width="0.9"/>
<text class="n" x="1047.9" y="657.6" font-size="11.5">68</text>
<rect x="1028.4" y="673.5" width="38.9" height="26.1" fill="#3b6a35" stroke="#dfe8da" stroke-width="0.9"/>
<text class="n" x="1047.9" y="690.7" font-size="11.5">67</text>
<rect x="853.0" y="661.0" width="26.0" height="38.7" fill="#3b6a35" stroke="#dfe8da" stroke-width="0.9"/>
<text class="n" x="866.0" y="684.5" font-size="11.5">62</text>
<rect x="879.0" y="661.0" width="40.5" height="19.8" fill="#3b6a35" stroke="#dfe8da" stroke-width="0.9"/>
<text class="n" x="899.2" y="675.0" font-size="11.5">64</text>
<rect x="879.0" y="680.8" width="40.5" height="18.9" fill="#3b6a35" stroke="#dfe8da" stroke-width="0.9"/>
<text class="n" x="899.2" y="694.4" font-size="11.5">63</text>
<rect x="881.4" y="721.6" width="92.8" height="38.9" fill="#3b6a35" stroke="#dfe8da" stroke-width="0.9"/>
<text class="n" x="927.8" y="745.2" font-size="11.5">61</text>
<rect x="1006.3" y="720.4" width="61.4" height="53.4" fill="#4f9e3c" stroke="none" stroke-width="1"/>
<text x="1011.0" y="733.5" font-size="11" fill="#111" text-anchor="start" font-weight="normal">60</text>
<path d="M1027 736 Q1028 726.5 1037.5 726.5 Q1047 726.5 1048.2 736 Q1037.5 742 1027 736Z" fill="#ddd" stroke="#333" stroke-width="1.1"/><path d="M1028.5 733 Q1037.5 725 1047 733" stroke="#222" stroke-width="1.6" fill="none"/>
<text x="1008.5" y="751.0" font-size="8.5" fill="#111" text-anchor="start" font-weight="bold" textLength="31.5" lengthAdjust="spacingAndGlyphs">DINAFEM</text>
<text x="1041.0" y="751.0" font-size="8.5" fill="#d8e8d0" text-anchor="start" font-weight="normal" textLength="24" lengthAdjust="spacingAndGlyphs">SEEDS</text>
<text x="1037.5" y="761.8" font-size="5.6" fill="#111" text-anchor="middle" font-weight="normal" textLength="57" lengthAdjust="spacingAndGlyphs">Patrocinador Principal</text>
<text x="1037.5" y="770.2" font-size="5.6" fill="#111" text-anchor="middle" font-weight="normal">Main Sponsor</text>
<rect x="961.0" y="795.8" width="45.3" height="79.0" fill="#3b6a35" stroke="#dfe8da" stroke-width="0.9"/>
<text class="n" x="983.6" y="839.4" font-size="11.5">58</text>
<rect x="1028.4" y="795.8" width="38.9" height="79.0" fill="#3b6a35" stroke="#dfe8da" stroke-width="0.9"/>
<text class="n" x="1047.9" y="839.4" font-size="11.5">59</text>
<rect x="870.0" y="782.6" width="65.7" height="99.5" fill="#3b6a35" stroke="#dfe8da" stroke-width="0.9"/>
<text class="n" x="902.9" y="836.5" font-size="11.5">57</text>
<rect x="870.0" y="904.0" width="61.3" height="27.0" fill="#3b6a35" stroke="#dfe8da" stroke-width="0.9"/>
<text class="n" x="900.6" y="921.6" font-size="11.5">56</text>
<rect x="870.0" y="931.0" width="61.3" height="25.3" fill="#3b6a35" stroke="#dfe8da" stroke-width="0.9"/>
<text class="n" x="900.6" y="947.8" font-size="11.5">55</text>
<rect x="931.3" y="904.1" width="52.1" height="34.1" fill="#3b6a35" stroke="#dfe8da" stroke-width="0.9"/>
<text class="n" x="957.3" y="925.3" font-size="11.5">53</text>
<rect x="931.3" y="938.2" width="52.1" height="18.8" fill="#3b6a35" stroke="#dfe8da" stroke-width="0.9"/>
<text class="n" x="957.3" y="951.7" font-size="11.5">54</text>
<rect x="1008.3" y="896.9" width="59.0" height="59.0" fill="#3b6a35" stroke="#dfe8da" stroke-width="0.9"/>
<text class="n" x="1037.8" y="930.5" font-size="11.5">52</text>
<ellipse cx="1036.4" cy="742.5" rx="82.3" ry="75.2" fill="none" stroke="#e8442c" stroke-width="9"/>
<text x="1116.6" y="771.5" font-size="14.5" fill="#111" text-anchor="start" font-weight="normal">Restaurant</text>
<polyline points="724.0,697.0 479.2,697.0 479.2,1001.0" fill="none" stroke="#9fe3f0" stroke-width="2"/>
<polyline points="479.2,1001.0 589.5,1001.0" fill="none" stroke="#9fe3f0" stroke-width="2"/>
<polyline points="643.7,1001.0 860.0,1001.0" fill="none" stroke="#9fe3f0" stroke-width="2"/>
<polyline points="913.0,1001.0 1105.0,1001.0" fill="none" stroke="#9fe3f0" stroke-width="2"/>
<path d="M589.5 1000 v2 H608.6 v8 q1.5 -6 8 -6 q6.5 0 8 6 v-8 H643.7 v-2" stroke="#888" stroke-width="0.9" fill="none"/>
<path d="M860 1000 v2 H878.5 v8 q1.5 -6 8 -6 q6.5 0 8 6 v-8 H913 v-2" stroke="#888" stroke-width="0.9" fill="none"/>
<polygon points="461.5,695.0 461.5,681.5 505.5,668.8 505.5,695.0" fill="#fff" stroke="#999" stroke-width="0.8"/>
<path fill="#a8e69a" d="M478.8 686.7h1.4v1.4h-1.4zM475.3 677.7h1.5v1.5h-1.5zM477.3 677.7h1.5v1.5h-1.5zM473.3 677.7h1.5v1.5h-1.5zM475.3 679.7h1.5v1.5h-1.5zM475.3 675.7h1.5v1.5h-1.5zM484.2 679.6h1.5v1.5h-1.5zM486.2 679.6h1.5v1.5h-1.5zM482.2 679.6h1.5v1.5h-1.5zM484.2 681.6h1.5v1.5h-1.5zM484.2 677.6h1.5v1.5h-1.5zM478.4 691.9h1.5v1.5h-1.5zM480.4 691.9h1.5v1.5h-1.5zM476.4 691.9h1.5v1.5h-1.5zM478.4 693.9h1.5v1.5h-1.5zM478.4 689.9h1.5v1.5h-1.5zM467.9 694.0h1.5v1.5h-1.5zM469.9 694.0h1.5v1.5h-1.5zM465.9 694.0h1.5v1.5h-1.5zM467.9 696.0h1.5v1.5h-1.5zM467.9 692.0h1.5v1.5h-1.5zM488.5 674.2h1.7v1.7h-1.7zM471.6 691.2h1.5v1.5h-1.5zM473.6 691.2h1.5v1.5h-1.5zM469.6 691.2h1.5v1.5h-1.5zM471.6 693.2h1.5v1.5h-1.5zM471.6 689.2h1.5v1.5h-1.5zM492.8 683.0h1.2v1.2h-1.2zM480.3 686.6h1.5v1.5h-1.5zM482.3 686.6h1.5v1.5h-1.5zM478.3 686.6h1.5v1.5h-1.5zM480.3 688.6h1.5v1.5h-1.5zM480.3 684.6h1.5v1.5h-1.5zM474.0 692.1h1.3v1.3h-1.3zM495.7 674.9h1.4v1.4h-1.4zM485.9 693.2h1.5v1.5h-1.5zM487.9 693.2h1.5v1.5h-1.5zM483.9 693.2h1.5v1.5h-1.5zM485.9 695.2h1.5v1.5h-1.5zM485.9 691.2h1.5v1.5h-1.5zM483.1 695.0h1.2v1.2h-1.2zM495.9 692.6h1.5v1.5h-1.5zM497.9 692.6h1.5v1.5h-1.5zM493.9 692.6h1.5v1.5h-1.5zM495.9 694.6h1.5v1.5h-1.5zM495.9 690.6h1.5v1.5h-1.5z"/>
<path fill="#8fdc7c" d="M504.0 669.0h1.5v1.5h-1.5zM506.0 669.0h1.5v1.5h-1.5zM502.0 669.0h1.5v1.5h-1.5zM504.0 671.0h1.5v1.5h-1.5zM504.0 667.0h1.5v1.5h-1.5zM471.0 684.1h1.7v1.7h-1.7zM497.6 694.0h1.5v1.5h-1.5zM499.6 694.0h1.5v1.5h-1.5zM495.6 694.0h1.5v1.5h-1.5zM497.6 696.0h1.5v1.5h-1.5zM497.6 692.0h1.5v1.5h-1.5zM492.9 675.8h1.2v1.2h-1.2zM482.4 683.6h1.5v1.5h-1.5zM484.4 683.6h1.5v1.5h-1.5zM480.4 683.6h1.5v1.5h-1.5zM482.4 685.6h1.5v1.5h-1.5zM482.4 681.6h1.5v1.5h-1.5zM468.8 691.2h1.2v1.2h-1.2z"/>
<path fill="#b5ebaa" d="M484.4 679.8h1.5v1.5h-1.5zM486.4 679.8h1.5v1.5h-1.5zM482.4 679.8h1.5v1.5h-1.5zM484.4 681.8h1.5v1.5h-1.5zM484.4 677.8h1.5v1.5h-1.5zM496.6 684.7h1.6v1.6h-1.6zM472.0 688.2h1.5v1.5h-1.5zM474.0 688.2h1.5v1.5h-1.5zM470.0 688.2h1.5v1.5h-1.5zM472.0 690.2h1.5v1.5h-1.5zM472.0 686.2h1.5v1.5h-1.5zM491.1 682.6h1.5v1.5h-1.5zM493.1 682.6h1.5v1.5h-1.5zM489.1 682.6h1.5v1.5h-1.5zM491.1 684.6h1.5v1.5h-1.5zM491.1 680.6h1.5v1.5h-1.5zM502.8 669.8h1.7v1.7h-1.7zM496.6 677.6h1.5v1.5h-1.5zM498.6 677.6h1.5v1.5h-1.5zM494.6 677.6h1.5v1.5h-1.5zM496.6 679.6h1.5v1.5h-1.5zM496.6 675.6h1.5v1.5h-1.5zM471.0 694.2h1.4v1.4h-1.4zM489.5 685.3h1.5v1.5h-1.5zM491.5 685.3h1.5v1.5h-1.5zM487.5 685.3h1.5v1.5h-1.5zM489.5 687.3h1.5v1.5h-1.5zM489.5 683.3h1.5v1.5h-1.5zM482.7 676.6h1.8v1.8h-1.8zM498.6 676.2h1.5v1.5h-1.5zM500.6 676.2h1.5v1.5h-1.5zM496.6 676.2h1.5v1.5h-1.5zM498.6 678.2h1.5v1.5h-1.5zM498.6 674.2h1.5v1.5h-1.5zM470.2 691.3h1.5v1.5h-1.5zM472.2 691.3h1.5v1.5h-1.5zM468.2 691.3h1.5v1.5h-1.5zM470.2 693.3h1.5v1.5h-1.5zM470.2 689.3h1.5v1.5h-1.5zM461.8 689.1h1.5v1.5h-1.5zM463.8 689.1h1.5v1.5h-1.5zM459.8 689.1h1.5v1.5h-1.5zM461.8 691.1h1.5v1.5h-1.5zM461.8 687.1h1.5v1.5h-1.5z"/>
<path fill="#7fd46c" d="M494.7 691.4h1.5v1.5h-1.5zM496.7 691.4h1.5v1.5h-1.5zM492.7 691.4h1.5v1.5h-1.5zM494.7 693.4h1.5v1.5h-1.5zM494.7 689.4h1.5v1.5h-1.5zM480.5 678.4h1.2v1.2h-1.2zM476.2 679.2h1.8v1.8h-1.8zM505.2 689.5h1.4v1.4h-1.4zM502.0 690.1h1.5v1.5h-1.5zM504.0 690.1h1.5v1.5h-1.5zM500.0 690.1h1.5v1.5h-1.5zM502.0 692.1h1.5v1.5h-1.5zM502.0 688.1h1.5v1.5h-1.5zM470.0 692.9h1.1v1.1h-1.1zM483.4 689.5h1.8v1.8h-1.8zM470.1 684.9h1.4v1.4h-1.4zM496.0 688.3h1.5v1.5h-1.5zM476.0 686.4h1.5v1.5h-1.5zM478.0 686.4h1.5v1.5h-1.5zM474.0 686.4h1.5v1.5h-1.5zM476.0 688.4h1.5v1.5h-1.5zM476.0 684.4h1.5v1.5h-1.5zM477.9 683.0h1.4v1.4h-1.4zM502.8 686.0h1.5v1.5h-1.5zM504.8 686.0h1.5v1.5h-1.5zM500.8 686.0h1.5v1.5h-1.5zM502.8 688.0h1.5v1.5h-1.5zM502.8 684.0h1.5v1.5h-1.5zM465.5 682.5h1.5v1.5h-1.5zM467.5 682.5h1.5v1.5h-1.5zM463.5 682.5h1.5v1.5h-1.5zM465.5 684.5h1.5v1.5h-1.5zM465.5 680.5h1.5v1.5h-1.5z"/>
<polyline points="505.5,669.0 531.7,668.3" fill="none" stroke="#999" stroke-width="0.8"/>
<path d="M508.5 696 v-10 q6 -2 10.5 8 q5 -10 11 -8 v10" stroke="#888" stroke-width="0.8" fill="none"/>
<polygon points="531.7,696.0 531.7,668.3 589.4,652.3 633.7,661.0 633.7,696.0" fill="#fff" stroke="#999" stroke-width="0.8"/>
<path fill="#b5ebaa" d="M577.1 675.7h1.5v1.5h-1.5zM579.1 675.7h1.5v1.5h-1.5zM575.1 675.7h1.5v1.5h-1.5zM577.1 677.7h1.5v1.5h-1.5zM577.1 673.7h1.5v1.5h-1.5zM617.6 661.6h1.6v1.6h-1.6zM619.4 677.3h1.5v1.5h-1.5zM621.4 677.3h1.5v1.5h-1.5zM617.4 677.3h1.5v1.5h-1.5zM619.4 679.3h1.5v1.5h-1.5zM619.4 675.3h1.5v1.5h-1.5zM595.3 676.2h1.5v1.5h-1.5zM557.6 682.9h1.5v1.5h-1.5zM559.6 682.9h1.5v1.5h-1.5zM555.6 682.9h1.5v1.5h-1.5zM557.6 684.9h1.5v1.5h-1.5zM557.6 680.9h1.5v1.5h-1.5zM573.5 666.5h1.5v1.5h-1.5zM575.5 666.5h1.5v1.5h-1.5zM571.5 666.5h1.5v1.5h-1.5zM573.5 668.5h1.5v1.5h-1.5zM573.5 664.5h1.5v1.5h-1.5zM609.5 679.7h1.5v1.5h-1.5zM611.5 679.7h1.5v1.5h-1.5zM607.5 679.7h1.5v1.5h-1.5zM609.5 681.7h1.5v1.5h-1.5zM609.5 677.7h1.5v1.5h-1.5zM598.9 661.9h1.6v1.6h-1.6zM583.8 680.2h1.5v1.5h-1.5zM585.8 680.2h1.5v1.5h-1.5zM581.8 680.2h1.5v1.5h-1.5zM583.8 682.2h1.5v1.5h-1.5zM583.8 678.2h1.5v1.5h-1.5zM620.7 668.8h1.5v1.5h-1.5zM622.7 668.8h1.5v1.5h-1.5zM618.7 668.8h1.5v1.5h-1.5zM620.7 670.8h1.5v1.5h-1.5zM620.7 666.8h1.5v1.5h-1.5zM594.9 690.4h1.5v1.5h-1.5zM541.2 671.6h1.4v1.4h-1.4zM632.0 690.0h1.4v1.4h-1.4zM585.4 673.4h1.5v1.5h-1.5zM587.4 673.4h1.5v1.5h-1.5zM583.4 673.4h1.5v1.5h-1.5zM585.4 675.4h1.5v1.5h-1.5zM585.4 671.4h1.5v1.5h-1.5zM628.3 673.9h1.5v1.5h-1.5zM630.3 673.9h1.5v1.5h-1.5zM626.3 673.9h1.5v1.5h-1.5zM628.3 675.9h1.5v1.5h-1.5zM628.3 671.9h1.5v1.5h-1.5zM624.5 671.7h1.5v1.5h-1.5zM626.5 671.7h1.5v1.5h-1.5zM622.5 671.7h1.5v1.5h-1.5zM624.5 673.7h1.5v1.5h-1.5zM624.5 669.7h1.5v1.5h-1.5zM579.8 659.1h1.7v1.7h-1.7zM603.9 663.1h1.5v1.5h-1.5zM605.9 663.1h1.5v1.5h-1.5zM601.9 663.1h1.5v1.5h-1.5zM603.9 665.1h1.5v1.5h-1.5zM603.9 661.1h1.5v1.5h-1.5zM541.9 686.6h1.5v1.5h-1.5zM543.9 686.6h1.5v1.5h-1.5zM539.9 686.6h1.5v1.5h-1.5zM541.9 688.6h1.5v1.5h-1.5zM541.9 684.6h1.5v1.5h-1.5zM534.7 683.8h1.5v1.5h-1.5zM536.7 683.8h1.5v1.5h-1.5zM532.7 683.8h1.5v1.5h-1.5zM534.7 685.8h1.5v1.5h-1.5zM534.7 681.8h1.5v1.5h-1.5zM578.5 673.9h1.5v1.5h-1.5zM580.5 673.9h1.5v1.5h-1.5zM576.5 673.9h1.5v1.5h-1.5zM578.5 675.9h1.5v1.5h-1.5zM578.5 671.9h1.5v1.5h-1.5zM577.9 683.6h1.5v1.5h-1.5zM602.8 688.4h1.2v1.2h-1.2zM560.3 667.6h1.5v1.5h-1.5zM599.2 692.2h1.1v1.1h-1.1zM579.0 660.1h1.5v1.5h-1.5zM581.0 660.1h1.5v1.5h-1.5zM577.0 660.1h1.5v1.5h-1.5zM579.0 662.1h1.5v1.5h-1.5zM579.0 658.1h1.5v1.5h-1.5zM591.4 670.5h1.5v1.5h-1.5zM593.4 670.5h1.5v1.5h-1.5zM589.4 670.5h1.5v1.5h-1.5zM591.4 672.5h1.5v1.5h-1.5zM591.4 668.5h1.5v1.5h-1.5zM621.9 670.5h1.5v1.5h-1.5zM623.9 670.5h1.5v1.5h-1.5zM619.9 670.5h1.5v1.5h-1.5zM621.9 672.5h1.5v1.5h-1.5zM621.9 668.5h1.5v1.5h-1.5zM542.0 685.7h1.5v1.5h-1.5zM544.0 685.7h1.5v1.5h-1.5zM540.0 685.7h1.5v1.5h-1.5zM542.0 687.7h1.5v1.5h-1.5zM542.0 683.7h1.5v1.5h-1.5zM558.3 676.6h1.5v1.5h-1.5zM560.3 676.6h1.5v1.5h-1.5zM556.3 676.6h1.5v1.5h-1.5zM558.3 678.6h1.5v1.5h-1.5zM558.3 674.6h1.5v1.5h-1.5zM541.2 676.6h1.4v1.4h-1.4zM595.1 659.1h1.5v1.5h-1.5zM597.1 659.1h1.5v1.5h-1.5zM593.1 659.1h1.5v1.5h-1.5zM595.1 661.1h1.5v1.5h-1.5zM595.1 657.1h1.5v1.5h-1.5zM603.3 686.1h1.7v1.7h-1.7zM539.2 672.4h1.0v1.0h-1.0zM587.5 688.1h1.7v1.7h-1.7zM626.8 686.1h1.6v1.6h-1.6zM599.8 684.6h1.5v1.5h-1.5zM601.8 684.6h1.5v1.5h-1.5zM597.8 684.6h1.5v1.5h-1.5zM599.8 686.6h1.5v1.5h-1.5zM599.8 682.6h1.5v1.5h-1.5zM546.9 680.7h1.6v1.6h-1.6zM545.1 671.8h1.4v1.4h-1.4zM535.5 692.8h1.5v1.5h-1.5zM537.5 692.8h1.5v1.5h-1.5zM533.5 692.8h1.5v1.5h-1.5zM535.5 694.8h1.5v1.5h-1.5zM535.5 690.8h1.5v1.5h-1.5zM540.2 690.8h1.1v1.1h-1.1zM601.4 673.3h1.6v1.6h-1.6z"/>
<path fill="#8fdc7c" d="M542.0 686.4h1.3v1.3h-1.3zM587.6 691.3h1.3v1.3h-1.3zM555.7 665.6h1.1v1.1h-1.1zM600.1 661.8h1.5v1.5h-1.5zM602.1 661.8h1.5v1.5h-1.5zM598.1 661.8h1.5v1.5h-1.5zM600.1 663.8h1.5v1.5h-1.5zM600.1 659.8h1.5v1.5h-1.5zM630.1 669.9h1.2v1.2h-1.2zM627.7 683.6h1.5v1.5h-1.5zM629.7 683.6h1.5v1.5h-1.5zM625.7 683.6h1.5v1.5h-1.5zM627.7 685.6h1.5v1.5h-1.5zM627.7 681.6h1.5v1.5h-1.5zM550.8 693.1h1.5v1.5h-1.5zM552.8 693.1h1.5v1.5h-1.5zM548.8 693.1h1.5v1.5h-1.5zM550.8 695.1h1.5v1.5h-1.5zM550.8 691.1h1.5v1.5h-1.5zM547.5 671.7h1.3v1.3h-1.3zM574.0 657.5h1.5v1.5h-1.5zM576.0 657.5h1.5v1.5h-1.5zM572.0 657.5h1.5v1.5h-1.5zM574.0 659.5h1.5v1.5h-1.5zM574.0 655.5h1.5v1.5h-1.5zM587.7 687.4h1.5v1.5h-1.5zM589.7 687.4h1.5v1.5h-1.5zM585.7 687.4h1.5v1.5h-1.5zM587.7 689.4h1.5v1.5h-1.5zM587.7 685.4h1.5v1.5h-1.5zM623.1 661.5h1.5v1.5h-1.5zM625.1 661.5h1.5v1.5h-1.5zM621.1 661.5h1.5v1.5h-1.5zM623.1 663.5h1.5v1.5h-1.5zM623.1 659.5h1.5v1.5h-1.5zM573.0 663.3h1.5v1.5h-1.5zM575.0 663.3h1.5v1.5h-1.5zM571.0 663.3h1.5v1.5h-1.5zM573.0 665.3h1.5v1.5h-1.5zM573.0 661.3h1.5v1.5h-1.5zM590.9 659.6h1.4v1.4h-1.4zM567.7 665.8h1.5v1.5h-1.5zM569.7 665.8h1.5v1.5h-1.5zM565.7 665.8h1.5v1.5h-1.5zM567.7 667.8h1.5v1.5h-1.5zM567.7 663.8h1.5v1.5h-1.5zM567.8 681.4h1.3v1.3h-1.3zM611.3 688.5h1.3v1.3h-1.3zM590.0 677.7h1.5v1.5h-1.5zM592.0 677.7h1.5v1.5h-1.5zM588.0 677.7h1.5v1.5h-1.5zM590.0 679.7h1.5v1.5h-1.5zM590.0 675.7h1.5v1.5h-1.5zM582.2 687.5h1.8v1.8h-1.8zM615.0 665.1h1.2v1.2h-1.2zM568.1 680.0h1.3v1.3h-1.3zM610.7 689.5h1.5v1.5h-1.5zM612.7 689.5h1.5v1.5h-1.5zM608.7 689.5h1.5v1.5h-1.5zM610.7 691.5h1.5v1.5h-1.5zM610.7 687.5h1.5v1.5h-1.5zM596.8 661.5h1.5v1.5h-1.5zM598.8 661.5h1.5v1.5h-1.5zM594.8 661.5h1.5v1.5h-1.5zM596.8 663.5h1.5v1.5h-1.5zM596.8 659.5h1.5v1.5h-1.5zM610.6 666.1h1.5v1.5h-1.5zM612.6 666.1h1.5v1.5h-1.5zM608.6 666.1h1.5v1.5h-1.5zM610.6 668.1h1.5v1.5h-1.5zM610.6 664.1h1.5v1.5h-1.5zM535.1 685.7h1.5v1.5h-1.5zM537.1 685.7h1.5v1.5h-1.5zM533.1 685.7h1.5v1.5h-1.5zM535.1 687.7h1.5v1.5h-1.5zM535.1 683.7h1.5v1.5h-1.5zM623.4 674.3h1.5v1.5h-1.5zM625.4 674.3h1.5v1.5h-1.5zM621.4 674.3h1.5v1.5h-1.5zM623.4 676.3h1.5v1.5h-1.5zM623.4 672.3h1.5v1.5h-1.5zM602.1 661.3h1.5v1.5h-1.5zM604.1 661.3h1.5v1.5h-1.5zM600.1 661.3h1.5v1.5h-1.5zM602.1 663.3h1.5v1.5h-1.5zM602.1 659.3h1.5v1.5h-1.5zM616.2 693.6h1.1v1.1h-1.1zM599.7 656.4h1.5v1.5h-1.5zM601.7 656.4h1.5v1.5h-1.5zM597.7 656.4h1.5v1.5h-1.5zM599.7 658.4h1.5v1.5h-1.5zM599.7 654.4h1.5v1.5h-1.5zM569.9 679.4h1.1v1.1h-1.1zM573.2 682.9h1.2v1.2h-1.2zM542.3 688.8h1.5v1.5h-1.5zM544.3 688.8h1.5v1.5h-1.5zM540.3 688.8h1.5v1.5h-1.5zM542.3 690.8h1.5v1.5h-1.5zM542.3 686.8h1.5v1.5h-1.5zM572.5 660.6h1.5v1.5h-1.5zM574.5 660.6h1.5v1.5h-1.5zM570.5 660.6h1.5v1.5h-1.5zM572.5 662.6h1.5v1.5h-1.5zM572.5 658.6h1.5v1.5h-1.5zM632.0 679.7h1.8v1.8h-1.8zM551.6 668.3h1.5v1.5h-1.5zM553.6 668.3h1.5v1.5h-1.5zM549.6 668.3h1.5v1.5h-1.5zM551.6 670.3h1.5v1.5h-1.5zM551.6 666.3h1.5v1.5h-1.5zM630.8 678.8h1.5v1.5h-1.5zM632.8 678.8h1.5v1.5h-1.5zM628.8 678.8h1.5v1.5h-1.5zM630.8 680.8h1.5v1.5h-1.5zM630.8 676.8h1.5v1.5h-1.5zM535.7 684.9h1.3v1.3h-1.3zM627.3 663.1h1.5v1.5h-1.5zM629.3 663.1h1.5v1.5h-1.5zM625.3 663.1h1.5v1.5h-1.5zM627.3 665.1h1.5v1.5h-1.5zM627.3 661.1h1.5v1.5h-1.5zM573.6 658.0h1.5v1.5h-1.5zM575.6 658.0h1.5v1.5h-1.5zM571.6 658.0h1.5v1.5h-1.5zM573.6 660.0h1.5v1.5h-1.5zM573.6 656.0h1.5v1.5h-1.5zM630.0 690.6h1.0v1.0h-1.0zM581.9 659.3h1.4v1.4h-1.4zM563.7 690.4h1.4v1.4h-1.4zM597.4 666.4h1.5v1.5h-1.5zM599.4 666.4h1.5v1.5h-1.5zM595.4 666.4h1.5v1.5h-1.5zM597.4 668.4h1.5v1.5h-1.5zM597.4 664.4h1.5v1.5h-1.5zM585.5 682.1h1.5v1.5h-1.5zM587.5 682.1h1.5v1.5h-1.5zM583.5 682.1h1.5v1.5h-1.5zM585.5 684.1h1.5v1.5h-1.5zM585.5 680.1h1.5v1.5h-1.5zM614.8 680.7h1.7v1.7h-1.7zM620.3 691.6h1.5v1.5h-1.5zM622.3 691.6h1.5v1.5h-1.5zM618.3 691.6h1.5v1.5h-1.5zM620.3 693.6h1.5v1.5h-1.5zM620.3 689.6h1.5v1.5h-1.5zM574.4 665.0h1.5v1.5h-1.5zM576.4 665.0h1.5v1.5h-1.5zM572.4 665.0h1.5v1.5h-1.5zM574.4 667.0h1.5v1.5h-1.5zM574.4 663.0h1.5v1.5h-1.5zM566.2 675.2h1.5v1.5h-1.5zM568.2 675.2h1.5v1.5h-1.5zM564.2 675.2h1.5v1.5h-1.5zM566.2 677.2h1.5v1.5h-1.5zM566.2 673.2h1.5v1.5h-1.5zM609.6 685.5h1.2v1.2h-1.2zM559.7 682.7h1.6v1.6h-1.6zM565.1 686.4h1.5v1.5h-1.5zM567.1 686.4h1.5v1.5h-1.5zM563.1 686.4h1.5v1.5h-1.5zM565.1 688.4h1.5v1.5h-1.5zM565.1 684.4h1.5v1.5h-1.5zM572.1 686.8h1.5v1.5h-1.5zM574.1 686.8h1.5v1.5h-1.5zM570.1 686.8h1.5v1.5h-1.5zM572.1 688.8h1.5v1.5h-1.5zM572.1 684.8h1.5v1.5h-1.5zM566.9 680.0h1.2v1.2h-1.2zM565.9 665.7h1.1v1.1h-1.1zM618.7 663.9h1.5v1.5h-1.5zM620.7 663.9h1.5v1.5h-1.5zM616.7 663.9h1.5v1.5h-1.5zM618.7 665.9h1.5v1.5h-1.5zM618.7 661.9h1.5v1.5h-1.5zM605.2 663.5h1.2v1.2h-1.2z"/>
<path fill="#a8e69a" d="M577.8 683.6h1.7v1.7h-1.7zM591.5 661.8h1.4v1.4h-1.4zM578.3 672.8h1.5v1.5h-1.5zM580.3 672.8h1.5v1.5h-1.5zM576.3 672.8h1.5v1.5h-1.5zM578.3 674.8h1.5v1.5h-1.5zM578.3 670.8h1.5v1.5h-1.5zM551.2 682.6h1.5v1.5h-1.5zM553.2 682.6h1.5v1.5h-1.5zM549.2 682.6h1.5v1.5h-1.5zM551.2 684.6h1.5v1.5h-1.5zM551.2 680.6h1.5v1.5h-1.5zM570.3 669.1h1.5v1.5h-1.5zM572.3 669.1h1.5v1.5h-1.5zM568.3 669.1h1.5v1.5h-1.5zM570.3 671.1h1.5v1.5h-1.5zM570.3 667.1h1.5v1.5h-1.5zM541.2 676.6h1.5v1.5h-1.5zM543.2 676.6h1.5v1.5h-1.5zM539.2 676.6h1.5v1.5h-1.5zM541.2 678.6h1.5v1.5h-1.5zM541.2 674.6h1.5v1.5h-1.5zM569.5 678.9h1.4v1.4h-1.4zM589.9 688.7h1.2v1.2h-1.2zM554.9 677.7h1.5v1.5h-1.5zM556.9 677.7h1.5v1.5h-1.5zM552.9 677.7h1.5v1.5h-1.5zM554.9 679.7h1.5v1.5h-1.5zM554.9 675.7h1.5v1.5h-1.5zM624.3 692.4h1.5v1.5h-1.5zM626.3 692.4h1.5v1.5h-1.5zM622.3 692.4h1.5v1.5h-1.5zM624.3 694.4h1.5v1.5h-1.5zM624.3 690.4h1.5v1.5h-1.5zM568.8 676.2h1.5v1.5h-1.5zM570.8 676.2h1.5v1.5h-1.5zM566.8 676.2h1.5v1.5h-1.5zM568.8 678.2h1.5v1.5h-1.5zM568.8 674.2h1.5v1.5h-1.5zM587.1 683.5h1.7v1.7h-1.7zM592.5 673.2h1.1v1.1h-1.1zM600.1 662.1h1.3v1.3h-1.3zM624.4 673.2h1.5v1.5h-1.5zM626.4 673.2h1.5v1.5h-1.5zM622.4 673.2h1.5v1.5h-1.5zM624.4 675.2h1.5v1.5h-1.5zM624.4 671.2h1.5v1.5h-1.5zM554.0 690.1h1.5v1.5h-1.5zM556.0 690.1h1.5v1.5h-1.5zM552.0 690.1h1.5v1.5h-1.5zM554.0 692.1h1.5v1.5h-1.5zM554.0 688.1h1.5v1.5h-1.5zM577.6 665.0h1.3v1.3h-1.3zM552.7 673.0h1.6v1.6h-1.6zM585.3 654.7h1.5v1.5h-1.5zM587.3 654.7h1.5v1.5h-1.5zM583.3 654.7h1.5v1.5h-1.5zM585.3 656.7h1.5v1.5h-1.5zM585.3 652.7h1.5v1.5h-1.5zM566.5 681.2h1.5v1.5h-1.5zM568.5 681.2h1.5v1.5h-1.5zM564.5 681.2h1.5v1.5h-1.5zM566.5 683.2h1.5v1.5h-1.5zM566.5 679.2h1.5v1.5h-1.5zM535.8 674.6h1.5v1.5h-1.5zM537.8 674.6h1.5v1.5h-1.5zM533.8 674.6h1.5v1.5h-1.5zM535.8 676.6h1.5v1.5h-1.5zM535.8 672.6h1.5v1.5h-1.5zM570.0 687.1h1.5v1.5h-1.5zM572.0 687.1h1.5v1.5h-1.5zM568.0 687.1h1.5v1.5h-1.5zM570.0 689.1h1.5v1.5h-1.5zM570.0 685.1h1.5v1.5h-1.5zM594.2 691.0h1.8v1.8h-1.8zM595.0 686.3h1.5v1.5h-1.5zM597.0 686.3h1.5v1.5h-1.5zM593.0 686.3h1.5v1.5h-1.5zM595.0 688.3h1.5v1.5h-1.5zM595.0 684.3h1.5v1.5h-1.5zM617.8 674.7h1.5v1.5h-1.5zM619.8 674.7h1.5v1.5h-1.5zM615.8 674.7h1.5v1.5h-1.5zM617.8 676.7h1.5v1.5h-1.5zM617.8 672.7h1.5v1.5h-1.5zM616.6 677.8h1.5v1.5h-1.5zM618.6 677.8h1.5v1.5h-1.5zM614.6 677.8h1.5v1.5h-1.5zM616.6 679.8h1.5v1.5h-1.5zM616.6 675.8h1.5v1.5h-1.5zM605.6 685.7h1.5v1.5h-1.5zM607.6 685.7h1.5v1.5h-1.5zM603.6 685.7h1.5v1.5h-1.5zM605.6 687.7h1.5v1.5h-1.5zM605.6 683.7h1.5v1.5h-1.5zM564.2 690.9h1.2v1.2h-1.2zM542.6 689.6h1.2v1.2h-1.2zM583.1 684.3h1.4v1.4h-1.4zM544.5 683.7h1.3v1.3h-1.3zM534.6 677.9h1.5v1.5h-1.5zM536.6 677.9h1.5v1.5h-1.5zM532.6 677.9h1.5v1.5h-1.5zM534.6 679.9h1.5v1.5h-1.5zM534.6 675.9h1.5v1.5h-1.5zM548.3 668.5h1.4v1.4h-1.4zM606.6 686.6h1.6v1.6h-1.6zM593.4 683.0h1.6v1.6h-1.6zM560.6 684.2h1.5v1.5h-1.5zM569.2 672.4h1.5v1.5h-1.5zM571.2 672.4h1.5v1.5h-1.5zM567.2 672.4h1.5v1.5h-1.5zM569.2 674.4h1.5v1.5h-1.5zM569.2 670.4h1.5v1.5h-1.5zM613.7 686.8h1.5v1.5h-1.5zM615.7 686.8h1.5v1.5h-1.5zM611.7 686.8h1.5v1.5h-1.5zM613.7 688.8h1.5v1.5h-1.5zM613.7 684.8h1.5v1.5h-1.5zM606.3 668.9h1.5v1.5h-1.5zM608.3 668.9h1.5v1.5h-1.5zM604.3 668.9h1.5v1.5h-1.5zM606.3 670.9h1.5v1.5h-1.5zM606.3 666.9h1.5v1.5h-1.5zM607.4 686.3h1.5v1.5h-1.5zM609.4 686.3h1.5v1.5h-1.5zM605.4 686.3h1.5v1.5h-1.5zM607.4 688.3h1.5v1.5h-1.5zM607.4 684.3h1.5v1.5h-1.5zM608.0 666.4h1.5v1.5h-1.5zM610.0 666.4h1.5v1.5h-1.5zM606.0 666.4h1.5v1.5h-1.5zM608.0 668.4h1.5v1.5h-1.5zM608.0 664.4h1.5v1.5h-1.5zM628.1 682.5h1.5v1.5h-1.5zM630.1 682.5h1.5v1.5h-1.5zM626.1 682.5h1.5v1.5h-1.5zM628.1 684.5h1.5v1.5h-1.5zM628.1 680.5h1.5v1.5h-1.5zM600.0 677.4h1.3v1.3h-1.3zM570.9 659.5h1.5v1.5h-1.5zM572.9 659.5h1.5v1.5h-1.5zM568.9 659.5h1.5v1.5h-1.5zM570.9 661.5h1.5v1.5h-1.5zM570.9 657.5h1.5v1.5h-1.5zM565.7 692.0h1.5v1.5h-1.5zM567.7 692.0h1.5v1.5h-1.5zM563.7 692.0h1.5v1.5h-1.5zM565.7 694.0h1.5v1.5h-1.5zM565.7 690.0h1.5v1.5h-1.5zM605.3 666.1h1.1v1.1h-1.1zM603.3 677.1h1.5v1.5h-1.5zM605.3 677.1h1.5v1.5h-1.5zM601.3 677.1h1.5v1.5h-1.5zM603.3 679.1h1.5v1.5h-1.5zM603.3 675.1h1.5v1.5h-1.5zM556.7 670.2h1.5v1.5h-1.5zM558.7 670.2h1.5v1.5h-1.5zM554.7 670.2h1.5v1.5h-1.5zM556.7 672.2h1.5v1.5h-1.5zM556.7 668.2h1.5v1.5h-1.5zM609.4 659.8h1.8v1.8h-1.8zM559.4 675.4h1.1v1.1h-1.1zM553.2 690.6h1.1v1.1h-1.1zM586.8 675.0h1.8v1.8h-1.8zM609.4 688.2h1.1v1.1h-1.1zM587.3 656.8h1.5v1.5h-1.5zM589.3 656.8h1.5v1.5h-1.5zM585.3 656.8h1.5v1.5h-1.5zM587.3 658.8h1.5v1.5h-1.5zM587.3 654.8h1.5v1.5h-1.5zM593.9 658.6h1.5v1.5h-1.5zM595.9 658.6h1.5v1.5h-1.5zM591.9 658.6h1.5v1.5h-1.5zM593.9 660.6h1.5v1.5h-1.5zM593.9 656.6h1.5v1.5h-1.5zM593.7 666.7h1.5v1.5h-1.5zM608.2 689.4h1.5v1.5h-1.5zM610.2 689.4h1.5v1.5h-1.5zM606.2 689.4h1.5v1.5h-1.5zM608.2 691.4h1.5v1.5h-1.5zM608.2 687.4h1.5v1.5h-1.5zM582.5 659.7h1.4v1.4h-1.4zM603.8 687.4h1.0v1.0h-1.0zM597.6 684.4h1.5v1.5h-1.5zM599.6 684.4h1.5v1.5h-1.5zM595.6 684.4h1.5v1.5h-1.5zM597.6 686.4h1.5v1.5h-1.5zM597.6 682.4h1.5v1.5h-1.5z"/>
<path fill="#7fd46c" d="M597.9 671.6h1.5v1.5h-1.5zM599.9 671.6h1.5v1.5h-1.5zM595.9 671.6h1.5v1.5h-1.5zM597.9 673.6h1.5v1.5h-1.5zM597.9 669.6h1.5v1.5h-1.5zM599.1 666.8h1.5v1.5h-1.5zM601.1 666.8h1.5v1.5h-1.5zM597.1 666.8h1.5v1.5h-1.5zM599.1 668.8h1.5v1.5h-1.5zM599.1 664.8h1.5v1.5h-1.5zM618.6 693.0h1.0v1.0h-1.0zM613.8 677.2h1.5v1.5h-1.5zM615.8 677.2h1.5v1.5h-1.5zM611.8 677.2h1.5v1.5h-1.5zM613.8 679.2h1.5v1.5h-1.5zM613.8 675.2h1.5v1.5h-1.5zM546.7 672.0h1.6v1.6h-1.6zM595.3 672.6h1.5v1.5h-1.5zM597.3 672.6h1.5v1.5h-1.5zM593.3 672.6h1.5v1.5h-1.5zM595.3 674.6h1.5v1.5h-1.5zM595.3 670.6h1.5v1.5h-1.5zM551.1 684.1h1.5v1.5h-1.5zM553.1 684.1h1.5v1.5h-1.5zM549.1 684.1h1.5v1.5h-1.5zM551.1 686.1h1.5v1.5h-1.5zM551.1 682.1h1.5v1.5h-1.5zM595.3 671.9h1.5v1.5h-1.5zM582.1 686.1h1.5v1.5h-1.5zM584.1 686.1h1.5v1.5h-1.5zM580.1 686.1h1.5v1.5h-1.5zM582.1 688.1h1.5v1.5h-1.5zM582.1 684.1h1.5v1.5h-1.5zM621.4 692.5h1.5v1.5h-1.5zM623.4 692.5h1.5v1.5h-1.5zM619.4 692.5h1.5v1.5h-1.5zM621.4 694.5h1.5v1.5h-1.5zM621.4 690.5h1.5v1.5h-1.5zM554.9 675.1h1.4v1.4h-1.4zM548.6 673.9h1.5v1.5h-1.5zM550.6 673.9h1.5v1.5h-1.5zM546.6 673.9h1.5v1.5h-1.5zM548.6 675.9h1.5v1.5h-1.5zM548.6 671.9h1.5v1.5h-1.5zM547.0 675.8h1.2v1.2h-1.2zM605.4 658.9h1.6v1.6h-1.6zM588.7 667.6h1.5v1.5h-1.5zM590.7 667.6h1.5v1.5h-1.5zM586.7 667.6h1.5v1.5h-1.5zM588.7 669.6h1.5v1.5h-1.5zM588.7 665.6h1.5v1.5h-1.5zM542.4 685.7h1.6v1.6h-1.6zM590.2 666.9h1.5v1.5h-1.5zM592.2 666.9h1.5v1.5h-1.5zM588.2 666.9h1.5v1.5h-1.5zM590.2 668.9h1.5v1.5h-1.5zM590.2 664.9h1.5v1.5h-1.5zM621.8 689.2h1.6v1.6h-1.6zM625.8 679.9h1.5v1.5h-1.5zM627.8 679.9h1.5v1.5h-1.5zM623.8 679.9h1.5v1.5h-1.5zM625.8 681.9h1.5v1.5h-1.5zM625.8 677.9h1.5v1.5h-1.5zM584.4 677.2h1.5v1.5h-1.5zM586.4 677.2h1.5v1.5h-1.5zM582.4 677.2h1.5v1.5h-1.5zM584.4 679.2h1.5v1.5h-1.5zM584.4 675.2h1.5v1.5h-1.5zM580.8 664.8h1.6v1.6h-1.6zM563.5 669.2h1.5v1.5h-1.5zM565.5 669.2h1.5v1.5h-1.5zM561.5 669.2h1.5v1.5h-1.5zM563.5 671.2h1.5v1.5h-1.5zM563.5 667.2h1.5v1.5h-1.5zM620.7 684.7h1.5v1.5h-1.5zM622.7 684.7h1.5v1.5h-1.5zM618.7 684.7h1.5v1.5h-1.5zM620.7 686.7h1.5v1.5h-1.5zM620.7 682.7h1.5v1.5h-1.5zM597.0 692.9h1.5v1.5h-1.5zM599.0 692.9h1.5v1.5h-1.5zM595.0 692.9h1.5v1.5h-1.5zM597.0 694.9h1.5v1.5h-1.5zM597.0 690.9h1.5v1.5h-1.5zM576.0 677.1h1.5v1.5h-1.5zM578.0 677.1h1.5v1.5h-1.5zM574.0 677.1h1.5v1.5h-1.5zM576.0 679.1h1.5v1.5h-1.5zM576.0 675.1h1.5v1.5h-1.5zM611.8 665.5h1.5v1.5h-1.5zM613.8 665.5h1.5v1.5h-1.5zM609.8 665.5h1.5v1.5h-1.5zM611.8 667.5h1.5v1.5h-1.5zM611.8 663.5h1.5v1.5h-1.5zM608.1 689.2h1.2v1.2h-1.2zM616.3 670.9h1.1v1.1h-1.1zM540.4 682.8h1.5v1.5h-1.5zM542.4 682.8h1.5v1.5h-1.5zM538.4 682.8h1.5v1.5h-1.5zM540.4 684.8h1.5v1.5h-1.5zM540.4 680.8h1.5v1.5h-1.5zM554.8 684.6h1.3v1.3h-1.3zM595.2 680.7h1.5v1.5h-1.5zM597.2 680.7h1.5v1.5h-1.5zM593.2 680.7h1.5v1.5h-1.5zM595.2 682.7h1.5v1.5h-1.5zM595.2 678.7h1.5v1.5h-1.5zM621.6 670.1h1.8v1.8h-1.8zM533.4 672.2h1.5v1.5h-1.5zM535.4 672.2h1.5v1.5h-1.5zM531.4 672.2h1.5v1.5h-1.5zM533.4 674.2h1.5v1.5h-1.5zM533.4 670.2h1.5v1.5h-1.5zM540.5 683.2h1.5v1.5h-1.5zM542.5 683.2h1.5v1.5h-1.5zM538.5 683.2h1.5v1.5h-1.5zM540.5 685.2h1.5v1.5h-1.5zM540.5 681.2h1.5v1.5h-1.5zM564.3 670.2h1.5v1.5h-1.5zM595.1 691.5h1.6v1.6h-1.6zM605.4 667.2h1.6v1.6h-1.6zM589.4 681.2h1.5v1.5h-1.5zM591.4 681.2h1.5v1.5h-1.5zM587.4 681.2h1.5v1.5h-1.5zM589.4 683.2h1.5v1.5h-1.5zM589.4 679.2h1.5v1.5h-1.5z"/>
<line x1="635.0" y1="662.0" x2="645.0" y2="662.0" stroke="#777" stroke-width="0.6"/>
<line x1="635.0" y1="667.5" x2="645.0" y2="667.5" stroke="#777" stroke-width="0.6"/>
<line x1="635.0" y1="673.0" x2="645.0" y2="673.0" stroke="#777" stroke-width="0.6"/>
<line x1="635.0" y1="678.5" x2="645.0" y2="678.5" stroke="#777" stroke-width="0.6"/>
<line x1="635.0" y1="684.0" x2="645.0" y2="684.0" stroke="#777" stroke-width="0.6"/>
<line x1="635.0" y1="689.5" x2="645.0" y2="689.5" stroke="#777" stroke-width="0.6"/>
<line x1="635.0" y1="661.0" x2="635.0" y2="695.0" stroke="#777" stroke-width="0.6"/>
<line x1="645.0" y1="661.0" x2="645.0" y2="695.0" stroke="#777" stroke-width="0.6"/>
<polygon points="675.8,695.8 710.0,662.5 725.8,667.5 692.5,695.8" fill="#fff" stroke="#888" stroke-width="0.8"/>
<path fill="#7fd46c" d="M698.8 683.7h1.5v1.5h-1.5zM700.8 683.7h1.5v1.5h-1.5zM696.8 683.7h1.5v1.5h-1.5zM698.8 685.7h1.5v1.5h-1.5zM698.8 681.7h1.5v1.5h-1.5zM691.9 688.7h1.2v1.2h-1.2zM701.5 677.7h1.5v1.5h-1.5zM703.5 677.7h1.5v1.5h-1.5zM699.5 677.7h1.5v1.5h-1.5zM701.5 679.7h1.5v1.5h-1.5zM701.5 675.7h1.5v1.5h-1.5zM691.7 684.7h1.5v1.5h-1.5zM693.7 684.7h1.5v1.5h-1.5zM689.7 684.7h1.5v1.5h-1.5zM691.7 686.7h1.5v1.5h-1.5zM691.7 682.7h1.5v1.5h-1.5zM704.8 677.0h1.5v1.5h-1.5zM706.8 677.0h1.5v1.5h-1.5zM702.8 677.0h1.5v1.5h-1.5zM704.8 679.0h1.5v1.5h-1.5zM704.8 675.0h1.5v1.5h-1.5zM686.3 693.9h1.5v1.5h-1.5zM688.3 693.9h1.5v1.5h-1.5zM684.3 693.9h1.5v1.5h-1.5zM686.3 695.9h1.5v1.5h-1.5zM686.3 691.9h1.5v1.5h-1.5zM686.1 692.4h1.5v1.5h-1.5zM688.1 692.4h1.5v1.5h-1.5zM684.1 692.4h1.5v1.5h-1.5zM686.1 694.4h1.5v1.5h-1.5zM686.1 690.4h1.5v1.5h-1.5zM700.1 673.8h1.5v1.5h-1.5zM702.1 673.8h1.5v1.5h-1.5zM698.1 673.8h1.5v1.5h-1.5zM700.1 675.8h1.5v1.5h-1.5zM700.1 671.8h1.5v1.5h-1.5zM689.4 693.0h1.5v1.5h-1.5zM691.4 693.0h1.5v1.5h-1.5zM687.4 693.0h1.5v1.5h-1.5zM689.4 695.0h1.5v1.5h-1.5zM689.4 691.0h1.5v1.5h-1.5zM695.7 682.4h1.5v1.5h-1.5zM697.7 682.4h1.5v1.5h-1.5zM693.7 682.4h1.5v1.5h-1.5zM695.7 684.4h1.5v1.5h-1.5zM695.7 680.4h1.5v1.5h-1.5zM684.2 688.1h1.5v1.5h-1.5zM686.2 688.1h1.5v1.5h-1.5zM682.2 688.1h1.5v1.5h-1.5zM684.2 690.1h1.5v1.5h-1.5zM684.2 686.1h1.5v1.5h-1.5zM689.2 692.1h1.7v1.7h-1.7zM700.1 672.3h1.3v1.3h-1.3zM695.8 679.0h1.5v1.5h-1.5zM697.8 679.0h1.5v1.5h-1.5zM693.8 679.0h1.5v1.5h-1.5zM695.8 681.0h1.5v1.5h-1.5zM695.8 677.0h1.5v1.5h-1.5zM706.6 677.1h1.5v1.5h-1.5zM708.6 677.1h1.5v1.5h-1.5zM704.6 677.1h1.5v1.5h-1.5zM706.6 679.1h1.5v1.5h-1.5zM706.6 675.1h1.5v1.5h-1.5zM715.7 673.2h1.5v1.5h-1.5zM717.7 673.2h1.5v1.5h-1.5zM713.7 673.2h1.5v1.5h-1.5zM715.7 675.2h1.5v1.5h-1.5zM715.7 671.2h1.5v1.5h-1.5zM708.4 676.5h1.5v1.5h-1.5zM710.4 676.5h1.5v1.5h-1.5zM706.4 676.5h1.5v1.5h-1.5zM708.4 678.5h1.5v1.5h-1.5zM708.4 674.5h1.5v1.5h-1.5zM694.5 692.7h1.5v1.5h-1.5zM684.3 686.6h1.5v1.5h-1.5zM686.3 686.6h1.5v1.5h-1.5zM682.3 686.6h1.5v1.5h-1.5zM684.3 688.6h1.5v1.5h-1.5zM684.3 684.6h1.5v1.5h-1.5zM701.4 686.0h1.5v1.5h-1.5zM703.4 686.0h1.5v1.5h-1.5zM699.4 686.0h1.5v1.5h-1.5zM701.4 688.0h1.5v1.5h-1.5zM701.4 684.0h1.5v1.5h-1.5zM687.2 691.2h1.4v1.4h-1.4z"/>
<path fill="#a8e69a" d="M689.5 689.5h1.5v1.5h-1.5zM679.5 692.4h1.5v1.5h-1.5zM681.5 692.4h1.5v1.5h-1.5zM677.5 692.4h1.5v1.5h-1.5zM679.5 694.4h1.5v1.5h-1.5zM679.5 690.4h1.5v1.5h-1.5zM707.8 665.3h1.5v1.5h-1.5zM693.3 678.8h1.5v1.5h-1.5zM695.3 678.8h1.5v1.5h-1.5zM691.3 678.8h1.5v1.5h-1.5zM693.3 680.8h1.5v1.5h-1.5zM693.3 676.8h1.5v1.5h-1.5zM693.1 680.0h1.5v1.5h-1.5zM695.1 680.0h1.5v1.5h-1.5zM691.1 680.0h1.5v1.5h-1.5zM693.1 682.0h1.5v1.5h-1.5zM693.1 678.0h1.5v1.5h-1.5zM707.0 674.6h1.5v1.5h-1.5zM709.0 674.6h1.5v1.5h-1.5zM705.0 674.6h1.5v1.5h-1.5zM707.0 676.6h1.5v1.5h-1.5zM707.0 672.6h1.5v1.5h-1.5zM707.0 676.3h1.5v1.5h-1.5zM709.0 676.3h1.5v1.5h-1.5zM705.0 676.3h1.5v1.5h-1.5zM707.0 678.3h1.5v1.5h-1.5zM707.0 674.3h1.5v1.5h-1.5zM699.5 676.6h1.5v1.5h-1.5zM701.5 676.6h1.5v1.5h-1.5zM697.5 676.6h1.5v1.5h-1.5zM699.5 678.6h1.5v1.5h-1.5zM699.5 674.6h1.5v1.5h-1.5zM698.3 682.0h1.5v1.5h-1.5zM700.3 682.0h1.5v1.5h-1.5zM696.3 682.0h1.5v1.5h-1.5zM698.3 684.0h1.5v1.5h-1.5zM698.3 680.0h1.5v1.5h-1.5zM714.4 663.4h1.5v1.5h-1.5zM716.4 663.4h1.5v1.5h-1.5zM712.4 663.4h1.5v1.5h-1.5zM714.4 665.4h1.5v1.5h-1.5zM714.4 661.4h1.5v1.5h-1.5zM699.0 688.5h1.5v1.5h-1.5zM701.0 688.5h1.5v1.5h-1.5zM697.0 688.5h1.5v1.5h-1.5zM699.0 690.5h1.5v1.5h-1.5zM699.0 686.5h1.5v1.5h-1.5zM716.3 669.0h1.2v1.2h-1.2zM702.3 672.3h1.5v1.5h-1.5zM704.3 672.3h1.5v1.5h-1.5zM700.3 672.3h1.5v1.5h-1.5zM702.3 674.3h1.5v1.5h-1.5zM702.3 670.3h1.5v1.5h-1.5zM690.7 693.3h1.0v1.0h-1.0zM706.1 682.3h1.5v1.5h-1.5zM708.1 682.3h1.5v1.5h-1.5zM704.1 682.3h1.5v1.5h-1.5zM706.1 684.3h1.5v1.5h-1.5zM706.1 680.3h1.5v1.5h-1.5zM690.6 688.2h1.5v1.5h-1.5zM692.6 688.2h1.5v1.5h-1.5zM688.6 688.2h1.5v1.5h-1.5zM690.6 690.2h1.5v1.5h-1.5zM690.6 686.2h1.5v1.5h-1.5zM717.2 669.6h1.5v1.5h-1.5zM719.2 669.6h1.5v1.5h-1.5zM715.2 669.6h1.5v1.5h-1.5zM717.2 671.6h1.5v1.5h-1.5zM717.2 667.6h1.5v1.5h-1.5zM698.4 673.8h1.5v1.5h-1.5zM700.4 673.8h1.5v1.5h-1.5zM696.4 673.8h1.5v1.5h-1.5zM698.4 675.8h1.5v1.5h-1.5zM698.4 671.8h1.5v1.5h-1.5zM696.2 689.5h1.5v1.5h-1.5zM698.2 689.5h1.5v1.5h-1.5zM694.2 689.5h1.5v1.5h-1.5zM696.2 691.5h1.5v1.5h-1.5zM696.2 687.5h1.5v1.5h-1.5zM699.6 681.8h1.5v1.5h-1.5zM701.6 681.8h1.5v1.5h-1.5zM697.6 681.8h1.5v1.5h-1.5zM699.6 683.8h1.5v1.5h-1.5zM699.6 679.8h1.5v1.5h-1.5zM721.1 666.1h1.5v1.5h-1.5z"/>
<path fill="#8fdc7c" d="M683.9 692.7h1.2v1.2h-1.2zM706.9 667.9h1.4v1.4h-1.4zM697.2 675.4h1.2v1.2h-1.2zM696.8 678.4h1.5v1.5h-1.5zM698.8 678.4h1.5v1.5h-1.5zM694.8 678.4h1.5v1.5h-1.5zM696.8 680.4h1.5v1.5h-1.5zM696.8 676.4h1.5v1.5h-1.5zM714.1 669.8h1.7v1.7h-1.7zM715.2 667.8h1.5v1.5h-1.5zM717.2 667.8h1.5v1.5h-1.5zM713.2 667.8h1.5v1.5h-1.5zM715.2 669.8h1.5v1.5h-1.5zM715.2 665.8h1.5v1.5h-1.5zM715.3 675.1h1.2v1.2h-1.2zM701.9 677.1h1.4v1.4h-1.4zM709.1 673.5h1.5v1.5h-1.5zM711.1 673.5h1.5v1.5h-1.5zM707.1 673.5h1.5v1.5h-1.5zM709.1 675.5h1.5v1.5h-1.5zM709.1 671.5h1.5v1.5h-1.5zM691.4 691.6h1.0v1.0h-1.0zM690.7 690.5h1.5v1.5h-1.5zM692.7 690.5h1.5v1.5h-1.5zM688.7 690.5h1.5v1.5h-1.5zM690.7 692.5h1.5v1.5h-1.5zM690.7 688.5h1.5v1.5h-1.5zM708.6 673.7h1.6v1.6h-1.6zM692.2 680.4h1.1v1.1h-1.1zM693.7 691.8h1.5v1.5h-1.5zM695.7 691.8h1.5v1.5h-1.5zM691.7 691.8h1.5v1.5h-1.5zM693.7 693.8h1.5v1.5h-1.5zM693.7 689.8h1.5v1.5h-1.5z"/>
<path fill="#b5ebaa" d="M708.5 677.4h1.5v1.5h-1.5zM710.5 677.4h1.5v1.5h-1.5zM706.5 677.4h1.5v1.5h-1.5zM708.5 679.4h1.5v1.5h-1.5zM708.5 675.4h1.5v1.5h-1.5zM697.9 685.0h1.5v1.5h-1.5zM699.9 685.0h1.5v1.5h-1.5zM695.9 685.0h1.5v1.5h-1.5zM697.9 687.0h1.5v1.5h-1.5zM697.9 683.0h1.5v1.5h-1.5zM719.5 671.8h1.2v1.2h-1.2zM681.7 691.3h1.5v1.5h-1.5zM683.7 691.3h1.5v1.5h-1.5zM679.7 691.3h1.5v1.5h-1.5zM681.7 693.3h1.5v1.5h-1.5zM681.7 689.3h1.5v1.5h-1.5zM689.3 688.9h1.1v1.1h-1.1zM702.5 685.8h1.1v1.1h-1.1zM713.7 673.8h1.7v1.7h-1.7zM704.9 681.0h1.5v1.5h-1.5zM706.9 681.0h1.5v1.5h-1.5zM702.9 681.0h1.5v1.5h-1.5zM704.9 683.0h1.5v1.5h-1.5zM704.9 679.0h1.5v1.5h-1.5zM691.7 683.7h1.5v1.5h-1.5zM693.7 683.7h1.5v1.5h-1.5zM689.7 683.7h1.5v1.5h-1.5zM691.7 685.7h1.5v1.5h-1.5zM691.7 681.7h1.5v1.5h-1.5zM720.9 667.5h1.1v1.1h-1.1zM690.2 694.8h1.5v1.5h-1.5zM692.2 694.8h1.5v1.5h-1.5zM688.2 694.8h1.5v1.5h-1.5zM690.2 696.8h1.5v1.5h-1.5zM690.2 692.8h1.5v1.5h-1.5z"/>
<polygon points="768.3,601.7 803.3,565.0 803.3,578.3 773.3,616.7" fill="#fff" stroke="#888" stroke-width="0.8"/>
<path fill="#a8e69a" d="M777.4 600.4h1.5v1.5h-1.5zM791.3 587.2h1.5v1.5h-1.5zM793.3 587.2h1.5v1.5h-1.5zM789.3 587.2h1.5v1.5h-1.5zM791.3 589.2h1.5v1.5h-1.5zM791.3 585.2h1.5v1.5h-1.5zM788.5 593.4h1.6v1.6h-1.6zM796.3 584.4h1.2v1.2h-1.2zM796.4 581.7h1.7v1.7h-1.7zM775.9 607.1h1.5v1.5h-1.5zM777.9 607.1h1.5v1.5h-1.5zM773.9 607.1h1.5v1.5h-1.5zM775.9 609.1h1.5v1.5h-1.5zM775.9 605.1h1.5v1.5h-1.5zM784.5 590.2h1.5v1.5h-1.5zM786.5 590.2h1.5v1.5h-1.5zM782.5 590.2h1.5v1.5h-1.5zM784.5 592.2h1.5v1.5h-1.5zM784.5 588.2h1.5v1.5h-1.5zM792.1 580.4h1.6v1.6h-1.6zM782.6 603.1h1.5v1.5h-1.5zM784.6 603.1h1.5v1.5h-1.5zM780.6 603.1h1.5v1.5h-1.5zM782.6 605.1h1.5v1.5h-1.5zM782.6 601.1h1.5v1.5h-1.5zM771.6 601.9h1.5v1.5h-1.5zM777.2 606.8h1.1v1.1h-1.1zM782.3 601.0h1.5v1.5h-1.5zM784.3 601.0h1.5v1.5h-1.5zM780.3 601.0h1.5v1.5h-1.5zM782.3 603.0h1.5v1.5h-1.5zM782.3 599.0h1.5v1.5h-1.5zM780.3 603.2h1.5v1.5h-1.5zM782.3 603.2h1.5v1.5h-1.5zM778.3 603.2h1.5v1.5h-1.5zM780.3 605.2h1.5v1.5h-1.5zM780.3 601.2h1.5v1.5h-1.5zM787.1 593.0h1.5v1.5h-1.5zM789.1 593.0h1.5v1.5h-1.5zM785.1 593.0h1.5v1.5h-1.5zM787.1 595.0h1.5v1.5h-1.5zM787.1 591.0h1.5v1.5h-1.5zM789.2 587.0h1.5v1.5h-1.5zM791.2 587.0h1.5v1.5h-1.5zM787.2 587.0h1.5v1.5h-1.5zM789.2 589.0h1.5v1.5h-1.5zM789.2 585.0h1.5v1.5h-1.5zM773.3 597.5h1.7v1.7h-1.7zM774.2 597.0h1.2v1.2h-1.2zM794.3 587.9h1.5v1.5h-1.5zM796.3 587.9h1.5v1.5h-1.5zM792.3 587.9h1.5v1.5h-1.5zM794.3 589.9h1.5v1.5h-1.5zM794.3 585.9h1.5v1.5h-1.5zM793.5 589.0h1.5v1.5h-1.5z"/>
<path fill="#7fd46c" d="M771.3 606.1h1.6v1.6h-1.6zM791.2 582.9h1.4v1.4h-1.4zM774.7 608.4h1.5v1.5h-1.5zM776.7 608.4h1.5v1.5h-1.5zM772.7 608.4h1.5v1.5h-1.5zM774.7 610.4h1.5v1.5h-1.5zM774.7 606.4h1.5v1.5h-1.5zM793.1 581.9h1.5v1.5h-1.5zM795.1 581.9h1.5v1.5h-1.5zM791.1 581.9h1.5v1.5h-1.5zM793.1 583.9h1.5v1.5h-1.5zM793.1 579.9h1.5v1.5h-1.5zM803.2 571.3h1.5v1.5h-1.5zM777.3 595.4h1.5v1.5h-1.5zM787.0 581.5h1.5v1.5h-1.5zM789.0 581.5h1.5v1.5h-1.5zM785.0 581.5h1.5v1.5h-1.5zM787.0 583.5h1.5v1.5h-1.5zM787.0 579.5h1.5v1.5h-1.5zM797.1 576.3h1.2v1.2h-1.2zM783.2 597.2h1.0v1.0h-1.0zM778.1 591.5h1.5v1.5h-1.5zM780.1 591.5h1.5v1.5h-1.5zM776.1 591.5h1.5v1.5h-1.5zM778.1 593.5h1.5v1.5h-1.5zM778.1 589.5h1.5v1.5h-1.5zM774.9 612.6h1.5v1.5h-1.5zM776.9 612.6h1.5v1.5h-1.5zM772.9 612.6h1.5v1.5h-1.5zM774.9 614.6h1.5v1.5h-1.5zM774.9 610.6h1.5v1.5h-1.5zM770.8 604.4h1.5v1.5h-1.5zM772.8 604.4h1.5v1.5h-1.5zM768.8 604.4h1.5v1.5h-1.5zM770.8 606.4h1.5v1.5h-1.5zM770.8 602.4h1.5v1.5h-1.5zM787.9 592.9h1.5v1.5h-1.5zM789.9 592.9h1.5v1.5h-1.5zM785.9 592.9h1.5v1.5h-1.5zM787.9 594.9h1.5v1.5h-1.5zM787.9 590.9h1.5v1.5h-1.5zM771.1 605.5h1.5v1.5h-1.5zM773.1 605.5h1.5v1.5h-1.5zM769.1 605.5h1.5v1.5h-1.5zM771.1 607.5h1.5v1.5h-1.5zM771.1 603.5h1.5v1.5h-1.5zM802.3 567.3h1.0v1.0h-1.0zM799.8 570.9h1.5v1.5h-1.5zM801.8 570.9h1.5v1.5h-1.5zM797.8 570.9h1.5v1.5h-1.5zM799.8 572.9h1.5v1.5h-1.5zM799.8 568.9h1.5v1.5h-1.5zM783.0 600.1h1.5v1.5h-1.5zM785.0 600.1h1.5v1.5h-1.5zM781.0 600.1h1.5v1.5h-1.5zM783.0 602.1h1.5v1.5h-1.5zM783.0 598.1h1.5v1.5h-1.5z"/>
<path fill="#b5ebaa" d="M777.3 608.9h1.4v1.4h-1.4zM792.2 576.6h1.5v1.5h-1.5zM794.2 576.6h1.5v1.5h-1.5zM790.2 576.6h1.5v1.5h-1.5zM792.2 578.6h1.5v1.5h-1.5zM792.2 574.6h1.5v1.5h-1.5zM799.8 573.7h1.4v1.4h-1.4zM782.6 597.4h1.5v1.5h-1.5zM784.6 597.4h1.5v1.5h-1.5zM780.6 597.4h1.5v1.5h-1.5zM782.6 599.4h1.5v1.5h-1.5zM782.6 595.4h1.5v1.5h-1.5zM784.8 594.6h1.5v1.5h-1.5zM786.8 594.6h1.5v1.5h-1.5zM782.8 594.6h1.5v1.5h-1.5zM784.8 596.6h1.5v1.5h-1.5zM784.8 592.6h1.5v1.5h-1.5zM788.9 580.9h1.6v1.6h-1.6zM769.5 600.8h1.5v1.5h-1.5zM771.5 600.8h1.5v1.5h-1.5zM767.5 600.8h1.5v1.5h-1.5zM769.5 602.8h1.5v1.5h-1.5zM769.5 598.8h1.5v1.5h-1.5zM769.4 600.5h1.5v1.5h-1.5zM771.4 600.5h1.5v1.5h-1.5zM767.4 600.5h1.5v1.5h-1.5zM769.4 602.5h1.5v1.5h-1.5zM769.4 598.5h1.5v1.5h-1.5zM789.7 591.4h1.3v1.3h-1.3zM787.6 585.7h1.5v1.5h-1.5zM789.6 585.7h1.5v1.5h-1.5zM785.6 585.7h1.5v1.5h-1.5zM787.6 587.7h1.5v1.5h-1.5zM787.6 583.7h1.5v1.5h-1.5zM779.8 595.0h1.2v1.2h-1.2zM793.3 585.1h1.6v1.6h-1.6zM774.5 604.8h1.6v1.6h-1.6zM797.0 570.8h1.5v1.5h-1.5zM799.0 570.8h1.5v1.5h-1.5zM795.0 570.8h1.5v1.5h-1.5zM797.0 572.8h1.5v1.5h-1.5zM797.0 568.8h1.5v1.5h-1.5zM771.9 609.1h1.7v1.7h-1.7zM779.8 602.6h1.5v1.5h-1.5zM781.8 602.6h1.5v1.5h-1.5zM777.8 602.6h1.5v1.5h-1.5zM779.8 604.6h1.5v1.5h-1.5zM779.8 600.6h1.5v1.5h-1.5zM792.1 587.4h1.5v1.5h-1.5zM794.1 587.4h1.5v1.5h-1.5zM790.1 587.4h1.5v1.5h-1.5zM792.1 589.4h1.5v1.5h-1.5zM792.1 585.4h1.5v1.5h-1.5zM798.2 571.1h1.5v1.5h-1.5zM800.2 571.1h1.5v1.5h-1.5zM796.2 571.1h1.5v1.5h-1.5zM798.2 573.1h1.5v1.5h-1.5zM798.2 569.1h1.5v1.5h-1.5zM796.6 574.8h1.5v1.5h-1.5zM798.6 574.8h1.5v1.5h-1.5zM794.6 574.8h1.5v1.5h-1.5zM796.6 576.8h1.5v1.5h-1.5zM796.6 572.8h1.5v1.5h-1.5zM792.0 590.3h1.5v1.5h-1.5zM794.0 590.3h1.5v1.5h-1.5zM790.0 590.3h1.5v1.5h-1.5zM792.0 592.3h1.5v1.5h-1.5zM792.0 588.3h1.5v1.5h-1.5z"/>
<path fill="#8fdc7c" d="M790.3 589.0h1.7v1.7h-1.7zM789.2 594.3h1.5v1.5h-1.5zM791.2 594.3h1.5v1.5h-1.5zM787.2 594.3h1.5v1.5h-1.5zM789.2 596.3h1.5v1.5h-1.5zM789.2 592.3h1.5v1.5h-1.5zM800.9 572.0h1.5v1.5h-1.5zM802.9 572.0h1.5v1.5h-1.5zM798.9 572.0h1.5v1.5h-1.5zM800.9 574.0h1.5v1.5h-1.5zM800.9 570.0h1.5v1.5h-1.5zM787.7 596.4h1.5v1.5h-1.5zM789.7 596.4h1.5v1.5h-1.5zM785.7 596.4h1.5v1.5h-1.5zM787.7 598.4h1.5v1.5h-1.5zM787.7 594.4h1.5v1.5h-1.5zM789.6 580.5h1.5v1.5h-1.5zM791.6 580.5h1.5v1.5h-1.5zM787.6 580.5h1.5v1.5h-1.5zM789.6 582.5h1.5v1.5h-1.5zM789.6 578.5h1.5v1.5h-1.5zM797.5 572.3h1.5v1.5h-1.5zM799.5 572.3h1.5v1.5h-1.5zM795.5 572.3h1.5v1.5h-1.5zM797.5 574.3h1.5v1.5h-1.5zM797.5 570.3h1.5v1.5h-1.5zM785.6 596.0h1.5v1.5h-1.5zM789.3 583.8h1.5v1.5h-1.5zM791.3 583.8h1.5v1.5h-1.5zM787.3 583.8h1.5v1.5h-1.5zM789.3 585.8h1.5v1.5h-1.5zM789.3 581.8h1.5v1.5h-1.5zM786.2 591.3h1.4v1.4h-1.4zM773.8 601.7h1.5v1.5h-1.5zM775.8 601.7h1.5v1.5h-1.5zM771.8 601.7h1.5v1.5h-1.5zM773.8 603.7h1.5v1.5h-1.5zM773.8 599.7h1.5v1.5h-1.5zM770.7 605.4h1.1v1.1h-1.1z"/>
<line x1="684.0" y1="695.8" x2="717.9" y2="665.0" stroke="#999" stroke-width="0.6"/>
<line x1="770.8" y1="609.2" x2="803.3" y2="571.6" stroke="#999" stroke-width="0.6"/>
<line x1="773.3" y1="618.3" x2="726.7" y2="666.7" stroke="#9fe3f0" stroke-width="1.5"/>
<path d="M726.7 666.7 q-1.5 -7 7.8 -8" stroke="#777" stroke-width="0.7" fill="none"/>
<path d="M734.5 658.6 q-1.5 -7 7.8 -8" stroke="#777" stroke-width="0.7" fill="none"/>
<path d="M742.2 650.6 q-1.5 -7 7.8 -8" stroke="#777" stroke-width="0.7" fill="none"/>
<path d="M750.0 642.5 q-1.5 -7 7.8 -8" stroke="#777" stroke-width="0.7" fill="none"/>
<path d="M757.8 634.4 q-1.5 -7 7.8 -8" stroke="#777" stroke-width="0.7" fill="none"/>
<path d="M765.5 626.4 q-1.5 -7 7.8 -8" stroke="#777" stroke-width="0.7" fill="none"/>
<line x1="804.2" y1="575.0" x2="836.0" y2="607.0" stroke="#9fe3f0" stroke-width="1.2"/>
<line x1="804.2" y1="575.0" x2="804.2" y2="620.0" stroke="#9fe3f0" stroke-width="2"/>
<line x1="793.0" y1="606.0" x2="803.0" y2="606.0" stroke="#888" stroke-width="0.5"/>
<line x1="793.0" y1="608.4" x2="803.0" y2="608.4" stroke="#888" stroke-width="0.5"/>
<line x1="793.0" y1="610.8" x2="803.0" y2="610.8" stroke="#888" stroke-width="0.5"/>
<line x1="793.0" y1="613.2" x2="803.0" y2="613.2" stroke="#888" stroke-width="0.5"/>
<line x1="793.0" y1="615.6" x2="803.0" y2="615.6" stroke="#888" stroke-width="0.5"/>
<line x1="793.0" y1="618.0" x2="803.0" y2="618.0" stroke="#888" stroke-width="0.5"/>
<polyline points="788.0,626.0 804.0,620.0 838.0,620.0 838.0,647.0" fill="none" stroke="#888" stroke-width="0.8"/>
<polyline points="791.0,624.0 810.0,645.0 825.0,650.0" fill="none" stroke="#888" stroke-width="0.7"/>
<line x1="808.0" y1="634.0" x2="812.0" y2="630.0" stroke="#777" stroke-width="0.6"/>
<line x1="810.5" y1="636.0" x2="814.5" y2="632.0" stroke="#777" stroke-width="0.6"/>
<line x1="813.0" y1="638.0" x2="817.0" y2="634.0" stroke="#777" stroke-width="0.6"/>
<line x1="815.5" y1="640.0" x2="819.5" y2="636.0" stroke="#777" stroke-width="0.6"/>
<line x1="818.0" y1="642.0" x2="822.0" y2="638.0" stroke="#777" stroke-width="0.6"/>
<line x1="820.5" y1="644.0" x2="824.5" y2="640.0" stroke="#777" stroke-width="0.6"/>
<polyline points="726.7,666.7 726.7,698.0 750.0,720.0" fill="none" stroke="#888" stroke-width="0.8"/>
<line x1="737.0" y1="705.0" x2="742.0" y2="701.0" stroke="#777" stroke-width="0.6"/>
<line x1="739.6" y1="707.7" x2="744.6" y2="703.7" stroke="#777" stroke-width="0.6"/>
<line x1="742.2" y1="710.4" x2="747.2" y2="706.4" stroke="#777" stroke-width="0.6"/>
<line x1="744.8" y1="713.1" x2="749.8" y2="709.1" stroke="#777" stroke-width="0.6"/>
<line x1="747.4" y1="715.8" x2="752.4" y2="711.8" stroke="#777" stroke-width="0.6"/>
<line x1="750.0" y1="718.5" x2="755.0" y2="714.5" stroke="#777" stroke-width="0.6"/>
<line x1="752.6" y1="721.2" x2="757.6" y2="717.2" stroke="#777" stroke-width="0.6"/>
<line x1="755.2" y1="723.9" x2="760.2" y2="719.9" stroke="#777" stroke-width="0.6"/>
<line x1="707.0" y1="719.0" x2="781.0" y2="795.0" stroke="#c7a6d6" stroke-width="0.8" stroke-dasharray="4 3"/>
<line x1="774.5" y1="699.0" x2="853.8" y2="699.0" stroke="#c7a6d6" stroke-width="0.8" stroke-dasharray="4 3"/>
<line x1="805.0" y1="653.5" x2="805.0" y2="721.0" stroke="#c7a6d6" stroke-width="0.8" stroke-dasharray="4 3"/>
<line x1="828.5" y1="795.0" x2="882.4" y2="741.0" stroke="#c7a6d6" stroke-width="0.8" stroke-dasharray="4 3"/>
<line x1="902.7" y1="721.0" x2="926.0" y2="697.0" stroke="#c7a6d6" stroke-width="0.8" stroke-dasharray="4 3"/>
<line x1="843.7" y1="823.8" x2="870.0" y2="847.0" stroke="#c7a6d6" stroke-width="0.8" stroke-dasharray="4 3"/>
<line x1="904.4" y1="884.5" x2="923.0" y2="903.0" stroke="#c7a6d6" stroke-width="0.8" stroke-dasharray="4 3"/>
<line x1="968.0" y1="770.6" x2="1004.0" y2="810.7" stroke="#c7a6d6" stroke-width="0.8" stroke-dasharray="4 3"/>
<line x1="1068.5" y1="874.8" x2="1104.6" y2="907.0" stroke="#c7a6d6" stroke-width="0.8" stroke-dasharray="4 3"/>
<line x1="972.0" y1="955.0" x2="992.0" y2="975.0" stroke="#c7a6d6" stroke-width="0.8" stroke-dasharray="4 3"/>
<line x1="823.0" y1="646.7" x2="851.7" y2="676.7" stroke="#c7a6d6" stroke-width="0.8" stroke-dasharray="4 3"/>
<line x1="919.0" y1="665.0" x2="928.0" y2="690.0" stroke="#c7a6d6" stroke-width="0.8" stroke-dasharray="4 3"/>
<line x1="836.0" y1="607.0" x2="890.0" y2="660.0" stroke="#c7a6d6" stroke-width="0.8" stroke-dasharray="4 3"/>
<rect x="484.4" y="702.5" width="19.0" height="39.5" fill="#3b6a35" stroke="#dfe8da" stroke-width="0.9"/>
<text class="n" x="493.9" y="726.4" font-size="11.5">8</text>
<rect x="484.4" y="742.0" width="19.0" height="20.2" fill="#3b6a35" stroke="#dfe8da" stroke-width="0.9"/>
<text class="n" x="493.9" y="756.2" font-size="11.5">10</text>
<rect x="484.4" y="762.2" width="19.0" height="47.5" fill="#3b6a35" stroke="#dfe8da" stroke-width="0.9"/>
<text class="n" x="493.9" y="790.1" font-size="11.5">12</text>
<rect x="484.4" y="809.7" width="19.0" height="66.9" fill="#3b6a35" stroke="#dfe8da" stroke-width="0.9"/>
<text class="n" x="493.9" y="847.3" font-size="11.5">14</text>
<rect x="484.4" y="876.6" width="19.0" height="59.8" fill="#3b6a35" stroke="#dfe8da" stroke-width="0.9"/>
<text class="n" x="493.9" y="910.6" font-size="11.5">15</text>
<rect x="536.0" y="700.2" width="59.6" height="19.0" fill="#3b6a35" stroke="#dfe8da" stroke-width="0.9"/>
<text class="n" x="565.8" y="713.8" font-size="11.5">7</text>
<rect x="595.6" y="700.2" width="20.4" height="19.0" fill="#3b6a35" stroke="#dfe8da" stroke-width="0.9"/>
<text class="n" x="605.8" y="713.8" font-size="11.5">6</text>
<rect x="616.0" y="700.2" width="33.1" height="19.0" fill="#3b6a35" stroke="#dfe8da" stroke-width="0.9"/>
<text class="n" x="632.5" y="713.8" font-size="11.5">5</text>
<rect x="651.0" y="701.0" width="14.7" height="16.0" fill="#eef8fb" stroke="#9cc" stroke-width="0.6"/>
<line x1="651.0" y1="701.0" x2="665.7" y2="717.0" stroke="#9cc" stroke-width="0.5"/>
<line x1="665.7" y1="701.0" x2="651.0" y2="717.0" stroke="#9cc" stroke-width="0.5"/>
<rect x="671.0" y="700.2" width="53.0" height="19.0" fill="#3b6a35" stroke="#dfe8da" stroke-width="0.9"/>
<text class="n" x="697.5" y="713.8" font-size="11.5">3</text>
<rect x="528.7" y="740.4" width="46.1" height="26.2" fill="#3b6a35" stroke="#dfe8da" stroke-width="0.9"/>
<text class="n" x="551.8" y="757.6" font-size="11.5">24</text>
<rect x="528.7" y="766.6" width="46.1" height="13.0" fill="#3b6a35" stroke="#dfe8da" stroke-width="0.9"/>
<text class="n" x="551.8" y="777.2" font-size="11.5">23</text>
<rect x="528.7" y="800.8" width="46.1" height="40.1" fill="#3b6a35" stroke="#dfe8da" stroke-width="0.9"/>
<text class="n" x="551.8" y="825.0" font-size="11.5">22</text>
<rect x="528.7" y="840.9" width="46.1" height="12.4" fill="#3b6a35" stroke="#dfe8da" stroke-width="0.9"/>
<text class="n" x="551.8" y="851.2" font-size="11.5">21</text>
<rect x="528.7" y="874.6" width="46.1" height="39.7" fill="#3b6a35" stroke="#dfe8da" stroke-width="0.9"/>
<text class="n" x="551.8" y="898.6" font-size="11.5">20</text>
<rect x="528.7" y="914.3" width="19.7" height="33.6" fill="#3b6a35" stroke="#dfe8da" stroke-width="0.9"/>
<text class="n" x="538.6" y="935.2" font-size="11.5">19</text>
<rect x="548.4" y="914.3" width="26.4" height="33.6" fill="#3b6a35" stroke="#dfe8da" stroke-width="0.9"/>
<text class="n" x="561.6" y="935.2" font-size="11.5">18</text>
<rect x="528.7" y="947.9" width="46.1" height="13.2" fill="#3b6a35" stroke="#dfe8da" stroke-width="0.9"/>
<text class="n" x="551.8" y="958.6" font-size="11.5">17</text>
<rect x="595.8" y="740.4" width="66.2" height="32.1" fill="#3b6a35" stroke="#dfe8da" stroke-width="0.9"/>
<text class="n" x="628.9" y="760.6" font-size="11.5">25</text>
<rect x="595.8" y="794.0" width="66.2" height="38.9" fill="#3b6a35" stroke="#dfe8da" stroke-width="0.9"/>
<text class="n" x="628.9" y="817.6" font-size="11.5">26</text>
<rect x="595.8" y="854.7" width="25.8" height="19.6" fill="#3b6a35" stroke="#dfe8da" stroke-width="0.9"/>
<text class="n" x="608.7" y="868.6" font-size="11.5">27</text>
<rect x="595.8" y="874.3" width="25.8" height="19.2" fill="#3b6a35" stroke="#dfe8da" stroke-width="0.9"/>
<text class="n" x="608.7" y="888.0" font-size="11.5">29</text>
<rect x="621.6" y="854.7" width="40.4" height="38.8" fill="#3b6a35" stroke="#dfe8da" stroke-width="0.9"/>
<text class="n" x="641.8" y="878.2" font-size="11.5">28</text>
<rect x="595.8" y="917.4" width="66.2" height="38.5" fill="#3b6a35" stroke="#dfe8da" stroke-width="0.9"/>
<text class="n" x="628.9" y="940.8" font-size="11.5">30</text>
<rect x="512.1" y="983.6" width="73.5" height="11.9" fill="#3b6a35" stroke="#dfe8da" stroke-width="0.9"/>
<text class="n" x="548.9" y="993.7" font-size="11.5">16</text>
<rect x="685.8" y="749.6" width="66.2" height="38.8" fill="#3b6a35" stroke="#dfe8da" stroke-width="0.9"/>
<text class="n" x="718.9" y="773.1" font-size="11.5">37</text>
<rect x="685.8" y="809.6" width="66.2" height="66.4" fill="#3b6a35" stroke="#dfe8da" stroke-width="0.9"/>
<text class="n" x="718.9" y="846.9" font-size="11.5">36</text>
<rect x="685.8" y="904.0" width="66.2" height="52.3" fill="#3b6a35" stroke="#dfe8da" stroke-width="0.9"/>
<text class="n" x="718.9" y="934.3" font-size="11.5">35</text>
<rect x="776.9" y="721.6" width="66.4" height="52.6" fill="#3b6a35" stroke="#dfe8da" stroke-width="0.9"/>
<text class="n" x="810.1" y="752.0" font-size="11.5">38</text>
<rect x="778.0" y="796.0" width="65.3" height="52.4" fill="#3b6a35" stroke="#dfe8da" stroke-width="0.9"/>
<text class="n" x="810.6" y="826.3" font-size="11.5">39</text>
<rect x="778.0" y="870.7" width="65.3" height="24.9" fill="#3b6a35" stroke="#dfe8da" stroke-width="0.9"/>
<text class="n" x="810.6" y="887.3" font-size="11.5">40</text>
<rect x="778.0" y="917.2" width="19.0" height="38.8" fill="#3b6a35" stroke="#dfe8da" stroke-width="0.9"/>
<text class="n" x="787.5" y="940.7" font-size="11.5">41</text>
<rect x="797.0" y="917.2" width="46.7" height="38.8" fill="#3b6a35" stroke="#dfe8da" stroke-width="0.9"/>
<text class="n" x="820.4" y="940.7" font-size="11.5">42</text>
<rect x="644.8" y="977.5" width="66.4" height="18.8" fill="#3b6a35" stroke="#dfe8da" stroke-width="0.9"/>
<text class="n" x="678.0" y="991.0" font-size="11.5">32</text>
<rect x="711.2" y="977.5" width="40.8" height="18.8" fill="#3b6a35" stroke="#dfe8da" stroke-width="0.9"/>
<text class="n" x="731.6" y="991.0" font-size="11.5">33</text>
<rect x="752.0" y="977.5" width="40.2" height="18.8" fill="#3b6a35" stroke="#dfe8da" stroke-width="0.9"/>
<text class="n" x="772.1" y="991.0" font-size="11.5">34</text>
<rect x="792.2" y="977.5" width="27.0" height="18.8" fill="#3b6a35" stroke="#dfe8da" stroke-width="0.9"/>
<text class="n" x="805.7" y="991.0" font-size="11.5">43</text>
<rect x="819.2" y="977.5" width="39.6" height="18.8" fill="#3b6a35" stroke="#dfe8da" stroke-width="0.9"/>
<text class="n" x="839.0" y="991.0" font-size="11.5">44</text>
<rect x="915.2" y="978.3" width="46.0" height="18.9" fill="#3b6a35" stroke="#dfe8da" stroke-width="0.9"/>
<text class="n" x="938.2" y="991.9" font-size="11.5">45</text>
<rect x="961.2" y="978.3" width="20.8" height="18.9" fill="#3b6a35" stroke="#dfe8da" stroke-width="0.9"/>
<text class="n" x="971.6" y="991.9" font-size="11.5">46</text>
<rect x="982.0" y="978.3" width="20.0" height="18.9" fill="#3b6a35" stroke="#dfe8da" stroke-width="0.9"/>
<text class="n" x="992.0" y="991.9" font-size="11.5">47</text>
<rect x="1002.0" y="978.3" width="34.4" height="18.9" fill="#3b6a35" stroke="#dfe8da" stroke-width="0.9"/>
<text class="n" x="1019.2" y="991.9" font-size="11.5">48</text>
<rect x="1036.4" y="978.3" width="26.0" height="18.9" fill="#3b6a35" stroke="#dfe8da" stroke-width="0.9"/>
<text class="n" x="1049.4" y="991.9" font-size="11.5">49</text>
<rect x="1062.4" y="978.3" width="19.9" height="18.9" fill="#3b6a35" stroke="#dfe8da" stroke-width="0.9"/>
<text class="n" x="1072.3" y="991.9" font-size="11.5">50</text>
<rect x="1082.3" y="978.3" width="21.5" height="18.9" fill="#3b6a35" stroke="#dfe8da" stroke-width="0.9"/>
<text class="n" x="1093.0" y="991.9" font-size="11.5">51</text>
<g transform="translate(801.7 646.4) rotate(40)"><rect x="-19" y="-6" width="38" height="12" fill="#3b6a35" stroke="#dfe8da" stroke-width="0.8"/><text x="0" y="4" font-size="11" fill="#eef3ea" text-anchor="middle" transform="rotate(-40)">1</text></g>
<g transform="translate(753.3 689.8) rotate(40)"><rect x="-19" y="-6" width="38" height="12" fill="#3b6a35" stroke="#dfe8da" stroke-width="0.8"/><text x="0" y="4" font-size="11" fill="#eef3ea" text-anchor="middle" transform="rotate(-40)">2</text></g>
<rect x="836.4" y="648.4" width="12.6" height="11.6" fill="#fff" stroke="#ccc" stroke-width="0.7"/>
<path d="M842.7 650.5 v7.5 M839 654.2 h7.5" stroke="#e02a2a" stroke-width="2.2"/>
<rect x="481.5" y="941.0" width="28.8" height="29.5" fill="#fff" stroke="#aaa" stroke-width="0.7"/>
<text x="496.0" y="959.0" font-size="8" fill="#d02020" text-anchor="middle" font-weight="bold">WC</text>
<rect x="481.5" y="970.5" width="28.8" height="29.5" fill="#fff" stroke="#aaa" stroke-width="0.7"/>
<text x="496.0" y="988.5" font-size="8" fill="#d02020" text-anchor="middle" font-weight="bold">WC</text>
<rect x="457.9" y="752.7" width="19.8" height="61.2" fill="#0d0d0d" stroke="none" stroke-width="1"/>
<line x1="457.9" y1="793.5" x2="477.7" y2="793.5" stroke="#555" stroke-width="0.6"/>
<text x="0" y="0" font-size="5" fill="#fff" text-anchor="middle" transform="translate(469.5 773) rotate(-90)">PRENSA / PRESS</text>
<text x="467.8" y="808.0" font-size="10" fill="#fff" text-anchor="middle" font-weight="bold">i</text>
<rect x="261.0" y="835.4" width="13.8" height="14.6" fill="#111" stroke="#888" stroke-width="0.5"/>
<text x="267.9" y="845.2" font-size="6.5" fill="#fff" text-anchor="middle" font-weight="bold">WC</text>
<rect x="274.8" y="835.4" width="13.8" height="14.6" fill="#111" stroke="#888" stroke-width="0.5"/>
<text x="281.7" y="845.2" font-size="6.5" fill="#fff" text-anchor="middle" font-weight="bold">WC</text>
<rect x="288.6" y="835.4" width="13.8" height="14.6" fill="#111" stroke="#888" stroke-width="0.5"/>
<text x="295.5" y="845.2" font-size="6.5" fill="#fff" text-anchor="middle" font-weight="bold">WC</text>
<rect x="302.4" y="835.4" width="13.8" height="14.6" fill="#111" stroke="#888" stroke-width="0.5"/>
<text x="309.3" y="845.2" font-size="6.5" fill="#fff" text-anchor="middle" font-weight="bold">WC</text>
<rect x="316.2" y="835.4" width="13.8" height="14.6" fill="#111" stroke="#888" stroke-width="0.5"/>
<text x="323.1" y="845.2" font-size="6.5" fill="#fff" text-anchor="middle" font-weight="bold">WC</text>
<rect x="330.0" y="835.4" width="13.8" height="14.6" fill="#111" stroke="#888" stroke-width="0.5"/>
<text x="336.9" y="845.2" font-size="6.5" fill="#fff" text-anchor="middle" font-weight="bold">WC</text>
<line x1="261.0" y1="850.0" x2="477.0" y2="850.0" stroke="#666" stroke-width="1.2"/>
<rect x="392.8" y="850.0" width="65.7" height="38.1" fill="#5cb860" stroke="none" stroke-width="1"/>
<text x="425.6" y="863.5" font-size="12" fill="#111" text-anchor="middle" font-weight="bold" textLength="57" lengthAdjust="spacingAndGlyphs">ENTRADA</text>
<text x="425.6" y="880.5" font-size="12" fill="#111" text-anchor="middle" font-weight="bold">ENTRY</text>
<path d="M407.5 920.7 L414 895.6 L420.5 920.7 Z" fill="#5cb860"/>
<line x1="414.0" y1="919.0" x2="414.0" y2="935.3" stroke="#5cb860" stroke-width="2.2"/>
<path d="M427.9 920.7 L434.4 895.6 L440.9 920.7 Z" fill="#5cb860"/>
<line x1="434.4" y1="919.0" x2="434.4" y2="935.3" stroke="#5cb860" stroke-width="2.2"/>
<rect x="261.0" y="866.3" width="20.0" height="122.7" fill="#5b3a33" stroke="none" stroke-width="1"/>
<line x1="261.0" y1="906.0" x2="281.0" y2="906.0" stroke="#8a7a75" stroke-width="0.5"/>
<line x1="261.0" y1="946.0" x2="281.0" y2="946.0" stroke="#8a7a75" stroke-width="0.5"/>
<text x="0" y="0" font-size="16" fill="#fff" stroke="#fff" stroke-width="0.7" text-anchor="middle" transform="translate(277 927.6) rotate(-90)" textLength="88" lengthAdjust="spacingAndGlyphs">TAQUILLAS</text>
<rect x="602.5" y="1017.2" width="31.2" height="15.6" fill="#e0302a" stroke="none" stroke-width="1"/>
<rect x="603.4" y="1018.1" width="11.9" height="13.8" fill="#fff" stroke="none" stroke-width="1"/>
<path d="M604.8 1019.5L604.8 1031.2M609.9 1022.5L608.4 1026.7L610.8 1029.1L610.3 1031.5M608.4 1026.7L607.0 1029.1L605.2 1029.1M609.3 1023.6L607.0 1024.7M609.3 1023.6L611.9 1025.3L613.5 1025.0" stroke="#e0302a" stroke-width="1.2" fill="none" stroke-linecap="round"/>
<circle cx="610.8" cy="1020.9" r="1.2" fill="#e0302a"/>
<path d="M618.3 1023.0H624.3V1020.0L630.9 1025.0L624.3 1030.0V1027.0H618.3Z" fill="#fff"/>
<rect x="874.6" y="1017.2" width="31.2" height="15.6" fill="#e0302a" stroke="none" stroke-width="1"/>
<rect x="875.5" y="1018.1" width="11.9" height="13.8" fill="#fff" stroke="none" stroke-width="1"/>
<path d="M876.9 1019.5L876.9 1031.2M882.0 1022.5L880.5 1026.7L882.9 1029.1L882.4 1031.5M880.5 1026.7L879.1 1029.1L877.3 1029.1M881.4 1023.6L879.1 1024.7M881.4 1023.6L884.0 1025.3L885.6 1025.0" stroke="#e0302a" stroke-width="1.2" fill="none" stroke-linecap="round"/>
<circle cx="882.9" cy="1020.9" r="1.2" fill="#e0302a"/>
<path d="M890.4 1023.0H896.4V1020.0L903.0 1025.0L896.4 1030.0V1027.0H890.4Z" fill="#fff"/>
<polyline points="1135.6,532.8 1135.6,591.2 1200.0,591.2" fill="none" stroke="#777" stroke-width="0.9"/>
<path d="M1179.5 591.2 v-5 q3 -1 5 4 q3 -5 6 -4 v5" stroke="#777" stroke-width="0.8" fill="none"/>
<line x1="1104.6" y1="641.4" x2="1200.0" y2="641.4" stroke="#777" stroke-width="0.8"/>
<rect x="1104.6" y="645.0" width="89.4" height="27.4" fill="none" stroke="#777" stroke-width="0.8"/>
<line x1="1125.5" y1="645.0" x2="1125.5" y2="672.4" stroke="#777" stroke-width="0.8"/>
<line x1="1194.0" y1="641.4" x2="1194.0" y2="675.0" stroke="#777" stroke-width="0.8"/>
<path d="M1178.5 675 q5 3 0 7 q5 3 0 7 q5 3 0 7" stroke="#777" stroke-width="0.8" fill="none"/>
<path d="M1186 697 v-4 q3 -1 5 3 q3 -4 6 -3 v4" stroke="#777" stroke-width="0.8" fill="none"/>
<polyline points="1200.0,697.4 1105.3,697.4 1105.3,919.0" fill="none" stroke="#777" stroke-width="0.9"/>
<polyline points="1132.7,889.4 1200.0,889.4" fill="none" stroke="#777" stroke-width="1.6"/>
<line x1="1105.3" y1="700.0" x2="1105.3" y2="917.0" stroke="#6cc45a" stroke-width="1.6" stroke-dasharray="2 1.2"/>
<polyline points="1105.3,697.7 1185.0,697.7 1185.0,757.0" fill="none" stroke="#777" stroke-width="0.9"/>
<rect x="1112.5" y="704.7" width="7" height="7" fill="none" stroke="#8a8a8a" stroke-width="0.7"/><path d="M1112.5 706.2a2 2 0 0 0 0 4M1119.5 706.2a2 2 0 0 1 0 4M1114.0 704.7a2 2 0 0 1 4 0M1114.0 711.7a2 2 0 0 0 4 0" fill="none" stroke="#8a8a8a" stroke-width="0.7"/>
<rect x="1131.7" y="704.7" width="7" height="7" fill="none" stroke="#8a8a8a" stroke-width="0.7"/><path d="M1131.7 706.2a2 2 0 0 0 0 4M1138.7 706.2a2 2 0 0 1 0 4M1133.2 704.7a2 2 0 0 1 4 0M1133.2 711.7a2 2 0 0 0 4 0" fill="none" stroke="#8a8a8a" stroke-width="0.7"/>
<rect x="1151.8" y="704.7" width="7" height="7" fill="none" stroke="#8a8a8a" stroke-width="0.7"/><path d="M1151.8 706.2a2 2 0 0 0 0 4M1158.8 706.2a2 2 0 0 1 0 4M1153.3 704.7a2 2 0 0 1 4 0M1153.3 711.7a2 2 0 0 0 4 0" fill="none" stroke="#8a8a8a" stroke-width="0.7"/>
<rect x="1173.9" y="704.7" width="7" height="7" fill="none" stroke="#8a8a8a" stroke-width="0.7"/><path d="M1173.9 706.2a2 2 0 0 0 0 4M1180.9 706.2a2 2 0 0 1 0 4M1175.4 704.7a2 2 0 0 1 4 0M1175.4 711.7a2 2 0 0 0 4 0" fill="none" stroke="#8a8a8a" stroke-width="0.7"/>
<rect x="1112.5" y="723.9" width="7" height="7" fill="none" stroke="#8a8a8a" stroke-width="0.7"/><path d="M1112.5 725.4a2 2 0 0 0 0 4M1119.5 725.4a2 2 0 0 1 0 4M1114.0 723.9a2 2 0 0 1 4 0M1114.0 730.9a2 2 0 0 0 4 0" fill="none" stroke="#8a8a8a" stroke-width="0.7"/>
<rect x="1131.7" y="723.9" width="7" height="7" fill="none" stroke="#8a8a8a" stroke-width="0.7"/><path d="M1131.7 725.4a2 2 0 0 0 0 4M1138.7 725.4a2 2 0 0 1 0 4M1133.2 723.9a2 2 0 0 1 4 0M1133.2 730.9a2 2 0 0 0 4 0" fill="none" stroke="#8a8a8a" stroke-width="0.7"/>
<rect x="1151.8" y="723.9" width="7" height="7" fill="none" stroke="#8a8a8a" stroke-width="0.7"/><path d="M1151.8 725.4a2 2 0 0 0 0 4M1158.8 725.4a2 2 0 0 1 0 4M1153.3 723.9a2 2 0 0 1 4 0M1153.3 730.9a2 2 0 0 0 4 0" fill="none" stroke="#8a8a8a" stroke-width="0.7"/>
<rect x="1173.9" y="723.9" width="7" height="7" fill="none" stroke="#8a8a8a" stroke-width="0.7"/><path d="M1173.9 725.4a2 2 0 0 0 0 4M1180.9 725.4a2 2 0 0 1 0 4M1175.4 723.9a2 2 0 0 1 4 0M1175.4 730.9a2 2 0 0 0 4 0" fill="none" stroke="#8a8a8a" stroke-width="0.7"/>
<rect x="1123.1" y="746.8" width="7" height="7" fill="none" stroke="#8a8a8a" stroke-width="0.7"/><path d="M1123.1 748.3a2 2 0 0 0 0 4M1130.1 748.3a2 2 0 0 1 0 4M1124.6 746.8a2 2 0 0 1 4 0M1124.6 753.8a2 2 0 0 0 4 0" fill="none" stroke="#8a8a8a" stroke-width="0.7"/>
<rect x="1143.2" y="746.8" width="7" height="7" fill="none" stroke="#8a8a8a" stroke-width="0.7"/><path d="M1143.2 748.3a2 2 0 0 0 0 4M1150.2 748.3a2 2 0 0 1 0 4M1144.7 746.8a2 2 0 0 1 4 0M1144.7 753.8a2 2 0 0 0 4 0" fill="none" stroke="#8a8a8a" stroke-width="0.7"/>
<rect x="1173.9" y="746.8" width="7" height="7" fill="none" stroke="#8a8a8a" stroke-width="0.7"/><path d="M1173.9 748.3a2 2 0 0 0 0 4M1180.9 748.3a2 2 0 0 1 0 4M1175.4 746.8a2 2 0 0 1 4 0M1175.4 753.8a2 2 0 0 0 4 0" fill="none" stroke="#8a8a8a" stroke-width="0.7"/>
<rect x="1159.0" y="751.5" width="2.5" height="2.5" fill="#888" stroke="none" stroke-width="1"/>
<path d="M1188 712 h5 q2 0 2 2 v4 q0 2 -2 2 h-5" fill="none" stroke="#8a8a8a" stroke-width="0.6"/>
<path d="M1188 723 h5 q2 0 2 2 v4 q0 2 -2 2 h-5" fill="none" stroke="#8a8a8a" stroke-width="0.6"/>
<path d="M1188 734 h5 q2 0 2 2 v4 q0 2 -2 2 h-5" fill="none" stroke="#8a8a8a" stroke-width="0.6"/>
<path d="M1188 745 h5 q2 0 2 2 v4 q0 2 -2 2 h-5" fill="none" stroke="#8a8a8a" stroke-width="0.6"/>
<path d="M1117 749 " fill="none"/><rect x="1117.5" y="775.5" width="5" height="5" fill="none" stroke="#8a8a8a" stroke-width="0.6" transform="rotate(20 1120 778)"/>
<path d="M1129.4 749 " fill="none"/><rect x="1129.9" y="775.5" width="5" height="5" fill="none" stroke="#8a8a8a" stroke-width="0.6" transform="rotate(20 1132.4 778)"/>
<path d="M1141.8 749 " fill="none"/><rect x="1142.3" y="775.5" width="5" height="5" fill="none" stroke="#8a8a8a" stroke-width="0.6" transform="rotate(20 1144.8 778)"/>
<path d="M1155.2 749 " fill="none"/><rect x="1155.7" y="775.5" width="5" height="5" fill="none" stroke="#8a8a8a" stroke-width="0.6" transform="rotate(20 1158.2 778)"/>
<rect x="1110.3" y="800.5" width="21.0" height="7.5" fill="none" stroke="#8a8a8a" stroke-width="0.7"/>
<path d="M1113.3 800.5a2 2 0 0 1 4 0M1113.3 808a2 2 0 0 0 4 0" fill="none" stroke="#8a8a8a" stroke-width="0.6"/>
<path d="M1124.3 800.5a2 2 0 0 1 4 0M1124.3 808a2 2 0 0 0 4 0" fill="none" stroke="#8a8a8a" stroke-width="0.6"/>
<path d="M1110.3 802.5a2 2 0 0 0 0 4M1131.3 802.5a2 2 0 0 1 0 4" fill="none" stroke="#8a8a8a" stroke-width="0.6"/>
<rect x="1136.2" y="800.5" width="21.0" height="7.5" fill="none" stroke="#8a8a8a" stroke-width="0.7"/>
<path d="M1139.2 800.5a2 2 0 0 1 4 0M1139.2 808a2 2 0 0 0 4 0" fill="none" stroke="#8a8a8a" stroke-width="0.6"/>
<path d="M1150.2 800.5a2 2 0 0 1 4 0M1150.2 808a2 2 0 0 0 4 0" fill="none" stroke="#8a8a8a" stroke-width="0.6"/>
<path d="M1136.2 802.5a2 2 0 0 0 0 4M1157.2 802.5a2 2 0 0 1 0 4" fill="none" stroke="#8a8a8a" stroke-width="0.6"/>
<ellipse cx="1193" cy="781" rx="6" ry="3.2" fill="none" stroke="#888" stroke-width="0.7"/>
<rect x="1185.0" y="792.0" width="15.0" height="3.0" fill="none" stroke="#888" stroke-width="0.6"/>
<line x1="1105.3" y1="809.7" x2="1158.2" y2="809.7" stroke="#888" stroke-width="0.6" stroke-dasharray="2 1.5"/>
<polyline points="1158.2,809.7 1187.0,809.7 1187.0,822.2 1158.2,822.2 1158.2,863.4 1192.7,879.7 1192.7,889.0" fill="none" stroke="#777" stroke-width="0.8"/>
<text x="1162.0" y="818.5" font-size="3.6" fill="#3aa03a" text-anchor="start" font-weight="normal">OFICINA</text>
<line x1="1192.7" y1="822.2" x2="1192.7" y2="849.0" stroke="#777" stroke-width="0.8"/>
<line x1="1192.7" y1="849.0" x2="1200.0" y2="849.0" stroke="#777" stroke-width="0.8"/>
<path d="M1195 812 q-4 4 0 8 M1200 812 q-4 4 0 8" stroke="#777" stroke-width="0.7" fill="none"/>
<polyline points="1177.0,825.0 1177.0,832.0 1186.0,832.0" fill="none" stroke="#9c9" stroke-width="0.6"/>
<path d="M1160 889 v-7 q4 -1 7 6 q3 -7 7 -6 v7" stroke="#777" stroke-width="0.8" fill="none"/>
<rect x="1143.5" y="887.5" width="7.5" height="8.0" fill="none" stroke="#c99" stroke-width="0.6"/>
<line x1="1108.0" y1="915.0" x2="1108.0" y2="880.0" stroke="#aaa" stroke-width="0.6" stroke-dasharray="2 2"/>
<path d="M1106 838 q3 2 0 4" stroke="#777" stroke-width="0.6" fill="none"/>
<path d="M1106 842 q3 2 0 4" stroke="#777" stroke-width="0.6" fill="none"/>
<path d="M1106 846 q3 2 0 4" stroke="#777" stroke-width="0.6" fill="none"/>
<path d="M1106 850 q3 2 0 4" stroke="#777" stroke-width="0.6" fill="none"/>
<path d="M1106 854 q3 2 0 4" stroke="#777" stroke-width="0.6" fill="none"/>
<path d="M1106 858 q3 2 0 4" stroke="#777" stroke-width="0.6" fill="none"/>
<polyline points="1105.7,918.8 1131.7,918.8" fill="none" stroke="#8a8a8a" stroke-width="1.6"/>
<polyline points="1132.7,889.4 1132.7,921.5 1161.0,921.5" fill="none" stroke="#8a8a8a" stroke-width="1.6"/>
<polyline points="1110.5,918.8 1110.5,934.5 1132.0,934.5" fill="none" stroke="#8a8a8a" stroke-width="1"/>
<line x1="1132.7" y1="927.0" x2="1132.7" y2="938.0" stroke="#8a8a8a" stroke-width="1.6"/>
<line x1="1132.7" y1="944.8" x2="1132.7" y2="1001.0" stroke="#8a8a8a" stroke-width="1.6"/>
<polyline points="1139.2,930.5 1139.2,986.0" fill="none" stroke="#8a8a8a" stroke-width="1"/>
<line x1="1139.2" y1="945.5" x2="1161.0" y2="945.5" stroke="#8a8a8a" stroke-width="1"/>
<line x1="1139.2" y1="981.7" x2="1161.0" y2="981.7" stroke="#8a8a8a" stroke-width="1"/>
<polyline points="1110.5,1000.2 1110.5,962.6 1132.0,962.6" fill="none" stroke="#8a8a8a" stroke-width="1"/>
<path d="M1134 930 q5 2 4 8 M1137 968 q5 2 3 6 l-3 3 q-2 -3 -4 -1 M1133 977 q5 2 4 10" stroke="#888" stroke-width="0.8" fill="none"/>
<line x1="1161.1" y1="920.0" x2="1161.1" y2="1002.0" stroke="#9fe3f0" stroke-width="1.3"/>
<line x1="1161.1" y1="920.0" x2="1200.0" y2="920.0" stroke="#9fe3f0" stroke-width="1.3"/>
<text x="1148.8" y="937.3" font-size="7.8" fill="#d02020" text-anchor="middle" font-weight="bold">WC</text>
<text x="1148.8" y="962.8" font-size="7.8" fill="#d02020" text-anchor="middle" font-weight="bold">WC</text>
<text x="1120.0" y="988.7" font-size="7.8" fill="#d02020" text-anchor="middle" font-weight="bold">WC</text>
<text x="1148.8" y="990.0" font-size="7.8" fill="#d02020" text-anchor="middle" font-weight="bold">WC</text>
<text x="1148.8" y="994.5" font-size="3.2" fill="#d02020" text-anchor="middle" font-weight="normal" textLength="26" lengthAdjust="spacingAndGlyphs">Minusválidos</text>
</svg></body></html>
